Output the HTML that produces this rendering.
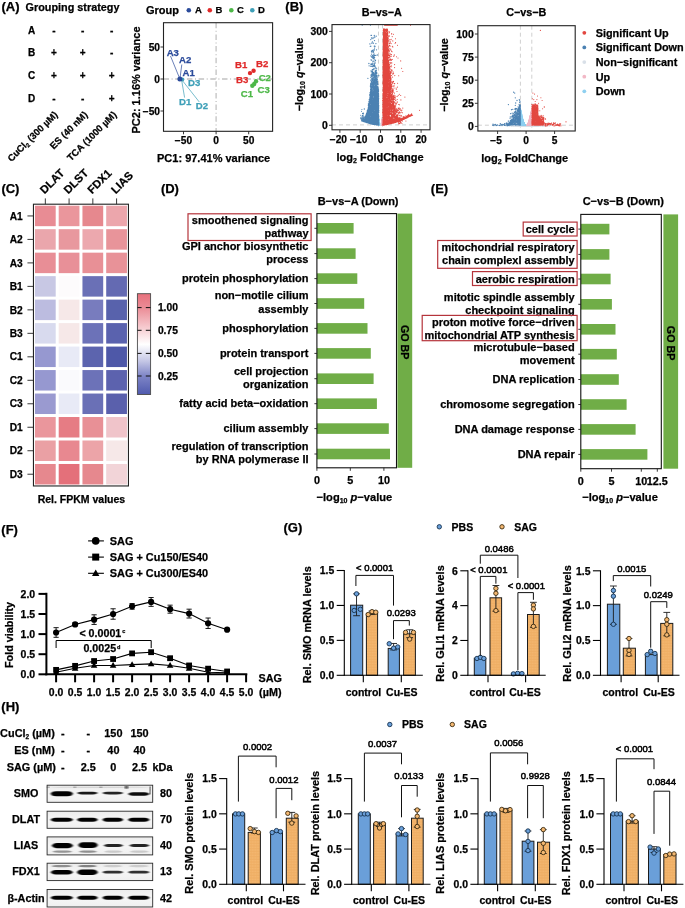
<!DOCTYPE html>
<html><head><meta charset="utf-8"><title>Figure</title>
<style>html,body{margin:0;padding:0;background:#fff}svg{display:block;opacity:0.9999}text{font-family:"Liberation Sans",Arial,sans-serif;stroke-width:0.25px;stroke-linejoin:round}</style>
</head><body>
<svg width="685" height="908" viewBox="0 0 685 908">
<defs>
<pattern id="ora" width="1.6" height="1.6" patternUnits="userSpaceOnUse"><rect width="1.6" height="1.6" fill="#F4B872"/><rect width="1.6" height="0.5" fill="#EDA85C"/><rect width="0.5" height="1.6" fill="#F0AE64"/></pattern>
<linearGradient id="cb" x1="0" y1="0" x2="0" y2="1"><stop offset="0.000" stop-color="#E8707C"/><stop offset="0.140" stop-color="#EB8C96"/><stop offset="0.321" stop-color="#F5C6CB"/><stop offset="0.502" stop-color="#FFFFFF"/><stop offset="0.665" stop-color="#C6C8E6"/><stop offset="0.819" stop-color="#7D84C6"/><stop offset="1.000" stop-color="#4F5AAE"/></linearGradient>
</defs>
<rect width="685" height="908" fill="#fff"/>
<text x="1.50" y="11.00" font-size="13" text-anchor="start" font-weight="bold" fill="#000" stroke="#000">(A)</text>
<text x="25.50" y="11.00" font-size="10.85" text-anchor="start" font-weight="bold" fill="#000" stroke="#000">Grouping strategy</text>
<text x="28.10" y="33.88" font-size="10" text-anchor="start" font-weight="bold" fill="#000" stroke="#000">A</text>
<text x="53.80" y="33.58" font-size="10" text-anchor="middle" font-weight="bold" fill="#000" stroke="#000">-</text>
<text x="82.60" y="33.58" font-size="10" text-anchor="middle" font-weight="bold" fill="#000" stroke="#000">-</text>
<text x="111.60" y="33.58" font-size="10" text-anchor="middle" font-weight="bold" fill="#000" stroke="#000">-</text>
<text x="28.10" y="56.38" font-size="10" text-anchor="start" font-weight="bold" fill="#000" stroke="#000">B</text>
<text x="53.80" y="56.38" font-size="10" text-anchor="middle" font-weight="bold" fill="#000" stroke="#000">+</text>
<text x="82.60" y="56.38" font-size="10" text-anchor="middle" font-weight="bold" fill="#000" stroke="#000">+</text>
<text x="111.60" y="56.08" font-size="10" text-anchor="middle" font-weight="bold" fill="#000" stroke="#000">-</text>
<text x="28.10" y="78.88" font-size="10" text-anchor="start" font-weight="bold" fill="#000" stroke="#000">C</text>
<text x="53.80" y="78.88" font-size="10" text-anchor="middle" font-weight="bold" fill="#000" stroke="#000">+</text>
<text x="82.60" y="78.88" font-size="10" text-anchor="middle" font-weight="bold" fill="#000" stroke="#000">+</text>
<text x="111.60" y="78.88" font-size="10" text-anchor="middle" font-weight="bold" fill="#000" stroke="#000">+</text>
<text x="28.10" y="101.88" font-size="10" text-anchor="start" font-weight="bold" fill="#000" stroke="#000">D</text>
<text x="53.80" y="101.58" font-size="10" text-anchor="middle" font-weight="bold" fill="#000" stroke="#000">-</text>
<text x="82.60" y="101.58" font-size="10" text-anchor="middle" font-weight="bold" fill="#000" stroke="#000">-</text>
<text x="111.60" y="101.88" font-size="10" text-anchor="middle" font-weight="bold" fill="#000" stroke="#000">+</text>
<text x="58.30" y="115.30" font-size="9.5" text-anchor="end" font-weight="bold" fill="#000" stroke="#000" transform="rotate(-45 58.30 115.30)">CuCl<tspan font-size="6" dy="1.8">2</tspan><tspan dy="-1.8"> (300 µM)</tspan></text>
<text x="88.20" y="115.30" font-size="9.5" text-anchor="end" font-weight="bold" fill="#000" stroke="#000" transform="rotate(-45 88.20 115.30)">ES (40 nM)</text>
<text x="117.20" y="115.30" font-size="9.5" text-anchor="end" font-weight="bold" fill="#000" stroke="#000" transform="rotate(-45 117.20 115.30)">TCA (1000 µM)</text>
<line x1="216.10" y1="22.70" x2="216.10" y2="131.30" stroke="#c2c2c2" stroke-width="1.3" stroke-dasharray="5.5 2.6 1 2.6"/>
<line x1="163.50" y1="79.00" x2="272.60" y2="79.00" stroke="#c2c2c2" stroke-width="1.3" stroke-dasharray="5.5 2.6 1 2.6"/>
<line x1="179.90" y1="79.00" x2="170.50" y2="56.00" stroke="#2B4B9B" stroke-width="0.7"/>
<line x1="179.90" y1="79.00" x2="181.80" y2="64.50" stroke="#2B4B9B" stroke-width="0.7"/>
<line x1="181.50" y1="79.40" x2="184.60" y2="97.60" stroke="#3FA0B8" stroke-width="0.7"/>
<line x1="181.50" y1="79.40" x2="199.30" y2="102.00" stroke="#3FA0B8" stroke-width="0.7"/>
<circle cx="182.30" cy="79.60" r="2.0" fill="#3FA0B8" stroke="none" stroke-width="1"/>
<circle cx="179.90" cy="79.00" r="2.5" fill="#2B4B9B" stroke="none" stroke-width="1"/>
<circle cx="250.00" cy="73.10" r="2.2" fill="#E02B2B" stroke="none" stroke-width="1"/>
<circle cx="253.60" cy="70.80" r="2.2" fill="#E02B2B" stroke="none" stroke-width="1"/>
<circle cx="252.30" cy="85.70" r="2.2" fill="#4DB848" stroke="none" stroke-width="1"/>
<circle cx="254.20" cy="84.00" r="2.2" fill="#4DB848" stroke="none" stroke-width="1"/>
<circle cx="256.00" cy="81.30" r="2.2" fill="#4DB848" stroke="none" stroke-width="1"/>
<text x="172.80" y="55.94" font-size="9.6" text-anchor="middle" font-weight="bold" fill="#2B4B9B" stroke="#2B4B9B">A3</text>
<text x="185.20" y="62.94" font-size="9.6" text-anchor="middle" font-weight="bold" fill="#2B4B9B" stroke="#2B4B9B">A2</text>
<text x="188.70" y="75.74" font-size="9.6" text-anchor="middle" font-weight="bold" fill="#2B4B9B" stroke="#2B4B9B">A1</text>
<text x="194.10" y="86.04" font-size="9.6" text-anchor="middle" font-weight="bold" fill="#3FA0B8" stroke="#3FA0B8">D3</text>
<text x="185.20" y="105.44" font-size="9.6" text-anchor="middle" font-weight="bold" fill="#3FA0B8" stroke="#3FA0B8">D1</text>
<text x="201.90" y="108.94" font-size="9.6" text-anchor="middle" font-weight="bold" fill="#3FA0B8" stroke="#3FA0B8">D2</text>
<text x="241.10" y="68.24" font-size="9.6" text-anchor="middle" font-weight="bold" fill="#E02B2B" stroke="#E02B2B">B1</text>
<text x="262.10" y="67.34" font-size="9.6" text-anchor="middle" font-weight="bold" fill="#E02B2B" stroke="#E02B2B">B2</text>
<text x="242.20" y="83.24" font-size="9.6" text-anchor="middle" font-weight="bold" fill="#E02B2B" stroke="#E02B2B">B3</text>
<text x="264.80" y="80.94" font-size="9.6" text-anchor="middle" font-weight="bold" fill="#4DB848" stroke="#4DB848">C2</text>
<text x="263.70" y="92.64" font-size="9.6" text-anchor="middle" font-weight="bold" fill="#4DB848" stroke="#4DB848">C3</text>
<text x="246.90" y="96.64" font-size="9.6" text-anchor="middle" font-weight="bold" fill="#4DB848" stroke="#4DB848">C1</text>
<rect x="163.50" y="22.70" width="109.10" height="108.60" fill="none" stroke="#222" stroke-width="1.1"/>
<line x1="183.50" y1="131.30" x2="183.50" y2="134.30" stroke="#222" stroke-width="0.9"/>
<text x="183.50" y="144.25" font-size="10.2" text-anchor="middle" font-weight="bold" fill="#000" stroke="#000">−50</text>
<line x1="160.50" y1="111.00" x2="163.50" y2="111.00" stroke="#222" stroke-width="0.9"/>
<text x="160.00" y="114.65" font-size="10.2" text-anchor="end" font-weight="bold" fill="#000" stroke="#000">−50</text>
<line x1="216.10" y1="131.30" x2="216.10" y2="134.30" stroke="#222" stroke-width="0.9"/>
<text x="216.10" y="144.25" font-size="10.2" text-anchor="middle" font-weight="bold" fill="#000" stroke="#000">0</text>
<line x1="160.50" y1="79.00" x2="163.50" y2="79.00" stroke="#222" stroke-width="0.9"/>
<text x="160.00" y="82.65" font-size="10.2" text-anchor="end" font-weight="bold" fill="#000" stroke="#000">0</text>
<line x1="248.70" y1="131.30" x2="248.70" y2="134.30" stroke="#222" stroke-width="0.9"/>
<text x="248.70" y="144.25" font-size="10.2" text-anchor="middle" font-weight="bold" fill="#000" stroke="#000">50</text>
<line x1="160.50" y1="47.00" x2="163.50" y2="47.00" stroke="#222" stroke-width="0.9"/>
<text x="160.00" y="50.65" font-size="10.2" text-anchor="end" font-weight="bold" fill="#000" stroke="#000">50</text>
<text x="213.60" y="162.30" font-size="11" text-anchor="middle" font-weight="bold" fill="#000" stroke="#000">PC1: 97.41% variance</text>
<text x="140.20" y="80.00" font-size="11" text-anchor="middle" font-weight="bold" fill="#000" stroke="#000" transform="rotate(-90 140.20 80.00)">PC2: 1.16% variance</text>
<text x="146.00" y="13.54" font-size="11" text-anchor="start" font-weight="bold" fill="#000" stroke="#000">Group</text>
<circle cx="188.80" cy="10.20" r="2.3" fill="#2B4B9B" stroke="none" stroke-width="1"/>
<text x="195.00" y="13.30" font-size="9.5" text-anchor="start" font-weight="bold" fill="#000" stroke="#000">A</text>
<circle cx="209.80" cy="10.20" r="2.3" fill="#E02B2B" stroke="none" stroke-width="1"/>
<text x="215.60" y="13.30" font-size="9.5" text-anchor="start" font-weight="bold" fill="#000" stroke="#000">B</text>
<circle cx="231.30" cy="10.20" r="2.3" fill="#4DB848" stroke="none" stroke-width="1"/>
<text x="237.00" y="13.30" font-size="9.5" text-anchor="start" font-weight="bold" fill="#000" stroke="#000">C</text>
<circle cx="252.30" cy="10.20" r="2.3" fill="#3FA0B8" stroke="none" stroke-width="1"/>
<text x="258.00" y="13.30" font-size="9.5" text-anchor="start" font-weight="bold" fill="#000" stroke="#000">D</text>
<text x="285.30" y="11.00" font-size="13" text-anchor="start" font-weight="bold" fill="#000" stroke="#000">(B)</text>
<line x1="332.00" y1="124.89" x2="430.00" y2="124.89" stroke="#d0d0d0" stroke-width="1" stroke-dasharray="4 3"/>
<line x1="378.47" y1="24.60" x2="378.47" y2="129.80" stroke="#d0d0d0" stroke-width="1" stroke-dasharray="4 3"/>
<line x1="382.53" y1="24.60" x2="382.53" y2="129.80" stroke="#d0d0d0" stroke-width="1" stroke-dasharray="4 3"/>
<path d="M379.8 124.9h.01M381.1 125.1h.01M380.6 125.2h.01M378.7 120.0h.01M378.6 120.5h.01M378.8 124.4h.01M380.2 124.7h.01M379.0 123.5h.01M381.0 123.8h.01M380.8 125.0h.01M382.4 124.8h.01M382.0 123.1h.01M379.1 124.4h.01M379.7 122.9h.01M379.2 121.6h.01M381.1 124.6h.01M380.7 125.3h.01M378.7 123.2h.01M381.2 124.1h.01M379.7 123.6h.01M380.3 125.2h.01M381.7 121.3h.01M379.5 122.7h.01M380.6 125.2h.01M381.4 124.2h.01M382.4 123.9h.01M380.2 124.7h.01M379.1 121.7h.01M378.6 117.9h.01M381.6 122.5h.01M382.0 122.7h.01M381.3 123.5h.01M380.8 124.9h.01M381.9 118.7h.01M380.4 125.2h.01M378.7 118.1h.01M381.1 123.3h.01M381.8 123.5h.01M380.0 124.4h.01M378.6 119.9h.01M379.2 124.5h.01M378.7 117.3h.01M379.0 123.3h.01M380.1 124.2h.01M378.8 121.0h.01M380.7 125.0h.01M381.8 119.8h.01M379.6 123.8h.01M379.9 123.6h.01M382.4 123.6h.01M379.2 123.8h.01M379.4 122.9h.01M380.9 125.1h.01M378.5 120.1h.01M380.0 124.4h.01M382.3 117.8h.01M380.6 125.3h.01M381.2 125.2h.01M382.1 118.3h.01M382.0 118.8h.01M380.1 124.8h.01M378.9 119.7h.01M378.7 124.6h.01M379.3 124.4h.01M379.9 125.2h.01M378.5 123.4h.01M378.9 122.1h.01M378.6 115.2h.01M381.0 125.1h.01M379.5 123.8h.01M379.9 125.1h.01M381.9 118.1h.01M380.4 125.2h.01M378.8 124.3h.01M379.9 124.7h.01M381.8 124.2h.01M378.6 114.2h.01M380.6 125.3h.01M380.7 125.3h.01M380.6 125.1h.01M382.0 119.9h.01M379.5 123.8h.01M379.1 120.0h.01M380.6 125.1h.01M379.8 124.7h.01M381.8 119.2h.01M381.9 119.3h.01M381.8 120.6h.01M379.4 122.7h.01M379.9 125.2h.01M378.6 122.1h.01M379.5 122.4h.01M382.4 120.4h.01M382.3 115.2h.01M382.3 121.3h.01M379.4 124.1h.01M379.3 124.1h.01M381.0 123.9h.01M381.9 121.9h.01M381.1 123.6h.01M378.8 119.0h.01M382.2 118.0h.01M381.5 123.2h.01M379.2 120.2h.01M379.8 123.4h.01M382.4 120.8h.01M380.1 124.3h.01M381.4 124.7h.01M379.0 124.1h.01M382.1 117.9h.01M379.1 119.1h.01M382.5 117.6h.01M379.9 124.2h.01M379.0 125.2h.01M382.4 117.9h.01M380.6 125.2h.01M380.2 124.8h.01M381.8 123.9h.01M379.5 124.0h.01M379.4 122.6h.01M379.5 123.5h.01M379.0 118.1h.01M379.9 124.4h.01M380.8 124.5h.01M380.2 124.6h.01M380.5 125.3h.01M380.6 125.3h.01M380.3 125.2h.01M378.5 115.4h.01M379.2 122.2h.01M381.4 123.2h.01M379.8 124.0h.01M380.7 124.9h.01M378.9 120.4h.01M379.5 124.1h.01M381.6 122.7h.01M380.8 124.9h.01M382.2 121.1h.01M381.0 124.6h.01M380.5 125.3h.01M380.3 125.1h.01M380.4 125.2h.01M381.3 122.5h.01M382.3 122.6h.01M380.7 124.8h.01M381.9 124.3h.01M379.0 121.7h.01M378.8 122.9h.01M378.8 118.7h.01M381.7 120.5h.01M379.1 120.1h.01M381.2 125.0h.01M382.1 117.2h.01M379.4 120.3h.01M380.1 124.7h.01M382.5 115.2h.01M379.1 122.3h.01M380.6 125.3h.01M379.3 123.4h.01M381.4 125.2h.01M380.7 125.1h.01M378.5 121.4h.01M381.0 124.5h.01M378.7 115.3h.01M381.7 120.0h.01M378.9 123.0h.01M378.6 116.7h.01M379.6 124.8h.01M380.2 124.6h.01M381.8 123.7h.01M379.1 118.5h.01M380.8 124.8h.01M378.8 124.8h.01M381.3 124.1h.01M378.8 116.0h.01M381.0 123.9h.01M378.8 117.2h.01M378.7 116.6h.01M380.3 125.2h.01M380.7 124.9h.01M379.6 124.8h.01M380.6 125.3h.01M378.9 123.9h.01M378.7 123.1h.01M379.7 124.4h.01M381.6 123.9h.01M380.5 125.3h.01M379.9 125.3h.01M379.5 125.2h.01M381.4 123.1h.01M379.2 122.4h.01M382.3 124.2h.01M381.8 122.5h.01M380.5 125.3h.01M380.1 124.7h.01M381.3 122.5h.01M379.9 123.5h.01M381.3 123.2h.01M380.1 124.9h.01M378.7 123.9h.01M378.8 117.9h.01M379.5 124.6h.01M378.8 117.3h.01M382.0 119.9h.01M379.6 124.4h.01M379.7 123.8h.01M379.1 122.1h.01M379.5 121.4h.01M382.4 119.0h.01M379.5 120.9h.01M379.7 124.3h.01M378.5 120.5h.01M380.4 125.2h.01M379.3 122.4h.01M378.5 122.0h.01M378.8 121.6h.01M378.6 125.1h.01M379.7 124.6h.01M380.8 124.8h.01M381.5 122.4h.01M381.4 122.2h.01M380.1 124.9h.01M382.5 123.5h.01M381.4 122.9h.01M378.6 116.2h.01M382.1 119.8h.01M381.4 122.0h.01M379.0 121.3h.01M380.5 125.3h.01M381.7 120.4h.01M380.8 124.5h.01M381.2 123.4h.01M379.4 125.1h.01M379.0 122.5h.01M378.9 117.9h.01M380.7 125.0h.01M381.0 124.2h.01M380.5 125.3h.01M381.7 121.0h.01M380.5 125.3h.01M381.1 125.2h.01M381.5 124.3h.01M378.8 122.7h.01M381.4 124.5h.01M381.5 121.2h.01M380.5 125.3h.01M380.4 125.2h.01M381.6 122.3h.01M381.1 125.2h.01M379.1 123.4h.01" stroke="#D9E0E8" stroke-width="1.0" stroke-linecap="round" fill="none" opacity="1"/>
<path d="M379.2 123.6h.01M379.0 125.2h.01M378.5 123.8h.01M379.2 121.4h.01M379.2 123.7h.01M379.0 122.7h.01M378.9 124.6h.01M379.4 124.2h.01M379.5 120.0h.01M378.5 122.7h.01M379.3 119.8h.01M378.9 123.8h.01M378.7 120.0h.01M378.7 122.0h.01M378.6 122.3h.01M379.4 124.6h.01M379.3 122.4h.01M379.4 121.3h.01M378.7 120.2h.01M379.0 125.2h.01M378.5 122.5h.01M378.9 123.6h.01M378.6 123.4h.01M378.8 120.6h.01M378.5 121.1h.01M379.3 124.6h.01M379.4 121.3h.01M379.4 123.7h.01M378.8 123.1h.01M379.5 122.0h.01M378.8 122.9h.01M378.7 125.0h.01M378.6 120.6h.01M378.8 120.0h.01M378.7 123.8h.01M379.0 124.2h.01M378.8 119.9h.01M379.4 120.7h.01M379.1 120.2h.01M379.4 122.2h.01M379.2 125.0h.01M379.2 122.8h.01M379.2 121.7h.01M378.8 125.0h.01M379.4 124.6h.01M378.9 123.4h.01M378.8 121.1h.01M379.5 123.8h.01M379.1 123.6h.01M379.0 123.1h.01M378.6 124.4h.01M378.7 120.2h.01M379.0 124.1h.01M379.4 119.7h.01M378.9 124.5h.01M378.7 124.8h.01M378.8 124.8h.01M378.7 123.8h.01M379.0 120.3h.01M379.2 123.0h.01M378.9 122.3h.01M378.9 123.4h.01M378.5 123.7h.01M379.5 124.6h.01M379.0 121.8h.01M379.3 124.1h.01M378.7 123.9h.01M378.9 122.8h.01M379.4 120.5h.01M379.4 125.2h.01M378.5 121.3h.01M379.4 122.6h.01M379.1 125.3h.01M378.9 120.1h.01M379.3 120.5h.01M379.5 123.9h.01M378.6 124.4h.01M379.0 121.5h.01M379.4 121.2h.01M379.1 121.0h.01M378.9 122.2h.01M378.5 120.9h.01M378.7 120.1h.01M379.1 123.6h.01M378.6 123.9h.01M379.1 121.4h.01M378.6 124.9h.01M379.0 122.0h.01M378.9 124.0h.01M379.1 125.2h.01M378.8 122.7h.01M379.4 121.7h.01M379.4 122.6h.01M378.7 123.9h.01M379.4 121.3h.01M378.8 125.2h.01M379.0 121.5h.01M378.9 123.9h.01M379.1 120.1h.01M378.7 125.1h.01M378.8 122.9h.01M379.2 124.2h.01M379.3 121.1h.01M379.0 124.1h.01M379.5 123.5h.01M379.3 124.0h.01M378.7 121.0h.01M378.8 119.9h.01M379.0 124.2h.01M378.7 123.0h.01M379.1 120.0h.01M378.6 123.1h.01M378.7 119.8h.01M378.6 125.0h.01M378.5 123.1h.01M379.4 120.3h.01M379.2 119.7h.01M379.4 123.4h.01M378.7 120.0h.01M379.2 125.1h.01" stroke="#8FD0F0" stroke-width="0.9" stroke-linecap="round" fill="none" opacity="1"/>
<path d="M382.2 123.2h.01M381.9 123.4h.01M381.7 125.3h.01M381.8 123.3h.01M382.5 124.6h.01M382.5 124.1h.01M381.9 120.7h.01M382.3 122.9h.01M381.6 122.6h.01M381.9 120.1h.01M381.7 123.2h.01M382.4 125.1h.01M381.9 120.7h.01M382.3 125.1h.01M381.6 124.9h.01M382.4 123.9h.01M382.3 120.2h.01M381.9 123.8h.01M382.5 121.8h.01M381.8 121.3h.01M381.8 123.7h.01M381.5 121.0h.01M382.4 121.7h.01M382.5 125.2h.01M381.8 122.6h.01M382.5 119.9h.01M381.9 123.9h.01M382.0 122.5h.01M382.5 124.3h.01M382.3 121.1h.01M382.4 120.9h.01M382.1 123.5h.01M381.8 123.3h.01M382.3 124.9h.01M381.7 121.1h.01M381.8 124.9h.01M381.5 122.2h.01M381.8 119.8h.01M382.4 119.7h.01M381.8 124.8h.01M381.6 122.5h.01M382.2 122.8h.01M381.8 123.0h.01M382.1 121.5h.01M382.3 120.5h.01M382.2 124.6h.01M382.4 123.6h.01M382.1 123.2h.01M382.3 124.2h.01M381.8 123.9h.01M381.7 120.3h.01M382.1 123.5h.01M381.9 119.7h.01M382.0 124.0h.01M382.3 121.6h.01M382.5 124.7h.01M382.0 120.7h.01M382.4 120.1h.01M381.6 123.6h.01M381.6 124.2h.01M382.5 122.0h.01M382.5 123.2h.01M382.4 122.8h.01M381.8 120.9h.01M382.5 124.7h.01M382.1 121.8h.01M381.7 123.2h.01M381.7 124.2h.01M381.8 121.9h.01M382.2 124.2h.01M381.5 123.5h.01M382.2 124.3h.01M381.8 124.2h.01M382.3 122.2h.01M381.6 124.7h.01M381.9 122.2h.01M382.2 124.8h.01M381.7 121.4h.01M381.9 123.7h.01M381.8 119.9h.01M381.8 122.1h.01M381.9 123.0h.01M382.4 119.7h.01M381.9 124.2h.01M382.3 124.2h.01M381.5 120.2h.01M381.9 120.7h.01M381.9 120.3h.01M382.0 124.4h.01M381.5 122.2h.01M382.2 120.2h.01M381.6 121.8h.01M381.9 122.5h.01M381.7 123.7h.01M382.0 120.1h.01M381.6 122.5h.01M382.3 119.9h.01M381.7 124.6h.01M382.5 119.8h.01M382.0 125.0h.01M382.5 123.1h.01M382.4 121.8h.01M382.4 124.4h.01M382.3 124.0h.01M381.9 120.5h.01M382.4 124.3h.01M381.7 123.0h.01M382.0 123.1h.01M381.6 123.9h.01M382.3 120.2h.01M381.6 122.1h.01M382.3 125.1h.01M382.4 124.6h.01M382.1 122.2h.01M382.2 123.6h.01M381.9 122.0h.01M381.9 121.6h.01M382.0 122.8h.01M381.5 121.8h.01M382.0 124.0h.01" stroke="#F2B8C6" stroke-width="0.9" stroke-linecap="round" fill="none" opacity="1"/>
<path d="M368.3 118.3h.01M378.1 107.9h.01M376.0 89.6h.01M378.5 109.4h.01M378.1 114.0h.01M378.0 109.4h.01M375.8 109.1h.01M362.1 118.6h.01M377.2 119.9h.01M363.1 121.1h.01M365.4 119.1h.01M377.5 118.0h.01M375.7 122.3h.01M368.8 109.1h.01M377.0 95.0h.01M376.8 80.3h.01M370.6 92.0h.01M372.1 92.5h.01M374.8 88.5h.01M371.0 121.6h.01M369.3 112.0h.01M375.6 113.8h.01M376.5 119.3h.01M371.8 103.0h.01M377.6 106.6h.01M376.2 120.0h.01M366.4 114.1h.01M378.3 100.7h.01M376.8 79.8h.01M369.0 109.5h.01M377.3 89.8h.01M375.4 72.4h.01M376.3 87.8h.01M377.5 112.3h.01M374.6 113.6h.01M378.2 97.1h.01M374.2 86.8h.01M376.7 104.9h.01M373.5 75.6h.01M374.5 114.4h.01M367.2 122.3h.01M375.3 110.2h.01M378.3 96.7h.01M368.1 110.9h.01M377.4 90.6h.01M369.2 114.2h.01M376.8 92.9h.01M366.3 122.1h.01M378.7 116.7h.01M371.3 107.6h.01M377.3 107.1h.01M376.1 80.6h.01M370.3 117.8h.01M374.2 98.3h.01M371.1 106.4h.01M366.9 114.2h.01M371.3 95.5h.01M372.6 96.7h.01M367.0 122.0h.01M370.6 96.8h.01M371.0 113.8h.01M369.8 107.8h.01M367.6 116.1h.01M376.4 111.7h.01M374.4 95.2h.01M378.6 90.8h.01M371.0 87.8h.01M377.4 79.0h.01M371.5 116.0h.01M374.0 83.9h.01M371.3 103.2h.01M371.4 83.9h.01M362.0 120.8h.01M372.1 79.9h.01M370.6 119.8h.01M377.9 99.5h.01M372.9 87.0h.01M378.6 105.9h.01M376.9 97.8h.01M369.3 101.1h.01M369.8 109.1h.01M375.3 105.4h.01M375.2 118.6h.01M371.1 95.5h.01M372.2 86.4h.01M372.6 94.6h.01M378.3 124.7h.01M377.2 119.3h.01M376.1 108.8h.01M375.4 123.7h.01M373.1 95.4h.01M378.2 114.0h.01M369.7 119.0h.01M375.5 102.8h.01M370.4 104.6h.01M376.8 78.4h.01M370.4 98.2h.01M376.3 122.0h.01M374.2 107.4h.01M375.4 114.4h.01M378.0 101.4h.01M377.1 117.6h.01M371.3 106.5h.01M369.7 107.5h.01M377.5 96.8h.01M377.7 120.8h.01M377.2 91.6h.01M376.9 91.9h.01M370.2 93.8h.01M377.8 124.2h.01M368.9 104.1h.01M377.2 106.3h.01M378.1 114.1h.01M375.8 79.8h.01M369.4 119.1h.01M377.8 107.5h.01M375.2 112.9h.01M373.4 106.1h.01M374.4 117.8h.01M366.9 121.9h.01M367.9 116.2h.01M376.2 107.1h.01M377.8 113.7h.01M371.7 116.6h.01M375.5 97.4h.01M372.8 105.2h.01M376.7 123.3h.01M374.6 104.3h.01M378.3 124.6h.01M365.1 118.8h.01M377.9 109.7h.01M373.1 116.8h.01M369.0 114.1h.01M376.6 123.8h.01M375.1 115.7h.01M374.4 124.6h.01M376.2 98.8h.01M372.4 105.7h.01M377.0 102.6h.01M371.7 123.6h.01M372.0 95.7h.01M372.7 89.6h.01M370.2 119.7h.01M370.2 96.1h.01M373.5 102.7h.01M376.3 107.7h.01M378.0 110.8h.01M375.8 121.0h.01M377.0 103.8h.01M373.2 72.5h.01M377.1 99.1h.01M373.3 106.1h.01M375.9 114.8h.01M372.0 82.9h.01M366.0 122.2h.01M376.9 76.4h.01M369.0 122.8h.01M372.3 96.5h.01M378.1 102.4h.01M371.1 92.4h.01M369.9 113.0h.01M366.7 119.0h.01M373.0 94.3h.01M369.9 106.5h.01M376.8 111.1h.01M378.4 108.7h.01M377.6 107.7h.01M369.4 110.5h.01M372.0 74.1h.01M368.7 115.0h.01M375.7 103.7h.01M372.1 114.1h.01M373.8 79.0h.01M368.8 101.6h.01M374.6 109.4h.01M371.5 116.8h.01M370.6 102.0h.01M371.0 110.0h.01M375.5 95.2h.01M375.9 120.2h.01M374.0 120.3h.01M368.0 109.2h.01M369.5 114.7h.01M374.2 100.1h.01M370.2 114.0h.01M371.2 122.0h.01M376.5 82.0h.01M369.7 123.1h.01M369.8 114.8h.01M372.2 113.3h.01M372.1 116.1h.01M374.2 115.1h.01M378.0 118.2h.01M365.8 118.6h.01M375.6 114.7h.01M376.5 111.4h.01M375.6 100.2h.01M367.6 114.2h.01M374.5 82.6h.01M371.5 119.7h.01M373.0 123.0h.01M367.8 112.5h.01M372.7 123.3h.01M378.0 95.3h.01M377.1 76.5h.01M377.9 124.4h.01M377.9 121.5h.01M372.7 97.0h.01M378.4 93.7h.01M367.6 121.1h.01M373.9 85.8h.01M375.7 123.4h.01M368.0 123.0h.01M378.1 120.0h.01M372.6 100.7h.01M378.7 108.4h.01M373.7 103.4h.01M372.5 90.8h.01M373.1 103.2h.01M371.3 104.2h.01M366.0 120.9h.01M368.1 119.8h.01M374.1 101.7h.01M376.2 112.8h.01M369.7 106.1h.01M368.6 112.8h.01M376.1 119.7h.01M373.7 105.8h.01M365.8 119.9h.01M366.1 119.8h.01M376.9 111.7h.01M366.8 115.7h.01M377.9 102.4h.01M372.6 94.5h.01M376.0 123.4h.01M377.2 107.6h.01M372.5 97.7h.01M372.1 86.1h.01M376.3 118.5h.01M371.4 122.0h.01M373.5 108.0h.01M373.4 93.3h.01M373.9 103.1h.01M378.5 91.1h.01M374.0 124.4h.01M374.1 91.6h.01M374.7 102.3h.01M364.6 120.8h.01M376.8 111.5h.01M366.2 119.4h.01M376.1 124.3h.01M378.2 93.3h.01M374.7 82.2h.01M363.0 121.4h.01M375.7 112.7h.01M374.8 97.8h.01M367.0 114.2h.01M377.6 106.9h.01M361.6 120.3h.01M370.2 102.6h.01M364.8 121.9h.01M366.2 114.4h.01M377.2 82.7h.01M375.7 115.4h.01M370.7 112.4h.01M378.1 97.8h.01M377.6 108.2h.01M378.6 115.4h.01M377.6 116.8h.01M370.6 95.8h.01M364.5 121.5h.01M371.2 86.9h.01M370.0 120.7h.01M373.1 120.1h.01M377.8 113.7h.01M372.7 116.7h.01M371.6 90.8h.01M377.3 91.6h.01M375.2 120.6h.01M370.5 101.0h.01M370.9 88.4h.01M377.3 115.1h.01M376.7 108.1h.01M369.0 103.2h.01M363.2 121.3h.01M373.5 82.9h.01M369.8 99.8h.01M377.9 102.1h.01M372.2 72.0h.01M369.6 106.3h.01M374.6 95.6h.01M369.7 118.5h.01M378.5 94.3h.01M376.9 108.8h.01M374.0 94.9h.01M376.9 112.1h.01M372.8 83.9h.01M372.5 82.7h.01M371.1 101.8h.01M371.4 76.5h.01M369.8 108.0h.01M374.8 120.4h.01M376.4 92.1h.01M375.0 109.8h.01M377.9 109.6h.01M374.8 121.4h.01M375.1 116.6h.01M362.6 120.0h.01M374.0 109.5h.01M376.4 124.4h.01M378.1 93.4h.01M377.5 79.2h.01M377.5 116.2h.01M373.9 111.9h.01M378.2 116.3h.01M377.0 81.4h.01M374.4 108.7h.01M378.0 105.1h.01M369.2 112.4h.01M377.6 117.7h.01M364.0 120.2h.01M372.2 120.6h.01M369.4 104.6h.01M376.4 96.9h.01M368.8 106.4h.01M365.9 119.9h.01M375.3 82.5h.01M375.7 97.4h.01M375.5 113.9h.01M374.6 106.2h.01M377.2 77.6h.01M369.2 120.4h.01M363.9 121.7h.01M376.3 115.5h.01M368.3 110.6h.01M375.0 109.8h.01M375.4 123.9h.01M374.7 88.9h.01M371.7 124.1h.01M378.0 110.3h.01M377.8 89.2h.01M377.4 99.5h.01M374.9 86.1h.01M372.0 111.7h.01M372.9 94.6h.01M374.5 113.2h.01M377.2 100.6h.01M374.1 104.1h.01M375.7 75.7h.01M374.2 111.2h.01M369.3 99.3h.01M378.6 91.8h.01M373.4 121.6h.01M372.0 106.5h.01M377.5 88.0h.01M376.6 91.5h.01M372.6 102.7h.01M372.1 120.1h.01M369.4 117.5h.01M369.3 118.9h.01M377.6 122.9h.01M371.8 118.3h.01M368.1 108.9h.01M366.4 118.9h.01M375.3 113.0h.01M376.2 117.0h.01M374.0 104.4h.01M367.0 119.0h.01M375.1 109.0h.01M374.8 90.8h.01M378.3 112.1h.01M365.8 120.8h.01M376.3 124.1h.01M377.1 75.3h.01M374.5 111.5h.01M367.2 110.5h.01M374.1 109.7h.01M373.6 102.9h.01M369.4 102.6h.01M375.9 87.1h.01M373.7 104.9h.01M372.1 123.1h.01M366.4 113.6h.01M377.5 119.9h.01M369.4 101.0h.01M371.2 88.1h.01M369.1 115.9h.01M377.7 105.7h.01M374.7 99.6h.01M374.0 93.4h.01M376.1 112.9h.01M375.5 81.0h.01M375.7 119.0h.01M371.1 100.3h.01M372.0 112.2h.01M377.0 111.0h.01M373.7 114.4h.01M378.0 105.3h.01M372.8 91.6h.01M375.1 92.6h.01M370.7 120.1h.01M372.7 75.8h.01M372.5 101.2h.01M378.2 98.4h.01M370.1 122.6h.01M378.5 104.2h.01M370.6 122.2h.01M376.8 113.5h.01M371.3 81.3h.01M365.2 121.6h.01M366.9 112.8h.01M376.1 97.0h.01M376.8 116.8h.01M371.2 108.4h.01M377.6 97.1h.01M375.6 124.5h.01M377.8 111.3h.01M378.3 105.0h.01M372.0 89.1h.01M377.1 93.9h.01M378.3 96.7h.01M373.2 91.6h.01M376.9 86.5h.01M370.5 106.7h.01M377.2 119.6h.01M369.5 103.8h.01M370.3 95.0h.01M377.9 107.1h.01M376.7 116.4h.01M377.0 103.4h.01M377.2 113.0h.01M373.8 109.5h.01M371.9 98.6h.01M376.5 111.6h.01M378.4 104.4h.01M373.5 101.2h.01M374.5 88.0h.01M378.5 99.9h.01M377.5 100.7h.01M376.1 99.2h.01M366.1 118.5h.01M378.3 98.9h.01M371.2 115.5h.01M371.1 114.8h.01M371.2 97.4h.01M378.3 93.3h.01M367.0 120.4h.01M377.6 92.0h.01M376.2 100.3h.01M377.5 114.1h.01M371.2 120.6h.01M372.4 106.3h.01M378.7 102.5h.01M378.1 99.4h.01M370.5 121.1h.01M372.5 88.2h.01M370.8 95.1h.01M374.9 116.0h.01M367.7 117.8h.01M373.4 123.8h.01M368.1 120.6h.01M378.1 107.1h.01M374.1 116.1h.01M372.7 89.5h.01M373.4 81.2h.01M367.6 110.8h.01M373.3 114.1h.01M375.8 102.9h.01M377.0 94.6h.01M377.1 115.2h.01M374.5 97.0h.01M376.9 102.6h.01M377.3 122.0h.01M371.8 119.9h.01M377.2 118.2h.01M371.1 107.4h.01M377.7 120.4h.01M378.5 94.9h.01M377.5 99.1h.01M376.4 88.3h.01M376.0 107.7h.01M371.0 75.4h.01M378.0 117.9h.01M377.5 111.4h.01M375.3 108.5h.01M371.8 74.7h.01M372.4 114.3h.01M377.1 97.5h.01M378.4 90.3h.01M377.2 99.9h.01M369.0 114.1h.01M367.2 118.9h.01M375.8 117.6h.01M376.5 101.1h.01M375.8 110.9h.01M374.3 80.9h.01M369.3 113.7h.01M371.6 123.7h.01M377.6 109.0h.01M373.7 85.4h.01M375.9 92.1h.01M375.3 80.7h.01M373.4 93.9h.01M366.8 121.1h.01M376.7 105.9h.01M376.1 105.7h.01M372.9 106.5h.01M376.6 92.2h.01M373.9 106.7h.01M376.5 85.8h.01M368.8 107.4h.01M362.0 119.3h.01M378.1 119.8h.01M374.0 100.0h.01M372.2 124.0h.01M370.3 102.2h.01M376.6 78.9h.01M373.5 85.8h.01M373.7 103.6h.01M375.5 111.5h.01M377.7 88.4h.01M371.6 88.3h.01M378.0 97.6h.01M373.8 108.6h.01M374.6 96.1h.01M378.3 112.3h.01M377.9 105.2h.01M371.6 110.9h.01M378.2 118.1h.01M372.1 87.4h.01M377.9 104.5h.01M377.6 118.6h.01M378.3 118.7h.01M374.3 76.4h.01M376.8 95.3h.01M369.4 122.1h.01M371.3 121.6h.01M372.7 92.4h.01M371.8 102.1h.01M375.9 89.1h.01M365.7 117.4h.01M378.0 112.9h.01M370.5 110.9h.01M377.0 115.4h.01M375.9 94.1h.01M378.0 88.4h.01M372.5 88.1h.01M373.2 99.6h.01M378.0 104.0h.01M368.7 115.8h.01M378.5 123.9h.01M369.6 109.1h.01M378.6 119.4h.01M375.4 115.5h.01M377.8 108.0h.01M369.9 121.6h.01M376.4 84.9h.01M378.8 112.4h.01M376.2 92.5h.01M376.3 104.3h.01M374.1 73.9h.01M368.3 107.3h.01M377.0 81.5h.01M374.9 98.7h.01M373.9 98.1h.01M378.3 125.1h.01M370.8 111.3h.01M371.9 113.9h.01M377.0 103.1h.01M367.9 122.5h.01M368.9 118.3h.01M374.3 102.6h.01M378.2 105.1h.01M372.6 123.4h.01M377.2 97.1h.01M372.1 74.3h.01M375.0 107.1h.01M378.2 92.5h.01M376.7 100.2h.01M374.4 123.5h.01M370.3 123.1h.01M367.2 112.0h.01M371.4 102.9h.01M375.3 84.1h.01M375.7 122.4h.01M377.2 92.2h.01M376.9 116.3h.01M369.0 112.8h.01M377.2 114.4h.01M377.7 112.8h.01M365.8 119.7h.01M375.0 93.8h.01M369.6 121.7h.01M372.1 101.4h.01M375.0 114.5h.01M375.5 82.9h.01M373.8 81.5h.01M377.0 112.7h.01M378.7 107.5h.01M378.2 125.0h.01M370.9 113.2h.01M378.0 91.6h.01M378.1 118.4h.01M373.0 110.5h.01M372.1 111.1h.01M376.4 117.5h.01M369.4 116.6h.01M364.4 118.6h.01M376.3 107.1h.01M378.3 89.8h.01M372.7 108.0h.01M376.2 122.3h.01M378.0 86.3h.01M373.8 109.1h.01M370.6 93.3h.01M373.0 93.1h.01M377.5 123.1h.01M369.8 97.0h.01M372.6 108.9h.01M376.7 107.4h.01M377.8 122.5h.01M375.0 114.3h.01M378.0 121.4h.01M362.0 119.2h.01M377.2 96.0h.01M377.7 96.4h.01M370.7 118.1h.01M375.1 95.5h.01M371.7 91.6h.01M367.7 117.9h.01M376.1 99.2h.01M373.6 92.0h.01M374.3 112.7h.01M371.0 95.1h.01M371.7 103.0h.01M361.9 120.3h.01M377.0 78.3h.01M377.3 122.8h.01M378.2 117.4h.01M376.6 86.3h.01M367.4 118.9h.01M372.1 96.6h.01M378.3 115.8h.01M378.1 106.1h.01M370.7 77.5h.01M375.7 88.9h.01M376.0 90.1h.01M373.3 91.0h.01M377.9 109.0h.01M374.6 123.0h.01M370.4 95.4h.01M377.5 98.7h.01M378.5 98.2h.01M374.2 105.2h.01M378.4 103.1h.01M373.4 110.7h.01M366.0 115.9h.01M376.3 104.8h.01M368.7 105.7h.01M378.0 105.3h.01M378.7 123.4h.01M375.4 113.1h.01M377.8 96.9h.01M366.0 118.9h.01M373.2 82.0h.01M376.5 110.9h.01M378.6 124.5h.01M372.9 109.4h.01M376.3 123.1h.01M374.7 116.6h.01M372.9 110.0h.01M373.2 113.8h.01M374.0 95.9h.01M372.3 107.9h.01M374.6 109.8h.01M371.4 123.2h.01M374.1 109.9h.01M371.9 92.7h.01M373.1 107.4h.01M378.0 121.5h.01M370.9 104.0h.01M377.2 91.4h.01M376.4 87.4h.01M377.9 107.1h.01M368.5 104.6h.01M370.6 108.1h.01M377.5 118.1h.01M376.9 109.8h.01M376.3 103.5h.01M374.6 94.6h.01M377.1 83.0h.01M377.0 101.3h.01M377.7 120.5h.01M375.6 94.6h.01M371.0 119.2h.01M376.0 106.6h.01M375.9 116.6h.01M375.2 119.8h.01M374.0 104.2h.01M367.8 122.2h.01M376.2 115.0h.01M374.6 103.9h.01M369.2 108.8h.01M374.5 112.5h.01M370.1 107.5h.01M373.2 122.2h.01M374.4 108.6h.01M374.4 117.5h.01M373.2 80.8h.01M377.7 118.5h.01M378.3 95.8h.01M372.8 86.1h.01M378.2 111.4h.01M378.1 108.3h.01M374.1 115.9h.01M365.4 119.9h.01M376.6 90.8h.01M375.8 124.3h.01M377.3 100.8h.01M375.1 109.4h.01M376.6 82.2h.01M375.8 121.2h.01M378.2 94.6h.01M374.6 107.5h.01M375.7 112.2h.01M370.6 123.0h.01M376.1 82.2h.01M376.1 111.5h.01M371.8 98.7h.01M371.6 119.5h.01M368.7 107.2h.01M375.6 83.0h.01M378.4 114.1h.01M377.4 112.6h.01M370.7 123.1h.01M371.0 115.3h.01M377.5 99.8h.01M376.5 123.0h.01M377.9 87.3h.01M372.4 105.5h.01M370.6 97.9h.01M373.3 82.8h.01M372.1 81.0h.01M376.3 112.1h.01M377.8 111.3h.01M377.3 120.7h.01M363.9 119.4h.01M373.3 103.9h.01M374.9 95.9h.01M374.5 117.1h.01M378.0 115.5h.01M360.7 115.3h.01M376.4 110.0h.01M369.0 108.8h.01M375.4 86.6h.01M377.9 110.6h.01M377.4 90.4h.01M370.3 96.1h.01M374.3 79.6h.01M368.8 123.2h.01M375.4 101.7h.01M372.7 93.1h.01M378.2 100.0h.01M370.4 111.0h.01M374.8 112.6h.01M373.9 87.0h.01M374.4 89.8h.01M377.7 115.0h.01M370.5 92.5h.01M372.8 121.7h.01M378.2 91.1h.01M373.9 108.8h.01M375.6 88.7h.01M376.1 109.2h.01M376.1 94.4h.01M371.2 96.9h.01M369.8 109.1h.01M370.8 108.5h.01M371.7 111.7h.01M377.5 91.4h.01M375.4 79.4h.01M378.0 122.2h.01M376.7 112.0h.01M378.1 116.6h.01M374.2 97.2h.01M371.4 113.4h.01M375.2 119.9h.01M378.3 123.0h.01M373.4 123.6h.01M372.7 97.2h.01M377.6 115.5h.01M377.5 94.4h.01M369.6 101.6h.01M374.5 108.2h.01M365.8 118.8h.01M373.7 94.4h.01M367.2 120.8h.01M377.9 102.5h.01M368.9 120.7h.01M363.5 118.9h.01M366.7 120.4h.01M367.3 120.2h.01M375.7 121.6h.01M377.6 123.8h.01M366.3 122.0h.01M375.5 94.4h.01M375.4 96.7h.01M374.8 116.5h.01M367.8 118.9h.01M373.7 120.2h.01M373.9 86.0h.01M369.2 112.6h.01M378.5 119.2h.01M372.2 88.1h.01M373.4 105.6h.01M376.5 95.3h.01M370.2 120.8h.01M373.0 98.6h.01M372.8 106.6h.01M378.3 115.6h.01M377.0 120.1h.01M377.8 103.1h.01M370.0 122.1h.01M368.2 109.0h.01M367.9 109.2h.01M375.4 92.0h.01M376.3 70.6h.01M376.3 119.7h.01M377.7 102.7h.01M375.6 109.5h.01M363.6 119.5h.01M369.0 106.7h.01M372.9 103.1h.01M372.0 109.8h.01M371.5 122.7h.01M372.5 82.9h.01M372.5 115.6h.01M367.5 122.2h.01M378.4 117.8h.01M363.8 121.4h.01M373.3 112.3h.01M371.1 117.8h.01M372.1 99.1h.01M369.0 105.7h.01M369.4 114.5h.01M367.6 120.8h.01M377.4 98.9h.01M375.0 119.2h.01M375.2 90.4h.01M377.3 117.5h.01M378.3 100.7h.01M362.3 120.7h.01M369.9 100.6h.01M378.2 106.5h.01M375.6 98.0h.01M377.8 98.4h.01M372.9 122.7h.01M375.4 118.7h.01M372.5 91.3h.01M370.1 115.2h.01M376.5 98.8h.01M373.5 99.5h.01M372.6 98.0h.01M375.9 111.5h.01M375.8 123.6h.01M371.0 110.8h.01M374.9 115.5h.01M373.3 100.5h.01M369.5 121.3h.01M366.7 122.0h.01M371.1 104.5h.01M371.7 121.6h.01M372.3 109.8h.01M378.2 102.0h.01M374.9 105.4h.01M375.0 111.9h.01M376.8 111.8h.01M377.1 120.6h.01M369.5 115.2h.01M366.9 122.4h.01M370.1 120.1h.01M370.3 116.3h.01M376.8 113.2h.01M376.1 120.2h.01M377.7 95.3h.01M366.1 121.6h.01M378.3 116.2h.01M373.6 72.8h.01M377.3 90.3h.01M370.2 111.1h.01M372.3 80.7h.01M376.0 113.8h.01M374.2 101.6h.01M372.0 95.1h.01M372.5 119.7h.01M374.9 79.0h.01M378.1 105.9h.01M375.1 112.2h.01M373.4 109.5h.01M366.4 116.4h.01M369.4 101.6h.01M375.8 90.0h.01M370.4 115.6h.01M376.1 93.9h.01M377.5 99.2h.01M377.2 106.5h.01M377.2 116.3h.01M366.1 116.2h.01M365.8 117.8h.01M378.1 116.8h.01M378.7 94.9h.01M376.4 113.8h.01M377.3 102.8h.01M377.9 100.4h.01M376.8 92.9h.01M377.9 107.2h.01M377.6 87.8h.01M363.4 118.7h.01M370.5 108.0h.01M374.2 111.4h.01M377.7 95.1h.01M366.2 116.5h.01M372.9 121.9h.01M377.8 120.7h.01M376.2 75.9h.01M372.2 74.9h.01M374.0 119.0h.01M378.4 110.3h.01M373.8 101.3h.01M377.1 114.1h.01M370.6 97.1h.01M377.9 112.4h.01M375.4 94.5h.01M374.2 116.4h.01M373.3 84.1h.01M372.9 104.8h.01M376.5 116.7h.01M377.6 107.9h.01M370.0 122.7h.01M376.5 124.9h.01M371.5 104.5h.01M378.2 117.6h.01M370.6 86.6h.01M376.6 81.9h.01M376.2 123.3h.01M367.3 114.1h.01M378.2 98.2h.01M370.6 87.5h.01M377.3 116.5h.01M377.9 109.5h.01M366.1 119.0h.01M371.3 121.0h.01M372.4 120.1h.01M378.0 119.4h.01M374.6 82.6h.01M373.1 74.5h.01M372.3 78.2h.01M373.7 89.1h.01M376.3 94.9h.01M376.3 110.8h.01M373.3 86.7h.01M375.9 87.3h.01M372.3 100.2h.01M366.9 122.7h.01M377.5 84.8h.01M374.6 109.8h.01M373.2 105.1h.01M368.2 117.3h.01M364.9 119.6h.01M373.6 121.0h.01M377.2 121.8h.01M376.5 116.4h.01M376.3 100.1h.01M368.6 106.7h.01M367.3 114.6h.01M366.8 122.2h.01M376.0 97.4h.01M363.2 120.7h.01M368.7 118.5h.01M377.8 110.2h.01M375.3 120.2h.01M367.7 110.4h.01M374.9 91.9h.01M373.3 123.5h.01M368.0 122.8h.01M376.9 95.3h.01M378.5 122.6h.01M377.4 125.0h.01M372.4 106.5h.01M376.2 117.9h.01M378.4 97.8h.01M369.8 98.0h.01M372.5 114.3h.01M375.8 116.0h.01M377.8 83.7h.01M378.1 90.6h.01M368.1 108.7h.01M377.1 118.5h.01M376.4 87.2h.01M372.1 106.7h.01M370.8 86.7h.01M372.5 79.3h.01M371.5 96.1h.01M378.2 98.9h.01M371.2 93.9h.01M372.2 112.3h.01M378.4 93.3h.01M373.4 104.1h.01M377.1 111.6h.01M377.6 121.0h.01M374.3 124.3h.01M376.3 119.0h.01M374.7 103.3h.01M376.1 119.3h.01M371.8 104.0h.01M376.3 95.7h.01M372.9 103.3h.01M373.7 82.1h.01M376.7 120.5h.01M375.6 88.5h.01M378.2 116.6h.01M377.5 92.8h.01M378.2 106.6h.01M369.0 107.7h.01M378.3 111.1h.01M369.4 111.4h.01M364.8 121.8h.01M377.7 96.9h.01M376.8 121.4h.01M372.6 123.1h.01M378.0 117.2h.01M373.7 94.8h.01M378.2 103.1h.01M378.4 93.2h.01M373.9 114.6h.01M372.8 117.5h.01M374.9 96.5h.01M372.1 90.8h.01M366.7 119.2h.01M377.7 93.3h.01M368.4 112.7h.01M375.4 80.1h.01M377.6 90.5h.01M373.4 123.6h.01M378.7 115.5h.01M374.3 108.1h.01M372.3 123.8h.01M371.7 95.5h.01M369.7 94.6h.01M375.1 124.2h.01M376.3 105.1h.01M377.7 103.7h.01M378.4 120.3h.01M373.8 107.1h.01M377.7 116.6h.01M377.5 124.2h.01M374.7 90.2h.01M376.6 82.9h.01M374.3 92.4h.01M368.9 122.1h.01M362.9 121.3h.01M378.8 105.2h.01M378.0 122.9h.01M369.7 99.5h.01M373.2 121.6h.01M370.1 119.6h.01M378.0 109.5h.01M370.3 112.2h.01M362.2 120.6h.01M377.7 111.7h.01M376.6 115.9h.01M372.3 109.9h.01M372.8 84.7h.01M369.1 115.3h.01M374.7 75.0h.01M377.1 114.4h.01M365.7 122.0h.01M376.2 94.9h.01M363.5 121.1h.01M369.7 115.0h.01M377.4 89.5h.01M377.2 80.1h.01M375.8 105.1h.01M370.5 123.7h.01M372.4 102.8h.01M378.5 108.3h.01M377.2 115.4h.01M367.8 118.4h.01M371.9 114.2h.01M372.1 94.3h.01M377.2 100.1h.01M364.8 120.9h.01M377.6 112.3h.01M376.4 117.0h.01M378.0 84.3h.01M376.3 73.1h.01M372.9 98.3h.01M370.9 88.4h.01M377.2 124.5h.01M375.9 101.1h.01M377.0 108.1h.01M378.2 92.0h.01M371.2 113.6h.01M375.9 117.1h.01M377.7 108.7h.01M377.0 82.2h.01M375.1 116.0h.01M367.4 119.3h.01M374.5 86.7h.01M367.9 119.5h.01M378.0 96.4h.01M377.4 90.3h.01M377.9 112.1h.01M375.7 97.9h.01M371.7 110.3h.01M377.0 95.8h.01M370.9 114.2h.01M376.5 94.8h.01M376.7 114.9h.01M367.6 118.5h.01M365.9 116.7h.01M372.4 100.9h.01M374.2 82.7h.01M377.8 109.5h.01M363.8 120.5h.01M374.2 109.2h.01M372.1 103.1h.01M377.9 87.7h.01M374.9 104.2h.01M377.0 95.8h.01M372.0 108.1h.01M369.1 106.8h.01M369.7 123.4h.01M376.6 114.0h.01M370.9 80.4h.01M373.1 107.6h.01M378.3 100.1h.01M377.8 106.4h.01M378.2 104.6h.01M372.1 99.5h.01M378.1 90.1h.01M369.9 110.2h.01M377.8 92.5h.01M377.8 102.0h.01M370.0 97.0h.01M366.8 117.5h.01M372.6 122.6h.01M375.2 99.5h.01M369.9 116.7h.01M377.9 124.1h.01M375.2 119.8h.01M368.3 107.7h.01M371.7 91.1h.01M375.6 117.7h.01M376.1 93.7h.01M378.2 111.8h.01M371.8 118.3h.01M370.6 101.4h.01M376.0 120.0h.01M376.2 102.7h.01M377.4 88.1h.01M368.1 114.0h.01M376.9 118.0h.01M367.5 120.4h.01M376.2 119.8h.01M377.4 120.6h.01M376.2 110.5h.01M365.5 120.8h.01M377.8 121.8h.01M371.4 115.4h.01M371.6 81.8h.01M371.6 102.0h.01M366.6 118.9h.01M378.3 97.4h.01M378.5 101.5h.01M377.6 84.4h.01M376.9 117.5h.01M364.5 119.5h.01M373.7 100.6h.01M367.0 122.4h.01M370.6 100.7h.01M369.5 112.3h.01M374.2 109.7h.01M377.3 115.0h.01M376.4 103.1h.01M371.1 89.3h.01M373.9 80.0h.01M378.3 106.1h.01M370.2 109.9h.01M372.5 95.9h.01M377.2 119.5h.01M375.5 106.3h.01M366.5 116.5h.01M372.5 101.5h.01M374.5 93.7h.01M370.6 90.7h.01M371.2 121.0h.01M371.2 111.0h.01M374.6 121.5h.01M374.7 78.1h.01M362.9 115.7h.01M377.7 111.3h.01M369.4 113.8h.01M377.1 97.9h.01M374.5 105.7h.01M375.6 73.8h.01M369.6 116.8h.01M377.7 109.6h.01M368.3 112.8h.01M369.7 116.9h.01M370.2 116.6h.01M378.7 123.2h.01M373.0 123.7h.01M369.9 119.3h.01M375.2 90.6h.01M371.4 101.9h.01M377.7 97.2h.01M376.5 113.4h.01M377.6 92.0h.01M374.9 100.9h.01M374.9 93.5h.01M368.8 108.4h.01M377.3 107.8h.01M378.2 92.5h.01M365.8 116.2h.01M376.3 105.9h.01M375.3 115.9h.01M378.8 111.7h.01M367.9 120.9h.01M373.8 123.0h.01M376.4 106.2h.01M365.6 117.4h.01M376.6 90.8h.01M371.4 112.4h.01M369.4 102.1h.01M378.0 93.4h.01M365.6 122.3h.01M376.1 108.8h.01M374.1 122.3h.01M374.1 114.1h.01M375.7 101.7h.01M376.0 98.0h.01M376.3 104.3h.01M376.4 98.8h.01M377.3 120.1h.01M378.3 94.1h.01M377.5 119.6h.01M372.7 98.2h.01M366.9 116.9h.01M377.9 123.1h.01M373.1 123.2h.01M374.5 121.2h.01M371.7 86.6h.01M378.1 124.6h.01M377.6 82.8h.01M378.0 113.8h.01M377.5 92.0h.01M374.2 124.4h.01M373.2 123.5h.01M361.6 118.5h.01M377.8 92.9h.01M378.4 117.4h.01M372.2 110.2h.01M371.8 119.1h.01M369.7 107.0h.01M369.2 104.6h.01M363.8 121.2h.01M376.2 92.9h.01M378.6 115.9h.01M378.2 109.6h.01M374.1 119.4h.01M374.4 117.1h.01M362.1 116.2h.01M376.8 103.8h.01M366.0 119.5h.01M375.4 115.8h.01M376.3 118.1h.01M372.4 121.2h.01M370.7 98.8h.01M377.8 118.1h.01M372.2 118.2h.01M369.2 106.0h.01M372.7 86.0h.01M371.7 88.4h.01M372.0 106.6h.01M378.4 114.5h.01M371.8 108.7h.01M376.5 99.0h.01M361.9 109.5h.01M368.3 119.7h.01M369.7 107.2h.01M378.3 107.9h.01M377.6 117.8h.01M371.3 121.5h.01M373.9 89.8h.01M378.5 119.9h.01M378.4 108.1h.01M374.8 79.9h.01M371.9 107.7h.01M376.7 123.4h.01M372.3 90.2h.01M376.3 109.0h.01M370.5 92.1h.01M370.6 97.5h.01M370.4 95.8h.01M370.6 118.5h.01M369.5 110.3h.01M365.3 120.1h.01M376.4 117.7h.01M363.1 121.1h.01M372.8 115.7h.01M375.6 90.2h.01M376.6 108.7h.01M371.9 118.2h.01M371.0 92.0h.01M377.8 124.8h.01M367.2 112.1h.01M378.6 100.8h.01M378.0 94.8h.01M368.2 111.4h.01M375.7 115.7h.01M369.3 110.6h.01M375.4 115.2h.01M376.1 124.4h.01M378.5 124.5h.01M375.2 94.9h.01M371.8 88.7h.01M360.7 118.5h.01M378.7 116.6h.01M375.2 124.4h.01M378.1 111.6h.01M369.8 112.4h.01M376.6 76.0h.01M371.3 87.3h.01M370.7 98.4h.01M373.7 124.4h.01M378.5 116.1h.01M372.4 88.1h.01M377.7 98.6h.01M361.5 111.2h.01M372.1 113.6h.01M376.1 111.0h.01M376.0 122.4h.01M374.6 91.1h.01M377.1 119.4h.01M375.2 111.3h.01M378.7 110.7h.01M372.5 96.7h.01M371.7 97.0h.01M375.8 108.1h.01M372.0 101.9h.01M373.6 120.5h.01M368.7 109.1h.01M377.6 84.3h.01M378.1 101.7h.01M374.6 100.5h.01M376.2 123.5h.01M370.3 101.3h.01M374.5 116.4h.01M371.9 89.1h.01M377.6 114.4h.01M376.1 109.3h.01M372.9 87.4h.01M373.4 92.4h.01M373.2 106.3h.01M376.3 72.9h.01M377.7 104.8h.01M375.0 124.2h.01M376.7 115.2h.01M377.9 106.2h.01M375.1 84.4h.01M375.1 87.2h.01M377.3 108.5h.01M375.6 119.7h.01M365.4 121.0h.01M373.7 89.4h.01M372.5 116.1h.01M368.7 116.7h.01M376.8 88.3h.01M375.5 117.0h.01M375.3 116.0h.01M373.0 124.4h.01M373.3 86.4h.01M371.3 91.5h.01M377.7 116.8h.01M376.9 72.9h.01M370.6 102.7h.01M365.8 118.6h.01M367.0 112.3h.01M377.0 111.5h.01M374.4 109.7h.01M373.5 109.4h.01M376.8 95.9h.01M372.8 105.6h.01M374.9 93.6h.01M369.5 116.3h.01M377.2 109.7h.01M376.7 103.7h.01M372.4 104.9h.01M376.8 117.2h.01M376.0 107.0h.01M369.6 118.0h.01M377.4 95.0h.01M371.5 115.4h.01M376.6 116.0h.01M371.1 79.6h.01M372.5 109.9h.01M376.5 96.3h.01M372.4 87.9h.01M376.7 103.4h.01M372.2 108.5h.01M373.0 121.5h.01M376.6 105.7h.01M377.0 91.7h.01M364.5 121.1h.01M377.2 106.0h.01M375.2 118.6h.01M376.0 106.5h.01M377.0 112.6h.01M378.5 103.9h.01M371.7 103.6h.01M377.6 113.6h.01M373.4 77.5h.01M371.5 94.5h.01M376.0 122.7h.01M378.3 101.2h.01M373.2 101.4h.01M377.2 89.1h.01M375.5 100.7h.01M370.7 88.6h.01M371.3 96.9h.01M378.7 103.8h.01M367.4 119.3h.01M368.4 108.2h.01M375.9 82.6h.01M367.4 118.7h.01M375.6 110.8h.01M372.3 98.0h.01M368.6 106.6h.01M378.6 95.3h.01M377.7 86.6h.01M376.8 109.3h.01M373.4 116.3h.01M374.4 109.4h.01M370.7 103.6h.01M376.8 102.9h.01M373.2 113.3h.01M374.3 124.0h.01M373.6 88.4h.01M370.9 101.5h.01M375.9 102.0h.01M377.7 104.9h.01M371.3 114.9h.01M372.2 96.5h.01M370.3 107.3h.01M376.8 79.0h.01M368.2 121.1h.01M377.7 94.3h.01M371.2 114.3h.01M374.5 90.1h.01M375.1 92.7h.01M375.6 90.0h.01M377.7 113.3h.01M373.1 110.8h.01M371.9 118.8h.01M371.6 120.3h.01M374.6 117.9h.01M370.1 120.1h.01M374.6 87.8h.01M367.6 122.4h.01M377.2 120.8h.01M371.5 76.6h.01M370.6 106.5h.01M376.5 121.3h.01M374.9 122.4h.01M377.7 83.9h.01M378.0 113.6h.01M370.4 99.0h.01M363.6 113.1h.01M370.3 99.1h.01M368.7 119.8h.01M370.9 123.2h.01M369.0 113.2h.01M371.3 107.5h.01M377.6 107.2h.01M367.7 117.7h.01M373.0 97.3h.01M370.4 95.6h.01M374.7 103.4h.01M369.2 117.9h.01M374.6 121.7h.01M371.1 117.3h.01M374.7 105.1h.01M374.8 107.9h.01M377.0 119.0h.01M377.8 119.8h.01M373.4 98.9h.01M377.2 112.0h.01M378.6 106.4h.01M371.5 120.4h.01M372.6 112.8h.01M371.2 99.7h.01M370.1 119.0h.01M366.4 115.3h.01M377.9 93.8h.01M377.6 91.1h.01M374.2 121.4h.01M377.5 111.9h.01M373.9 108.0h.01M378.6 120.6h.01M377.0 123.3h.01M373.8 111.6h.01M372.2 95.6h.01M374.7 96.2h.01M375.4 114.4h.01M371.3 114.3h.01M374.8 91.4h.01M365.2 120.6h.01M376.8 82.1h.01M375.3 86.0h.01M376.6 97.5h.01M369.3 119.1h.01M377.4 88.4h.01M373.4 87.9h.01M364.1 118.8h.01M374.5 118.1h.01M373.7 123.3h.01M371.8 123.8h.01M375.4 106.6h.01M377.2 108.0h.01M369.7 105.1h.01M374.8 111.3h.01M376.5 111.8h.01M375.9 85.3h.01M361.7 121.0h.01M372.7 120.7h.01M376.8 89.7h.01M373.5 94.8h.01M371.8 114.7h.01M373.9 101.3h.01M377.9 101.9h.01M375.6 119.1h.01M370.4 110.7h.01M371.3 84.1h.01M373.0 78.4h.01M374.8 104.6h.01M377.8 105.5h.01M374.0 124.4h.01M377.4 106.3h.01M369.0 114.4h.01M371.8 104.5h.01M375.4 81.0h.01M376.4 121.7h.01M378.0 98.9h.01M375.6 109.7h.01M374.4 96.8h.01M378.0 105.5h.01M374.2 100.2h.01M378.4 116.5h.01M372.6 100.2h.01M375.7 77.3h.01M376.9 76.6h.01M378.3 95.9h.01M377.9 109.7h.01M374.0 120.1h.01M378.5 120.6h.01M378.2 117.6h.01M368.9 112.7h.01M377.9 87.2h.01M376.0 116.9h.01M377.3 108.9h.01M376.4 112.2h.01M373.9 98.8h.01M377.3 108.8h.01M374.8 88.5h.01M375.7 103.7h.01M376.1 122.2h.01M362.8 120.8h.01M371.0 119.9h.01M370.1 114.4h.01M378.3 111.2h.01M373.8 97.9h.01M375.6 94.1h.01M377.9 114.9h.01M372.7 108.0h.01M370.4 93.9h.01M375.3 104.4h.01M371.2 117.5h.01M373.8 104.9h.01M361.9 118.2h.01M372.7 120.9h.01M366.5 116.7h.01M365.2 120.4h.01M376.8 108.0h.01M371.6 103.4h.01M377.2 115.2h.01M374.7 91.6h.01M377.7 87.4h.01M377.0 116.8h.01M375.3 120.9h.01M376.2 98.4h.01M378.5 103.9h.01M374.8 121.3h.01M377.2 96.2h.01M377.0 78.3h.01M376.7 109.1h.01M369.2 99.4h.01M378.1 122.0h.01M378.4 120.9h.01M372.5 116.0h.01M377.3 119.8h.01M377.5 104.8h.01M372.5 116.5h.01M367.7 112.7h.01M371.4 119.8h.01M378.5 103.5h.01M372.9 101.8h.01M367.0 114.9h.01M373.5 118.7h.01M378.2 101.0h.01M369.6 113.4h.01M377.9 122.2h.01M375.1 90.1h.01M373.5 121.4h.01M377.6 113.9h.01M375.4 84.9h.01M374.5 77.0h.01M370.8 105.4h.01M371.7 118.8h.01M375.8 108.6h.01M373.7 114.4h.01M377.0 124.2h.01M377.0 75.7h.01M369.0 120.5h.01M365.0 120.5h.01M377.0 104.1h.01M378.1 113.5h.01M375.4 108.7h.01M373.1 87.4h.01M374.1 88.5h.01M362.4 118.3h.01M376.6 115.0h.01M364.9 117.9h.01M377.0 103.9h.01M371.2 118.2h.01M370.8 123.3h.01M370.5 122.8h.01M374.0 107.4h.01M365.3 117.1h.01M373.3 114.0h.01M366.4 116.4h.01M378.2 121.7h.01M378.2 119.1h.01M375.9 96.8h.01M372.8 96.1h.01M373.9 101.4h.01M366.3 116.9h.01M376.5 104.2h.01M376.9 119.5h.01M378.4 123.5h.01M375.2 98.6h.01M374.1 120.7h.01M368.5 110.8h.01M378.0 91.6h.01M372.7 100.3h.01M372.7 119.5h.01M372.2 90.7h.01M365.3 121.8h.01M372.1 71.3h.01M368.5 118.4h.01M369.3 113.9h.01M364.3 120.5h.01M372.8 100.8h.01M376.3 111.5h.01M374.9 97.5h.01M376.5 122.1h.01M371.2 116.1h.01M376.1 118.4h.01M376.8 87.0h.01M377.2 119.9h.01M376.5 87.8h.01M372.8 84.7h.01M373.8 86.4h.01M368.2 115.0h.01M375.4 105.2h.01M372.1 97.0h.01M368.7 116.7h.01M376.1 89.5h.01M376.9 99.7h.01M376.7 101.4h.01M369.4 121.4h.01M362.2 120.0h.01M369.2 111.5h.01M375.3 87.5h.01M376.9 118.4h.01M376.0 108.2h.01M364.8 120.6h.01M370.6 114.0h.01M368.5 123.1h.01M375.7 99.5h.01M369.7 107.7h.01M368.2 108.1h.01M370.8 90.4h.01M368.3 105.4h.01M372.1 78.4h.01M376.6 120.3h.01M373.6 117.9h.01M368.9 119.4h.01M370.6 86.2h.01M374.1 105.5h.01M362.4 119.3h.01M375.0 84.2h.01M375.0 112.1h.01M375.6 102.6h.01M370.5 92.7h.01M376.9 105.9h.01M374.5 100.9h.01M377.4 111.4h.01M376.9 82.5h.01M376.5 122.1h.01M373.7 118.8h.01M377.3 81.1h.01M370.7 115.1h.01M376.0 120.0h.01M374.5 84.0h.01M374.9 81.3h.01M372.9 79.9h.01M377.1 106.8h.01M377.8 93.6h.01M375.3 116.7h.01M371.1 119.6h.01M377.2 111.3h.01M368.6 121.9h.01M377.2 101.8h.01M378.1 120.7h.01M369.5 118.9h.01M377.2 100.2h.01M375.3 117.0h.01M372.2 118.2h.01M368.3 103.9h.01M372.1 75.1h.01M371.7 104.3h.01M377.5 100.9h.01M373.1 118.0h.01M372.8 80.2h.01M376.0 70.9h.01M369.7 115.0h.01M370.5 117.3h.01M374.6 94.9h.01M376.6 94.4h.01M378.0 102.2h.01M377.8 111.9h.01M377.9 117.2h.01M376.9 86.9h.01M377.1 109.6h.01M372.0 99.2h.01M372.7 116.1h.01M379.0 124.1h.01M376.6 101.6h.01M378.7 122.4h.01M375.9 120.5h.01M377.5 98.7h.01M376.4 88.6h.01M374.4 97.4h.01M376.2 106.8h.01M375.4 117.0h.01M365.5 120.8h.01M371.5 90.0h.01M378.4 113.0h.01M373.1 79.8h.01M374.9 96.8h.01M372.2 108.9h.01M373.5 94.0h.01M373.4 93.7h.01M376.5 80.9h.01M377.6 110.1h.01M377.7 119.3h.01M377.1 89.4h.01M373.7 118.3h.01M369.1 104.7h.01M369.4 102.3h.01M368.1 110.7h.01M371.9 88.7h.01M377.7 112.8h.01M377.9 124.1h.01M372.6 101.0h.01M372.2 105.3h.01M371.4 104.1h.01M370.6 107.8h.01M375.1 78.4h.01M371.7 85.3h.01M362.4 115.4h.01M373.3 85.6h.01M371.2 76.6h.01M373.7 106.5h.01M371.2 79.1h.01M378.8 98.6h.01M377.5 117.5h.01M371.1 90.9h.01M375.8 89.8h.01M378.5 123.8h.01M377.9 119.4h.01M368.4 120.7h.01M374.6 108.7h.01M375.2 90.8h.01M373.4 121.7h.01M377.0 98.3h.01M368.8 111.6h.01M374.4 109.4h.01M375.8 76.8h.01M377.9 100.8h.01M372.1 123.0h.01M368.2 121.8h.01M372.2 100.2h.01M374.4 94.9h.01M376.4 92.4h.01M367.1 120.2h.01M378.1 95.1h.01M369.3 117.0h.01M373.3 109.6h.01M368.7 123.1h.01M371.0 108.7h.01M377.7 111.7h.01M374.1 106.2h.01M375.7 103.1h.01M378.1 124.5h.01M373.0 76.8h.01M375.8 112.4h.01M378.8 96.8h.01M375.0 99.4h.01M378.6 101.3h.01M376.9 96.9h.01M368.8 116.1h.01M372.1 96.5h.01M365.3 121.4h.01M368.0 121.9h.01M378.3 90.8h.01M369.8 119.7h.01M369.8 107.9h.01M374.3 87.2h.01M377.4 105.7h.01M377.1 89.0h.01M374.0 102.2h.01M377.3 119.8h.01M376.1 116.9h.01M373.6 101.5h.01M375.7 88.1h.01M378.2 102.2h.01M374.8 89.2h.01M368.3 113.4h.01M376.8 109.6h.01M377.4 118.9h.01M375.7 98.1h.01M377.9 94.0h.01M376.4 95.3h.01M375.2 105.0h.01M371.7 104.7h.01M375.9 123.1h.01M371.5 121.9h.01M371.5 90.1h.01M372.4 103.0h.01M377.8 94.9h.01M372.9 101.9h.01M374.4 116.6h.01M376.8 84.2h.01M376.5 110.9h.01M376.9 97.4h.01M368.1 119.1h.01M367.4 116.1h.01M376.9 81.3h.01M374.9 97.9h.01M376.9 106.1h.01M367.6 122.0h.01M371.5 97.8h.01M373.6 88.7h.01M378.5 100.0h.01M372.4 94.4h.01M376.3 115.6h.01M378.3 98.7h.01M375.8 113.2h.01M376.0 93.7h.01M374.0 92.2h.01M373.9 114.7h.01M377.9 88.1h.01M374.7 97.0h.01M366.9 117.1h.01M378.4 107.7h.01M377.8 101.0h.01M370.3 112.8h.01M369.0 121.0h.01M373.6 87.9h.01M373.6 91.5h.01M378.0 101.1h.01M376.4 89.4h.01M373.3 111.0h.01M376.6 86.1h.01M364.1 117.1h.01M371.6 119.0h.01M377.4 88.7h.01M376.0 101.2h.01M378.0 110.5h.01M365.7 119.3h.01M377.9 101.0h.01M376.0 103.5h.01M371.6 91.4h.01M376.6 102.1h.01M371.4 109.5h.01M374.7 116.0h.01M367.0 121.3h.01M370.7 98.7h.01M375.8 119.4h.01M378.4 124.3h.01M372.0 119.7h.01M374.0 105.3h.01M371.3 86.3h.01M371.8 115.3h.01M369.5 119.6h.01M376.2 75.3h.01M377.2 118.8h.01M375.0 91.6h.01M366.6 122.5h.01M369.9 99.0h.01M369.9 118.9h.01M371.0 108.5h.01M370.2 103.2h.01M369.9 111.4h.01M368.4 110.1h.01M373.6 116.7h.01M377.3 120.9h.01M374.9 120.1h.01M369.3 123.4h.01M376.2 111.6h.01M375.9 98.1h.01M371.7 120.6h.01M376.4 106.7h.01M362.3 118.7h.01M378.3 120.2h.01M376.0 89.4h.01M365.3 116.2h.01M376.4 78.1h.01M374.7 82.8h.01M373.2 111.3h.01M372.3 100.1h.01M374.6 107.8h.01M378.1 99.4h.01M371.6 93.6h.01M364.9 121.8h.01M376.9 92.9h.01M365.0 117.4h.01M376.3 102.7h.01M378.1 112.7h.01M374.6 122.7h.01M377.9 100.4h.01M378.2 120.2h.01M371.7 110.6h.01M376.1 87.5h.01M371.5 118.1h.01M375.9 123.8h.01M375.4 111.3h.01M363.7 121.2h.01M378.1 120.1h.01M376.5 97.7h.01M376.9 112.1h.01M370.9 86.8h.01M373.3 84.5h.01M370.5 85.1h.01M373.7 119.4h.01M370.7 123.2h.01M375.2 98.8h.01M368.5 115.2h.01M374.2 105.2h.01M378.4 121.2h.01M373.6 110.4h.01M377.9 106.5h.01M373.7 105.3h.01M373.2 86.5h.01M377.3 89.8h.01M376.7 121.9h.01M372.7 73.6h.01M375.1 77.2h.01M374.4 96.7h.01M373.4 84.8h.01M376.7 87.9h.01M376.8 101.3h.01M377.4 108.0h.01M371.8 101.3h.01M378.0 93.5h.01M377.6 123.0h.01M370.5 117.7h.01M370.5 113.2h.01M374.7 107.9h.01M377.3 105.8h.01M374.5 107.5h.01M375.7 111.2h.01M373.9 95.9h.01M365.4 115.9h.01M369.2 104.4h.01M376.9 121.5h.01M369.2 102.3h.01M371.6 108.0h.01M367.6 113.8h.01M377.8 84.5h.01M378.2 106.2h.01M371.5 94.6h.01M368.8 105.4h.01M377.0 110.6h.01M378.5 118.8h.01M372.2 121.9h.01M375.9 80.2h.01M372.4 88.0h.01M374.3 104.4h.01M363.5 116.9h.01M370.2 117.4h.01M369.5 120.4h.01M376.1 113.8h.01M378.9 110.2h.01M376.8 102.1h.01M365.5 122.2h.01M378.0 105.6h.01M367.6 119.1h.01M378.6 89.0h.01M372.5 120.3h.01M371.5 96.6h.01M371.3 72.0h.01M371.6 105.5h.01M366.4 117.8h.01M378.0 124.3h.01M376.2 101.3h.01M378.1 125.0h.01M372.2 121.9h.01M370.8 109.8h.01M370.2 117.7h.01M375.4 122.1h.01M375.0 111.8h.01M378.4 111.5h.01M378.3 89.2h.01M369.7 116.8h.01M368.1 116.9h.01M376.8 113.4h.01M377.8 98.5h.01M369.9 121.4h.01M374.9 98.2h.01M376.2 83.1h.01M370.2 122.7h.01M372.8 114.1h.01M371.0 71.0h.01M377.8 119.2h.01M377.9 114.8h.01M375.0 77.5h.01M377.4 104.0h.01M375.9 72.4h.01M376.3 105.5h.01M378.6 101.3h.01M378.2 108.7h.01M370.7 96.5h.01M365.3 120.0h.01M375.1 89.1h.01M373.6 101.1h.01M371.7 115.3h.01M377.7 84.2h.01M365.5 120.6h.01M377.3 118.5h.01M377.7 102.4h.01M374.1 120.4h.01M375.6 123.5h.01M376.0 96.5h.01M372.5 87.2h.01M373.7 99.0h.01M373.8 114.1h.01M374.6 95.1h.01M377.4 92.5h.01M370.4 102.6h.01M378.2 114.7h.01M378.7 110.1h.01M374.5 86.7h.01M376.5 118.6h.01M373.5 112.4h.01M375.9 104.6h.01M370.1 110.5h.01M371.5 110.5h.01M367.4 114.1h.01M374.5 95.5h.01M377.2 106.5h.01M373.5 116.5h.01M372.2 106.0h.01M365.6 122.0h.01M374.0 115.2h.01M378.4 102.9h.01M374.1 107.8h.01M378.3 108.3h.01M375.6 92.7h.01M375.8 110.2h.01M377.9 89.9h.01M376.2 99.1h.01M371.9 101.1h.01M376.5 73.6h.01M376.2 94.9h.01M373.2 124.3h.01M367.4 111.9h.01M374.9 120.3h.01M370.8 80.2h.01M372.9 84.0h.01M373.1 103.6h.01M377.3 103.4h.01M376.4 122.3h.01M378.0 124.8h.01M372.4 95.1h.01M369.5 118.9h.01M378.0 119.2h.01M373.1 119.9h.01M372.4 122.2h.01M378.5 108.8h.01M371.1 92.2h.01M375.3 91.2h.01M378.0 107.7h.01M373.7 117.0h.01M369.1 113.1h.01M371.7 82.1h.01M377.5 92.2h.01M374.8 112.1h.01M377.8 107.8h.01M371.0 100.6h.01M363.0 113.5h.01M377.1 107.0h.01M366.6 117.6h.01M364.1 120.6h.01M375.2 87.6h.01M377.0 93.6h.01M378.5 124.9h.01M374.3 117.9h.01M376.5 123.2h.01M377.3 81.8h.01M376.1 85.0h.01M378.4 116.8h.01M374.1 109.6h.01M376.5 106.8h.01M369.2 120.4h.01M376.6 82.3h.01M367.3 114.0h.01M372.4 89.2h.01M373.8 118.2h.01M377.3 88.8h.01M374.0 89.6h.01M376.7 75.2h.01M375.9 124.5h.01M372.8 88.2h.01M370.7 122.3h.01M372.5 113.0h.01M372.9 118.5h.01M378.3 114.6h.01M377.1 87.8h.01M369.0 102.9h.01M376.6 112.1h.01M375.3 103.4h.01M367.0 111.9h.01M376.1 112.1h.01M372.2 107.9h.01M373.9 100.8h.01M373.1 120.1h.01M374.8 97.8h.01M377.2 110.2h.01M376.8 102.8h.01M364.8 120.6h.01M373.9 84.5h.01M371.9 78.4h.01M372.4 106.6h.01M376.5 91.9h.01M377.8 112.2h.01M377.5 95.5h.01M368.2 111.8h.01M368.2 111.1h.01M375.4 99.1h.01M372.3 123.5h.01M374.1 94.4h.01M375.0 109.3h.01M377.8 86.0h.01M372.0 116.2h.01M375.0 80.1h.01M370.8 120.5h.01M371.0 122.6h.01M373.6 92.2h.01M369.3 114.3h.01M375.5 86.1h.01M371.5 90.7h.01M378.8 116.4h.01M369.8 119.7h.01M374.6 87.7h.01M375.8 91.1h.01M373.4 81.6h.01M377.8 118.4h.01M371.6 121.5h.01M373.2 85.5h.01M369.8 92.8h.01M376.2 108.7h.01M370.6 114.9h.01M372.2 105.7h.01M377.5 96.2h.01M376.7 84.0h.01M375.9 124.5h.01M375.0 85.9h.01M367.0 121.5h.01M374.3 113.5h.01M373.6 115.0h.01M377.0 89.6h.01M370.8 121.0h.01M375.7 108.7h.01M378.4 111.0h.01M363.8 119.7h.01M371.6 91.7h.01M372.8 114.5h.01M376.5 117.6h.01M367.2 118.1h.01M375.8 97.7h.01M368.6 121.7h.01M374.0 108.6h.01M372.7 102.9h.01M374.3 110.3h.01M375.9 115.2h.01M363.2 114.9h.01M376.5 87.6h.01M375.4 84.8h.01M376.8 103.2h.01M378.5 123.4h.01M370.6 84.2h.01M375.0 114.4h.01M369.5 110.0h.01M375.3 122.3h.01M371.8 114.4h.01M377.9 84.8h.01M368.2 107.9h.01M374.2 94.2h.01M377.6 117.5h.01M365.1 118.1h.01M367.2 121.5h.01M366.8 120.2h.01M376.4 93.1h.01M370.8 101.4h.01M378.1 125.1h.01M376.7 83.4h.01M376.1 103.0h.01M371.6 121.1h.01M368.6 107.4h.01M374.7 98.9h.01M375.3 90.9h.01M374.4 119.4h.01M371.6 90.2h.01M373.8 81.4h.01M371.8 105.8h.01M375.3 106.3h.01M370.0 99.1h.01M377.8 93.9h.01M378.3 116.9h.01M375.6 115.4h.01M376.4 106.2h.01M376.5 110.3h.01M376.0 116.5h.01M373.9 107.2h.01M377.9 106.1h.01M377.7 88.3h.01M375.9 114.9h.01M376.2 122.7h.01M373.7 90.8h.01M377.0 112.0h.01M373.2 106.1h.01M374.7 114.7h.01M374.2 123.8h.01M378.2 114.1h.01M375.7 103.6h.01M377.0 109.5h.01M373.6 115.8h.01M362.4 117.1h.01M376.8 78.3h.01M364.2 120.1h.01M377.7 105.9h.01M377.0 110.8h.01M369.2 111.8h.01M374.1 99.8h.01M374.1 95.1h.01M376.4 111.1h.01M370.3 109.9h.01M377.5 94.7h.01M374.1 96.4h.01M377.2 79.6h.01M375.2 88.3h.01M373.6 123.6h.01M378.3 109.2h.01M370.4 121.9h.01M370.9 93.7h.01M374.2 120.7h.01M378.3 94.5h.01M377.4 117.4h.01M376.7 77.8h.01M372.6 114.6h.01M378.5 109.8h.01M372.2 124.1h.01M372.9 120.5h.01M376.2 95.5h.01M373.3 95.7h.01M373.2 92.8h.01M375.2 123.9h.01M375.3 115.6h.01M371.3 118.3h.01M371.0 98.1h.01M371.1 102.0h.01M368.6 115.5h.01M371.1 104.6h.01M373.3 114.7h.01M374.9 76.0h.01M372.3 87.0h.01M378.2 96.0h.01M370.1 118.0h.01M368.1 111.0h.01M373.7 109.3h.01M378.0 115.9h.01M366.8 115.9h.01M377.9 102.7h.01M375.1 86.5h.01M372.5 93.4h.01M373.2 119.6h.01M374.6 101.9h.01M374.0 117.1h.01M375.9 104.5h.01M375.3 95.9h.01M373.7 114.9h.01M371.1 75.7h.01M376.9 124.1h.01M377.2 83.7h.01M378.7 109.7h.01M375.0 98.6h.01M373.0 122.6h.01M374.4 96.5h.01M378.3 114.4h.01M376.3 110.8h.01M369.4 122.7h.01M377.6 93.4h.01M375.3 83.5h.01M375.5 99.2h.01M368.8 117.6h.01M373.6 98.9h.01M372.4 110.2h.01M372.0 92.4h.01M362.7 120.9h.01M369.9 103.3h.01M378.5 94.6h.01M377.4 118.2h.01M376.4 89.2h.01M375.1 85.8h.01M368.5 108.7h.01M377.6 120.8h.01M373.6 111.5h.01M376.8 92.6h.01M376.2 113.2h.01M372.0 118.4h.01M372.2 120.9h.01M376.8 113.9h.01M372.0 116.9h.01M376.9 90.4h.01M373.3 113.9h.01M375.5 116.7h.01M378.2 117.8h.01M376.7 109.4h.01M377.3 94.9h.01M374.6 122.3h.01M374.3 98.5h.01M371.4 74.8h.01M374.3 109.7h.01M376.5 115.2h.01M372.1 84.6h.01M375.2 122.0h.01M377.8 121.9h.01M376.4 120.6h.01M369.2 107.6h.01M363.8 119.5h.01M370.6 117.3h.01M374.6 104.8h.01M371.3 98.1h.01M368.7 120.8h.01M371.8 111.8h.01M375.1 74.4h.01M378.2 107.7h.01M372.0 97.7h.01M366.3 119.4h.01M370.1 97.8h.01M371.2 123.9h.01M378.1 115.6h.01M372.1 87.7h.01M370.0 97.4h.01M375.7 116.6h.01M378.4 110.0h.01M371.3 112.0h.01M377.8 102.1h.01M378.1 111.4h.01M375.4 96.9h.01M377.9 107.0h.01M377.6 122.1h.01M374.1 100.9h.01M370.1 122.7h.01M375.2 124.0h.01M376.3 105.8h.01M377.0 115.8h.01M367.8 121.7h.01M370.0 112.7h.01M370.4 118.7h.01M374.0 98.5h.01M374.9 104.7h.01M375.5 122.2h.01M377.9 98.8h.01M377.8 123.0h.01M370.4 103.0h.01M374.9 124.7h.01M375.2 97.4h.01M372.4 107.9h.01M378.0 91.5h.01M378.0 89.1h.01M366.4 119.4h.01M369.8 120.8h.01M371.5 100.1h.01M376.5 124.0h.01M366.7 122.5h.01M373.9 90.9h.01M376.8 115.3h.01M369.7 121.6h.01M372.2 115.9h.01M373.0 118.8h.01M374.2 112.4h.01M374.6 98.9h.01M378.1 95.3h.01M377.0 116.8h.01M373.2 109.3h.01M371.9 109.4h.01M371.8 121.9h.01M376.8 88.9h.01M376.1 100.8h.01M367.6 122.1h.01M366.9 116.2h.01M374.4 124.1h.01M365.9 121.8h.01M374.2 119.6h.01M375.1 102.6h.01M365.8 122.2h.01M378.6 103.4h.01M375.6 93.0h.01M373.7 89.8h.01M375.9 115.7h.01M372.2 78.2h.01M376.6 99.8h.01M377.9 116.1h.01M378.3 110.8h.01M375.8 99.2h.01M378.2 112.4h.01M367.1 119.7h.01M378.3 97.0h.01M378.2 111.0h.01M365.8 121.8h.01M377.4 124.5h.01M378.1 119.6h.01M372.3 119.1h.01M377.1 81.0h.01M373.3 117.0h.01M377.3 99.0h.01M368.7 121.0h.01M375.4 80.6h.01M372.2 97.8h.01M378.1 94.3h.01M371.6 114.2h.01M374.4 122.4h.01M372.7 109.7h.01M370.8 109.6h.01M378.2 108.6h.01M375.8 101.8h.01M376.8 95.8h.01M369.9 107.2h.01M375.1 89.3h.01M377.3 104.3h.01M369.8 121.6h.01M375.4 111.7h.01M368.8 122.1h.01M377.4 117.9h.01M370.7 122.1h.01M370.1 116.4h.01M376.3 115.1h.01M367.9 114.2h.01M372.9 86.2h.01M378.3 110.3h.01M372.8 105.6h.01M370.5 109.4h.01M371.6 88.6h.01M377.8 95.0h.01M375.8 95.7h.01M367.4 111.2h.01M373.1 106.0h.01M376.9 78.0h.01M377.7 119.7h.01M378.7 110.0h.01M373.5 88.1h.01M375.9 108.1h.01M378.6 124.8h.01M366.4 122.4h.01M376.2 110.5h.01M376.7 112.9h.01M374.2 106.4h.01M375.9 86.3h.01M373.9 123.2h.01M374.6 117.4h.01M377.1 116.6h.01M377.7 94.0h.01M372.6 102.6h.01M370.9 86.5h.01M369.9 120.1h.01M378.3 121.1h.01M370.6 118.8h.01M374.8 85.7h.01M371.6 113.0h.01M376.3 124.4h.01M363.7 120.0h.01M374.8 105.6h.01M378.1 89.3h.01M374.4 122.4h.01M371.3 121.7h.01M373.9 116.6h.01M374.3 97.1h.01M374.2 81.1h.01M375.1 102.0h.01M374.4 118.8h.01M371.6 122.5h.01M371.5 108.4h.01M369.3 123.1h.01M375.4 89.8h.01M377.3 83.5h.01M375.8 90.1h.01M374.2 83.2h.01M367.8 114.0h.01M373.0 76.1h.01M378.4 105.8h.01M374.3 102.6h.01M371.5 102.1h.01M367.2 119.7h.01M377.8 120.8h.01M378.2 96.0h.01M362.8 120.3h.01M378.1 108.8h.01M371.2 92.4h.01M376.2 81.1h.01M377.2 90.3h.01M375.4 119.1h.01M376.7 96.8h.01M377.7 120.9h.01M365.5 122.3h.01M377.4 108.3h.01M372.3 117.4h.01M377.4 89.7h.01M373.8 118.0h.01M361.7 120.5h.01M372.8 113.7h.01M370.6 109.7h.01M366.7 115.1h.01M375.3 82.0h.01M370.8 106.2h.01M366.3 115.2h.01M365.8 121.7h.01M371.5 87.5h.01M368.8 117.7h.01M370.5 113.0h.01M372.9 85.2h.01M377.8 107.0h.01M370.9 98.1h.01M370.6 113.4h.01M375.1 107.0h.01M371.8 102.9h.01M376.9 116.6h.01M373.4 74.5h.01M367.7 122.3h.01M367.6 118.2h.01M377.2 106.3h.01M374.3 103.8h.01M373.9 83.2h.01M370.1 116.8h.01M377.1 76.9h.01M374.2 77.1h.01M378.5 110.0h.01M371.0 80.2h.01M373.7 114.7h.01M369.4 110.5h.01M366.8 115.6h.01M371.9 88.6h.01M364.9 119.2h.01M374.4 118.0h.01M374.6 83.0h.01M371.1 111.6h.01M375.2 117.4h.01M367.2 115.6h.01M370.4 108.3h.01M376.7 98.5h.01M370.5 91.5h.01M371.5 109.1h.01M374.0 104.2h.01M370.3 86.3h.01M376.3 79.0h.01M373.4 101.9h.01M374.6 98.6h.01M373.4 115.8h.01M373.5 85.7h.01M371.4 108.3h.01M376.4 121.0h.01M378.6 114.5h.01M374.4 107.2h.01M377.2 103.6h.01M376.3 82.6h.01M375.5 123.4h.01M369.7 103.6h.01M377.6 124.8h.01M376.9 106.7h.01M367.8 115.3h.01M376.7 88.2h.01M375.6 90.0h.01M362.0 119.9h.01M377.5 114.3h.01M377.2 122.0h.01M371.1 92.3h.01M373.7 84.0h.01M373.1 78.0h.01M372.9 72.6h.01M369.7 122.8h.01M374.7 124.4h.01M369.6 95.8h.01M372.6 100.6h.01M372.5 120.7h.01M364.2 119.5h.01M370.1 118.0h.01M371.0 124.0h.01M378.3 104.3h.01M371.1 70.6h.01M370.2 100.5h.01M370.2 118.9h.01M374.2 115.3h.01M373.7 118.2h.01M369.9 111.4h.01M371.6 108.4h.01M375.6 117.4h.01M375.1 115.3h.01M362.3 118.4h.01M373.6 106.3h.01M374.6 79.8h.01M370.6 122.2h.01M367.8 120.7h.01M371.6 88.7h.01M367.8 121.8h.01M376.1 109.5h.01M375.2 108.6h.01M363.5 121.2h.01M374.6 118.5h.01M375.8 117.5h.01M375.4 115.5h.01M366.1 114.3h.01M378.7 99.1h.01M368.9 114.4h.01M374.2 122.2h.01M368.0 117.1h.01M375.5 103.1h.01M370.7 105.3h.01M370.6 83.3h.01M376.0 114.2h.01M366.5 118.3h.01M377.4 95.7h.01M369.5 121.0h.01M378.6 93.6h.01M374.1 102.9h.01M377.3 101.4h.01M375.2 117.5h.01M378.1 103.7h.01M371.3 120.7h.01M368.5 110.9h.01M371.0 74.8h.01M363.1 119.8h.01M373.6 75.0h.01M377.8 120.4h.01M375.4 120.8h.01M377.0 87.8h.01M368.4 110.1h.01M373.4 103.6h.01M373.0 102.7h.01M371.2 112.0h.01M378.2 90.0h.01M367.9 122.8h.01M378.5 105.2h.01M363.7 119.0h.01M372.5 114.1h.01M375.5 108.8h.01M375.3 120.6h.01M374.8 124.3h.01M375.7 106.3h.01M377.3 119.1h.01M376.4 108.1h.01M375.2 88.5h.01M373.8 93.7h.01M376.7 96.3h.01M370.6 101.5h.01M374.9 104.6h.01M375.7 94.6h.01M377.5 104.6h.01M375.5 120.8h.01M373.4 115.9h.01M369.0 119.4h.01M374.0 97.5h.01M371.1 82.0h.01M378.0 103.1h.01M370.7 111.1h.01M374.1 115.7h.01M374.7 119.2h.01M374.5 101.2h.01M374.8 112.3h.01M376.0 120.0h.01M373.9 109.2h.01M373.5 119.8h.01M371.4 91.8h.01M371.3 117.5h.01M378.2 122.9h.01M377.2 114.0h.01M377.1 79.0h.01M375.2 107.2h.01M374.5 75.7h.01M377.3 82.9h.01M377.6 104.9h.01M367.1 117.4h.01M378.3 101.3h.01M370.2 114.5h.01M369.6 108.3h.01M363.5 118.0h.01M374.6 106.4h.01M378.3 97.7h.01M378.1 94.8h.01M369.1 102.7h.01M374.6 115.9h.01M370.0 99.6h.01M368.8 105.7h.01M378.2 122.4h.01M371.4 119.0h.01M369.0 106.1h.01M368.2 111.2h.01M370.1 115.9h.01M378.3 114.7h.01M377.8 94.1h.01M375.0 84.1h.01M368.8 105.5h.01M374.4 117.3h.01M369.1 113.0h.01M375.2 122.2h.01M371.5 115.8h.01M367.0 119.5h.01M370.5 89.3h.01M378.2 115.1h.01M370.2 100.4h.01M374.7 99.0h.01M370.5 100.3h.01M372.8 117.0h.01M372.4 117.8h.01M376.7 81.3h.01M375.7 114.3h.01M371.2 104.3h.01M373.9 106.8h.01M363.6 119.7h.01M377.5 81.5h.01M377.3 114.8h.01M370.8 92.2h.01M369.2 115.9h.01M364.0 120.2h.01M377.9 116.1h.01M377.9 103.3h.01M377.8 107.2h.01M377.0 117.1h.01M377.6 123.5h.01M373.8 94.4h.01M372.9 110.9h.01M370.6 120.5h.01M376.6 97.1h.01M374.3 108.1h.01M378.8 106.1h.01M376.9 107.2h.01M378.7 107.0h.01M377.3 118.1h.01M378.1 101.0h.01M373.3 117.9h.01M362.2 120.9h.01M373.6 90.0h.01M371.4 89.7h.01M373.8 123.0h.01M377.8 112.6h.01M368.9 117.4h.01M376.9 116.0h.01M376.6 92.9h.01M366.9 113.3h.01M374.3 107.4h.01M377.8 120.7h.01M369.6 118.0h.01M377.8 105.5h.01M370.6 111.4h.01M376.0 123.9h.01M370.3 98.3h.01M369.2 100.8h.01M366.1 122.0h.01M374.9 103.5h.01M369.7 105.5h.01M375.1 95.5h.01M378.5 99.6h.01M372.3 111.6h.01M372.1 110.7h.01M376.5 85.9h.01M377.6 120.9h.01M375.3 112.6h.01M363.2 120.3h.01M374.1 124.3h.01M376.5 99.0h.01M370.1 109.9h.01M372.7 115.2h.01M375.7 105.1h.01M372.3 106.7h.01M378.5 121.7h.01M372.1 94.1h.01M377.5 105.0h.01M378.3 112.7h.01M376.2 75.5h.01M375.7 97.8h.01M372.3 105.5h.01M377.3 109.1h.01M371.7 106.1h.01M374.1 102.5h.01M376.0 96.4h.01M371.4 93.4h.01M371.6 83.8h.01M375.4 110.7h.01M368.4 113.7h.01M371.4 94.5h.01M370.4 112.7h.01M372.7 115.9h.01M377.0 122.8h.01M372.7 122.6h.01M377.8 119.0h.01M376.0 116.0h.01M377.1 93.7h.01M373.0 122.8h.01M372.3 83.8h.01M375.4 108.5h.01M376.6 79.4h.01M365.6 121.9h.01M367.8 110.3h.01M378.3 110.3h.01M377.2 121.6h.01M375.1 104.0h.01M377.6 99.6h.01M370.4 85.4h.01M377.2 87.8h.01M369.4 108.6h.01M374.4 87.3h.01M375.3 102.8h.01M366.3 122.1h.01M371.2 102.9h.01M375.8 106.3h.01M371.2 114.4h.01M376.0 88.3h.01M375.9 110.1h.01M375.2 111.0h.01M365.9 116.0h.01M374.9 101.8h.01M373.1 103.3h.01M374.8 93.0h.01M369.8 103.3h.01M375.5 111.5h.01M368.4 116.0h.01M372.9 111.5h.01M372.2 114.2h.01M371.9 100.3h.01M366.7 120.6h.01M368.5 120.6h.01M368.7 122.6h.01M375.1 106.3h.01M371.0 120.4h.01M371.0 107.6h.01M374.0 97.5h.01M373.8 102.7h.01M378.1 88.5h.01M373.0 120.5h.01M378.2 87.5h.01M378.2 122.3h.01M377.3 111.8h.01M372.1 114.4h.01M378.1 99.9h.01M377.8 99.6h.01M372.5 98.8h.01M367.6 119.8h.01M370.0 121.0h.01M375.1 112.9h.01M374.7 102.6h.01M377.3 107.8h.01M378.2 114.6h.01M371.8 105.0h.01M373.3 115.6h.01M378.4 101.6h.01M373.6 112.8h.01M378.2 117.0h.01M376.9 121.6h.01M375.0 116.9h.01M368.9 105.2h.01M375.0 106.5h.01M374.7 122.3h.01M377.6 122.1h.01M375.8 96.9h.01M373.0 94.5h.01M378.0 90.0h.01M378.1 112.1h.01M364.9 120.2h.01M372.4 120.3h.01M371.1 116.3h.01M373.4 113.9h.01M378.0 103.8h.01M366.8 118.4h.01M375.3 91.6h.01M375.7 108.6h.01M376.4 124.5h.01M371.4 99.3h.01M376.2 98.7h.01M377.2 107.8h.01M376.8 123.2h.01M375.2 78.5h.01M361.2 118.7h.01M376.1 98.1h.01M375.8 117.9h.01M375.1 93.6h.01M375.6 88.1h.01M371.7 96.3h.01M375.5 121.8h.01M368.4 106.9h.01M376.1 114.4h.01M375.1 113.8h.01M372.1 117.1h.01M375.1 116.1h.01M378.6 101.4h.01M372.4 118.4h.01M377.5 84.0h.01M378.6 116.8h.01M364.4 121.0h.01M375.5 102.2h.01M364.9 116.9h.01M373.0 117.8h.01M374.8 112.0h.01M361.1 119.1h.01M368.1 111.5h.01M372.2 97.0h.01M374.3 99.2h.01M378.6 118.6h.01M376.6 97.1h.01M371.1 111.1h.01M373.9 96.4h.01M371.6 105.0h.01M377.6 112.4h.01M372.1 113.1h.01M370.7 90.3h.01M368.4 110.8h.01M371.5 117.3h.01M372.6 103.9h.01M369.9 95.6h.01M373.6 122.7h.01M377.3 102.3h.01M375.3 97.1h.01M378.6 117.3h.01M375.1 113.2h.01M377.2 108.1h.01M371.9 76.6h.01M374.3 123.4h.01M377.5 110.6h.01M366.9 120.2h.01M376.4 122.9h.01M373.3 114.5h.01M372.5 103.4h.01M378.1 105.6h.01M377.3 118.7h.01M374.8 106.4h.01M377.9 94.8h.01M375.5 111.4h.01M377.8 98.3h.01M371.3 91.3h.01M377.5 91.5h.01M378.7 118.7h.01M367.5 119.7h.01M377.0 86.7h.01M376.0 121.6h.01M377.2 123.0h.01M370.6 105.8h.01M374.7 77.6h.01M377.2 110.9h.01M372.7 92.7h.01M373.7 121.6h.01M378.3 99.9h.01M372.6 116.5h.01M366.6 117.0h.01M374.0 102.6h.01M376.5 112.0h.01M373.6 112.9h.01M377.8 105.4h.01M372.8 110.8h.01M370.0 113.0h.01" stroke="#4B81B2" stroke-width="1.1" stroke-linecap="round" fill="none" opacity="1"/>
<path d="M376.9 81.5h.01M370.9 55.9h.01M371.8 43.2h.01M373.9 79.1h.01M372.8 61.9h.01M370.8 39.6h.01M374.8 59.8h.01M373.9 86.7h.01M370.9 64.8h.01M373.7 75.2h.01M374.2 86.4h.01M372.4 41.9h.01M374.6 57.3h.01M374.8 46.2h.01M374.9 75.7h.01M374.3 79.7h.01M372.5 55.7h.01M371.5 38.0h.01M376.2 76.9h.01M373.9 68.8h.01M370.9 66.4h.01M376.3 72.4h.01M372.3 50.5h.01M372.9 38.6h.01M374.1 74.0h.01M374.3 50.0h.01M372.9 50.4h.01M374.0 55.7h.01M372.3 69.6h.01M373.7 87.7h.01M375.7 85.3h.01M371.6 83.0h.01M371.8 75.7h.01M375.7 71.1h.01M376.2 36.2h.01M376.2 84.7h.01M375.8 55.3h.01M373.0 38.6h.01M376.6 68.8h.01M373.5 73.0h.01M374.3 46.2h.01M372.9 66.7h.01M370.3 46.3h.01M371.9 64.4h.01M374.0 63.6h.01M374.5 40.6h.01M376.6 73.7h.01M371.7 57.0h.01M375.2 71.5h.01M373.4 43.2h.01M374.6 36.1h.01M373.1 37.3h.01M371.1 64.0h.01M375.9 43.6h.01M373.2 51.2h.01M375.1 77.9h.01M375.1 73.6h.01M376.3 70.8h.01M375.5 76.1h.01M373.4 87.6h.01M374.1 87.2h.01M373.3 57.7h.01M372.3 86.4h.01M373.8 58.7h.01M376.6 76.1h.01M369.9 43.9h.01M374.8 37.6h.01M373.1 58.5h.01M373.6 65.5h.01M373.5 75.5h.01M368.9 63.5h.01M373.1 69.7h.01M372.0 87.5h.01M376.4 82.6h.01M371.0 59.8h.01M372.7 70.1h.01M377.3 55.0h.01M372.2 57.3h.01M373.0 69.5h.01M371.4 51.1h.01M371.6 51.4h.01M375.0 68.8h.01M376.0 75.2h.01M375.5 78.6h.01M374.0 72.6h.01M374.8 65.3h.01M371.5 35.3h.01M373.1 66.2h.01M374.1 58.3h.01M371.7 60.2h.01M373.8 68.8h.01M375.4 82.9h.01M375.9 72.4h.01M373.8 56.9h.01M374.5 81.6h.01M371.7 54.2h.01M374.0 64.6h.01M372.2 81.2h.01M373.2 58.2h.01M375.9 67.8h.01M378.8 75.7h.01M375.3 81.3h.01M374.9 74.2h.01M373.2 65.6h.01M372.3 64.4h.01M371.0 35.3h.01M375.3 70.6h.01M374.9 87.5h.01M372.1 73.3h.01M372.2 82.4h.01M376.0 73.3h.01M372.1 66.2h.01M375.4 83.9h.01M373.8 54.6h.01M371.6 84.6h.01M374.4 87.6h.01M372.6 72.3h.01M374.5 48.1h.01M372.1 51.2h.01M374.0 54.0h.01M375.1 63.0h.01M372.6 56.2h.01M371.6 51.9h.01M373.6 52.0h.01M374.7 55.5h.01M373.4 61.1h.01M374.2 35.3h.01M372.6 71.4h.01M373.0 78.1h.01M374.2 64.5h.01M372.4 74.0h.01M374.7 82.2h.01M373.1 52.3h.01M373.4 74.3h.01M372.2 85.7h.01M373.8 65.6h.01M373.0 56.0h.01M374.1 84.8h.01M375.5 60.4h.01M372.3 63.7h.01M375.9 73.8h.01M375.0 46.6h.01M374.4 66.6h.01M374.0 49.7h.01M370.8 46.2h.01M375.3 66.8h.01M375.3 86.5h.01M376.5 49.8h.01M374.1 83.1h.01M374.9 61.8h.01M367.9 78.3h.01M369.1 65.8h.01M361.0 117.5h.01M362.6 113.4h.01M364.3 109.0h.01" stroke="#4B81B2" stroke-width="1.3" stroke-linecap="round" fill="none" opacity="1"/>
<path d="M396.3 120.3h.01M389.4 77.4h.01M387.8 61.5h.01M384.8 122.6h.01M384.8 76.3h.01M385.8 44.8h.01M386.3 104.0h.01M383.7 71.3h.01M386.6 40.2h.01M384.3 84.0h.01M393.3 99.2h.01M384.6 39.8h.01M388.0 67.9h.01M384.2 52.7h.01M388.6 98.5h.01M383.5 112.9h.01M387.9 39.8h.01M385.9 58.5h.01M386.1 90.6h.01M385.0 99.9h.01M383.9 68.0h.01M388.2 54.4h.01M383.3 54.7h.01M383.8 51.6h.01M386.6 86.5h.01M386.0 59.0h.01M386.3 90.1h.01M392.1 120.9h.01M384.6 55.5h.01M386.9 64.5h.01M383.7 32.9h.01M386.3 54.9h.01M389.4 120.0h.01M385.3 100.4h.01M391.3 106.3h.01M383.5 59.0h.01M385.5 52.1h.01M385.4 30.6h.01M386.4 88.4h.01M390.7 103.3h.01M387.8 50.3h.01M388.1 95.1h.01M388.8 69.1h.01M382.9 105.8h.01M384.5 54.6h.01M389.9 85.2h.01M390.3 105.9h.01M383.6 74.8h.01M385.9 66.4h.01M391.8 98.9h.01M384.2 71.8h.01M394.4 113.3h.01M389.0 88.4h.01M392.1 109.3h.01M384.5 74.7h.01M390.4 111.6h.01M383.2 102.8h.01M384.5 30.3h.01M391.9 94.3h.01M383.7 94.8h.01M387.1 116.1h.01M383.5 87.1h.01M384.1 74.2h.01M384.6 94.2h.01M383.8 121.3h.01M397.2 117.1h.01M384.0 39.1h.01M385.0 101.3h.01M384.7 61.2h.01M387.3 118.8h.01M383.3 104.4h.01M385.5 82.1h.01M384.8 66.9h.01M388.8 121.3h.01M385.1 96.3h.01M387.3 53.3h.01M387.5 105.7h.01M385.2 59.9h.01M387.0 30.0h.01M393.5 119.2h.01M391.1 119.3h.01M383.5 122.8h.01M384.4 44.5h.01M383.9 54.1h.01M384.3 62.9h.01M384.8 110.2h.01M383.9 106.3h.01M388.0 78.5h.01M384.0 66.0h.01M384.0 47.9h.01M385.8 48.9h.01M385.4 63.8h.01M386.6 35.1h.01M391.6 100.0h.01M393.2 122.9h.01M390.0 121.7h.01M383.8 53.8h.01M383.6 81.9h.01M393.3 103.3h.01M390.3 89.7h.01M384.3 51.3h.01M385.8 122.1h.01M383.9 70.8h.01M383.2 113.5h.01M383.1 120.8h.01M384.3 68.3h.01M384.3 83.2h.01M383.2 71.8h.01M383.7 38.1h.01M384.0 90.3h.01M387.6 70.0h.01M385.8 89.2h.01M383.8 99.2h.01M392.2 122.7h.01M387.6 101.8h.01M384.6 85.2h.01M383.5 90.0h.01M386.4 121.0h.01M383.4 66.9h.01M384.4 33.4h.01M386.3 75.9h.01M387.0 58.1h.01M386.3 59.7h.01M383.4 83.8h.01M383.3 56.2h.01M396.5 115.3h.01M386.8 72.2h.01M383.3 44.0h.01M383.7 96.7h.01M383.7 38.3h.01M393.5 106.6h.01M388.7 97.2h.01M391.7 116.4h.01M396.4 121.6h.01M383.7 45.3h.01M384.4 50.2h.01M385.3 52.3h.01M383.8 93.2h.01M386.1 46.5h.01M384.6 65.5h.01M387.3 107.6h.01M386.7 108.1h.01M387.7 30.7h.01M384.0 117.2h.01M388.1 117.4h.01M391.4 97.7h.01M383.5 64.8h.01M383.6 31.5h.01M384.7 40.8h.01M388.2 86.0h.01M389.7 79.0h.01M391.8 117.5h.01M388.4 74.4h.01M384.1 50.9h.01M390.4 97.3h.01M392.5 122.0h.01M385.8 109.3h.01M388.3 52.7h.01M383.0 66.4h.01M385.7 124.5h.01M384.6 114.7h.01M384.5 44.6h.01M383.1 114.5h.01M383.3 84.7h.01M386.5 98.9h.01M385.4 47.7h.01M390.0 117.8h.01M388.2 123.9h.01M383.5 105.8h.01M387.3 66.4h.01M386.4 89.8h.01M383.7 65.2h.01M383.4 63.2h.01M387.1 86.3h.01M384.3 59.9h.01M385.1 39.1h.01M387.0 72.3h.01M385.6 34.3h.01M383.5 51.5h.01M388.8 76.5h.01M384.3 55.3h.01M387.8 119.1h.01M385.4 106.0h.01M383.1 72.5h.01M386.1 41.5h.01M388.1 69.4h.01M385.8 58.4h.01M387.5 61.7h.01M383.4 95.9h.01M383.7 57.4h.01M384.0 112.3h.01M384.3 42.1h.01M386.4 113.0h.01M386.7 124.4h.01M383.3 96.7h.01M385.1 45.6h.01M387.5 43.9h.01M385.2 77.9h.01M385.8 61.8h.01M386.2 41.0h.01M389.7 90.5h.01M389.9 76.8h.01M392.4 108.9h.01M388.4 103.9h.01M386.9 42.1h.01M385.2 70.8h.01M388.1 113.0h.01M384.9 123.5h.01M392.8 109.2h.01M385.6 112.7h.01M383.5 32.2h.01M383.3 57.4h.01M384.1 66.1h.01M383.3 66.9h.01M385.7 36.1h.01M392.0 122.4h.01M384.0 96.5h.01M383.0 99.4h.01M383.3 69.1h.01M391.9 114.6h.01M394.8 106.8h.01M386.2 59.6h.01M383.7 73.9h.01M383.2 81.6h.01M384.6 120.8h.01M387.0 105.6h.01M393.2 119.4h.01M386.6 40.8h.01M384.0 56.5h.01M397.7 118.7h.01M394.5 113.7h.01M383.9 124.2h.01M383.4 53.2h.01M383.5 76.2h.01M384.8 54.1h.01M383.3 32.3h.01M389.7 98.0h.01M388.3 100.6h.01M390.2 107.7h.01M387.5 61.0h.01M383.8 117.0h.01M387.0 66.4h.01M383.8 51.5h.01M387.5 99.1h.01M391.4 107.4h.01M384.0 65.3h.01M384.6 67.6h.01M387.7 68.8h.01M387.7 65.8h.01M385.1 48.0h.01M383.6 81.6h.01M386.1 119.1h.01M387.5 104.6h.01M386.6 41.5h.01M388.8 113.0h.01M384.0 110.8h.01M383.1 125.1h.01M383.1 45.0h.01M394.6 121.5h.01M384.6 81.6h.01M383.3 116.3h.01M383.7 123.7h.01M383.8 82.2h.01M383.4 107.1h.01M389.6 92.8h.01M385.4 51.2h.01M392.4 99.6h.01M385.7 103.9h.01M389.3 89.7h.01M389.3 83.3h.01M383.5 99.0h.01M397.7 120.2h.01M387.8 79.1h.01M394.0 110.3h.01M385.1 92.7h.01M384.3 29.2h.01M389.5 92.3h.01M384.3 87.0h.01M390.9 107.6h.01M383.6 103.6h.01M386.5 54.5h.01M387.2 114.4h.01M386.3 48.6h.01M383.0 114.7h.01M383.4 47.1h.01M386.6 63.5h.01M387.4 44.7h.01M385.4 118.3h.01M396.9 119.7h.01M395.9 121.6h.01M383.7 55.8h.01M384.2 81.2h.01M387.1 77.4h.01M384.9 83.2h.01M384.8 90.1h.01M385.9 60.6h.01M385.9 64.9h.01M384.9 39.1h.01M383.6 89.0h.01M389.8 94.0h.01M389.3 118.2h.01M385.6 103.6h.01M384.7 69.7h.01M384.5 46.0h.01M384.4 53.2h.01M387.3 70.5h.01M387.8 82.5h.01M384.1 32.6h.01M392.6 104.1h.01M384.7 91.2h.01M383.8 35.2h.01M385.8 103.7h.01M385.9 96.3h.01M383.3 83.9h.01M389.8 86.6h.01M384.4 45.5h.01M382.7 124.5h.01M383.3 101.0h.01M385.0 57.0h.01M386.0 79.2h.01M388.3 62.4h.01M385.7 102.0h.01M390.3 99.9h.01M383.5 87.4h.01M382.9 124.8h.01M383.6 119.3h.01M389.8 80.3h.01M384.3 64.5h.01M383.6 123.0h.01M383.3 104.1h.01M388.7 70.1h.01M384.4 81.3h.01M391.2 113.8h.01M383.5 109.3h.01M384.0 111.7h.01M383.9 67.6h.01M385.9 106.9h.01M383.0 120.5h.01M382.9 66.4h.01M384.2 72.9h.01M385.3 94.4h.01M383.6 115.8h.01M385.3 111.8h.01M387.6 112.4h.01M385.0 64.3h.01M383.4 90.0h.01M391.1 123.4h.01M383.9 121.0h.01M384.9 41.8h.01M383.7 108.4h.01M383.5 42.3h.01M384.8 88.2h.01M387.0 34.0h.01M383.0 110.4h.01M396.7 120.2h.01M395.0 109.3h.01M383.6 106.2h.01M384.9 36.1h.01M389.2 86.6h.01M383.6 98.2h.01M389.8 83.5h.01M387.2 112.7h.01M385.2 38.8h.01M387.4 90.5h.01M384.4 64.5h.01M387.8 42.9h.01M387.9 97.7h.01M386.4 109.1h.01M391.6 107.7h.01M383.5 119.3h.01M387.5 75.3h.01M386.2 75.9h.01M384.0 91.7h.01M384.5 50.9h.01M385.3 62.1h.01M388.1 66.8h.01M383.7 38.7h.01M385.9 113.3h.01M388.0 61.6h.01M383.4 96.9h.01M387.6 105.7h.01M393.0 106.0h.01M385.8 71.1h.01M383.5 56.7h.01M388.9 68.6h.01M393.1 122.7h.01M387.4 92.5h.01M388.1 65.5h.01M384.7 88.0h.01M388.0 65.0h.01M388.0 54.5h.01M383.7 111.6h.01M392.7 100.1h.01M387.8 37.6h.01M384.3 57.2h.01M383.0 125.0h.01M384.2 100.8h.01M384.6 46.5h.01M384.9 97.3h.01M387.5 34.7h.01M383.2 37.1h.01M383.3 116.0h.01M383.2 111.9h.01M383.2 30.3h.01M387.1 63.3h.01M386.3 31.3h.01M383.8 121.9h.01M383.4 91.1h.01M387.0 120.4h.01M385.5 124.7h.01M383.3 79.4h.01M386.8 69.1h.01M383.5 73.8h.01M393.8 120.6h.01M383.6 99.9h.01M383.6 115.0h.01M383.1 84.7h.01M386.5 124.3h.01M383.3 112.2h.01M386.0 87.8h.01M387.9 63.7h.01M395.4 114.2h.01M388.7 73.8h.01M383.7 118.6h.01M385.4 118.4h.01M384.6 36.3h.01M384.6 76.7h.01M384.6 121.8h.01M385.8 52.5h.01M384.4 113.3h.01M384.9 29.2h.01M384.3 85.5h.01M385.6 92.9h.01M385.9 104.9h.01M395.4 110.6h.01M387.2 123.1h.01M383.3 124.8h.01M383.2 103.6h.01M385.1 101.7h.01M387.8 110.8h.01M383.1 62.5h.01M385.8 41.5h.01M385.8 48.0h.01M385.2 57.4h.01M383.7 37.8h.01M388.1 80.4h.01M387.5 115.0h.01M383.8 34.2h.01M383.6 92.0h.01M383.8 46.0h.01M383.7 88.5h.01M385.8 77.2h.01M393.5 103.0h.01M389.0 67.1h.01M384.1 46.9h.01M386.5 77.4h.01M388.5 72.5h.01M384.0 41.7h.01M383.5 65.4h.01M385.4 29.6h.01M392.3 95.8h.01M383.5 69.2h.01M383.5 88.8h.01M385.5 70.6h.01M396.2 118.1h.01M383.4 107.1h.01M383.2 101.6h.01M389.3 95.5h.01M383.7 116.9h.01M383.8 102.6h.01M385.4 118.1h.01M385.3 109.1h.01M384.2 58.6h.01M384.2 39.1h.01M386.3 105.4h.01M386.3 42.5h.01M390.2 94.7h.01M383.6 67.0h.01M385.9 30.6h.01M383.4 104.5h.01M382.9 83.4h.01M384.1 76.8h.01M387.6 111.4h.01M387.0 114.7h.01M384.9 90.0h.01M383.8 80.4h.01M387.0 102.0h.01M383.0 99.7h.01M384.6 82.9h.01M384.5 72.7h.01M385.8 59.7h.01M386.4 82.2h.01M383.6 78.9h.01M386.6 94.9h.01M389.0 110.1h.01M386.9 57.5h.01M387.0 30.5h.01M389.5 106.9h.01M384.7 92.8h.01M387.1 62.4h.01M383.9 116.1h.01M387.3 42.4h.01M383.6 71.1h.01M388.0 99.8h.01M388.8 74.2h.01M388.9 80.2h.01M386.7 74.1h.01M383.9 78.8h.01M384.0 32.5h.01M388.4 113.1h.01M393.9 101.9h.01M383.3 103.0h.01M385.8 85.4h.01M389.6 90.3h.01M383.9 65.9h.01M383.0 109.5h.01M385.3 34.7h.01M395.2 120.5h.01M391.0 119.7h.01M385.2 56.1h.01M383.8 105.6h.01M383.8 82.2h.01M383.2 81.7h.01M388.3 116.2h.01M395.2 117.5h.01M388.0 38.6h.01M389.7 105.5h.01M383.6 64.4h.01M383.0 117.2h.01M384.5 53.6h.01M383.2 51.3h.01M396.1 121.5h.01M389.1 68.2h.01M387.0 118.0h.01M385.0 41.2h.01M382.9 98.6h.01M383.9 110.9h.01M388.5 57.4h.01M387.5 63.8h.01M390.9 96.5h.01M384.6 109.3h.01M390.2 107.5h.01M388.1 53.6h.01M386.4 87.9h.01M388.5 75.2h.01M385.0 87.0h.01M385.2 124.2h.01M383.4 90.8h.01M393.0 106.8h.01M385.2 75.7h.01M384.7 122.8h.01M383.3 77.6h.01M386.1 73.0h.01M387.2 36.8h.01M385.4 72.6h.01M384.2 62.8h.01M387.2 79.1h.01M384.6 96.1h.01M384.6 68.5h.01M388.4 104.7h.01M383.6 43.4h.01M386.2 70.4h.01M383.0 94.6h.01M389.0 71.2h.01M386.0 68.2h.01M395.5 117.8h.01M385.2 85.8h.01M383.4 29.4h.01M389.3 122.2h.01M385.0 29.1h.01M385.2 104.5h.01M397.6 117.4h.01M384.7 59.7h.01M383.9 42.0h.01M385.3 44.4h.01M383.1 91.2h.01M383.9 76.9h.01M384.0 42.8h.01M386.4 51.6h.01M384.0 98.4h.01M383.3 109.5h.01M383.6 49.7h.01M385.8 84.6h.01M391.5 111.8h.01M394.7 114.8h.01M384.1 116.3h.01M385.3 117.6h.01M388.9 95.2h.01M383.3 121.6h.01M383.7 114.4h.01M388.1 58.7h.01M383.9 88.6h.01M384.9 102.6h.01M386.3 120.5h.01M383.6 59.7h.01M383.6 68.8h.01M393.4 112.1h.01M383.7 50.4h.01M389.6 121.4h.01M384.2 47.3h.01M387.8 116.7h.01M383.4 63.1h.01M383.8 96.7h.01M393.0 103.9h.01M385.7 40.3h.01M386.0 101.0h.01M384.5 79.9h.01M386.0 30.2h.01M384.2 45.6h.01M388.3 84.8h.01M388.0 59.8h.01M387.2 122.7h.01M391.8 101.2h.01M386.1 55.3h.01M385.4 82.8h.01M389.9 77.4h.01M392.4 116.4h.01M388.9 118.0h.01M384.2 44.4h.01M387.8 112.9h.01M384.6 86.3h.01M386.7 35.9h.01M384.7 34.7h.01M386.7 92.0h.01M383.5 29.7h.01M383.7 32.3h.01M386.0 64.2h.01M383.8 92.4h.01M383.1 95.0h.01M384.2 80.5h.01M383.5 83.3h.01M385.6 119.6h.01M391.6 118.3h.01M394.2 122.1h.01M387.7 113.1h.01M383.2 43.7h.01M384.8 61.8h.01M383.7 36.3h.01M385.5 63.7h.01M392.5 108.3h.01M391.0 119.3h.01M394.2 114.9h.01M396.2 115.8h.01M390.9 122.9h.01M386.4 81.3h.01M385.0 29.7h.01M384.2 51.3h.01M383.8 87.7h.01M385.5 43.3h.01M386.3 58.2h.01M393.7 114.9h.01M383.2 121.9h.01M391.5 110.9h.01M391.8 97.6h.01M384.1 116.2h.01M387.3 59.6h.01M384.0 58.7h.01M385.6 79.8h.01M394.4 116.1h.01M383.9 120.4h.01M386.6 58.1h.01M383.5 92.1h.01M384.0 87.4h.01M389.5 101.8h.01M382.9 75.1h.01M387.9 69.3h.01M389.6 70.2h.01M391.7 112.6h.01M388.8 104.4h.01M384.2 72.9h.01M388.9 108.0h.01M383.3 62.4h.01M396.1 115.9h.01M385.2 59.0h.01M386.3 81.7h.01M383.5 91.2h.01M385.1 80.9h.01M382.9 72.3h.01M383.1 81.3h.01M384.8 66.5h.01M396.4 115.7h.01M390.7 122.9h.01M384.9 94.5h.01M390.3 117.0h.01M385.0 82.9h.01M384.3 115.4h.01M386.6 78.7h.01M389.4 98.6h.01M384.1 76.2h.01M387.9 46.9h.01M386.7 50.5h.01M391.9 104.2h.01M386.5 106.3h.01M383.9 119.1h.01M386.7 52.8h.01M383.8 30.5h.01M385.6 52.4h.01M392.4 120.1h.01M383.5 61.9h.01M385.9 88.3h.01M386.3 79.1h.01M383.5 82.4h.01M383.4 84.5h.01M383.7 57.6h.01M394.1 105.0h.01M383.8 73.4h.01M390.5 121.6h.01M388.9 66.0h.01M392.3 121.9h.01M383.0 124.7h.01M388.0 60.2h.01M386.3 123.2h.01M383.8 101.9h.01M383.4 70.9h.01M383.7 68.6h.01M386.8 106.8h.01M389.2 67.9h.01M386.4 67.0h.01M384.6 76.1h.01M385.7 80.0h.01M386.3 38.7h.01M384.7 74.8h.01M398.1 120.1h.01M396.2 121.9h.01M389.6 78.2h.01M388.8 105.3h.01M383.8 51.6h.01M388.8 74.6h.01M383.9 75.3h.01M382.9 119.4h.01M385.7 76.9h.01M384.1 113.4h.01M384.2 76.0h.01M388.2 88.0h.01M387.6 122.4h.01M385.8 113.3h.01M396.2 115.6h.01M385.9 121.8h.01M385.4 54.2h.01M384.6 69.7h.01M384.7 48.3h.01M383.5 52.7h.01M389.4 114.0h.01M384.5 68.8h.01M382.8 75.5h.01M384.6 77.0h.01M389.1 71.9h.01M387.1 49.9h.01M389.6 110.3h.01M384.4 52.0h.01M384.8 39.1h.01M383.1 94.2h.01M387.0 45.7h.01M384.3 32.4h.01M383.8 103.4h.01M387.4 82.0h.01M386.0 48.3h.01M384.9 44.1h.01M387.4 92.0h.01M389.2 65.8h.01M390.5 118.9h.01M385.0 115.4h.01M383.3 64.4h.01M388.7 57.5h.01M383.5 48.0h.01M386.1 79.4h.01M383.8 96.3h.01M385.8 65.5h.01M383.6 34.0h.01M383.1 68.7h.01M388.7 83.7h.01M384.8 31.0h.01M386.4 80.3h.01M385.7 41.0h.01M387.2 94.5h.01M383.3 86.3h.01M391.8 104.0h.01M385.5 115.1h.01M383.5 89.7h.01M383.9 80.7h.01M383.1 69.4h.01M383.9 124.7h.01M394.1 121.7h.01M383.6 40.8h.01M387.8 85.9h.01M383.8 123.2h.01M386.9 35.4h.01M383.7 70.7h.01M387.4 41.7h.01M386.7 54.8h.01M389.0 96.6h.01M391.6 90.3h.01M384.6 54.0h.01M383.0 72.6h.01M384.2 110.4h.01M386.8 71.4h.01M383.5 70.5h.01M384.8 57.6h.01M384.2 64.1h.01M386.8 93.3h.01M396.7 119.2h.01M392.5 99.6h.01M383.0 105.1h.01M385.6 50.3h.01M387.4 90.6h.01M389.6 112.8h.01M383.4 77.7h.01M388.2 120.6h.01M384.3 95.1h.01M389.0 122.0h.01M385.3 29.8h.01M385.0 110.7h.01M383.6 109.6h.01M386.7 51.0h.01M392.7 120.8h.01M383.6 45.5h.01M384.8 107.9h.01M386.3 39.0h.01M384.9 47.2h.01M383.4 117.0h.01M385.3 117.4h.01M383.9 46.0h.01M389.4 83.9h.01M383.3 80.4h.01M386.9 41.9h.01M386.7 76.8h.01M383.0 111.4h.01M382.8 113.9h.01M383.9 77.1h.01M383.8 78.0h.01M386.1 63.7h.01M386.9 87.2h.01M384.9 122.7h.01M383.6 83.6h.01M383.4 64.6h.01M385.5 124.4h.01M386.2 51.3h.01M387.5 58.0h.01M386.1 121.1h.01M392.8 112.2h.01M387.9 73.4h.01M384.0 66.8h.01M385.4 106.3h.01M392.8 105.8h.01M390.4 83.1h.01M393.2 99.8h.01M387.2 86.8h.01M385.8 114.3h.01M388.7 93.3h.01M385.1 69.7h.01M383.1 42.9h.01M384.4 57.4h.01M384.9 83.1h.01M393.5 110.1h.01M384.4 113.1h.01M384.0 69.2h.01M383.2 100.2h.01M383.7 104.6h.01M383.5 85.4h.01M387.9 113.2h.01M383.4 101.4h.01M384.2 93.4h.01M384.6 122.6h.01M385.5 107.5h.01M385.4 40.7h.01M387.8 54.0h.01M392.7 109.1h.01M384.5 124.3h.01M384.1 109.1h.01M390.2 102.2h.01M387.8 103.8h.01M386.7 83.2h.01M384.7 53.0h.01M386.4 87.4h.01M383.6 104.0h.01M383.8 75.4h.01M388.1 113.4h.01M383.5 40.4h.01M388.1 51.7h.01M387.0 96.5h.01M387.2 65.2h.01M390.0 100.5h.01M389.2 74.7h.01M386.6 45.4h.01M383.6 63.9h.01M383.5 68.8h.01M383.5 68.0h.01M387.5 79.8h.01M384.2 35.3h.01M389.2 75.5h.01M383.4 61.9h.01M384.3 89.8h.01M387.5 45.3h.01M385.1 33.4h.01M387.5 43.8h.01M387.1 71.3h.01M386.2 100.3h.01M384.1 52.9h.01M384.6 63.3h.01M390.5 120.8h.01M383.7 107.7h.01M385.9 41.9h.01M385.2 91.2h.01M387.9 104.1h.01M385.4 36.1h.01M384.3 52.8h.01M383.2 97.6h.01M386.0 49.3h.01M385.3 55.1h.01M383.3 75.0h.01M388.3 82.8h.01M383.7 80.6h.01M389.1 112.3h.01M395.1 110.7h.01M383.4 41.1h.01M384.3 124.1h.01M383.5 69.0h.01M392.6 99.6h.01M383.3 117.1h.01M387.5 102.2h.01M384.6 34.9h.01M384.6 46.3h.01M384.4 122.4h.01M388.9 102.3h.01M383.6 61.5h.01M386.7 43.6h.01M391.0 114.2h.01M393.1 110.7h.01M384.6 47.4h.01M385.1 41.6h.01M384.3 72.7h.01M383.2 89.0h.01M390.5 120.4h.01M384.1 35.0h.01M385.7 80.7h.01M388.1 57.1h.01M393.3 103.9h.01M383.4 114.2h.01M383.2 121.0h.01M384.5 88.3h.01M383.3 60.4h.01M385.0 104.2h.01M384.4 59.0h.01M386.2 110.6h.01M388.1 116.6h.01M389.0 60.6h.01M386.7 51.2h.01M385.7 119.0h.01M387.7 38.3h.01M387.4 94.2h.01M384.1 75.1h.01M386.1 55.1h.01M384.5 31.3h.01M382.9 110.0h.01M386.0 50.9h.01M393.8 112.4h.01M388.5 70.1h.01M383.5 122.6h.01M386.8 79.3h.01M383.6 42.4h.01M383.8 42.1h.01M384.7 109.4h.01M387.4 109.0h.01M383.6 105.5h.01M384.1 63.9h.01M390.0 107.2h.01M384.3 40.6h.01M383.9 29.6h.01M382.7 123.8h.01M385.6 105.1h.01M384.9 93.8h.01M383.5 67.3h.01M383.8 43.0h.01M384.6 66.5h.01M384.6 76.4h.01M384.5 31.1h.01M391.1 101.1h.01M383.7 92.3h.01M384.2 77.1h.01M385.2 36.4h.01M385.8 51.5h.01M383.7 76.4h.01M385.6 57.5h.01M385.0 32.8h.01M384.8 32.5h.01M392.1 99.1h.01M390.4 82.5h.01M383.2 124.8h.01M383.4 62.3h.01M384.1 38.3h.01M391.7 120.7h.01M387.9 44.8h.01M385.1 49.6h.01M384.2 69.7h.01M384.9 100.7h.01M383.6 56.4h.01M383.1 83.5h.01M384.1 33.6h.01M384.0 82.4h.01M384.0 103.6h.01M384.4 58.4h.01M386.8 118.1h.01M383.3 120.8h.01M383.7 111.3h.01M384.8 82.6h.01M383.0 117.0h.01M393.3 122.2h.01M384.4 101.1h.01M384.4 38.1h.01M384.1 123.5h.01M385.1 69.9h.01M389.0 67.5h.01M387.0 33.7h.01M389.6 116.6h.01M383.5 84.2h.01M384.7 71.7h.01M386.9 87.6h.01M383.3 93.2h.01M383.5 44.3h.01M386.3 75.0h.01M387.6 119.9h.01M391.7 121.6h.01M385.7 106.5h.01M388.0 72.5h.01M383.3 83.3h.01M393.5 120.0h.01M386.1 124.7h.01M385.1 124.0h.01M383.7 31.8h.01M384.9 38.3h.01M387.3 66.8h.01M388.4 97.1h.01M384.4 33.2h.01M383.4 73.6h.01M387.5 39.3h.01M383.5 102.6h.01M386.9 55.8h.01M383.7 110.1h.01M385.8 96.2h.01M384.4 57.9h.01M384.4 110.2h.01M388.1 55.1h.01M383.6 121.1h.01M388.3 89.1h.01M384.4 49.0h.01M389.6 70.1h.01M393.8 106.5h.01M385.6 70.0h.01M383.5 46.0h.01M383.9 50.1h.01M383.3 54.7h.01M385.3 61.9h.01M385.7 46.7h.01M390.8 95.7h.01M383.7 103.6h.01M386.1 51.3h.01M386.4 108.7h.01M394.8 110.6h.01M398.3 120.6h.01M388.3 64.9h.01M385.3 50.1h.01M386.9 35.7h.01M385.1 110.7h.01M393.6 111.3h.01M389.7 119.1h.01M386.3 44.1h.01M383.5 55.3h.01M383.8 121.8h.01M385.1 44.4h.01M391.8 107.4h.01M383.6 53.1h.01M384.4 59.3h.01M390.0 102.2h.01M383.7 62.0h.01M383.5 84.7h.01M385.2 120.7h.01M384.2 99.2h.01M384.0 46.7h.01M383.5 117.4h.01M387.6 59.3h.01M383.8 94.5h.01M383.6 56.0h.01M383.3 91.0h.01M389.0 69.0h.01M384.1 102.1h.01M383.0 123.8h.01M387.8 118.8h.01M383.4 86.2h.01M391.5 116.6h.01M385.1 109.6h.01M385.2 91.0h.01M395.4 113.3h.01M384.2 31.5h.01M382.9 119.0h.01M390.3 100.9h.01M386.0 86.6h.01M386.8 112.8h.01M385.7 30.1h.01M395.9 117.9h.01M389.8 113.3h.01M386.9 113.2h.01M385.4 32.8h.01M386.5 83.5h.01M383.7 105.2h.01M389.1 73.7h.01M387.6 104.3h.01M387.7 123.2h.01M383.4 120.5h.01M386.8 86.8h.01M387.4 117.9h.01M383.2 53.1h.01M383.8 92.7h.01M392.3 121.8h.01M386.9 65.4h.01M384.9 94.5h.01M384.7 55.0h.01M384.1 81.4h.01M383.1 102.1h.01M386.8 41.8h.01M383.1 104.9h.01M389.1 85.0h.01M383.8 31.4h.01M384.1 102.3h.01M387.4 118.2h.01M386.5 32.9h.01M385.4 86.1h.01M383.5 64.0h.01M386.4 104.1h.01M390.0 114.2h.01M388.5 122.7h.01M394.2 120.1h.01M393.7 104.0h.01M383.4 101.3h.01M384.6 50.9h.01M388.0 106.8h.01M384.4 121.1h.01M383.4 110.9h.01M385.7 75.0h.01M385.5 65.5h.01M384.7 116.9h.01M395.7 117.0h.01M389.7 78.4h.01M384.1 40.6h.01M384.8 34.2h.01M382.8 98.2h.01M389.5 92.8h.01M387.4 41.2h.01M393.2 103.9h.01M386.6 51.8h.01M383.6 64.7h.01M385.9 101.5h.01M387.0 116.1h.01M393.3 121.8h.01M387.9 102.4h.01M384.6 61.9h.01M386.0 51.1h.01M383.3 56.3h.01M383.7 48.9h.01M384.4 38.0h.01M385.8 113.6h.01M386.9 90.9h.01M388.0 53.2h.01M384.6 72.2h.01M385.1 48.5h.01M387.2 64.0h.01M387.4 89.4h.01M384.8 42.5h.01M394.2 115.6h.01M389.8 79.5h.01M395.5 118.4h.01M383.3 108.0h.01M383.2 77.1h.01M385.7 54.5h.01M388.7 85.3h.01M385.0 120.5h.01M386.0 63.4h.01M394.7 122.6h.01M383.5 84.8h.01M383.4 91.9h.01M393.5 119.0h.01M384.1 124.1h.01M383.9 35.4h.01M385.3 82.9h.01M389.8 94.4h.01M384.8 84.1h.01M389.0 120.6h.01M384.8 84.0h.01M383.6 87.3h.01M386.2 45.0h.01M387.0 80.4h.01M390.9 109.2h.01M385.1 107.2h.01M383.9 54.7h.01M391.2 115.1h.01M384.1 104.7h.01M384.8 70.3h.01M387.5 65.5h.01M387.1 82.6h.01M383.5 45.4h.01M386.1 124.8h.01M384.7 80.5h.01M391.6 118.9h.01M383.1 105.5h.01M383.6 88.9h.01M383.6 90.3h.01M386.8 90.4h.01M383.6 66.4h.01M386.4 121.0h.01M384.4 72.0h.01M387.5 50.5h.01M383.2 50.4h.01M383.8 96.3h.01M383.5 75.6h.01M384.5 29.3h.01M385.3 33.0h.01M386.9 76.2h.01M388.8 87.6h.01M383.5 36.8h.01M383.4 70.1h.01M394.0 117.3h.01M393.5 108.5h.01M388.8 90.2h.01M386.4 98.9h.01M384.7 119.2h.01M389.5 105.8h.01M385.5 32.1h.01M394.9 120.8h.01M384.6 33.5h.01M383.2 117.1h.01M388.6 79.3h.01M383.3 121.8h.01M386.4 36.5h.01M389.3 123.4h.01M384.2 102.0h.01M383.8 104.3h.01M387.6 78.3h.01M382.9 105.7h.01M385.9 111.6h.01M385.2 35.3h.01M387.1 80.3h.01M386.9 44.9h.01M393.0 121.7h.01M387.3 37.4h.01M383.4 69.4h.01M383.4 92.3h.01M383.4 80.7h.01M391.3 108.8h.01M385.8 44.9h.01M387.7 50.2h.01M387.0 29.6h.01M392.9 101.9h.01M383.6 45.0h.01M383.8 45.3h.01M386.2 84.7h.01M389.0 78.8h.01M385.0 46.3h.01M391.7 109.5h.01M386.6 55.4h.01M384.9 49.6h.01M383.3 79.4h.01M383.5 72.1h.01M383.7 64.7h.01M384.2 29.0h.01M394.2 105.4h.01M383.1 104.3h.01M383.5 74.7h.01M386.3 40.2h.01M390.4 122.9h.01M383.6 45.9h.01M384.7 37.8h.01M383.6 48.9h.01M384.0 100.1h.01M389.8 120.9h.01M384.7 102.1h.01M389.3 118.1h.01M393.2 98.3h.01M384.0 62.6h.01M390.1 101.2h.01M385.8 71.2h.01M388.6 69.3h.01M383.7 89.2h.01M389.8 87.8h.01M384.0 32.2h.01M383.5 124.5h.01M384.8 121.6h.01M387.0 64.9h.01M385.1 48.6h.01M383.8 60.4h.01M388.2 77.0h.01M389.6 123.8h.01M384.0 90.2h.01M393.4 101.3h.01M385.2 59.4h.01M383.7 51.1h.01M384.1 80.6h.01M387.9 53.6h.01M383.7 91.5h.01M391.3 97.3h.01M385.4 82.2h.01M385.5 97.4h.01M384.8 122.1h.01M383.1 106.9h.01M384.0 77.5h.01M388.1 60.1h.01M390.3 102.2h.01M384.4 123.9h.01M385.4 97.1h.01M383.0 110.6h.01M383.4 94.4h.01M383.8 47.5h.01M386.5 84.0h.01M383.9 52.1h.01M386.7 71.1h.01M387.0 83.6h.01M388.3 91.0h.01M383.2 91.4h.01M384.8 114.5h.01M383.5 102.9h.01M383.7 81.2h.01M389.3 98.7h.01M384.8 48.5h.01M384.2 78.3h.01M390.7 113.0h.01M383.9 110.0h.01M384.7 72.7h.01M384.4 53.5h.01M385.8 54.7h.01M383.9 74.4h.01M397.9 117.6h.01M391.9 90.6h.01M382.9 110.2h.01M383.3 48.3h.01M387.1 114.3h.01M383.2 117.0h.01M383.5 91.9h.01M386.0 63.2h.01M390.6 99.8h.01M383.6 36.9h.01M387.2 116.4h.01M386.6 47.8h.01M384.5 75.8h.01M384.2 77.7h.01M385.0 50.6h.01M385.2 54.9h.01M386.9 101.7h.01M384.3 42.4h.01M386.1 92.8h.01M387.1 113.7h.01M386.7 124.3h.01M385.6 41.3h.01M388.6 105.7h.01M387.9 90.8h.01M388.2 51.5h.01M385.6 96.5h.01M384.3 50.1h.01M385.2 44.4h.01M383.3 82.0h.01M386.0 55.5h.01M389.2 117.3h.01M384.6 96.9h.01M385.3 81.6h.01M387.8 41.6h.01M396.7 119.5h.01M384.7 74.3h.01M396.1 111.7h.01M390.0 95.3h.01M384.6 51.8h.01M386.5 52.6h.01M390.0 111.0h.01M390.8 109.8h.01M384.8 71.9h.01M383.7 63.1h.01M388.3 86.7h.01M386.5 66.2h.01M388.6 73.5h.01M389.9 89.5h.01M383.8 101.2h.01M383.9 58.8h.01M387.9 50.4h.01M386.1 64.3h.01M383.2 109.8h.01M386.9 49.7h.01M386.1 45.8h.01M386.7 35.8h.01M384.2 43.2h.01M394.2 113.7h.01M389.9 80.0h.01M395.2 116.3h.01M384.5 51.4h.01M383.9 36.5h.01M386.9 112.5h.01M383.7 61.5h.01M383.8 52.9h.01M386.7 59.2h.01M384.4 53.1h.01M383.9 46.9h.01M385.2 63.4h.01M384.3 38.2h.01M384.0 88.6h.01M389.3 111.3h.01M387.4 77.7h.01M386.0 81.9h.01M385.2 81.8h.01M386.6 101.0h.01M386.0 90.3h.01M389.3 76.2h.01M387.7 102.4h.01M383.8 88.8h.01M383.7 31.1h.01M384.3 99.7h.01M384.0 35.4h.01M385.4 67.8h.01M383.7 81.5h.01M388.0 123.6h.01M384.2 59.0h.01M388.3 101.1h.01M387.7 63.0h.01M390.6 123.2h.01M387.6 98.9h.01M389.8 108.8h.01M384.0 35.2h.01M384.2 56.4h.01M388.9 106.7h.01M385.8 71.3h.01M384.2 32.1h.01M387.0 41.1h.01M383.8 122.4h.01M383.9 64.5h.01M387.3 53.5h.01M383.7 50.2h.01M383.5 37.0h.01M386.5 50.0h.01M385.7 81.5h.01M392.0 123.2h.01M384.3 34.2h.01M391.8 96.6h.01M386.9 111.3h.01M383.1 103.3h.01M383.5 64.7h.01M386.6 43.0h.01M389.6 84.1h.01M383.0 107.4h.01M383.1 118.7h.01M384.0 35.4h.01M391.1 98.1h.01M396.6 120.6h.01M383.4 52.6h.01M386.2 61.4h.01M396.4 120.6h.01M386.5 78.1h.01M391.9 110.6h.01M384.3 37.3h.01M383.7 45.5h.01M383.6 123.9h.01M387.8 116.1h.01M385.5 38.8h.01M383.7 82.9h.01M386.1 92.3h.01M384.4 38.1h.01M383.4 62.6h.01M383.5 106.2h.01M384.6 53.1h.01M388.2 119.1h.01M397.8 114.2h.01M383.2 75.6h.01M386.5 124.6h.01M390.9 122.3h.01M384.5 115.8h.01M387.8 110.1h.01M384.6 124.8h.01M385.1 71.8h.01M391.2 105.6h.01M389.0 109.1h.01M388.1 123.3h.01M384.4 119.3h.01M383.6 34.0h.01M383.2 124.0h.01M384.7 106.3h.01M387.9 100.2h.01M384.2 68.8h.01M390.3 117.5h.01M389.8 91.5h.01M386.8 75.1h.01M383.5 95.1h.01M385.4 41.0h.01M388.8 100.3h.01M386.6 106.5h.01M390.7 108.6h.01M386.7 80.3h.01M390.0 120.4h.01M384.1 53.2h.01M390.2 78.7h.01M385.8 47.5h.01M383.8 66.1h.01M386.1 63.1h.01M384.4 86.6h.01M384.3 100.1h.01M383.2 79.6h.01M386.6 79.0h.01M387.6 106.8h.01M397.4 121.2h.01M392.7 117.7h.01M384.7 90.8h.01M393.8 108.6h.01M384.8 69.7h.01M384.1 59.2h.01M385.7 102.8h.01M390.6 118.8h.01M384.7 100.9h.01M393.9 110.0h.01M386.0 89.3h.01M384.0 74.5h.01M383.6 65.7h.01M386.2 111.3h.01M386.3 39.7h.01M389.5 112.6h.01M383.7 76.7h.01M384.2 38.8h.01M383.7 70.3h.01M389.3 103.8h.01M384.7 59.2h.01M383.3 105.0h.01M386.3 49.3h.01M386.4 83.6h.01M386.4 93.0h.01M383.5 97.8h.01M387.8 71.1h.01M383.9 95.6h.01M383.0 122.3h.01M386.7 105.5h.01M388.4 112.6h.01M386.1 65.9h.01M384.2 34.8h.01M383.0 77.4h.01M385.8 103.2h.01M383.6 49.6h.01M383.7 78.6h.01M386.2 106.9h.01M393.8 105.8h.01M383.6 58.9h.01M387.0 58.7h.01M386.7 58.3h.01M385.7 50.7h.01M384.7 96.3h.01M387.2 47.8h.01M386.4 53.1h.01M384.2 100.4h.01M384.1 88.5h.01M393.5 116.6h.01M383.4 81.6h.01M383.9 94.2h.01M385.2 85.4h.01M394.7 115.6h.01M387.1 53.9h.01M387.0 34.0h.01M387.3 29.6h.01M388.2 69.7h.01M387.4 119.3h.01M385.5 30.0h.01M386.3 111.4h.01M386.3 104.9h.01M384.6 75.1h.01M385.7 85.0h.01M387.1 76.0h.01M383.6 103.7h.01M387.8 56.3h.01M384.0 69.9h.01M383.8 77.1h.01M386.5 29.7h.01M387.6 54.2h.01M383.5 35.7h.01M383.7 70.3h.01M391.0 106.4h.01M386.8 36.9h.01M383.5 40.7h.01M387.1 50.9h.01M390.9 118.5h.01M387.9 122.9h.01M390.1 118.1h.01M394.1 101.8h.01M383.0 118.6h.01M383.4 47.2h.01M384.0 113.9h.01M384.0 67.6h.01M389.1 95.8h.01M383.1 98.4h.01M383.8 89.2h.01M383.7 44.9h.01M383.3 120.6h.01M386.0 37.2h.01M383.1 106.6h.01M391.3 110.4h.01M392.6 98.0h.01M385.3 51.7h.01M386.4 95.8h.01M385.2 78.1h.01M392.6 123.1h.01M383.9 77.8h.01M385.9 65.2h.01M383.3 30.3h.01M387.0 110.0h.01M387.5 111.8h.01M383.3 102.5h.01M383.3 47.5h.01M383.5 100.5h.01M383.1 73.8h.01M384.9 90.7h.01M384.0 30.8h.01M385.3 83.4h.01M396.2 112.5h.01M383.5 72.9h.01M385.6 123.9h.01M385.0 105.5h.01M383.8 29.0h.01M392.5 121.8h.01M389.7 97.3h.01M391.6 119.9h.01M384.8 72.8h.01M385.3 91.8h.01M386.8 100.6h.01M383.6 95.6h.01M383.5 43.3h.01M391.7 114.8h.01M390.4 86.0h.01M384.5 69.5h.01M391.9 120.2h.01M386.5 52.0h.01M384.7 111.6h.01M386.9 35.8h.01M384.2 62.4h.01M391.3 94.9h.01M385.9 116.2h.01M387.4 38.7h.01M389.6 107.0h.01M387.2 119.5h.01M386.1 112.9h.01M386.7 66.8h.01M384.5 103.3h.01M384.2 92.8h.01M385.9 67.6h.01M384.4 104.5h.01M383.6 29.9h.01M391.7 111.7h.01M384.8 36.1h.01M388.4 118.1h.01M388.2 71.4h.01M386.7 38.4h.01M386.5 44.4h.01M390.5 85.2h.01M388.9 111.5h.01M384.8 80.1h.01M386.8 92.9h.01M386.3 57.7h.01M388.5 86.5h.01M390.2 106.0h.01M383.9 46.6h.01M385.3 47.7h.01M383.5 80.6h.01M385.6 97.2h.01M391.2 95.9h.01M390.3 104.6h.01M387.3 58.3h.01M392.5 122.9h.01M392.2 103.5h.01M397.3 115.2h.01M386.3 39.0h.01M384.7 60.9h.01M386.5 46.8h.01M383.2 62.4h.01M387.0 81.3h.01M383.2 74.4h.01M384.4 92.5h.01M383.7 113.0h.01M395.6 111.0h.01M388.5 67.6h.01M383.5 39.0h.01M384.5 71.0h.01M383.6 69.4h.01M394.4 119.6h.01M383.0 112.4h.01M390.6 81.4h.01M388.4 90.7h.01M387.6 75.5h.01M383.8 54.0h.01M393.4 119.3h.01M385.6 71.0h.01M387.3 123.5h.01M391.2 99.8h.01M383.3 97.5h.01M384.9 83.0h.01M387.7 43.6h.01M383.4 102.0h.01M385.8 43.9h.01M388.3 46.9h.01M386.7 114.5h.01M385.0 81.8h.01M386.5 93.7h.01M389.2 93.1h.01M387.2 116.0h.01M386.0 116.6h.01M383.8 62.3h.01M383.1 120.3h.01M384.3 123.4h.01M385.4 42.0h.01M386.0 67.2h.01M383.6 69.2h.01M384.3 110.2h.01M383.4 74.6h.01M387.9 102.5h.01M386.8 91.7h.01M396.4 119.4h.01M384.2 93.3h.01M386.6 47.5h.01M383.9 112.0h.01M385.0 78.5h.01M385.9 39.9h.01M383.5 102.3h.01M383.2 104.5h.01M393.5 99.5h.01M385.9 69.5h.01M387.5 54.0h.01M392.6 100.0h.01M383.3 108.2h.01M387.7 43.6h.01M383.8 52.1h.01M389.3 90.1h.01M383.5 112.7h.01M384.8 100.9h.01M389.9 121.8h.01M392.3 101.6h.01M384.9 55.3h.01M385.4 91.2h.01M383.2 77.8h.01M386.4 38.6h.01M383.9 118.4h.01M384.9 94.1h.01M386.0 110.3h.01M383.1 109.5h.01M383.7 109.2h.01M385.9 29.9h.01M385.2 50.1h.01M385.5 124.5h.01M384.2 65.1h.01M384.0 32.6h.01M385.7 117.1h.01M384.8 64.0h.01M397.4 121.7h.01M387.4 80.0h.01M383.9 121.1h.01M383.1 106.8h.01M385.5 53.3h.01M384.2 84.8h.01M383.1 81.1h.01M386.1 115.2h.01M386.7 75.1h.01M384.1 57.8h.01M384.6 54.8h.01M387.2 114.2h.01M383.2 99.7h.01M383.4 115.1h.01M386.0 54.8h.01M386.4 98.7h.01M385.0 123.7h.01M385.8 63.5h.01M386.8 88.3h.01M383.8 53.9h.01M386.6 110.0h.01M386.9 119.0h.01M388.6 115.0h.01M384.4 56.5h.01M386.8 114.6h.01M383.9 103.6h.01M388.4 87.5h.01M387.5 110.5h.01M384.7 58.1h.01M390.6 84.2h.01M384.5 73.3h.01M385.8 56.6h.01M384.9 124.7h.01M385.5 87.6h.01M388.0 112.1h.01M383.9 49.9h.01M386.9 109.7h.01M394.5 121.6h.01M387.8 114.2h.01M390.0 103.6h.01M383.2 65.9h.01M383.5 115.2h.01M385.6 102.9h.01M383.4 41.7h.01M383.7 88.0h.01M385.8 64.1h.01M389.8 105.0h.01M383.0 64.7h.01M388.2 54.4h.01M394.6 118.1h.01M388.0 85.4h.01M396.6 116.5h.01M387.2 120.8h.01M390.5 82.5h.01M386.1 124.1h.01M384.4 76.1h.01M386.8 44.5h.01M390.3 111.2h.01M383.8 29.7h.01M383.6 44.9h.01M383.0 96.1h.01M392.3 104.2h.01M386.2 106.9h.01M383.9 35.9h.01M389.2 95.5h.01M392.2 106.8h.01M385.3 56.4h.01M392.4 121.9h.01M388.6 92.9h.01M386.4 102.4h.01M384.4 117.4h.01M384.8 38.6h.01M383.6 102.0h.01M385.2 117.3h.01M387.6 33.3h.01M388.4 63.3h.01M384.8 70.1h.01M387.4 33.2h.01M384.2 32.1h.01M386.7 61.1h.01M385.2 44.3h.01M384.4 49.4h.01M392.9 111.2h.01M383.8 87.7h.01M385.6 47.5h.01M393.0 118.3h.01M383.2 117.1h.01M389.6 81.3h.01M387.6 113.0h.01M384.7 45.4h.01M383.7 53.1h.01M383.0 60.3h.01M388.9 104.1h.01M384.6 65.0h.01M384.2 76.2h.01M384.6 79.3h.01M384.8 104.3h.01M384.6 89.7h.01M385.3 95.9h.01M390.1 103.6h.01M384.1 35.5h.01M385.2 35.7h.01M383.3 69.4h.01M384.7 68.7h.01M387.3 59.4h.01M385.4 119.8h.01M388.3 76.7h.01M387.9 67.9h.01M388.1 122.1h.01M384.1 66.0h.01M386.7 30.1h.01M384.3 55.3h.01M384.1 45.3h.01M384.0 75.6h.01M383.2 72.2h.01M387.9 75.3h.01M390.7 85.4h.01M384.1 94.9h.01M384.9 100.8h.01M386.7 53.3h.01M389.0 94.7h.01M387.2 49.2h.01M385.7 70.1h.01M383.0 76.3h.01M383.4 83.1h.01M383.2 110.7h.01M387.0 85.3h.01M387.2 29.1h.01M385.7 100.7h.01M386.1 36.1h.01M384.1 33.2h.01M384.5 119.7h.01M388.7 68.3h.01M385.0 83.8h.01M383.6 107.1h.01M383.2 105.6h.01M385.4 43.2h.01M384.3 65.9h.01M387.0 48.0h.01M393.2 98.1h.01M383.2 109.5h.01M387.5 72.3h.01M387.4 85.8h.01M387.5 68.9h.01M385.5 35.9h.01M394.7 112.1h.01M387.0 122.1h.01M392.9 103.6h.01M394.1 119.7h.01M385.5 51.7h.01M387.5 110.3h.01M383.9 121.6h.01M385.0 42.5h.01M386.3 103.2h.01M393.0 98.3h.01M387.3 110.8h.01M383.1 95.7h.01M384.1 80.0h.01M384.1 84.9h.01M389.5 96.3h.01M390.5 93.7h.01M392.8 114.3h.01M388.2 115.1h.01M384.1 82.1h.01M384.8 35.1h.01M383.6 83.3h.01M387.6 123.5h.01M383.7 69.7h.01M386.6 60.6h.01M384.8 93.8h.01M385.9 121.2h.01M386.6 90.3h.01M388.1 122.8h.01M387.5 121.3h.01M384.1 73.3h.01M387.5 29.7h.01M385.1 114.6h.01M386.1 72.6h.01M393.4 120.7h.01M383.1 104.7h.01M384.0 47.4h.01M385.1 66.3h.01M394.7 108.9h.01M384.8 70.1h.01M384.4 32.1h.01M387.1 123.8h.01M385.9 37.2h.01M387.0 51.9h.01M384.1 102.8h.01M387.7 87.0h.01M387.3 66.1h.01M383.8 67.7h.01M385.2 46.1h.01M386.4 46.4h.01M386.6 38.7h.01M389.8 99.2h.01M386.1 78.9h.01M383.3 117.9h.01M387.2 44.5h.01M387.1 77.2h.01M397.6 120.9h.01M384.2 61.1h.01M385.3 70.2h.01M384.5 50.7h.01M385.5 56.3h.01M383.0 104.2h.01M388.3 124.1h.01M384.0 115.9h.01M384.9 41.9h.01M385.9 91.4h.01M397.5 121.6h.01M383.4 40.8h.01M384.2 122.4h.01M390.1 95.3h.01M386.6 75.2h.01M383.6 43.2h.01M388.8 66.4h.01M383.1 95.0h.01M383.6 106.4h.01M384.8 84.4h.01M384.3 62.4h.01M384.0 112.5h.01M387.0 34.4h.01M391.7 122.2h.01M388.5 110.2h.01M384.8 58.6h.01M387.1 40.6h.01M385.7 124.7h.01M383.2 103.7h.01M386.4 37.7h.01M386.7 98.9h.01M383.5 50.2h.01M384.0 97.7h.01M395.1 110.8h.01M389.3 109.1h.01M385.3 41.5h.01M386.1 35.5h.01M383.0 121.3h.01M387.4 47.7h.01M384.3 40.0h.01M386.6 57.0h.01M385.2 122.9h.01M386.9 106.6h.01M383.6 102.6h.01M388.9 105.7h.01M385.1 44.1h.01M388.9 104.2h.01M383.8 111.5h.01M396.5 121.2h.01M390.0 104.7h.01M386.6 124.7h.01M391.4 105.2h.01M383.4 57.4h.01M385.0 65.3h.01M383.6 117.6h.01M388.2 68.7h.01M385.2 64.5h.01M383.0 122.9h.01M385.1 80.3h.01M384.0 99.6h.01M387.6 68.6h.01M386.9 65.7h.01M383.6 55.8h.01M383.5 42.3h.01M387.4 47.9h.01M384.9 99.6h.01M383.5 42.9h.01M387.7 81.5h.01M384.4 124.1h.01M387.5 69.3h.01M383.6 60.7h.01M389.4 112.9h.01M384.4 69.5h.01M384.4 102.7h.01M383.3 91.8h.01M389.1 76.5h.01M387.0 50.8h.01M384.5 124.9h.01M389.4 106.1h.01M384.1 84.9h.01M383.5 60.9h.01M393.3 114.1h.01M387.1 60.4h.01M388.9 91.7h.01M383.7 85.3h.01M387.2 56.6h.01M383.2 53.2h.01M384.7 123.2h.01M391.6 123.0h.01M389.8 106.7h.01M386.2 67.6h.01M384.4 49.7h.01M386.8 103.8h.01M388.2 55.4h.01M389.4 102.5h.01M390.8 88.6h.01M385.9 80.4h.01M386.0 95.4h.01M384.9 53.9h.01M384.2 121.3h.01M393.0 99.5h.01M383.9 49.7h.01M383.1 52.3h.01M383.6 74.0h.01M392.4 111.4h.01M383.8 91.8h.01M386.5 60.4h.01M386.0 97.4h.01M383.4 39.1h.01M385.0 71.7h.01M386.2 102.2h.01M384.1 102.1h.01M385.1 105.9h.01M384.0 65.3h.01M383.5 34.6h.01M384.4 68.6h.01M389.5 105.3h.01M383.9 39.9h.01M383.4 66.5h.01M388.1 70.7h.01M384.2 100.3h.01M383.9 82.3h.01M389.0 111.8h.01M391.1 120.5h.01M384.8 115.7h.01M384.2 88.1h.01M388.1 83.1h.01M390.9 113.7h.01M390.5 87.0h.01M384.5 95.6h.01M384.2 61.7h.01M383.5 92.2h.01M384.3 30.7h.01M383.9 116.5h.01M388.2 121.7h.01M391.2 107.3h.01M383.4 58.3h.01M386.3 44.2h.01M384.5 122.3h.01M391.4 91.8h.01M383.9 48.1h.01M389.6 94.1h.01M393.9 113.0h.01M384.1 32.8h.01M388.5 55.6h.01M388.4 90.5h.01M383.6 48.4h.01M384.2 54.4h.01M383.3 55.3h.01M383.2 103.3h.01M386.2 77.1h.01M382.9 121.8h.01M383.3 80.3h.01M388.5 96.9h.01M387.8 117.5h.01M387.4 39.7h.01M384.2 33.2h.01M384.2 40.7h.01M390.8 104.2h.01M385.1 62.4h.01M385.2 50.1h.01M390.0 86.6h.01M387.0 86.1h.01M384.6 121.4h.01M394.7 115.0h.01M384.1 105.1h.01M386.9 73.8h.01M386.1 89.6h.01M385.8 97.9h.01M384.0 32.8h.01M393.1 99.3h.01M384.5 44.3h.01M384.2 69.2h.01M385.2 56.1h.01M386.5 67.6h.01M383.7 112.9h.01M389.7 91.0h.01M386.6 49.3h.01M383.5 119.3h.01M389.0 121.2h.01M385.9 49.7h.01M383.8 37.6h.01M383.1 89.5h.01M384.5 83.1h.01M390.3 123.3h.01M388.3 72.5h.01M387.0 67.9h.01M386.1 75.9h.01M390.2 96.2h.01M387.3 73.0h.01M383.9 30.2h.01M388.3 91.3h.01M384.1 50.9h.01M385.1 86.8h.01M383.2 103.9h.01M385.3 39.1h.01M383.7 119.2h.01M392.7 119.6h.01M383.2 85.6h.01M384.5 48.2h.01M382.9 111.4h.01M383.8 29.6h.01M388.1 122.8h.01M383.6 106.1h.01M385.2 47.2h.01M383.3 107.8h.01M386.4 48.8h.01M384.1 37.2h.01M388.0 63.4h.01M394.1 102.4h.01M383.7 116.7h.01M389.5 89.1h.01M384.1 115.6h.01M383.7 89.6h.01M386.6 70.6h.01M384.1 36.4h.01M384.5 53.9h.01M384.3 62.9h.01M384.0 99.8h.01M387.8 62.7h.01M382.5 100.8h.01M388.2 74.9h.01M384.5 69.1h.01M392.0 95.5h.01M385.3 38.3h.01M388.3 69.7h.01M397.6 121.4h.01M386.3 124.4h.01M384.1 59.2h.01M392.7 117.1h.01M391.0 111.4h.01M388.7 99.4h.01M387.6 121.8h.01M391.7 92.5h.01M397.4 120.8h.01M385.9 76.2h.01M384.6 32.5h.01M393.7 101.7h.01M396.8 117.0h.01M383.4 42.1h.01M388.5 61.4h.01M386.2 63.9h.01M387.2 40.0h.01M383.4 96.6h.01M384.6 40.2h.01M386.7 89.1h.01M388.7 97.5h.01M385.1 42.2h.01M390.5 101.6h.01M389.4 85.5h.01M384.7 75.9h.01M383.4 97.1h.01M383.5 80.8h.01M383.9 89.8h.01M397.5 117.1h.01M390.7 87.0h.01M386.9 30.0h.01M383.6 37.7h.01M386.1 85.4h.01M389.4 76.2h.01M385.0 88.6h.01M383.0 124.1h.01M387.0 43.3h.01M383.4 72.8h.01M385.6 80.8h.01M385.1 37.6h.01M383.6 29.1h.01M383.5 29.7h.01M392.0 101.5h.01M384.0 73.7h.01M383.5 52.4h.01M384.2 115.7h.01M387.9 52.4h.01M385.5 42.8h.01M383.1 95.6h.01M387.4 111.1h.01M396.9 121.2h.01M383.5 29.7h.01M390.9 86.4h.01M387.4 119.1h.01M385.7 79.3h.01M384.3 103.7h.01M383.9 33.4h.01M383.6 117.9h.01M386.4 95.4h.01M383.1 38.9h.01M383.5 52.2h.01M388.1 118.4h.01M384.2 37.1h.01M383.1 98.0h.01M383.5 64.3h.01M383.4 79.3h.01M385.0 81.1h.01M387.1 105.0h.01M386.3 55.4h.01M387.6 95.1h.01M386.3 30.8h.01M385.7 83.9h.01M389.5 117.5h.01M385.4 72.6h.01M393.7 111.4h.01M395.7 121.6h.01M389.4 106.3h.01M383.7 55.6h.01M386.7 90.7h.01M387.5 98.9h.01M388.1 120.4h.01M383.3 101.4h.01M384.2 63.9h.01M384.8 34.9h.01M382.9 117.1h.01M388.3 123.2h.01M386.3 84.0h.01M383.3 71.9h.01M384.9 83.8h.01M383.4 116.5h.01M383.7 50.0h.01M385.0 103.4h.01M384.3 72.3h.01M388.0 46.7h.01M386.3 56.8h.01M389.3 66.6h.01M382.7 109.0h.01M393.6 102.3h.01M389.9 112.6h.01M388.3 96.0h.01M387.8 116.8h.01M383.5 81.2h.01M385.0 31.9h.01M384.5 75.7h.01M385.1 65.8h.01M387.7 56.4h.01M385.3 61.9h.01M390.8 105.6h.01M384.8 42.6h.01M385.3 95.7h.01M389.2 121.9h.01M386.5 63.4h.01M383.4 65.0h.01M383.6 42.9h.01M383.9 119.7h.01M384.1 81.2h.01M384.6 64.3h.01M387.1 41.7h.01M387.7 81.2h.01M387.2 72.5h.01M388.8 119.0h.01M385.0 120.8h.01M389.1 83.0h.01M387.6 72.0h.01M383.3 95.6h.01M383.7 78.3h.01M390.3 111.0h.01M389.5 82.9h.01M385.7 59.1h.01M383.1 101.6h.01M386.3 51.2h.01M385.7 88.5h.01M383.7 121.3h.01M385.3 77.5h.01M390.0 98.8h.01M390.9 107.0h.01M387.2 64.7h.01M383.3 87.7h.01M383.2 77.8h.01M396.6 120.4h.01M384.5 58.3h.01M392.1 91.6h.01M386.7 87.8h.01M383.9 93.7h.01M383.9 84.2h.01M383.6 66.1h.01M391.9 122.8h.01M389.9 118.4h.01M383.9 45.7h.01M397.5 120.6h.01M383.6 49.3h.01M383.9 48.8h.01M386.4 109.7h.01M383.1 114.2h.01M383.6 124.6h.01M385.9 67.4h.01M385.5 121.7h.01M384.1 41.0h.01M383.7 69.1h.01M383.1 75.7h.01M384.4 109.8h.01M386.1 97.0h.01M384.3 78.2h.01M387.3 71.7h.01M383.3 71.3h.01M388.2 62.2h.01M385.5 60.1h.01M384.4 77.1h.01M384.4 100.9h.01M386.6 103.4h.01M394.0 122.0h.01M387.6 109.6h.01M386.0 64.7h.01M384.7 86.8h.01M385.6 95.0h.01M389.2 103.6h.01M393.1 119.3h.01M391.7 109.3h.01M383.8 45.7h.01M385.0 35.8h.01M387.2 41.5h.01M386.8 89.1h.01M383.0 73.2h.01M383.4 80.6h.01M392.6 103.2h.01M387.7 105.2h.01M387.1 115.2h.01M383.8 105.9h.01M383.4 88.2h.01M383.6 46.5h.01M384.1 81.8h.01M385.6 78.7h.01M387.0 72.4h.01M384.2 36.4h.01M393.1 114.8h.01M393.8 103.1h.01M387.5 117.5h.01M387.1 61.8h.01M397.9 115.9h.01M384.4 108.4h.01M383.4 74.7h.01M385.1 34.2h.01M385.1 117.6h.01M387.3 73.8h.01M386.6 56.1h.01M385.9 97.9h.01M385.2 73.2h.01M383.6 66.4h.01M383.1 49.3h.01M387.9 113.6h.01M383.0 111.7h.01M390.7 93.6h.01M388.8 101.7h.01M383.9 60.2h.01M383.6 95.0h.01M390.0 94.7h.01M386.4 93.9h.01M389.9 89.9h.01M396.4 110.1h.01M389.3 82.9h.01M383.3 115.6h.01M391.8 105.9h.01M383.5 74.5h.01M387.9 123.1h.01M383.8 74.6h.01M384.1 78.6h.01M391.5 91.5h.01M385.9 107.7h.01M394.2 105.2h.01M387.5 55.7h.01M388.6 66.9h.01M386.4 54.4h.01M388.1 88.6h.01M390.0 123.8h.01M386.9 41.0h.01M383.2 91.8h.01M383.6 63.3h.01M394.8 115.4h.01M385.7 38.4h.01M383.7 112.1h.01M383.2 121.1h.01M388.9 121.8h.01M384.4 84.9h.01M386.3 46.5h.01M384.2 62.5h.01M387.4 120.8h.01M383.9 98.4h.01M385.4 77.3h.01M385.8 50.7h.01M385.0 103.6h.01M384.5 116.8h.01M390.6 104.6h.01M387.8 60.4h.01M388.9 74.7h.01M391.0 101.3h.01M384.0 54.2h.01M385.1 75.1h.01M384.3 34.4h.01M390.7 117.7h.01M388.0 118.0h.01M386.2 89.9h.01M383.7 30.2h.01M385.6 122.8h.01M387.2 58.2h.01M383.4 124.5h.01M386.4 121.3h.01M383.5 81.9h.01M387.5 65.5h.01M384.2 63.7h.01M387.4 67.3h.01M385.7 63.3h.01M383.4 89.9h.01M390.0 104.4h.01M385.8 45.4h.01M383.7 36.6h.01M383.1 79.6h.01M389.7 84.8h.01M383.0 54.7h.01M390.1 94.6h.01M384.7 89.3h.01M384.6 97.7h.01M383.8 116.0h.01M385.5 71.1h.01M393.4 99.0h.01M386.9 104.1h.01M386.0 103.4h.01M385.1 123.1h.01M383.5 55.5h.01M383.6 101.9h.01M386.0 37.2h.01M384.7 36.7h.01M383.8 61.0h.01M383.6 79.2h.01M384.9 43.3h.01M383.6 56.1h.01M385.6 102.9h.01M383.4 124.5h.01M387.3 76.4h.01M384.2 120.5h.01M388.3 114.5h.01M390.0 88.7h.01M385.1 89.8h.01M383.3 30.5h.01M383.5 66.8h.01M387.6 51.0h.01M383.5 41.1h.01M391.4 120.7h.01M382.8 121.8h.01M386.9 69.4h.01M386.0 96.7h.01M386.3 65.1h.01M387.0 64.8h.01M385.6 57.8h.01M387.2 29.4h.01M389.1 107.5h.01M384.8 104.8h.01M392.5 115.9h.01M396.1 111.4h.01M385.5 69.1h.01M383.5 85.0h.01M384.1 70.8h.01M394.7 119.8h.01M385.4 111.1h.01M389.2 94.7h.01M387.1 36.0h.01M391.3 121.5h.01M384.3 46.3h.01M384.0 48.5h.01M386.5 79.1h.01M385.7 99.4h.01M389.2 70.2h.01M383.4 62.6h.01M383.5 122.1h.01M386.0 82.8h.01M383.0 71.7h.01M391.6 123.4h.01M383.7 81.2h.01M391.6 92.0h.01M386.7 116.6h.01M386.0 110.8h.01M383.8 31.3h.01M387.4 88.8h.01M390.6 79.5h.01M385.8 50.0h.01M383.3 32.4h.01M388.0 121.7h.01M385.6 50.3h.01M384.1 39.1h.01M392.1 108.3h.01M387.1 30.0h.01M384.6 74.9h.01M385.4 95.3h.01M384.4 120.9h.01M383.1 98.5h.01M387.1 37.0h.01M383.6 65.3h.01M383.2 78.8h.01M391.8 119.2h.01M384.4 90.5h.01M388.0 66.4h.01M387.0 113.6h.01M383.5 58.0h.01M383.3 100.0h.01M389.7 108.5h.01M386.8 37.0h.01M384.2 97.6h.01M384.3 62.9h.01M387.2 41.6h.01M383.3 80.5h.01M391.4 117.5h.01M385.1 120.4h.01M389.4 69.8h.01M390.3 84.4h.01M391.6 105.5h.01M385.1 101.5h.01M390.3 95.0h.01M383.8 116.9h.01M387.2 65.3h.01M383.6 65.3h.01M384.7 120.2h.01M386.3 96.1h.01M392.9 96.5h.01M389.2 86.8h.01M383.1 67.6h.01M387.6 39.7h.01M384.9 111.2h.01M384.7 114.4h.01M384.3 44.0h.01M386.7 48.3h.01M388.3 108.0h.01M383.4 69.7h.01M388.3 83.0h.01M383.8 86.9h.01M384.3 85.5h.01M385.1 115.2h.01M383.3 69.1h.01M390.8 85.6h.01M383.6 32.8h.01M389.2 89.8h.01M385.4 76.7h.01M388.9 66.5h.01M386.8 109.8h.01M387.3 67.1h.01M392.6 120.6h.01M382.6 124.1h.01M384.1 31.2h.01M383.4 99.3h.01M386.2 53.1h.01M387.1 63.6h.01M384.5 81.6h.01M384.2 51.8h.01M397.9 117.9h.01M384.4 47.7h.01M384.0 80.3h.01M385.3 40.7h.01M385.0 104.0h.01M384.9 36.4h.01M389.2 122.3h.01M383.7 54.3h.01M397.6 120.4h.01M388.1 49.4h.01M384.2 85.7h.01M384.1 62.3h.01M385.2 54.9h.01M390.1 96.0h.01M383.5 117.8h.01M388.1 63.9h.01M386.5 60.4h.01M387.2 79.2h.01M383.6 96.7h.01M390.8 100.8h.01M395.4 109.5h.01M385.8 122.8h.01M391.1 123.6h.01M383.7 123.7h.01M390.0 113.0h.01M383.6 124.4h.01M385.4 51.5h.01M384.7 49.1h.01M384.1 36.8h.01M387.8 69.9h.01M387.0 56.5h.01M384.3 39.6h.01M386.8 74.9h.01M385.6 49.0h.01M387.4 55.1h.01M386.3 119.9h.01M382.9 115.5h.01M383.2 63.1h.01M387.0 114.8h.01M383.3 59.6h.01M385.9 72.3h.01M385.3 105.3h.01M386.2 104.9h.01M389.1 118.8h.01M394.4 122.3h.01M384.7 123.8h.01M384.4 30.1h.01M391.1 114.2h.01M385.7 118.7h.01M383.5 96.4h.01M388.4 105.4h.01M388.8 86.9h.01M386.3 60.1h.01M387.0 77.9h.01M383.8 86.0h.01M389.0 98.5h.01M392.4 96.1h.01M386.4 122.2h.01M385.1 82.8h.01M392.3 121.8h.01M383.7 32.7h.01M387.5 87.9h.01M383.8 59.2h.01M385.0 63.4h.01M393.9 110.6h.01M384.6 90.3h.01M384.2 123.8h.01M388.4 95.8h.01M387.0 33.3h.01M384.3 44.5h.01M392.9 97.7h.01M396.8 121.2h.01M388.2 86.8h.01M383.8 47.7h.01M384.8 49.6h.01M383.2 74.6h.01M394.5 109.7h.01M384.0 107.6h.01M383.5 43.5h.01M384.7 40.6h.01M384.7 100.3h.01M388.9 119.2h.01M385.0 107.6h.01M385.9 96.0h.01M386.7 99.1h.01M389.0 83.2h.01M384.3 67.0h.01M384.2 90.5h.01M383.8 66.3h.01M384.1 47.3h.01M389.3 104.2h.01M385.9 54.4h.01M385.7 57.7h.01M391.6 98.2h.01M393.2 113.7h.01M383.8 30.8h.01M387.8 102.2h.01M383.1 119.5h.01M390.2 100.2h.01M383.1 76.3h.01M383.3 33.5h.01M383.5 63.8h.01M388.5 71.1h.01M384.7 89.8h.01M386.5 66.6h.01M385.4 121.0h.01M384.3 119.1h.01M386.9 45.4h.01M392.1 101.3h.01M383.5 117.2h.01M384.0 34.3h.01M385.4 119.9h.01M385.1 73.4h.01M384.8 90.8h.01M389.0 119.3h.01M384.8 97.0h.01M390.4 88.4h.01M383.9 113.7h.01M384.0 58.9h.01M396.7 119.5h.01M390.6 111.6h.01M384.2 57.7h.01M384.2 80.1h.01M384.8 55.9h.01M391.6 117.2h.01M384.0 31.9h.01M383.6 108.8h.01M383.5 84.4h.01M394.1 110.6h.01M388.1 80.2h.01M384.5 110.6h.01M387.9 83.6h.01M393.6 116.4h.01M385.7 75.2h.01M383.2 97.0h.01M386.6 109.7h.01M386.2 116.2h.01M383.8 37.3h.01M387.3 32.6h.01M388.0 39.1h.01M383.6 50.8h.01M383.9 50.3h.01M386.8 65.3h.01M390.9 101.5h.01M383.7 65.4h.01M388.1 94.5h.01M382.9 117.4h.01M389.1 86.7h.01M384.0 31.3h.01M384.5 31.9h.01M383.1 69.8h.01M396.0 117.5h.01M385.5 34.9h.01M387.1 77.0h.01M384.9 118.9h.01M383.6 71.3h.01M388.3 100.1h.01M385.0 36.3h.01M386.7 41.6h.01M382.9 119.1h.01M383.7 125.1h.01M384.7 49.9h.01M397.5 119.4h.01M384.9 36.3h.01M383.3 92.8h.01M383.4 30.4h.01M384.5 60.2h.01M386.3 122.7h.01M385.6 36.8h.01M384.8 33.8h.01M385.0 124.4h.01M386.4 88.1h.01M393.3 100.5h.01M383.2 73.4h.01M387.1 94.6h.01M386.4 47.8h.01M389.0 119.1h.01M384.2 43.6h.01M383.8 73.1h.01M383.7 75.8h.01M387.2 37.9h.01M383.5 83.5h.01M386.6 37.9h.01M383.5 118.3h.01M383.6 118.4h.01M395.1 122.3h.01M393.2 119.6h.01M390.7 81.4h.01M392.0 115.7h.01M397.2 118.0h.01M386.5 51.7h.01M384.2 35.8h.01M388.0 92.3h.01M383.4 57.7h.01M383.8 31.1h.01M386.0 100.5h.01M386.9 67.8h.01M383.4 93.0h.01M383.4 71.8h.01M382.7 106.1h.01M383.5 65.4h.01M390.8 117.3h.01M383.4 123.7h.01M384.4 42.8h.01M385.4 60.2h.01M383.3 62.0h.01M386.8 122.8h.01M387.5 84.9h.01M386.2 114.1h.01M386.0 109.9h.01M391.0 110.2h.01M394.1 117.4h.01M388.3 114.0h.01M387.5 123.7h.01M391.7 113.3h.01M387.8 121.3h.01M384.5 86.5h.01M386.4 63.0h.01M388.7 104.0h.01M386.9 48.8h.01M383.0 79.8h.01M388.0 62.5h.01M387.4 118.4h.01M385.0 116.0h.01M386.8 33.0h.01M388.8 75.6h.01M384.3 96.8h.01M392.9 113.1h.01M385.5 45.4h.01M389.9 123.6h.01M391.5 108.6h.01M385.1 77.8h.01M387.6 93.0h.01M397.0 116.1h.01M383.4 95.9h.01M386.3 117.9h.01M386.2 29.7h.01M384.6 43.3h.01M384.8 77.9h.01M384.0 65.9h.01M384.9 39.7h.01M383.0 55.8h.01M392.9 121.8h.01M390.2 120.8h.01M388.1 117.7h.01M397.5 119.3h.01M383.1 97.3h.01M387.3 117.4h.01M383.6 65.8h.01M385.3 35.9h.01M384.3 34.3h.01M389.9 108.9h.01M395.1 119.8h.01M387.9 51.2h.01M383.3 38.8h.01M389.5 89.3h.01M383.9 55.0h.01M383.5 34.0h.01M383.0 118.8h.01M388.1 113.4h.01M384.3 40.5h.01M396.2 122.1h.01M385.0 39.9h.01M396.5 119.6h.01M383.1 114.2h.01M383.8 94.3h.01M384.6 52.2h.01M389.0 115.0h.01M384.2 87.9h.01M393.7 107.8h.01M384.5 41.7h.01M384.8 45.0h.01M387.1 40.7h.01M387.2 37.3h.01M385.7 65.3h.01M384.0 100.8h.01M384.9 116.5h.01M384.3 101.7h.01M390.3 100.7h.01M387.2 121.8h.01M386.9 63.2h.01M384.9 72.1h.01M383.2 123.3h.01M384.3 41.2h.01M388.7 72.8h.01M383.6 30.8h.01M390.5 87.3h.01M385.7 61.3h.01M387.6 84.8h.01M385.8 123.8h.01M385.2 53.6h.01M387.0 111.9h.01M385.7 76.1h.01M386.4 69.8h.01M384.2 102.4h.01M388.2 70.9h.01M384.7 124.8h.01M389.2 80.6h.01M383.5 33.3h.01M383.6 36.3h.01M385.1 119.2h.01M386.4 63.4h.01M385.3 33.0h.01M388.2 50.4h.01M386.8 49.5h.01M390.8 102.6h.01M387.0 64.7h.01M385.9 83.8h.01M393.4 122.2h.01M386.4 30.0h.01M395.8 119.4h.01M386.1 80.4h.01M384.9 36.7h.01M383.9 73.3h.01M383.9 114.9h.01M386.1 63.6h.01M383.7 81.6h.01M384.6 103.2h.01M384.3 40.2h.01M383.3 112.9h.01M383.5 90.4h.01M383.5 87.2h.01M388.3 123.2h.01M386.5 49.9h.01M387.5 78.1h.01M385.0 38.7h.01M388.8 77.4h.01M389.8 107.9h.01M387.2 112.9h.01M383.3 110.2h.01M389.5 72.6h.01M384.6 123.9h.01M386.6 54.3h.01M384.5 102.5h.01M395.9 121.4h.01M386.5 52.0h.01M396.4 117.1h.01M383.1 113.9h.01M388.2 90.4h.01M384.9 78.6h.01M383.2 82.2h.01M383.4 53.5h.01M383.1 121.1h.01M386.6 84.4h.01M385.7 35.7h.01M389.3 114.6h.01M393.6 114.8h.01M390.7 109.5h.01M386.7 33.6h.01M384.3 123.1h.01M382.8 117.7h.01M387.1 41.7h.01M389.2 66.8h.01M386.0 104.2h.01M386.0 38.8h.01M384.7 81.6h.01M383.9 33.1h.01M385.0 88.2h.01M388.1 85.9h.01M389.8 83.9h.01M386.4 29.1h.01M385.8 52.6h.01M385.7 119.9h.01M388.0 71.5h.01M389.0 74.8h.01M383.5 38.6h.01M383.4 35.8h.01M383.1 97.1h.01M389.0 120.9h.01M383.3 116.1h.01M388.9 84.8h.01M388.6 75.8h.01M384.1 65.7h.01M387.2 77.4h.01M384.3 35.0h.01M386.2 89.9h.01M383.6 72.9h.01M385.0 63.4h.01M396.1 120.9h.01M394.0 105.5h.01M388.4 84.6h.01M383.6 43.5h.01M384.1 83.2h.01M389.0 105.7h.01M385.0 82.2h.01M384.4 77.7h.01M384.9 38.9h.01M383.7 34.6h.01M389.4 119.1h.01M383.1 114.3h.01M383.3 78.5h.01M396.5 111.4h.01M384.4 101.8h.01M384.3 123.8h.01M387.6 46.4h.01M383.9 65.7h.01M385.3 109.8h.01M394.5 121.0h.01M384.6 89.4h.01M385.5 96.1h.01M389.8 88.2h.01M386.7 51.6h.01M394.6 122.5h.01M383.4 66.8h.01M383.2 73.6h.01M386.2 69.2h.01M387.7 53.0h.01M384.8 123.1h.01M388.7 78.1h.01M384.7 51.8h.01M383.4 116.6h.01M383.6 31.9h.01M384.4 50.5h.01M392.2 93.9h.01M386.3 108.0h.01M385.1 36.2h.01M387.7 41.1h.01M383.4 82.1h.01M383.7 105.5h.01M387.5 66.6h.01M385.0 51.9h.01M383.7 31.1h.01M392.6 116.7h.01M383.6 71.3h.01M383.7 77.1h.01M392.4 96.1h.01M386.4 91.3h.01M385.4 64.6h.01M387.4 84.4h.01M386.7 30.6h.01M385.6 111.6h.01M393.2 122.6h.01M388.3 74.3h.01M383.6 64.3h.01M388.6 91.1h.01M383.2 102.0h.01M391.9 97.9h.01M386.2 45.7h.01M383.4 82.8h.01M387.0 55.9h.01M384.8 81.8h.01M383.4 64.1h.01M382.9 110.3h.01M383.5 117.5h.01M385.8 124.7h.01M393.8 120.7h.01M385.4 93.4h.01M383.4 72.7h.01M386.5 45.4h.01M385.8 56.1h.01M386.0 68.9h.01M383.6 98.3h.01M385.2 88.4h.01M384.7 41.0h.01M386.8 85.2h.01M383.4 62.5h.01M383.9 38.2h.01M397.4 118.2h.01M386.4 38.5h.01M386.7 105.3h.01M389.8 76.6h.01M385.9 76.0h.01M383.6 46.8h.01M386.9 87.5h.01M385.5 34.8h.01M385.4 123.1h.01M388.6 68.3h.01M386.8 123.2h.01M387.7 100.2h.01M383.8 44.7h.01M386.6 77.6h.01M383.1 123.4h.01M395.4 120.5h.01M386.1 72.4h.01M389.0 95.5h.01M383.2 83.4h.01M383.6 41.8h.01M388.2 90.5h.01M386.1 112.2h.01M392.2 108.1h.01M384.3 65.4h.01M386.9 92.6h.01M391.2 117.0h.01M389.1 84.0h.01M384.0 78.4h.01M384.9 108.4h.01M389.9 116.6h.01M383.0 115.4h.01M384.1 85.9h.01M394.0 116.4h.01M384.4 51.6h.01M383.9 67.9h.01M387.1 33.5h.01M385.3 33.7h.01M387.4 51.8h.01M384.5 85.5h.01M383.6 63.1h.01M383.3 72.9h.01M389.6 89.9h.01M383.4 58.5h.01M383.7 30.3h.01M384.8 72.7h.01M389.1 92.9h.01M384.0 71.8h.01M383.8 79.6h.01M390.7 91.6h.01M383.4 72.1h.01M392.1 98.8h.01M383.9 99.4h.01M387.8 123.6h.01M385.3 61.2h.01M383.3 71.0h.01M383.7 41.3h.01M385.7 124.5h.01M386.4 72.6h.01M383.8 91.3h.01M384.2 82.5h.01M386.5 80.2h.01M388.3 79.4h.01M387.0 56.1h.01M384.3 89.7h.01M383.6 58.3h.01M387.1 66.3h.01M385.2 60.7h.01M386.1 87.3h.01M393.7 105.7h.01M385.0 124.6h.01M385.1 60.4h.01M386.9 53.1h.01M384.7 35.0h.01M394.0 108.0h.01M387.3 119.7h.01M383.6 59.2h.01M389.0 100.7h.01M385.5 102.7h.01M383.8 84.5h.01M384.4 123.1h.01M387.0 111.8h.01M384.5 35.5h.01M383.3 119.4h.01M386.1 56.8h.01M395.0 108.0h.01M387.1 116.6h.01M391.5 104.8h.01M389.8 93.9h.01M383.6 94.5h.01M385.3 96.7h.01M384.1 60.0h.01M386.4 121.8h.01M393.1 101.7h.01M384.0 108.9h.01M383.9 118.8h.01M387.2 42.6h.01M388.8 90.2h.01M385.8 76.5h.01M389.6 121.5h.01M384.6 55.9h.01M384.0 72.9h.01M384.2 74.9h.01M390.8 110.5h.01M384.1 31.0h.01M388.1 91.9h.01M385.2 47.4h.01M383.2 71.3h.01M384.0 40.2h.01M383.4 70.2h.01M384.8 122.4h.01M385.6 66.0h.01M384.0 125.0h.01M397.2 119.7h.01M383.6 69.4h.01M386.8 55.7h.01M390.3 122.2h.01M386.2 33.8h.01M384.0 119.5h.01M388.0 94.6h.01M384.3 58.8h.01M383.2 97.0h.01M388.4 123.6h.01M383.6 68.7h.01M383.7 37.0h.01M386.8 84.4h.01M386.0 110.9h.01M384.2 123.6h.01M383.1 41.1h.01M388.6 120.3h.01M390.1 84.1h.01M385.1 86.8h.01M385.4 33.6h.01M388.5 99.7h.01M383.2 94.3h.01M384.2 56.8h.01M390.6 111.1h.01M394.5 120.7h.01M387.1 94.1h.01M383.4 104.3h.01M385.7 30.8h.01M388.0 84.4h.01M395.0 122.2h.01M384.9 115.0h.01M383.3 93.2h.01M386.1 54.9h.01M393.6 119.2h.01M385.1 87.1h.01M383.5 35.0h.01M384.3 58.7h.01M386.5 41.9h.01M386.3 80.4h.01M391.6 105.3h.01M383.9 121.1h.01M385.5 102.9h.01M383.5 85.5h.01M386.8 91.4h.01M382.8 82.2h.01M384.1 97.2h.01M387.0 49.1h.01M383.2 111.0h.01M383.5 71.1h.01M387.2 90.2h.01M383.8 69.5h.01M384.5 56.7h.01M383.2 123.6h.01M386.0 66.2h.01M397.5 120.3h.01M388.5 67.1h.01M384.1 64.4h.01M385.9 95.1h.01M392.5 105.5h.01M389.8 101.6h.01M383.5 40.7h.01M388.0 118.5h.01M388.8 71.5h.01M384.7 46.4h.01M386.5 118.8h.01M395.4 122.1h.01M390.4 121.5h.01M385.2 103.7h.01M390.4 92.9h.01M384.2 78.8h.01M387.8 117.3h.01M388.2 98.3h.01M394.1 105.8h.01M393.3 113.1h.01M383.3 99.5h.01M390.5 89.4h.01M383.7 95.4h.01M387.6 75.8h.01M384.2 107.4h.01M396.5 121.8h.01M394.6 122.1h.01M384.0 31.3h.01M385.8 63.2h.01M384.1 67.1h.01M383.4 105.6h.01M383.0 122.8h.01M386.7 103.3h.01M386.6 38.0h.01M383.3 89.1h.01M389.5 118.0h.01M391.9 99.3h.01M384.7 46.9h.01M387.6 94.2h.01M392.9 119.9h.01M383.7 72.1h.01M385.0 112.2h.01M385.8 54.6h.01M386.2 54.1h.01M385.4 58.5h.01M386.5 83.5h.01M384.3 86.0h.01M383.0 68.6h.01M385.4 95.7h.01M383.2 105.1h.01M385.3 124.0h.01M397.1 117.4h.01M386.7 114.5h.01M384.0 109.8h.01M387.6 80.3h.01M383.1 124.3h.01M383.2 97.9h.01M384.6 86.7h.01M390.2 93.3h.01M393.7 120.7h.01M384.8 43.2h.01M388.3 50.8h.01M384.1 49.6h.01M386.2 44.9h.01M382.9 122.5h.01M385.2 60.0h.01M385.2 74.9h.01M384.4 42.3h.01M391.2 87.6h.01M386.3 124.1h.01M383.0 93.6h.01M384.2 51.2h.01M385.2 59.0h.01M383.4 43.1h.01M383.0 105.6h.01M392.8 104.6h.01M385.1 94.6h.01M385.8 83.6h.01M384.1 45.4h.01M386.4 53.7h.01M385.1 51.9h.01M383.6 62.4h.01M385.0 74.3h.01M383.2 98.8h.01M386.8 80.2h.01M385.2 116.7h.01M388.0 58.4h.01M390.3 83.4h.01M386.6 41.6h.01M383.6 66.2h.01M386.1 93.4h.01M383.2 93.8h.01M386.5 100.7h.01M384.9 41.6h.01M388.2 96.1h.01M387.4 49.2h.01M383.9 39.1h.01M384.2 99.3h.01M385.8 53.4h.01M388.3 76.5h.01M386.3 73.5h.01M386.3 72.7h.01M387.5 105.4h.01M384.7 35.9h.01M386.2 113.2h.01M390.9 111.4h.01M384.6 88.4h.01M383.4 75.1h.01M383.2 102.0h.01M384.3 122.4h.01M388.1 118.9h.01M384.3 49.1h.01M386.8 81.0h.01M384.9 31.3h.01M386.0 34.1h.01M383.4 103.0h.01M384.4 89.0h.01M395.9 111.5h.01M383.9 84.6h.01M384.3 79.3h.01M384.2 123.7h.01M384.5 49.2h.01M385.0 99.7h.01M387.2 73.3h.01M384.4 42.4h.01M389.3 82.9h.01M383.3 113.3h.01M386.6 96.9h.01M392.0 95.6h.01M384.1 109.6h.01M383.2 80.7h.01M384.9 62.0h.01M384.3 47.6h.01M386.5 93.7h.01M388.8 122.9h.01M388.5 63.0h.01M385.1 124.6h.01M390.0 102.2h.01M384.7 50.8h.01M387.4 67.4h.01M394.4 122.6h.01M386.6 98.5h.01M383.6 47.5h.01M385.9 81.2h.01M389.6 73.1h.01M383.5 50.7h.01M384.4 54.9h.01M387.0 65.1h.01M386.9 58.2h.01M383.2 122.1h.01M384.0 69.2h.01M386.3 108.8h.01M385.5 32.6h.01M384.4 51.9h.01M384.1 33.9h.01M386.2 39.4h.01M383.4 73.6h.01M384.4 61.0h.01M385.9 99.1h.01M393.8 103.6h.01M385.0 39.7h.01M397.9 119.3h.01M386.8 78.6h.01M384.1 82.9h.01M384.7 114.5h.01M386.5 80.1h.01M385.7 100.2h.01M382.5 112.8h.01M387.1 64.3h.01M385.5 121.5h.01M383.7 49.2h.01M383.3 40.5h.01M384.0 74.2h.01M391.7 92.7h.01M387.1 89.0h.01M389.2 75.8h.01M384.3 30.7h.01M384.4 119.4h.01M388.4 77.2h.01M388.4 77.2h.01M384.1 37.6h.01M385.0 53.4h.01M383.2 43.9h.01M387.9 112.1h.01M386.5 43.8h.01M385.7 97.1h.01M395.4 121.3h.01M383.2 67.0h.01M383.4 98.8h.01M383.7 55.1h.01M383.8 57.0h.01M389.6 120.4h.01M383.5 51.4h.01M386.4 47.5h.01M386.6 87.2h.01M386.2 75.1h.01M387.3 121.9h.01M384.2 73.2h.01M383.0 99.6h.01M384.2 29.8h.01M384.6 95.4h.01M386.7 121.2h.01M383.7 38.1h.01M396.5 118.7h.01M386.5 100.8h.01M387.5 90.1h.01M383.3 77.8h.01M385.6 121.2h.01M386.0 36.9h.01M383.0 118.3h.01M394.6 111.8h.01M383.0 123.8h.01M386.2 34.1h.01M393.5 117.1h.01M383.8 56.5h.01M397.3 121.4h.01M383.8 70.5h.01M384.7 117.9h.01M384.2 92.2h.01M385.3 49.8h.01M386.8 81.1h.01M396.1 114.3h.01M386.1 56.2h.01M387.4 89.3h.01M387.4 121.2h.01M395.1 120.9h.01M387.3 35.2h.01M393.3 115.9h.01M383.7 62.3h.01M383.3 54.2h.01M384.7 43.0h.01M392.5 118.3h.01M383.4 61.4h.01M386.5 93.9h.01M388.7 75.6h.01M388.6 64.3h.01M384.9 38.3h.01M384.0 115.3h.01M386.9 88.3h.01M387.2 43.6h.01M386.5 45.4h.01M397.5 121.6h.01M383.4 92.3h.01M383.5 67.8h.01M389.1 122.0h.01M384.6 63.0h.01M387.3 49.7h.01M388.1 86.5h.01M389.4 100.0h.01M384.5 29.1h.01M388.6 121.3h.01M387.9 42.1h.01M386.1 63.6h.01M384.9 81.3h.01M386.4 100.6h.01M384.3 73.5h.01M386.3 60.2h.01M383.1 120.1h.01M383.9 50.3h.01M387.1 55.9h.01M383.5 122.1h.01M386.4 124.5h.01M386.9 37.7h.01M383.5 60.7h.01M384.1 124.3h.01M391.4 116.2h.01M386.1 88.6h.01M386.3 95.9h.01M389.7 93.3h.01M383.9 68.1h.01M383.9 75.3h.01M386.9 73.1h.01M383.7 61.2h.01M384.3 81.8h.01M390.6 106.5h.01M383.5 88.0h.01M385.6 49.3h.01M385.4 83.0h.01M384.1 48.0h.01M382.9 90.5h.01M383.5 63.2h.01M383.1 40.7h.01M396.3 120.8h.01M384.1 83.4h.01M383.8 76.0h.01M387.3 48.8h.01M385.1 108.7h.01M383.6 83.1h.01M383.7 45.7h.01M385.2 61.7h.01M387.0 103.3h.01M388.2 118.4h.01M384.0 107.9h.01M392.0 109.8h.01M383.7 113.7h.01M386.5 42.1h.01M392.6 105.3h.01M384.3 38.5h.01M383.6 44.5h.01M385.1 44.0h.01M385.7 124.6h.01M383.5 63.7h.01M392.3 94.7h.01M393.7 107.4h.01M385.9 117.0h.01M386.3 47.4h.01M387.8 76.0h.01M395.8 119.5h.01M383.5 60.8h.01M383.3 102.3h.01M384.1 59.9h.01M391.8 101.5h.01M383.3 112.1h.01M391.6 106.0h.01M384.5 87.0h.01M397.5 120.3h.01M387.8 74.2h.01M384.2 65.0h.01M388.3 82.7h.01M396.4 111.2h.01M385.8 77.0h.01M383.4 30.7h.01M387.4 29.3h.01M383.7 63.3h.01M387.8 123.1h.01M388.7 81.0h.01M389.8 80.5h.01M390.5 109.2h.01M387.5 115.0h.01M391.0 97.6h.01M384.8 29.7h.01M390.8 122.5h.01M384.0 59.3h.01M386.7 105.8h.01M384.0 79.8h.01M390.5 83.9h.01M385.0 101.0h.01M389.3 74.7h.01M384.6 64.5h.01M387.6 81.6h.01M388.3 122.7h.01M386.5 74.1h.01M385.9 55.3h.01M388.5 111.3h.01M390.1 119.7h.01M396.4 112.6h.01M388.5 65.8h.01M388.0 65.5h.01M387.7 46.6h.01M385.3 29.6h.01M384.5 33.6h.01M387.0 58.3h.01M388.6 55.4h.01M386.1 101.2h.01M386.2 121.1h.01M383.6 50.9h.01M384.5 93.3h.01M389.0 76.5h.01M387.0 56.0h.01M383.6 75.1h.01M388.9 110.0h.01M385.0 29.1h.01M384.5 125.0h.01M385.5 73.7h.01M383.7 33.6h.01M384.3 49.9h.01M390.4 93.5h.01M385.0 43.7h.01M385.1 91.2h.01M387.4 123.3h.01M388.4 123.1h.01M384.0 40.3h.01M389.8 77.2h.01M383.6 106.3h.01M384.9 33.8h.01M384.4 42.6h.01M384.7 76.6h.01M383.5 40.0h.01M383.7 123.3h.01M389.2 83.6h.01M386.0 98.2h.01M385.1 77.1h.01M392.3 97.5h.01M387.8 41.0h.01M384.2 59.9h.01M385.3 116.0h.01M387.0 109.0h.01M389.5 92.0h.01M383.7 99.1h.01M390.7 121.1h.01M393.4 122.2h.01M385.9 56.4h.01M384.3 34.2h.01M385.7 34.7h.01M388.6 116.3h.01M384.1 41.1h.01M385.4 32.1h.01M390.5 93.1h.01M388.5 68.4h.01M383.9 103.1h.01M383.4 117.7h.01M384.6 113.0h.01M384.9 107.4h.01M390.2 82.2h.01M385.2 55.7h.01M384.2 80.4h.01M385.7 124.6h.01M395.9 117.6h.01M384.4 89.6h.01M386.3 91.0h.01M383.7 116.5h.01M388.5 70.8h.01M385.6 74.3h.01M383.6 84.4h.01M384.7 34.8h.01M384.1 39.8h.01M387.0 42.9h.01M390.4 121.9h.01M385.8 41.0h.01M388.3 63.9h.01M392.2 94.7h.01M386.3 48.2h.01M386.8 108.3h.01M386.5 59.6h.01M383.2 108.8h.01M393.7 108.1h.01M384.6 70.3h.01M383.4 56.2h.01M386.1 76.4h.01M385.7 30.5h.01M384.2 112.3h.01M386.1 96.4h.01M383.3 100.5h.01M383.3 100.7h.01M387.6 52.9h.01M387.2 63.1h.01M384.1 50.3h.01M385.0 59.8h.01M386.9 89.4h.01M386.1 75.9h.01M383.4 58.8h.01M383.0 104.7h.01M390.0 114.4h.01M386.8 44.1h.01M387.8 111.1h.01M394.2 108.4h.01M386.7 52.3h.01M385.1 39.7h.01M385.9 47.4h.01M385.5 40.5h.01M386.9 112.1h.01M383.4 102.9h.01M386.7 29.4h.01M394.7 119.2h.01M383.6 93.6h.01M383.1 71.5h.01M384.8 69.1h.01M385.3 50.7h.01M383.8 51.4h.01M392.4 117.9h.01M383.4 75.5h.01M396.0 111.1h.01M386.8 62.7h.01M391.2 105.8h.01M384.1 42.9h.01M390.1 101.6h.01M383.9 63.1h.01M388.0 51.4h.01M385.3 48.0h.01M388.1 46.2h.01M385.2 33.2h.01M383.8 61.8h.01M383.2 71.4h.01M386.9 38.4h.01M383.6 81.5h.01M383.6 30.0h.01M383.9 90.9h.01M383.1 89.2h.01M383.9 33.2h.01M384.5 105.8h.01M396.2 118.6h.01M383.3 42.3h.01M387.3 66.0h.01M390.5 118.0h.01M385.1 91.2h.01M383.4 88.0h.01M384.9 41.3h.01M384.2 67.4h.01M387.9 89.1h.01M384.0 67.7h.01M387.6 32.6h.01M385.3 122.3h.01M393.4 105.9h.01M389.5 73.4h.01M384.0 83.0h.01M385.5 69.7h.01M386.5 34.2h.01M383.5 71.4h.01M385.5 115.4h.01M388.5 69.6h.01M387.6 80.0h.01M383.7 70.0h.01M386.0 61.7h.01M386.5 51.4h.01M385.9 89.2h.01M383.4 69.9h.01M385.1 46.9h.01M384.9 86.9h.01M389.3 81.4h.01M383.0 66.9h.01M383.6 46.5h.01M384.6 87.8h.01M387.2 55.9h.01M384.2 29.1h.01M386.3 79.8h.01M384.0 104.3h.01M389.7 123.9h.01M386.9 69.4h.01M391.5 101.9h.01M393.1 108.0h.01M384.1 84.8h.01M389.6 87.5h.01M387.1 110.4h.01M385.0 89.3h.01M391.7 104.4h.01M383.0 121.7h.01M384.1 100.6h.01M387.4 119.0h.01M385.1 35.6h.01M384.8 120.6h.01M386.1 58.5h.01M387.7 121.5h.01M383.5 91.1h.01M384.7 107.7h.01M385.6 79.1h.01M385.0 92.1h.01M395.9 121.5h.01M385.7 47.7h.01M383.9 43.9h.01M387.0 29.0h.01M386.8 92.5h.01M383.6 70.4h.01M395.9 121.7h.01M383.9 61.6h.01M390.5 104.2h.01M384.2 80.4h.01M392.9 107.0h.01M394.5 106.9h.01M383.7 70.5h.01M393.2 110.8h.01M383.7 35.7h.01M383.1 82.3h.01M383.6 40.3h.01M394.3 109.0h.01M386.7 47.8h.01M388.5 117.1h.01M385.3 39.4h.01M384.6 82.6h.01M386.4 70.7h.01M384.1 57.0h.01M389.6 104.6h.01M383.6 66.5h.01M383.5 124.9h.01M384.3 33.1h.01M389.2 90.6h.01M385.4 118.3h.01M384.6 72.6h.01M392.1 98.9h.01M384.1 62.1h.01M387.7 71.0h.01M384.4 97.1h.01M383.9 102.1h.01M384.9 85.3h.01M385.7 68.1h.01M396.1 121.8h.01M388.6 113.4h.01M383.4 117.8h.01M389.2 122.3h.01M386.3 72.5h.01M384.9 32.5h.01M391.0 123.6h.01M385.7 50.7h.01M384.1 53.1h.01M383.7 50.4h.01M383.4 102.5h.01M384.1 68.5h.01M388.4 87.5h.01M391.7 102.5h.01M388.7 63.7h.01M385.1 83.3h.01M390.0 83.2h.01M386.3 72.2h.01M386.8 102.0h.01M384.9 100.7h.01M385.0 69.5h.01M385.1 31.9h.01M383.5 100.1h.01M385.1 74.9h.01M384.5 75.6h.01M383.8 118.0h.01M389.8 94.2h.01M386.2 110.8h.01M383.7 47.9h.01M384.9 71.1h.01M386.0 111.3h.01M389.3 120.5h.01M389.4 68.0h.01M387.1 77.0h.01M382.7 125.1h.01M387.0 82.3h.01M383.9 121.7h.01M386.7 31.5h.01M385.9 56.4h.01M384.9 105.1h.01M388.2 54.8h.01M385.6 61.6h.01M397.0 121.2h.01M385.6 109.1h.01M391.0 121.6h.01M387.5 74.1h.01M386.2 48.5h.01M384.9 109.5h.01M387.1 99.9h.01M388.1 64.4h.01M383.6 100.7h.01M397.6 115.1h.01M390.1 96.5h.01M384.2 79.9h.01M383.4 116.0h.01M391.6 113.5h.01M384.0 98.7h.01M384.6 85.5h.01M384.8 56.6h.01M390.9 102.7h.01M384.4 51.7h.01M386.6 70.2h.01M386.1 44.6h.01M385.1 99.2h.01M384.4 29.9h.01M388.5 109.1h.01M384.5 124.5h.01M384.3 44.4h.01M385.7 58.5h.01M383.4 109.9h.01M391.1 96.2h.01M384.7 101.8h.01M384.3 122.2h.01M383.4 45.4h.01M385.6 67.8h.01M384.9 76.1h.01M383.7 93.3h.01M385.5 69.0h.01M383.1 119.1h.01M389.9 95.5h.01M395.9 111.1h.01M389.5 87.0h.01M393.1 121.2h.01M385.7 57.3h.01M384.3 77.0h.01M383.1 80.0h.01M384.1 113.6h.01M383.6 53.2h.01M386.1 77.5h.01M384.7 121.8h.01M387.9 75.1h.01M388.5 88.7h.01M393.3 97.9h.01M388.8 113.5h.01M386.5 40.9h.01M388.3 60.3h.01M387.5 61.3h.01M384.5 38.3h.01M386.9 120.9h.01M385.9 63.4h.01M389.5 73.4h.01M384.3 69.4h.01M385.2 31.1h.01M389.8 76.3h.01M383.0 123.0h.01M383.2 49.9h.01M384.9 81.0h.01M386.1 42.0h.01M386.2 49.6h.01M395.3 122.5h.01M383.8 93.2h.01M386.9 69.5h.01M384.3 65.9h.01M383.5 117.1h.01M386.8 119.3h.01M392.8 119.0h.01M386.6 44.8h.01M385.4 98.7h.01M393.0 116.7h.01M384.0 105.7h.01M389.4 84.2h.01M393.4 116.1h.01M383.4 51.6h.01M383.1 78.0h.01M384.8 40.6h.01M387.9 106.0h.01M389.4 108.5h.01M384.4 60.7h.01M384.5 57.6h.01M393.2 106.0h.01M383.5 68.4h.01M383.1 124.4h.01M385.4 37.9h.01M383.8 47.8h.01M386.2 106.7h.01M387.7 97.3h.01M384.3 119.3h.01M392.4 115.1h.01M384.2 102.0h.01M388.1 96.4h.01M383.2 49.9h.01M383.6 49.4h.01M384.3 32.5h.01M385.4 122.1h.01M385.0 124.2h.01M385.3 40.8h.01M383.9 50.4h.01M384.9 52.7h.01M383.5 55.6h.01M383.2 90.1h.01M387.2 45.2h.01M386.6 110.7h.01M389.7 79.1h.01M386.5 90.9h.01M396.3 118.5h.01M384.8 95.2h.01M383.9 36.9h.01M394.5 108.9h.01M385.8 44.2h.01M385.7 117.3h.01M392.2 99.2h.01M385.7 118.7h.01M383.7 46.3h.01M387.0 104.7h.01M386.1 35.6h.01M385.7 87.5h.01M386.5 47.2h.01M385.9 100.4h.01M384.0 30.1h.01M389.2 121.0h.01M389.9 106.3h.01M384.3 64.2h.01M390.0 96.7h.01M390.5 90.2h.01M384.0 111.1h.01M388.3 113.6h.01M383.1 51.9h.01M389.5 80.4h.01M383.2 57.1h.01M390.7 96.3h.01M383.3 78.6h.01M389.3 89.6h.01M383.2 84.1h.01M385.6 41.5h.01M384.7 94.7h.01M390.9 83.5h.01M392.5 109.0h.01M385.3 41.2h.01M383.3 44.1h.01M383.9 37.8h.01M385.1 72.4h.01M383.6 83.2h.01M385.5 63.3h.01M388.2 124.3h.01M385.1 29.8h.01M383.6 124.0h.01M384.1 119.9h.01M384.4 66.2h.01M390.0 121.2h.01M395.8 122.2h.01M384.4 59.1h.01M385.5 33.4h.01M389.5 94.0h.01M386.9 32.3h.01M395.2 107.2h.01M383.6 34.2h.01M383.7 52.3h.01M384.9 103.8h.01M385.9 47.4h.01M392.8 115.3h.01M394.6 108.3h.01M391.9 105.9h.01M393.8 121.4h.01M383.1 94.3h.01M385.4 85.6h.01M385.1 76.3h.01M384.1 111.2h.01M383.7 61.8h.01M384.5 65.8h.01M384.2 61.0h.01M383.5 78.4h.01M383.7 52.1h.01M383.7 36.0h.01M383.0 71.0h.01M386.3 44.4h.01M384.7 122.8h.01M384.0 101.0h.01M383.6 107.3h.01M394.6 114.6h.01M384.0 55.7h.01M383.5 104.6h.01M387.2 91.9h.01M387.1 124.3h.01M383.9 124.4h.01M383.2 34.2h.01M389.9 77.8h.01M390.3 91.9h.01M384.6 29.5h.01M388.5 74.2h.01M385.4 124.4h.01M384.3 36.3h.01M385.3 47.5h.01M383.7 96.2h.01M383.4 85.6h.01M386.3 81.1h.01M383.4 56.8h.01M383.6 48.8h.01M393.9 119.5h.01M386.1 51.0h.01M384.2 113.0h.01M383.5 71.1h.01M386.0 42.6h.01M389.7 101.4h.01M388.1 121.0h.01M383.1 87.4h.01M390.8 87.6h.01M384.6 46.2h.01M383.5 68.7h.01M385.2 81.0h.01M386.7 38.1h.01M383.3 47.7h.01M383.2 92.7h.01M383.5 75.6h.01M384.1 110.0h.01M388.6 94.1h.01M385.6 96.7h.01M391.4 99.8h.01M385.2 79.2h.01M387.3 75.4h.01M389.1 105.3h.01M384.9 110.0h.01M384.0 70.1h.01M384.2 77.2h.01M383.3 117.5h.01M384.2 67.7h.01M385.9 43.4h.01M392.0 118.1h.01M385.4 119.5h.01M384.7 121.0h.01M389.4 99.6h.01M384.8 37.1h.01M386.1 72.9h.01M387.7 108.0h.01M386.0 75.6h.01M387.4 77.5h.01M386.3 36.5h.01M391.4 115.6h.01M384.6 89.7h.01M385.3 96.8h.01M390.0 76.0h.01M390.5 83.5h.01M386.6 81.7h.01M384.5 39.3h.01M385.2 98.8h.01M384.0 74.7h.01M394.6 114.9h.01M383.9 46.3h.01M383.9 78.4h.01M389.0 123.5h.01M383.4 72.9h.01M386.1 93.0h.01M384.8 62.0h.01M384.1 58.6h.01M384.5 66.5h.01M383.5 46.1h.01M384.2 49.6h.01M388.2 64.1h.01M387.1 52.5h.01M383.8 88.9h.01M383.7 34.0h.01M383.7 71.9h.01M388.9 92.0h.01M389.7 107.2h.01M383.5 102.2h.01M384.4 82.1h.01M384.5 55.1h.01M386.6 65.4h.01M384.8 65.4h.01M393.0 100.6h.01M386.2 119.7h.01M387.2 42.3h.01M387.3 109.5h.01M387.1 100.5h.01M383.2 83.3h.01M385.4 118.5h.01M383.4 48.4h.01M383.8 55.7h.01M387.4 124.0h.01M392.0 115.9h.01M383.5 52.6h.01M383.3 116.1h.01M386.2 105.7h.01M388.9 81.1h.01M396.7 116.7h.01M384.8 58.6h.01M385.1 98.4h.01M383.5 64.9h.01M383.8 29.1h.01M384.8 92.3h.01M387.4 60.3h.01M395.9 111.8h.01M386.9 101.2h.01M394.7 121.5h.01M383.7 76.2h.01M383.9 62.4h.01M383.4 39.1h.01M383.0 123.5h.01M383.5 80.7h.01M390.1 119.6h.01M388.1 122.5h.01M384.1 36.4h.01M385.3 55.0h.01M383.4 99.2h.01M386.1 41.7h.01M389.9 93.3h.01M396.7 121.3h.01M384.8 97.7h.01M388.0 106.7h.01M383.9 87.6h.01M383.8 76.5h.01M383.8 55.6h.01M385.4 74.1h.01M388.3 90.1h.01M387.8 121.9h.01M386.3 56.8h.01M385.9 82.0h.01M390.7 119.9h.01M385.7 90.3h.01M385.9 47.0h.01M386.0 66.0h.01M386.3 107.8h.01M386.9 90.9h.01M384.5 42.7h.01M384.7 87.6h.01M386.9 79.2h.01M386.1 43.7h.01M393.8 112.0h.01M385.7 76.7h.01M386.5 74.3h.01M383.4 121.2h.01M383.4 57.9h.01M384.8 99.7h.01M383.3 82.6h.01M395.1 107.7h.01M383.4 88.3h.01M387.6 77.5h.01M386.5 49.2h.01M384.8 31.3h.01M384.7 101.9h.01M383.1 71.0h.01M385.6 105.8h.01M388.1 62.1h.01M386.9 66.2h.01M386.2 44.2h.01M393.1 104.8h.01M386.0 97.7h.01M385.7 47.8h.01M395.5 121.6h.01M383.9 35.7h.01M383.3 69.9h.01M384.2 42.4h.01M395.9 113.1h.01M393.6 104.5h.01M387.8 90.5h.01M389.5 122.5h.01M384.9 116.0h.01M390.6 121.2h.01M384.1 31.4h.01M383.3 39.6h.01M385.2 52.7h.01M393.1 113.2h.01M384.3 96.6h.01M383.5 61.9h.01M385.1 90.6h.01M384.7 95.9h.01M387.4 106.6h.01M383.0 89.6h.01M383.2 101.4h.01M390.1 89.6h.01M386.5 113.0h.01M385.0 76.6h.01M387.5 42.9h.01M383.9 42.9h.01M387.0 35.8h.01M383.6 56.6h.01M385.8 66.2h.01M383.5 66.8h.01M383.9 119.9h.01M384.5 69.4h.01M385.2 42.7h.01M387.8 72.8h.01M383.3 87.4h.01M383.4 57.7h.01M385.6 45.2h.01M383.3 77.0h.01M386.4 117.5h.01M383.7 105.7h.01M384.4 88.2h.01M384.6 52.4h.01M384.9 124.8h.01M384.7 44.8h.01M391.6 107.4h.01M388.0 72.4h.01M395.7 112.0h.01M383.4 52.4h.01M385.3 77.3h.01M383.2 71.6h.01M383.5 28.9h.01M384.5 71.0h.01M383.8 56.8h.01M385.9 68.1h.01M385.4 75.9h.01M386.0 112.1h.01M383.7 112.7h.01M388.3 108.2h.01M384.2 99.3h.01M385.7 48.1h.01M385.5 112.7h.01M386.4 34.2h.01M387.2 79.2h.01M394.8 115.9h.01M383.1 75.4h.01M385.5 108.2h.01M389.9 122.3h.01M387.2 98.6h.01M388.5 64.1h.01M387.5 53.2h.01M392.8 107.0h.01M385.7 116.0h.01M388.2 65.2h.01M384.2 115.9h.01M383.4 78.7h.01M387.5 72.2h.01M390.0 108.3h.01M383.5 99.8h.01M388.7 62.5h.01M393.6 122.7h.01M392.1 107.9h.01M384.3 53.4h.01M392.1 96.0h.01M385.3 35.2h.01M384.9 91.6h.01M384.6 96.0h.01M382.9 120.3h.01M383.5 69.6h.01M385.6 110.1h.01M383.4 44.0h.01M388.8 81.2h.01M387.7 108.0h.01M383.6 121.4h.01M387.4 79.2h.01M387.8 70.1h.01M383.5 47.5h.01M384.8 61.8h.01M385.4 121.9h.01M385.8 97.9h.01M383.3 90.6h.01M384.8 58.4h.01M383.2 116.1h.01M385.4 124.4h.01M385.1 29.9h.01M383.9 124.1h.01M383.6 42.1h.01M384.5 56.4h.01M388.8 118.1h.01M391.6 122.4h.01M383.5 92.8h.01M383.2 70.9h.01M387.2 104.7h.01M387.6 100.8h.01M383.3 64.3h.01M394.4 121.0h.01M385.5 96.9h.01M387.1 91.2h.01M386.5 101.1h.01M384.6 38.2h.01M383.6 93.4h.01M385.5 61.1h.01M383.5 61.5h.01M384.3 107.2h.01M384.2 41.4h.01M385.0 107.6h.01M383.2 63.5h.01M385.5 68.9h.01M387.9 124.3h.01M385.1 65.3h.01M385.9 75.9h.01M385.5 70.4h.01M383.0 119.4h.01M384.1 102.7h.01M385.9 108.1h.01M383.5 98.0h.01M387.2 38.3h.01M386.4 63.8h.01M391.7 104.7h.01M386.3 112.8h.01M385.8 84.3h.01M389.1 74.2h.01M385.2 39.5h.01M388.8 121.3h.01M383.4 123.9h.01M394.7 105.9h.01M388.4 95.9h.01M385.1 37.0h.01M383.2 86.4h.01M386.0 36.8h.01M386.6 45.2h.01M383.5 88.5h.01M384.2 53.0h.01M383.4 121.3h.01M386.3 73.8h.01M383.5 45.7h.01M391.1 123.4h.01M385.3 79.0h.01M384.4 64.3h.01M384.6 80.8h.01M388.9 96.7h.01M384.6 119.2h.01M387.7 62.2h.01M387.6 73.9h.01M383.8 29.9h.01M388.4 124.0h.01M383.3 97.4h.01M384.1 41.0h.01M387.5 96.3h.01M384.0 57.6h.01M392.8 108.7h.01M383.4 60.8h.01M386.1 53.7h.01M394.1 108.4h.01M387.7 124.4h.01M396.7 111.9h.01M396.3 119.9h.01M383.4 96.6h.01M383.5 72.2h.01M384.1 40.3h.01M384.4 77.7h.01M393.3 122.4h.01M383.8 36.3h.01M384.6 47.7h.01M392.4 122.4h.01M383.3 55.5h.01M383.4 74.1h.01M386.9 41.2h.01M383.5 59.7h.01M385.2 69.4h.01M385.4 99.0h.01M387.1 39.6h.01M387.1 104.8h.01M389.0 122.7h.01M393.0 115.6h.01M388.9 104.7h.01M385.8 33.0h.01M384.1 68.9h.01M385.9 84.4h.01M390.2 114.2h.01M385.4 38.4h.01M385.6 93.7h.01M386.4 50.8h.01M383.6 104.3h.01M383.4 81.1h.01M383.7 74.1h.01M382.7 117.6h.01M386.2 89.3h.01M384.0 90.2h.01M386.6 95.4h.01M385.6 46.6h.01M384.8 123.2h.01M385.2 35.4h.01M387.6 73.0h.01M386.1 58.4h.01M384.8 117.0h.01M385.7 101.7h.01M385.4 51.6h.01M383.8 91.6h.01M385.0 111.4h.01M385.1 52.3h.01M387.7 43.9h.01M386.1 40.2h.01M383.1 110.8h.01M385.5 74.4h.01M392.4 107.1h.01M384.2 65.8h.01M384.9 95.8h.01M389.0 84.7h.01M384.3 50.9h.01M383.5 120.2h.01M384.5 41.5h.01M392.1 122.1h.01M388.0 102.7h.01M385.5 85.0h.01M397.1 120.8h.01M385.7 85.5h.01M391.8 108.1h.01M384.8 76.0h.01M391.4 86.3h.01M384.2 57.0h.01M383.9 54.0h.01M384.0 90.0h.01M383.6 57.9h.01M388.8 123.6h.01M387.6 41.6h.01M385.0 56.1h.01M383.7 78.6h.01M385.6 42.1h.01M383.2 89.8h.01M386.2 33.5h.01M387.2 81.9h.01M383.8 120.5h.01M383.5 99.8h.01M386.0 98.5h.01M387.8 84.4h.01M388.4 74.7h.01M384.7 52.1h.01M383.5 108.8h.01M384.4 59.5h.01M397.2 120.0h.01M395.2 117.6h.01M385.2 102.2h.01M392.6 99.4h.01M384.3 59.7h.01M385.6 112.1h.01M385.4 56.5h.01M385.0 86.8h.01M384.0 91.0h.01M384.3 80.1h.01M390.2 118.1h.01M384.3 88.5h.01M383.7 107.4h.01M389.0 110.3h.01M383.3 75.6h.01M384.2 121.0h.01M384.2 39.8h.01M383.0 80.1h.01M384.4 48.3h.01M384.7 100.4h.01M384.8 124.8h.01M388.1 108.5h.01M383.5 70.9h.01M388.6 110.0h.01M383.4 77.8h.01M384.7 68.4h.01M385.9 58.4h.01M383.2 117.0h.01M383.6 68.8h.01M383.8 46.2h.01M385.8 35.7h.01M396.5 121.8h.01M384.8 77.4h.01M390.6 78.3h.01M383.2 65.4h.01M383.4 87.6h.01M383.9 41.4h.01M383.5 92.2h.01M384.3 100.3h.01M395.6 119.6h.01M385.4 77.5h.01M392.7 112.1h.01M385.5 62.9h.01M391.9 108.4h.01M382.9 95.1h.01M384.9 75.8h.01M396.3 116.2h.01M384.5 59.8h.01M386.1 107.3h.01M384.4 105.7h.01M386.9 82.9h.01M385.0 62.2h.01M385.8 41.5h.01M387.5 121.1h.01M385.7 40.2h.01M397.3 121.6h.01M385.7 109.1h.01M388.2 123.7h.01M383.4 93.9h.01M391.5 123.3h.01M386.5 95.7h.01M383.6 60.6h.01M385.8 85.5h.01M385.3 53.5h.01M383.3 119.1h.01M383.6 73.9h.01M387.4 52.3h.01M389.3 111.8h.01M383.7 124.9h.01M388.0 52.6h.01M389.4 94.5h.01M387.1 48.3h.01M385.4 52.2h.01M385.0 41.2h.01M387.6 119.7h.01M387.9 124.3h.01M384.6 120.4h.01M384.0 32.3h.01M384.6 47.2h.01M385.5 106.6h.01M387.1 73.7h.01M387.3 35.2h.01M387.1 124.1h.01M387.5 37.3h.01M383.1 111.6h.01M388.7 103.6h.01M383.2 58.9h.01M386.8 115.4h.01M383.4 87.0h.01M388.9 74.0h.01M393.0 121.2h.01M383.0 115.4h.01M384.2 46.0h.01M385.4 72.5h.01M384.1 36.2h.01M383.8 48.4h.01M386.0 35.9h.01M386.4 36.7h.01M383.8 90.4h.01M384.1 99.3h.01M383.9 62.4h.01M384.4 121.7h.01M390.8 105.7h.01M384.6 97.3h.01M383.4 49.5h.01M384.0 67.3h.01M385.9 38.4h.01M385.6 78.3h.01M395.6 122.0h.01M384.0 76.1h.01M389.2 97.0h.01M387.1 63.3h.01M386.8 75.2h.01M391.6 97.3h.01M388.7 98.4h.01M388.5 121.2h.01M388.7 84.4h.01M385.9 44.2h.01M386.8 103.7h.01M383.5 82.0h.01M387.6 39.9h.01M388.4 60.4h.01M383.2 92.9h.01M383.8 50.9h.01M390.2 109.1h.01M383.1 117.5h.01M388.7 83.6h.01M385.9 98.6h.01M383.2 62.4h.01M385.5 57.6h.01M386.0 34.5h.01M386.4 71.0h.01M383.6 39.4h.01M387.0 52.7h.01M383.3 101.6h.01M388.6 115.5h.01M386.2 30.4h.01M383.0 111.8h.01M387.1 31.3h.01M384.3 38.6h.01M386.3 95.9h.01M385.4 75.7h.01M383.4 95.4h.01M391.9 118.2h.01M384.5 86.4h.01M389.6 111.4h.01M383.2 89.6h.01M384.3 120.1h.01M388.7 114.5h.01M383.5 59.6h.01M383.6 108.7h.01M389.9 99.6h.01M383.1 125.1h.01M385.6 86.1h.01M385.5 109.0h.01M388.0 111.6h.01M387.0 120.3h.01M387.6 104.6h.01M387.1 102.6h.01M391.1 89.5h.01M383.7 46.7h.01M384.2 54.0h.01M383.0 111.9h.01M384.3 32.2h.01M387.9 51.5h.01M384.5 123.9h.01M388.3 111.0h.01M386.4 77.7h.01M384.6 67.4h.01M385.3 89.2h.01M388.5 89.4h.01M388.5 84.4h.01M384.3 39.4h.01M387.0 50.6h.01M388.7 109.5h.01M383.7 36.1h.01M383.8 31.1h.01M385.2 113.9h.01M385.8 83.7h.01M386.0 44.9h.01M387.7 48.6h.01M395.7 121.3h.01M383.3 70.1h.01M383.6 89.4h.01M386.0 97.9h.01M383.3 46.6h.01M386.0 35.7h.01M384.5 39.0h.01M384.3 78.3h.01M392.1 114.4h.01M387.9 74.8h.01M384.9 50.2h.01M384.3 81.9h.01M386.3 58.5h.01M383.9 95.2h.01M386.0 75.6h.01M388.2 82.1h.01M386.5 104.2h.01M395.3 118.4h.01M383.9 34.6h.01M383.5 36.3h.01M393.0 121.5h.01M383.5 118.9h.01M385.6 34.4h.01M386.6 122.5h.01M385.0 71.4h.01M384.4 70.1h.01M383.2 120.5h.01M391.3 94.6h.01M391.1 105.7h.01M386.9 31.7h.01M384.0 45.5h.01M383.4 108.8h.01M391.9 90.6h.01M384.4 80.7h.01M389.4 109.8h.01M384.2 30.6h.01M384.7 46.3h.01M383.0 100.8h.01M383.3 98.9h.01M385.8 33.6h.01M384.6 53.4h.01M389.3 98.9h.01M387.2 88.6h.01M383.1 62.0h.01M384.2 93.6h.01M385.0 57.9h.01M386.1 119.7h.01M383.8 55.1h.01M392.4 93.4h.01M385.8 46.3h.01M388.3 103.4h.01M383.6 104.9h.01M385.2 32.5h.01M389.1 115.5h.01M384.7 34.3h.01M383.9 85.9h.01M385.0 37.6h.01M386.0 81.6h.01M383.5 82.0h.01M394.2 122.2h.01M387.1 74.4h.01M387.6 114.3h.01M387.2 70.6h.01M387.6 73.4h.01M391.0 95.1h.01M386.6 85.9h.01M384.8 91.5h.01M389.4 103.2h.01M384.1 113.2h.01M385.4 75.4h.01M385.9 58.2h.01M384.0 64.9h.01M384.2 93.5h.01M396.6 115.5h.01M395.3 111.7h.01M387.2 33.6h.01M388.3 73.0h.01M384.4 65.7h.01M387.4 51.8h.01M383.5 78.0h.01M384.8 39.5h.01M383.8 65.9h.01M385.7 121.8h.01M384.0 87.7h.01M384.9 43.6h.01M382.7 104.5h.01M386.3 106.8h.01M387.5 35.2h.01M383.3 50.5h.01M386.8 31.5h.01M394.1 122.3h.01M383.1 122.8h.01M392.2 122.8h.01M383.8 42.7h.01M384.0 75.4h.01M390.1 122.0h.01M383.9 69.6h.01M385.2 61.8h.01M383.4 85.6h.01M383.3 77.0h.01M384.3 54.1h.01M383.4 90.1h.01M391.4 113.3h.01M383.9 59.8h.01M383.4 32.9h.01M386.4 101.5h.01M388.5 89.7h.01M383.2 113.4h.01M391.1 88.1h.01M387.9 123.6h.01M388.2 110.5h.01M389.6 82.5h.01M385.9 63.6h.01M384.0 55.5h.01M397.9 121.2h.01M386.4 86.0h.01M393.7 108.3h.01M385.5 60.2h.01M383.3 64.1h.01M396.8 120.2h.01M384.0 91.4h.01M385.7 99.2h.01M389.1 121.9h.01M388.4 89.0h.01M386.8 80.9h.01M386.8 47.3h.01M383.5 92.6h.01M383.7 118.9h.01M388.3 75.3h.01M383.2 90.8h.01M391.6 99.2h.01M383.5 112.9h.01M383.1 44.1h.01M388.3 106.9h.01M387.1 71.0h.01M384.8 38.1h.01M387.3 89.6h.01M383.3 113.2h.01M386.7 49.0h.01M394.2 114.4h.01M385.1 86.6h.01M383.6 44.0h.01M383.2 105.1h.01M386.8 57.5h.01M387.3 83.3h.01M395.7 114.2h.01M384.7 29.6h.01M386.0 58.5h.01M394.1 120.1h.01M389.8 121.5h.01M385.7 46.1h.01M386.9 101.2h.01M383.6 48.5h.01M389.8 80.6h.01M396.2 117.3h.01M383.7 124.9h.01M384.7 123.8h.01M383.7 37.6h.01M383.4 55.6h.01M383.7 92.0h.01M384.5 44.0h.01M386.2 36.1h.01M383.7 84.4h.01M387.2 72.6h.01M387.6 57.5h.01M386.3 49.9h.01M384.6 70.1h.01M385.8 113.5h.01M390.6 82.2h.01M385.1 106.6h.01M389.2 89.6h.01M395.1 118.2h.01M389.7 75.8h.01M387.8 113.5h.01M383.3 124.7h.01M384.2 89.5h.01M386.0 61.5h.01M383.7 51.1h.01M389.2 72.5h.01M384.9 113.3h.01M383.8 45.7h.01M383.7 62.0h.01M385.0 88.5h.01M383.8 78.5h.01M386.3 118.7h.01M384.4 47.2h.01M383.3 71.3h.01M392.1 98.4h.01M384.7 55.3h.01M383.9 92.8h.01M385.1 83.5h.01M384.6 85.1h.01M387.8 114.5h.01M382.9 102.9h.01M383.5 95.9h.01M387.8 44.3h.01M384.0 38.7h.01M385.8 49.5h.01M384.9 98.1h.01M387.9 66.3h.01M387.4 85.6h.01M383.4 110.6h.01M386.2 66.9h.01M383.9 36.6h.01M384.3 73.2h.01M388.3 124.3h.01M387.3 103.6h.01M386.7 77.3h.01M383.7 51.0h.01M388.9 64.4h.01M385.2 57.4h.01M388.4 81.3h.01M387.8 38.8h.01M386.1 97.3h.01M383.6 63.7h.01M385.8 64.0h.01M393.0 116.9h.01M386.0 55.0h.01M385.7 41.8h.01M383.7 31.5h.01M392.1 120.9h.01M384.6 123.6h.01M383.1 104.9h.01M383.7 31.1h.01M386.5 84.1h.01M389.7 76.0h.01M383.8 79.3h.01M386.2 61.8h.01M386.6 101.8h.01M383.4 90.2h.01M384.0 34.8h.01M385.1 89.9h.01M398.2 108.0h.01M386.4 75.9h.01M383.7 45.5h.01M397.4 118.4h.01M389.2 102.7h.01M394.7 116.8h.01M383.4 81.5h.01M386.2 86.3h.01M389.1 87.0h.01M387.8 110.0h.01M386.8 117.4h.01M384.1 117.2h.01M386.1 40.4h.01M383.5 91.8h.01M386.7 33.8h.01M391.0 98.8h.01M383.5 46.1h.01M386.8 68.6h.01M383.8 64.8h.01M386.8 67.8h.01M386.8 122.6h.01M386.9 59.2h.01M384.1 86.0h.01M389.2 81.7h.01M387.6 42.0h.01M388.6 60.7h.01M385.2 66.7h.01M384.0 43.7h.01M382.8 93.8h.01M395.1 121.5h.01M383.9 80.2h.01M385.0 92.3h.01M383.7 93.1h.01M395.6 117.0h.01M387.0 107.7h.01M388.9 91.7h.01M386.9 75.0h.01M383.6 71.5h.01M385.5 113.6h.01M384.1 118.6h.01M386.4 39.7h.01M394.2 109.4h.01M384.2 30.5h.01M384.8 46.7h.01M383.4 50.7h.01M384.2 66.1h.01M383.9 106.8h.01M383.9 116.5h.01M383.3 116.1h.01M390.1 120.2h.01M384.1 106.6h.01M388.0 109.3h.01M384.5 55.9h.01M386.9 38.0h.01M384.2 78.2h.01M385.3 53.0h.01M384.0 108.1h.01M386.1 98.5h.01M386.2 69.5h.01M390.4 105.2h.01M383.7 30.5h.01M383.8 44.8h.01M392.2 97.8h.01M385.1 89.5h.01M391.1 83.8h.01M384.6 110.4h.01M386.7 48.3h.01M387.1 121.9h.01M386.3 115.0h.01M383.1 64.1h.01M387.8 39.5h.01M385.8 58.4h.01M387.6 121.0h.01M383.8 123.0h.01M390.7 119.0h.01M388.1 58.6h.01M389.1 73.2h.01M386.1 121.2h.01M384.5 36.3h.01M388.5 114.5h.01M387.6 63.9h.01M386.5 99.9h.01M384.8 83.8h.01M384.2 113.5h.01M388.1 71.9h.01M394.4 116.6h.01M384.4 33.1h.01M394.5 107.8h.01M383.2 69.3h.01M387.1 104.7h.01M386.3 34.1h.01M385.7 46.3h.01M387.7 68.1h.01M383.5 95.4h.01M384.4 44.5h.01M391.2 114.5h.01M383.7 40.7h.01M389.4 71.5h.01M389.8 121.0h.01M388.2 121.4h.01M383.3 95.4h.01M385.4 41.2h.01M384.8 37.5h.01M386.6 109.3h.01M384.2 91.4h.01M385.0 105.9h.01M383.5 75.6h.01M383.1 98.7h.01M385.5 46.6h.01M387.0 67.6h.01M383.3 54.4h.01M387.7 65.8h.01M387.7 44.9h.01M386.7 109.4h.01M385.7 112.1h.01M384.2 46.1h.01M395.6 121.3h.01M382.7 106.9h.01M384.1 75.0h.01M387.2 76.3h.01M383.9 88.3h.01M385.1 68.7h.01M385.1 124.7h.01M383.9 73.5h.01M383.9 116.6h.01M385.3 95.6h.01M383.4 56.0h.01M386.0 70.3h.01M386.1 38.0h.01M383.3 106.1h.01M390.7 114.0h.01M387.2 77.5h.01M385.8 30.8h.01M384.7 98.4h.01M384.0 72.6h.01M384.2 63.2h.01M390.8 119.4h.01M387.7 79.3h.01M385.4 109.8h.01M388.3 78.1h.01M383.9 49.8h.01M386.7 76.1h.01M383.6 63.2h.01M386.3 46.1h.01M384.5 95.2h.01M384.7 47.7h.01M386.1 97.6h.01M384.0 85.9h.01M388.9 121.0h.01M383.6 99.1h.01M387.2 65.1h.01M386.2 114.3h.01M383.6 67.4h.01M384.5 48.4h.01M392.1 102.4h.01M386.2 62.3h.01M388.3 97.4h.01M391.8 114.6h.01M384.3 36.0h.01M388.9 100.6h.01M385.9 90.0h.01M394.3 119.3h.01M383.3 48.8h.01M389.4 104.4h.01M384.4 83.5h.01M389.2 121.2h.01M383.8 44.8h.01M385.6 68.8h.01M394.4 108.5h.01M383.5 55.9h.01M383.6 91.2h.01M385.8 41.4h.01M384.5 114.8h.01M393.2 108.4h.01M384.1 41.2h.01M392.4 120.0h.01M383.6 40.9h.01M389.4 71.3h.01M385.1 69.3h.01M386.0 69.2h.01M388.8 95.7h.01M383.8 65.6h.01M388.2 114.5h.01M385.7 80.5h.01M383.4 41.2h.01M387.2 44.9h.01M384.0 43.5h.01M383.8 36.7h.01M384.8 73.2h.01M384.6 80.8h.01M387.3 94.3h.01M398.0 112.6h.01M388.2 80.1h.01M392.9 112.6h.01M383.4 69.6h.01M387.8 83.4h.01M383.9 81.4h.01M383.6 54.6h.01M393.1 115.3h.01M383.4 121.4h.01M385.6 42.1h.01M384.0 53.0h.01M389.7 97.1h.01M392.0 108.6h.01M385.9 43.5h.01M388.5 89.0h.01M383.2 123.6h.01M384.9 65.0h.01M389.1 66.7h.01M388.5 88.4h.01M389.0 83.1h.01M383.2 100.2h.01M383.8 36.5h.01M383.2 114.4h.01M386.0 102.4h.01M384.8 64.2h.01M383.5 47.8h.01M385.8 82.7h.01M385.1 68.2h.01M385.3 52.1h.01M396.4 118.3h.01M382.9 120.4h.01M383.6 72.1h.01M386.7 72.2h.01M383.0 100.6h.01M383.2 118.7h.01M387.0 80.8h.01M383.4 99.3h.01M383.3 97.2h.01M383.5 39.1h.01M390.2 91.3h.01M392.9 111.3h.01M385.9 30.4h.01M385.3 121.2h.01M385.1 88.2h.01M387.4 40.7h.01M383.3 44.3h.01M395.6 120.6h.01M384.4 80.0h.01M388.0 58.6h.01M384.3 94.2h.01M384.0 48.4h.01M396.0 121.5h.01M386.5 67.3h.01M385.3 87.9h.01M390.9 123.0h.01M386.6 117.9h.01M383.4 89.2h.01M390.9 119.3h.01M392.0 110.5h.01M389.3 98.8h.01M388.3 74.6h.01M393.4 110.7h.01M386.0 49.3h.01M386.0 101.3h.01M383.8 32.3h.01M397.6 120.7h.01M383.4 109.7h.01M383.3 73.3h.01M383.6 59.3h.01M393.3 116.9h.01M386.4 31.4h.01M383.6 48.0h.01M387.6 97.5h.01M384.1 85.4h.01M386.7 63.2h.01M384.2 56.4h.01M389.5 115.9h.01M384.2 29.3h.01M387.2 35.4h.01M386.8 37.7h.01M386.0 104.6h.01M384.3 39.1h.01M383.5 61.0h.01M383.2 61.5h.01M385.5 94.2h.01M386.5 30.3h.01M383.3 96.8h.01M385.6 62.1h.01M383.5 59.2h.01M386.1 100.9h.01M388.6 118.2h.01M386.9 53.9h.01M384.8 70.0h.01M383.7 37.6h.01M386.0 116.9h.01M385.9 33.2h.01M385.4 79.9h.01M384.3 62.3h.01M384.1 111.7h.01M383.7 65.6h.01M385.2 76.9h.01M387.8 55.9h.01M387.6 104.5h.01M386.8 101.8h.01M384.6 116.0h.01M386.0 72.7h.01M387.9 102.9h.01M383.6 99.0h.01M384.5 91.4h.01M384.4 34.6h.01M385.9 56.4h.01M387.5 41.2h.01M383.3 96.5h.01M389.4 97.7h.01M384.1 63.2h.01M384.2 107.2h.01M387.3 85.4h.01M383.5 40.3h.01M384.5 52.1h.01M397.1 120.3h.01M383.4 85.1h.01M383.5 36.8h.01M391.2 98.0h.01M392.7 122.4h.01M387.1 47.5h.01M383.4 84.5h.01M389.0 121.7h.01M384.8 47.5h.01M383.7 58.9h.01M383.2 100.8h.01M389.6 103.6h.01M386.2 83.1h.01M392.4 120.6h.01M383.5 56.1h.01M393.7 109.6h.01M388.5 50.1h.01M385.6 51.0h.01M388.3 54.7h.01M383.6 58.7h.01M383.0 78.3h.01M383.4 111.0h.01M391.4 123.5h.01M385.9 34.9h.01M397.2 115.8h.01M384.1 75.9h.01M389.1 108.3h.01M384.1 98.7h.01M386.4 37.4h.01M396.0 117.2h.01M385.5 62.6h.01M396.6 117.0h.01M383.4 56.5h.01M385.2 82.7h.01M384.6 61.4h.01M383.4 40.2h.01M383.8 83.7h.01M383.4 43.6h.01M383.9 82.0h.01M386.4 109.6h.01M383.2 66.1h.01M391.3 56.2h.01M400.7 95.5h.01M390.6 59.5h.01M396.1 108.4h.01M392.0 59.4h.01M388.1 45.7h.01M391.0 69.9h.01M399.5 121.7h.01M388.4 38.9h.01M390.2 42.3h.01M390.0 60.1h.01M389.6 45.4h.01M399.6 112.0h.01M391.1 72.1h.01M398.3 108.6h.01M400.8 112.6h.01M401.5 116.0h.01M394.0 88.1h.01M389.4 45.3h.01M392.6 77.1h.01M397.5 45.3h.01M393.4 34.2h.01M391.8 70.4h.01M399.3 118.6h.01M397.4 111.7h.01M392.9 89.4h.01M399.3 120.2h.01M392.1 70.3h.01M390.7 49.1h.01M395.3 96.0h.01M389.4 36.1h.01M399.4 94.2h.01M390.2 56.8h.01M393.7 98.1h.01M394.6 64.6h.01M397.1 96.4h.01M388.4 36.8h.01M389.2 59.3h.01M389.3 35.8h.01M398.9 118.0h.01M391.7 87.9h.01M399.8 109.2h.01M390.4 74.7h.01M397.2 101.7h.01M389.0 57.7h.01M389.0 49.5h.01M393.3 92.1h.01M389.1 50.3h.01M392.5 83.2h.01M394.1 83.6h.01M389.6 45.9h.01M389.6 57.1h.01M393.7 97.9h.01M397.1 102.6h.01M397.0 109.3h.01M399.4 118.3h.01M393.7 96.9h.01M398.6 123.7h.01M391.1 60.4h.01M388.2 42.0h.01M391.7 33.6h.01M395.1 99.8h.01M400.9 99.9h.01M390.4 77.0h.01M395.9 104.7h.01M393.2 86.1h.01M389.1 48.4h.01M391.5 54.6h.01M392.9 74.3h.01M392.3 46.2h.01M389.9 74.1h.01M398.3 119.1h.01M398.8 122.7h.01M394.2 95.9h.01M392.8 82.2h.01M390.4 66.6h.01M393.6 56.3h.01M401.0 115.2h.01M397.0 91.5h.01M392.4 91.1h.01M391.0 73.2h.01M388.0 33.1h.01M391.8 62.9h.01M390.7 49.9h.01M401.9 118.2h.01M391.1 83.7h.01M387.9 35.6h.01M399.6 118.8h.01M391.1 43.6h.01M390.4 54.0h.01M392.5 92.8h.01M389.2 43.4h.01M390.9 77.6h.01M399.2 108.1h.01M399.4 115.6h.01M392.0 70.1h.01M391.8 85.6h.01M395.5 38.8h.01M393.9 56.0h.01M387.8 34.8h.01M397.3 109.9h.01M400.6 120.3h.01M391.6 66.8h.01M390.3 46.0h.01M393.3 72.1h.01M396.5 56.8h.01M400.6 122.4h.01M401.3 112.0h.01M392.1 51.7h.01M398.7 122.2h.01M408.5 114.2h.01M392.8 46.9h.01M391.3 63.0h.01M390.2 58.8h.01M390.9 39.8h.01M393.4 95.9h.01M391.6 75.6h.01M395.4 106.2h.01M395.6 42.5h.01M394.1 102.1h.01M400.9 120.0h.01M393.6 73.5h.01M391.3 60.3h.01M394.6 67.6h.01M393.5 81.2h.01M392.7 91.5h.01M395.2 105.8h.01M391.6 34.0h.01M396.1 88.1h.01M387.5 32.7h.01M390.2 62.5h.01M391.9 88.3h.01M399.3 109.2h.01M388.5 54.1h.01M393.4 90.1h.01M396.2 110.1h.01M391.2 65.2h.01M388.4 46.2h.01M391.0 69.6h.01M398.3 112.5h.01M395.7 106.1h.01M400.4 108.9h.01M399.0 123.4h.01M402.5 118.8h.01M388.8 40.8h.01M394.0 95.1h.01M393.9 99.1h.01M401.9 110.1h.01M402.5 112.7h.01M394.3 54.9h.01M391.2 78.9h.01M394.9 97.7h.01M402.2 121.1h.01M397.2 99.5h.01M390.1 41.6h.01M402.8 108.1h.01M398.2 110.0h.01M389.8 74.1h.01M400.7 60.9h.01M401.6 120.5h.01M395.2 102.9h.01M399.6 123.6h.01M390.6 76.0h.01M390.1 68.8h.01M396.1 103.9h.01M392.6 73.8h.01M399.4 121.1h.01M389.7 64.6h.01M398.3 95.2h.01M391.4 72.1h.01M391.5 51.1h.01M393.6 81.7h.01M399.9 117.6h.01M396.3 103.6h.01M397.9 115.0h.01M390.3 72.9h.01M390.3 75.4h.01M401.9 123.5h.01M392.3 59.5h.01M390.6 80.3h.01M390.1 63.4h.01M394.7 83.6h.01M394.3 101.9h.01M391.0 80.1h.01M392.0 71.7h.01M389.9 54.9h.01M400.5 121.5h.01M392.3 89.0h.01M392.2 36.6h.01M389.2 64.5h.01M396.3 89.2h.01M399.3 111.8h.01M389.9 73.1h.01M389.8 43.2h.01M394.4 93.1h.01M390.4 73.4h.01M389.5 51.2h.01M392.8 40.9h.01M390.0 62.3h.01M389.2 64.9h.01M388.4 40.9h.01M399.8 113.8h.01M395.8 100.6h.01M394.6 97.3h.01M399.1 118.4h.01M392.0 81.4h.01M389.9 67.1h.01M391.8 84.5h.01M389.3 55.4h.01M389.7 53.1h.01M397.5 87.1h.01M405.9 121.0h.01M398.6 122.1h.01M399.9 118.1h.01M394.8 75.6h.01M391.4 84.4h.01M396.2 109.9h.01M395.5 97.9h.01M393.0 91.4h.01M391.4 86.1h.01M391.8 82.2h.01M392.1 82.8h.01M389.9 56.0h.01M399.4 120.5h.01M390.2 72.6h.01M390.4 71.6h.01M389.6 39.8h.01M388.1 35.7h.01M396.0 103.6h.01M397.5 110.4h.01M398.7 104.5h.01M399.4 104.7h.01M389.3 50.9h.01M398.7 110.6h.01M388.0 37.7h.01M389.9 45.9h.01M392.5 90.2h.01M388.2 31.8h.01M400.9 110.4h.01M400.8 115.9h.01M400.1 123.5h.01M401.0 122.4h.01M391.9 86.4h.01M397.1 111.5h.01M389.4 32.8h.01M398.7 122.3h.01M399.5 112.4h.01M396.8 112.0h.01M389.6 31.8h.01M388.4 55.5h.01M400.4 118.1h.01M397.6 83.3h.01M387.6 33.6h.01M391.6 88.2h.01M398.7 75.7h.01M394.4 99.1h.01M394.1 85.9h.01M388.3 47.6h.01M398.6 113.6h.01M395.0 122.6h.01M397.0 120.9h.01M397.4 120.8h.01M405.9 115.8h.01M400.5 119.3h.01M395.3 122.4h.01M407.6 117.6h.01M390.9 123.7h.01M408.6 116.4h.01M394.4 122.7h.01M404.5 118.4h.01M394.2 122.2h.01M394.6 122.5h.01M399.5 120.6h.01M406.6 117.9h.01M390.9 122.1h.01M397.9 120.4h.01M392.4 122.5h.01M403.1 116.8h.01M399.9 120.5h.01M399.6 120.7h.01M406.1 117.1h.01M398.8 120.4h.01M406.9 116.6h.01M390.7 122.8h.01M407.9 116.6h.01M406.3 118.2h.01M393.3 122.6h.01M401.5 120.3h.01M402.2 119.9h.01M407.3 117.2h.01M393.3 120.5h.01M410.7 116.0h.01M402.0 119.2h.01M401.7 118.9h.01M405.7 117.2h.01M406.8 116.8h.01M392.2 121.6h.01M397.7 120.8h.01M392.6 122.5h.01M406.8 117.4h.01M394.7 121.3h.01M407.8 116.8h.01M401.6 118.3h.01M401.1 118.9h.01M397.5 121.4h.01M394.2 122.4h.01M394.7 122.6h.01M407.6 115.6h.01M405.1 118.5h.01M409.5 116.1h.01M394.5 121.5h.01M393.7 121.8h.01M395.0 121.0h.01M411.0 114.9h.01M406.8 116.4h.01M397.6 121.1h.01M394.0 122.4h.01M402.7 118.4h.01M397.3 120.4h.01M392.9 122.0h.01M411.3 115.4h.01M409.3 115.7h.01M391.2 122.2h.01M407.0 117.2h.01M391.3 123.2h.01M405.1 117.6h.01M391.2 123.2h.01M404.0 116.6h.01M406.8 117.3h.01M391.8 120.8h.01M408.1 117.2h.01M407.2 115.8h.01M406.2 118.0h.01M408.0 117.3h.01M400.6 120.2h.01M403.1 118.5h.01M395.4 121.8h.01M391.2 122.5h.01M390.7 121.5h.01M404.4 117.9h.01M408.9 116.4h.01M403.7 118.5h.01M391.9 122.9h.01M395.1 121.1h.01M404.3 118.5h.01M390.7 123.6h.01M403.4 119.4h.01M397.4 121.3h.01M410.0 116.0h.01M404.6 118.9h.01M399.8 118.9h.01M391.7 122.3h.01M406.5 117.4h.01M402.5 119.2h.01M394.5 122.7h.01M392.8 122.3h.01M392.0 122.0h.01M400.0 120.5h.01M392.9 123.0h.01M411.4 115.6h.01M411.4 115.1h.01M400.0 120.2h.01M398.9 119.2h.01M395.7 119.5h.01M395.9 122.0h.01M403.3 119.3h.01M392.8 123.2h.01M397.1 121.9h.01M392.7 121.6h.01M403.8 119.1h.01M401.4 119.7h.01M402.7 119.2h.01M405.2 118.3h.01M402.5 119.1h.01M395.2 122.4h.01M393.5 122.5h.01M402.1 119.1h.01M405.0 118.0h.01M393.0 121.9h.01M405.3 118.3h.01M403.1 119.1h.01M393.6 122.9h.01M394.6 121.6h.01M397.8 121.2h.01M396.8 120.1h.01M405.0 117.6h.01M401.5 119.3h.01M395.1 122.5h.01M410.4 116.0h.01M396.1 121.2h.01M398.9 119.4h.01M407.0 117.7h.01M403.3 117.9h.01M401.8 120.0h.01M398.9 120.9h.01M405.8 118.2h.01M398.6 120.9h.01M391.3 123.4h.01M409.9 116.4h.01M403.9 119.0h.01M399.4 120.8h.01M393.9 121.8h.01M408.2 116.4h.01M411.2 114.7h.01M408.2 115.7h.01M410.0 116.4h.01M392.0 121.6h.01M403.0 119.0h.01M398.0 121.2h.01M403.2 118.7h.01M393.0 121.9h.01M392.6 122.7h.01M402.1 119.8h.01M395.7 121.1h.01M405.9 116.5h.01M410.1 115.5h.01M394.2 122.4h.01M402.7 119.6h.01M398.6 120.8h.01M392.4 123.0h.01M400.1 120.0h.01M405.6 117.4h.01M397.7 121.4h.01M409.3 115.3h.01M402.3 119.3h.01M395.7 121.0h.01M397.9 119.5h.01M411.2 114.3h.01M399.3 120.4h.01M395.2 121.0h.01M400.3 120.4h.01M400.3 118.7h.01M394.6 122.3h.01M408.5 116.1h.01M398.9 121.3h.01M407.2 116.7h.01M395.8 122.1h.01M400.4 119.8h.01M399.1 120.7h.01M401.5 118.6h.01M396.7 121.9h.01M398.2 121.5h.01M407.2 117.4h.01M398.4 119.7h.01M395.9 120.9h.01M393.5 121.5h.01M400.4 119.0h.01M393.0 123.2h.01M406.8 117.0h.01M407.6 116.6h.01M407.8 117.5h.01M407.7 117.4h.01M397.5 119.6h.01M402.3 119.2h.01M401.5 120.3h.01M395.4 121.5h.01M398.8 117.8h.01M406.0 117.9h.01M402.6 118.7h.01M392.3 122.7h.01M405.9 117.3h.01M392.5 123.3h.01M397.1 121.3h.01M409.1 116.6h.01M397.2 121.1h.01M396.1 122.1h.01M404.8 118.7h.01M410.9 115.0h.01M397.9 120.0h.01M397.6 121.5h.01M399.9 120.3h.01M390.9 122.6h.01M409.6 115.1h.01M397.5 121.5h.01M393.6 123.0h.01M411.7 115.4h.01M408.6 115.3h.01M396.4 121.4h.01M408.7 115.5h.01M394.8 120.1h.01M409.7 115.8h.01M397.1 121.7h.01M395.6 122.4h.01M399.2 120.9h.01M397.0 119.6h.01M403.5 117.1h.01M395.7 122.0h.01M403.9 118.1h.01M407.1 116.2h.01M407.4 116.7h.01M395.5 121.5h.01M400.5 119.0h.01M397.0 120.8h.01M403.4 118.9h.01M402.7 118.1h.01M393.3 122.5h.01M403.6 117.2h.01M410.9 114.6h.01M392.2 122.8h.01M407.9 116.0h.01M392.0 122.6h.01M394.1 119.9h.01M394.8 122.1h.01M397.4 121.7h.01M411.3 114.4h.01M396.6 121.5h.01M399.9 118.8h.01M408.0 117.3h.01M400.2 120.3h.01M406.4 117.3h.01M407.9 115.3h.01M407.5 116.7h.01M407.2 117.1h.01M406.0 117.6h.01M393.9 122.3h.01M408.2 116.6h.01M403.5 119.4h.01M390.9 122.8h.01M404.2 119.1h.01M399.5 120.6h.01M409.0 116.1h.01M397.2 121.2h.01M410.2 115.8h.01M392.0 121.7h.01M395.4 120.8h.01M408.3 115.7h.01M405.7 118.4h.01M391.7 121.9h.01M404.6 117.3h.01M400.7 120.3h.01M398.4 120.4h.01M391.2 122.6h.01M402.7 118.8h.01M391.7 122.6h.01M411.7 114.4h.01M406.8 117.8h.01M411.6 113.7h.01M408.4 116.6h.01M402.7 119.8h.01M410.1 115.4h.01M391.6 123.1h.01M410.2 116.1h.01M409.2 115.7h.01M399.7 119.4h.01M390.8 123.6h.01M392.5 122.4h.01M407.0 117.8h.01M409.6 115.0h.01M409.0 116.5h.01M396.6 120.7h.01M411.3 115.5h.01M403.9 117.7h.01M391.5 123.2h.01M394.4 122.7h.01M396.2 121.3h.01M406.9 117.5h.01M394.9 120.5h.01M393.5 120.8h.01M397.3 120.3h.01M419.5 110.3h.01M412.6 115.3h.01M402.8 71.5h.01M401.6 68.3h.01M398.0 58.0h.01M395.1 43.3h.01M391.1 39.2h.01M404.9 97.1h.01M386.2 25.2h.01M391.8 25.2h.01M392.0 25.2h.01M388.9 25.2h.01M397.2 25.2h.01M392.7 25.2h.01M393.8 25.2h.01M394.1 25.2h.01M390.0 25.2h.01M386.2 25.2h.01M385.5 25.2h.01M385.4 25.2h.01M390.6 25.2h.01M397.1 25.2h.01M384.6 25.2h.01M391.8 25.2h.01M392.1 25.2h.01M391.1 25.2h.01M391.9 25.2h.01M386.0 25.2h.01M391.3 25.2h.01M384.6 25.2h.01M393.6 25.2h.01M388.4 25.2h.01M391.5 25.2h.01M390.3 25.2h.01M394.0 25.2h.01M392.2 25.2h.01M387.2 25.2h.01M386.7 25.2h.01M392.3 25.2h.01M392.0 25.2h.01M392.7 25.2h.01M395.1 25.2h.01M395.6 25.2h.01M390.8 25.2h.01M387.5 25.2h.01M388.6 25.2h.01M397.0 25.2h.01M385.4 25.2h.01M396.2 25.2h.01M391.2 25.2h.01M390.4 25.2h.01M391.3 25.2h.01M389.9 25.2h.01M392.6 25.2h.01M389.4 25.2h.01M387.9 25.2h.01M387.1 25.2h.01M388.9 25.2h.01M394.9 25.2h.01M390.8 25.2h.01M385.9 25.2h.01M393.6 25.2h.01M395.1 25.2h.01M386.3 25.2h.01M391.0 25.2h.01M393.6 25.2h.01M384.8 25.2h.01M395.4 25.2h.01M387.8 25.2h.01M389.4 25.2h.01M396.7 25.2h.01M386.3 25.2h.01M389.0 25.2h.01M397.1 25.2h.01M387.1 25.2h.01M391.5 25.2h.01M394.0 25.2h.01M395.3 25.2h.01M410.5 25.2h.01" stroke="#E2463F" stroke-width="1.1" stroke-linecap="round" fill="none" opacity="1"/>
<path d="M362.2 25.2h.01M370.4 25.2h.01" stroke="#4B81B2" stroke-width="1.1" stroke-linecap="round" fill="none" opacity="1"/>
<rect x="332.00" y="24.60" width="98.00" height="105.20" fill="none" stroke="#222" stroke-width="1.1"/>
<line x1="329.00" y1="125.30" x2="332.00" y2="125.30" stroke="#222" stroke-width="0.9"/>
<text x="327.80" y="129.02" font-size="10.4" text-anchor="end" font-weight="bold" fill="#000" stroke="#000">0</text>
<line x1="329.00" y1="94.00" x2="332.00" y2="94.00" stroke="#222" stroke-width="0.9"/>
<text x="327.80" y="97.72" font-size="10.4" text-anchor="end" font-weight="bold" fill="#000" stroke="#000">100</text>
<line x1="329.00" y1="62.70" x2="332.00" y2="62.70" stroke="#222" stroke-width="0.9"/>
<text x="327.80" y="66.42" font-size="10.4" text-anchor="end" font-weight="bold" fill="#000" stroke="#000">200</text>
<line x1="329.00" y1="31.40" x2="332.00" y2="31.40" stroke="#222" stroke-width="0.9"/>
<text x="327.80" y="35.12" font-size="10.4" text-anchor="end" font-weight="bold" fill="#000" stroke="#000">300</text>
<line x1="339.90" y1="129.80" x2="339.90" y2="132.80" stroke="#222" stroke-width="0.9"/>
<text x="338.40" y="142.95" font-size="10.2" text-anchor="middle" font-weight="bold" fill="#000" stroke="#000">−20</text>
<line x1="360.20" y1="129.80" x2="360.20" y2="132.80" stroke="#222" stroke-width="0.9"/>
<text x="358.70" y="142.95" font-size="10.2" text-anchor="middle" font-weight="bold" fill="#000" stroke="#000">−10</text>
<line x1="380.50" y1="129.80" x2="380.50" y2="132.80" stroke="#222" stroke-width="0.9"/>
<text x="380.50" y="142.95" font-size="10.2" text-anchor="middle" font-weight="bold" fill="#000" stroke="#000">0</text>
<line x1="400.80" y1="129.80" x2="400.80" y2="132.80" stroke="#222" stroke-width="0.9"/>
<text x="400.80" y="142.95" font-size="10.2" text-anchor="middle" font-weight="bold" fill="#000" stroke="#000">10</text>
<line x1="421.10" y1="129.80" x2="421.10" y2="132.80" stroke="#222" stroke-width="0.9"/>
<text x="421.10" y="142.95" font-size="10.2" text-anchor="middle" font-weight="bold" fill="#000" stroke="#000">20</text>
<text x="381.80" y="16.27" font-size="10.8" text-anchor="middle" font-weight="bold" fill="#000" stroke="#000">B−vs−A</text>
<text x="380.00" y="161.30" font-size="11" text-anchor="middle" font-weight="bold" fill="#000" stroke="#000">log<tspan font-size="7" dy="2">2</tspan><tspan dy="-2"> FoldChange</tspan></text>
<text x="303.20" y="74.50" font-size="10.75" text-anchor="middle" font-weight="bold" fill="#000" stroke="#000" transform="rotate(-90 303.20 74.50)">−log<tspan font-size="7" dy="2">10</tspan><tspan dy="-2"> </tspan><tspan font-style="italic">q</tspan>−value</text>
<line x1="477.90" y1="125.20" x2="575.20" y2="125.20" stroke="#d0d0d0" stroke-width="1" stroke-dasharray="4 3"/>
<line x1="520.40" y1="25.70" x2="520.40" y2="131.00" stroke="#d0d0d0" stroke-width="1" stroke-dasharray="4 3"/>
<line x1="531.80" y1="25.70" x2="531.80" y2="131.00" stroke="#d0d0d0" stroke-width="1" stroke-dasharray="4 3"/>
<path d="M526.0 125.8h.01M530.1 126.3h.01M525.2 126.2h.01M537.2 125.5h.01M530.9 125.5h.01M522.9 125.4h.01M522.9 125.7h.01M532.5 126.4h.01M527.2 125.3h.01M529.4 126.0h.01M524.1 126.2h.01M518.0 125.6h.01M524.4 126.0h.01M526.1 125.5h.01M514.2 126.2h.01M528.7 125.4h.01M524.6 126.0h.01M518.3 125.4h.01M528.4 126.2h.01M523.4 125.7h.01M538.7 125.4h.01M536.7 125.4h.01M535.5 126.1h.01M528.2 126.2h.01M531.4 125.5h.01M510.9 126.4h.01M526.6 125.7h.01M535.1 126.3h.01M532.0 125.4h.01M536.2 125.8h.01M512.7 125.6h.01M521.9 125.5h.01M532.8 126.1h.01M527.5 125.9h.01M520.3 126.1h.01M530.4 126.3h.01M537.2 126.3h.01M528.0 125.5h.01M522.6 125.3h.01M532.8 125.3h.01M545.8 125.5h.01M533.4 125.2h.01M529.2 125.5h.01M517.2 126.2h.01M513.6 125.4h.01M516.9 125.2h.01M526.7 125.2h.01M528.2 125.8h.01M536.5 125.7h.01M516.0 125.4h.01M523.3 125.7h.01M529.1 125.2h.01M536.6 126.4h.01M518.2 126.3h.01M524.3 125.8h.01M542.4 125.9h.01M516.2 126.1h.01M530.0 125.6h.01M520.3 126.1h.01M531.5 126.0h.01M521.1 125.6h.01M531.5 125.8h.01M519.3 125.3h.01M518.5 125.4h.01M517.9 125.8h.01M530.5 125.3h.01M518.4 126.0h.01M543.0 126.0h.01M522.3 126.2h.01M527.4 125.7h.01M521.7 126.2h.01M512.1 126.3h.01M524.2 126.0h.01M525.5 125.5h.01M542.9 126.1h.01M523.9 126.3h.01M523.4 125.6h.01M517.6 126.1h.01M526.7 125.7h.01M532.3 126.3h.01M522.8 125.7h.01M531.8 126.3h.01M529.1 126.3h.01M526.0 125.3h.01M520.2 126.0h.01M517.8 125.5h.01M538.1 126.2h.01M521.0 125.5h.01M525.9 126.2h.01M539.8 126.0h.01M521.2 125.4h.01M533.8 125.2h.01M530.0 126.4h.01M524.1 125.9h.01M518.5 125.4h.01M519.3 125.5h.01M512.0 125.2h.01M519.6 125.6h.01M534.3 126.1h.01M545.1 125.2h.01M532.7 126.1h.01M526.2 126.3h.01M542.6 126.2h.01M527.4 126.4h.01M534.4 126.2h.01M520.4 126.3h.01M521.2 126.2h.01M532.4 125.7h.01M517.8 125.2h.01M521.6 125.9h.01M522.7 125.7h.01M525.6 126.4h.01M517.9 126.0h.01M523.6 126.0h.01M524.2 126.1h.01M507.0 126.3h.01M533.0 126.1h.01M549.5 126.2h.01M528.0 126.1h.01M533.8 125.7h.01M513.2 125.4h.01M538.5 125.9h.01M530.1 125.2h.01M539.1 125.8h.01M533.8 125.6h.01M533.7 126.0h.01M536.9 125.5h.01M535.3 125.7h.01M524.3 126.2h.01M527.3 126.2h.01M514.2 125.9h.01M532.8 126.4h.01M529.5 125.2h.01M524.1 126.3h.01M536.1 126.4h.01M544.7 126.0h.01M545.6 125.5h.01M522.2 126.1h.01M541.4 125.2h.01M520.1 126.1h.01M521.7 126.3h.01M526.3 125.3h.01M540.0 125.7h.01M532.1 125.7h.01M523.1 125.7h.01M525.0 126.0h.01M532.9 126.4h.01M519.2 126.2h.01M506.5 125.3h.01M516.2 126.3h.01M517.1 125.8h.01M535.6 125.8h.01M536.1 125.8h.01M524.8 125.5h.01M536.8 125.3h.01M538.7 125.6h.01M520.5 126.1h.01M517.4 126.3h.01M533.3 126.4h.01M530.6 126.0h.01M518.8 125.5h.01M524.2 125.7h.01M519.8 125.7h.01M506.0 126.1h.01M533.7 125.6h.01M530.5 125.8h.01M524.4 125.9h.01M534.9 125.6h.01M535.1 125.3h.01M546.4 126.3h.01M529.8 126.4h.01M516.2 125.4h.01M545.5 125.8h.01M525.0 126.4h.01M514.9 125.7h.01M526.5 125.6h.01M537.5 125.5h.01M524.6 125.7h.01M531.3 125.4h.01M523.4 126.2h.01M533.2 126.0h.01M522.6 125.8h.01M518.8 125.2h.01M517.2 126.1h.01M522.4 125.4h.01M534.0 126.3h.01M519.1 126.3h.01M532.6 126.1h.01M519.7 125.9h.01M516.5 125.9h.01M516.2 126.1h.01M513.3 126.3h.01M528.7 125.9h.01M522.4 126.2h.01M542.5 126.1h.01M518.6 125.6h.01M522.5 126.2h.01M528.3 125.5h.01M528.4 125.8h.01M533.2 125.8h.01M509.0 126.1h.01M531.9 126.0h.01M529.6 125.7h.01M530.8 126.0h.01M523.9 126.2h.01M528.5 125.7h.01M538.6 125.9h.01M522.8 125.3h.01M517.2 126.3h.01M542.6 125.8h.01M534.5 125.8h.01M523.2 125.9h.01M534.7 125.9h.01M532.5 125.4h.01M527.3 125.3h.01M528.9 126.2h.01M536.3 125.8h.01M520.2 126.2h.01M513.9 126.4h.01M529.1 125.5h.01M512.6 125.8h.01M515.2 125.3h.01M527.6 125.4h.01M518.0 126.0h.01M520.7 125.9h.01M529.6 126.4h.01M520.5 126.3h.01M524.3 125.6h.01M515.8 126.2h.01M521.7 125.4h.01M530.2 125.9h.01M526.6 126.1h.01M509.5 125.3h.01M537.9 126.1h.01M528.1 126.0h.01M534.1 126.3h.01M524.6 125.9h.01M522.2 126.3h.01M530.2 126.3h.01M518.9 125.5h.01M527.6 125.9h.01M533.3 126.1h.01M521.0 126.1h.01M526.8 125.7h.01M522.1 125.7h.01M527.6 125.6h.01M519.6 125.8h.01M519.2 126.0h.01M534.1 125.5h.01M519.9 125.6h.01M521.2 125.9h.01M528.1 125.5h.01M522.6 125.9h.01M529.9 125.5h.01M540.9 126.2h.01M521.1 126.1h.01M522.4 126.0h.01M519.7 125.4h.01M544.0 125.5h.01M523.7 125.8h.01M527.7 126.1h.01M534.7 125.7h.01M531.9 125.9h.01M544.5 125.8h.01M539.2 125.6h.01M521.8 126.3h.01M535.1 126.4h.01M521.4 125.9h.01M535.2 125.7h.01M525.3 125.9h.01M541.5 125.8h.01M523.4 126.1h.01M528.5 125.3h.01M533.1 126.0h.01M529.5 125.6h.01M507.4 125.8h.01M533.7 125.6h.01M506.4 125.6h.01M527.3 126.0h.01M523.9 125.5h.01M515.5 126.1h.01M528.2 125.4h.01M526.3 126.1h.01M522.8 125.9h.01M511.2 125.5h.01M531.6 125.4h.01M529.8 126.0h.01M530.9 125.5h.01M543.1 126.3h.01M537.4 126.2h.01M513.5 126.1h.01M545.7 126.1h.01M532.9 126.4h.01M537.7 126.2h.01M538.3 125.9h.01M521.2 125.5h.01M528.7 125.4h.01M524.1 126.3h.01M536.2 125.3h.01M519.8 125.2h.01M523.1 126.1h.01M529.1 125.6h.01M534.6 126.2h.01M535.7 125.7h.01M530.0 125.4h.01M521.8 125.6h.01M528.3 125.2h.01M531.9 126.2h.01M513.4 125.8h.01M534.5 125.4h.01M533.9 125.4h.01M520.5 125.3h.01M531.2 125.6h.01M512.9 126.3h.01M523.1 125.5h.01M511.6 126.2h.01M520.2 125.8h.01M532.4 126.2h.01M541.0 126.2h.01M529.0 126.1h.01M535.8 126.0h.01M532.9 126.4h.01M521.4 126.2h.01M527.3 126.2h.01M525.5 126.3h.01M514.0 125.5h.01M517.7 126.1h.01M511.3 125.5h.01M545.5 125.7h.01M534.1 126.4h.01M528.4 126.3h.01M523.2 125.8h.01M530.0 125.6h.01M534.8 126.4h.01M534.0 126.1h.01M537.1 125.7h.01M533.8 125.3h.01M513.2 125.3h.01M521.5 125.4h.01M534.1 125.7h.01M516.3 125.4h.01M524.0 125.7h.01M520.2 125.3h.01M526.2 125.6h.01M522.2 125.3h.01M519.2 126.2h.01M533.2 125.2h.01M524.9 125.9h.01M520.1 125.7h.01M520.9 125.8h.01M522.3 125.7h.01M531.6 125.3h.01M517.8 126.2h.01M530.7 125.6h.01M517.2 125.8h.01M525.7 125.8h.01M520.9 125.7h.01M534.3 125.5h.01M533.0 126.4h.01M537.7 126.3h.01M516.7 125.2h.01M529.5 125.3h.01M529.6 125.3h.01M518.1 126.0h.01M527.0 126.1h.01M529.3 126.0h.01M518.0 125.3h.01M518.2 125.7h.01M514.9 125.9h.01M531.2 126.0h.01M524.7 125.3h.01M540.2 125.8h.01M526.5 125.5h.01M529.9 126.2h.01M524.7 125.4h.01M524.3 126.3h.01M524.7 126.3h.01M524.5 126.2h.01M540.6 125.5h.01M514.0 125.5h.01M531.4 125.5h.01M539.7 125.6h.01M512.4 125.2h.01M515.3 126.3h.01M529.5 125.4h.01M529.0 125.8h.01M534.7 126.3h.01M524.8 125.4h.01M518.0 125.3h.01M527.9 125.7h.01M527.3 125.3h.01M529.8 125.4h.01M518.4 126.3h.01M526.1 126.1h.01M521.5 126.0h.01M511.5 126.2h.01M517.0 126.2h.01M532.8 125.9h.01M528.3 125.2h.01M519.3 125.9h.01M525.1 125.6h.01M527.5 126.2h.01M515.4 125.8h.01M532.1 126.3h.01M508.0 126.0h.01M547.9 126.4h.01M532.9 125.4h.01M509.5 126.3h.01M508.5 125.7h.01M528.0 126.0h.01M539.0 126.4h.01M529.1 125.8h.01M526.7 126.3h.01M530.5 126.1h.01M538.1 126.3h.01M531.4 125.8h.01M517.8 125.9h.01M523.1 125.6h.01M517.0 125.4h.01M536.4 125.4h.01M530.7 125.2h.01M525.8 126.0h.01M528.5 125.8h.01M525.9 125.5h.01M530.1 126.4h.01M521.8 125.2h.01M526.5 125.7h.01M519.2 126.2h.01M520.1 125.5h.01M531.9 125.4h.01M530.1 125.7h.01M522.1 126.1h.01M530.8 125.4h.01M521.6 125.3h.01M534.3 125.4h.01M524.9 126.3h.01M532.3 126.2h.01M540.3 125.7h.01M537.7 125.8h.01M518.0 126.3h.01M524.1 126.1h.01M534.9 125.6h.01M531.8 125.3h.01M521.4 125.7h.01M514.9 125.7h.01M544.0 126.3h.01M521.4 125.9h.01M526.6 125.2h.01M517.9 125.4h.01M544.7 125.8h.01M528.8 126.4h.01M521.9 125.4h.01M519.9 125.9h.01M532.7 125.8h.01M516.1 125.4h.01M536.4 126.3h.01M519.2 125.3h.01M525.1 125.8h.01M537.4 126.4h.01M530.2 125.3h.01M525.6 125.5h.01M516.6 125.7h.01M511.4 126.3h.01M515.9 125.7h.01M531.7 125.5h.01M540.3 125.5h.01M520.4 125.2h.01M526.5 126.1h.01M526.6 126.1h.01M523.9 125.8h.01M526.4 126.1h.01M525.9 125.6h.01M534.9 125.7h.01M522.7 126.1h.01M520.6 125.7h.01M522.0 126.4h.01M542.9 125.8h.01M525.2 125.9h.01M527.2 125.9h.01M530.8 126.0h.01M523.3 126.1h.01M514.0 125.6h.01M520.8 125.4h.01M517.0 125.3h.01M531.4 125.5h.01M521.0 125.5h.01M531.4 126.1h.01M520.1 125.7h.01M535.9 125.3h.01M526.1 125.6h.01M529.1 125.7h.01M536.6 125.9h.01M527.6 125.7h.01M523.7 125.4h.01M536.8 125.7h.01M519.4 126.0h.01M525.8 126.1h.01" stroke="#D9E0E8" stroke-width="1.0" stroke-linecap="round" fill="none" opacity="1"/>
<path d="M523.7 122.6h.01M522.0 117.2h.01M522.1 122.8h.01M522.0 122.3h.01M523.0 122.9h.01M521.7 124.5h.01M522.9 120.9h.01M520.5 114.5h.01M523.8 123.8h.01M523.8 124.3h.01M521.9 121.7h.01M521.0 112.4h.01M524.2 124.1h.01M524.8 125.2h.01M521.0 115.6h.01M523.6 125.0h.01M521.5 115.9h.01M521.2 123.5h.01M524.2 123.7h.01M522.8 120.8h.01M521.6 114.2h.01M524.0 123.0h.01M523.6 122.4h.01M524.7 124.9h.01M523.9 123.1h.01M522.6 119.2h.01M523.0 122.6h.01M524.0 125.1h.01M524.0 123.1h.01M524.9 125.2h.01M523.7 123.2h.01M524.1 124.2h.01M523.0 119.4h.01M521.2 112.0h.01M524.0 125.0h.01M523.1 120.4h.01M521.3 119.5h.01M522.6 122.9h.01M521.4 123.7h.01M524.0 123.8h.01M520.6 125.0h.01M524.6 124.6h.01M522.7 124.7h.01M522.5 124.0h.01M521.8 121.4h.01M520.8 121.0h.01M522.3 121.7h.01M522.6 122.1h.01M521.7 121.4h.01M524.8 125.1h.01M524.9 125.2h.01M521.3 115.3h.01M523.6 123.7h.01M523.1 124.2h.01M522.0 116.1h.01M523.4 120.9h.01M521.1 119.3h.01M520.6 123.8h.01M521.0 123.0h.01M523.8 123.9h.01M524.8 125.1h.01M524.8 125.2h.01M521.3 119.8h.01M523.7 123.1h.01M524.0 125.0h.01M524.5 124.4h.01M524.6 124.6h.01M520.8 111.6h.01M524.8 125.2h.01M522.8 120.4h.01M524.5 125.2h.01M524.9 125.2h.01M520.5 111.9h.01M521.5 116.1h.01M523.6 124.6h.01M524.3 124.7h.01M524.2 125.1h.01M523.6 122.5h.01M522.5 122.2h.01M523.2 121.3h.01M522.6 124.9h.01M523.3 121.1h.01M523.5 122.9h.01M524.8 125.2h.01M521.7 122.7h.01M524.3 124.7h.01M520.8 109.9h.01M521.7 121.5h.01M521.8 118.5h.01M523.2 122.4h.01M522.3 123.8h.01M524.7 125.1h.01M520.6 124.1h.01M521.3 123.9h.01M520.5 114.5h.01M522.3 123.5h.01M521.2 122.6h.01M524.8 125.0h.01M524.8 125.1h.01M522.4 121.4h.01M524.7 125.1h.01M521.8 118.3h.01M523.1 123.1h.01M523.2 120.2h.01M522.5 117.4h.01M520.5 113.9h.01M521.7 115.8h.01M523.2 124.5h.01M522.8 123.5h.01M522.2 122.7h.01M523.6 122.8h.01M524.4 124.2h.01M522.1 118.4h.01M522.5 122.1h.01M524.2 123.9h.01M523.1 121.0h.01M522.1 123.5h.01M521.2 113.7h.01M524.1 123.4h.01M520.8 115.0h.01M524.2 124.9h.01M523.4 121.7h.01M523.8 123.8h.01M521.7 123.9h.01M523.4 124.1h.01M524.1 124.0h.01M522.1 116.2h.01M520.6 120.3h.01M524.6 124.8h.01M523.4 125.0h.01M521.8 121.2h.01M521.2 123.5h.01M521.8 125.0h.01M522.6 120.9h.01M521.3 120.0h.01M520.9 120.0h.01M521.0 110.6h.01M524.3 123.9h.01M521.3 120.3h.01M523.8 122.7h.01M523.5 124.7h.01M521.4 124.4h.01M524.0 123.7h.01M520.8 111.2h.01M522.1 124.5h.01M520.7 116.7h.01M522.2 122.5h.01M523.9 124.8h.01M521.2 118.5h.01M523.5 121.3h.01M521.5 121.1h.01M520.9 113.9h.01M523.6 123.4h.01M524.1 123.5h.01M524.0 124.6h.01M522.6 123.4h.01M524.8 125.0h.01M521.5 120.7h.01M524.2 123.5h.01M524.0 123.5h.01M521.1 120.1h.01M520.8 119.8h.01M524.0 123.8h.01M524.4 125.2h.01M522.4 120.2h.01M521.5 117.2h.01M524.4 124.6h.01M521.3 122.1h.01M522.2 119.6h.01M521.2 124.1h.01M522.7 120.4h.01M522.0 118.1h.01M522.5 124.9h.01M521.3 115.4h.01M523.8 124.7h.01M521.1 120.0h.01M522.6 123.0h.01M523.7 124.8h.01M522.5 118.8h.01M523.8 125.1h.01M521.2 113.4h.01M521.8 123.2h.01M521.8 120.9h.01M523.6 124.5h.01M524.4 125.2h.01M523.6 122.1h.01M522.9 120.9h.01M524.1 124.6h.01M523.2 124.1h.01M522.5 122.3h.01M520.4 116.2h.01M524.7 124.8h.01M522.9 123.3h.01M522.8 123.0h.01M521.0 113.9h.01M521.2 112.9h.01M523.1 122.7h.01M523.7 122.5h.01M522.0 117.8h.01M521.4 115.8h.01M522.1 122.0h.01M522.5 120.9h.01M521.8 124.3h.01M521.2 119.8h.01M521.6 115.6h.01M522.9 121.4h.01M523.1 122.4h.01M524.8 125.0h.01M522.1 123.6h.01M521.0 113.0h.01M523.4 121.8h.01M524.5 124.9h.01M521.8 122.8h.01M522.0 122.2h.01M522.9 124.0h.01M523.3 120.8h.01M522.4 118.9h.01M521.1 125.1h.01M521.9 123.9h.01M521.0 118.9h.01M520.9 121.7h.01M524.4 124.5h.01M524.1 123.4h.01M521.7 124.1h.01M521.5 118.2h.01M521.1 123.8h.01M521.1 111.5h.01M521.0 122.0h.01M523.9 122.7h.01M522.7 120.4h.01M522.8 122.2h.01M522.8 119.7h.01M521.0 120.0h.01M524.4 124.6h.01M523.7 123.0h.01M523.9 125.1h.01M520.7 124.1h.01M522.9 120.1h.01M521.5 118.9h.01M520.5 108.7h.01M523.9 123.5h.01M520.4 109.7h.01M524.6 125.1h.01M522.9 123.4h.01M523.3 122.2h.01M520.7 111.6h.01M521.3 122.5h.01M520.6 112.5h.01M523.5 124.8h.01M520.6 115.2h.01M521.6 118.8h.01M523.7 122.5h.01M521.1 114.2h.01M521.2 116.0h.01M520.4 110.6h.01M523.7 123.5h.01M522.3 124.5h.01M524.2 124.3h.01M524.2 124.1h.01M522.2 116.8h.01M522.4 119.9h.01M521.4 119.4h.01M521.3 113.5h.01M521.8 122.4h.01M523.1 124.3h.01M523.9 122.8h.01M521.0 120.5h.01M523.9 125.2h.01M521.5 119.7h.01M523.5 122.2h.01M522.2 118.7h.01M520.6 115.4h.01M523.1 121.8h.01M521.0 114.5h.01M522.1 119.7h.01M521.0 111.9h.01M522.8 121.3h.01M522.9 123.2h.01M521.2 118.3h.01M520.7 115.9h.01M524.6 124.7h.01M520.6 110.8h.01M524.9 125.2h.01M521.1 113.5h.01M524.6 124.7h.01M522.9 121.8h.01M521.0 115.4h.01M521.0 112.8h.01M522.5 123.1h.01M521.7 115.0h.01M523.9 124.8h.01M524.1 125.1h.01M521.2 123.6h.01M523.9 124.1h.01M524.7 124.9h.01M524.0 123.3h.01M522.1 122.7h.01M520.6 120.4h.01M520.8 121.1h.01M524.4 124.5h.01M520.9 119.2h.01M524.6 124.9h.01M520.9 121.3h.01M520.8 113.9h.01M524.4 124.8h.01M524.2 124.1h.01M524.8 125.1h.01M524.9 125.1h.01M521.0 116.0h.01M523.7 124.6h.01M522.0 122.3h.01M520.9 121.2h.01M523.3 123.4h.01M521.6 119.2h.01M524.7 125.0h.01M523.1 124.0h.01M520.4 117.6h.01M521.8 114.6h.01M520.7 124.6h.01M524.6 125.2h.01M522.2 123.1h.01M521.0 113.2h.01M522.0 120.4h.01M524.1 123.6h.01M523.3 124.0h.01M522.0 117.6h.01M520.7 112.3h.01M520.8 111.5h.01M521.9 124.9h.01M521.0 118.1h.01M522.1 119.5h.01M521.0 111.0h.01M522.5 120.5h.01M522.5 121.6h.01M524.7 125.2h.01M521.2 116.6h.01M520.5 122.1h.01M521.5 120.9h.01M522.1 121.9h.01M524.7 124.8h.01M521.8 118.2h.01M523.2 124.5h.01M524.0 123.6h.01M523.9 123.5h.01M522.5 124.9h.01M520.8 114.6h.01M520.5 108.7h.01M520.7 111.4h.01M521.7 123.1h.01M524.1 124.6h.01M524.6 124.7h.01M521.3 119.5h.01M523.6 121.7h.01M523.2 121.6h.01M522.3 123.5h.01M521.0 115.7h.01M522.2 122.7h.01M522.6 120.3h.01M524.7 125.1h.01M524.8 125.1h.01M522.3 124.3h.01M522.0 121.7h.01M523.6 122.7h.01M524.8 125.2h.01M522.7 119.4h.01M522.6 123.0h.01M523.5 121.1h.01M522.1 124.6h.01M522.0 115.8h.01M524.4 124.8h.01M524.7 125.2h.01M522.7 120.0h.01M523.0 121.7h.01M521.5 122.9h.01M521.3 113.5h.01M523.8 122.9h.01M522.8 123.9h.01M521.4 118.6h.01M524.2 124.1h.01M521.4 119.5h.01M523.0 123.6h.01M524.6 124.7h.01M524.2 124.2h.01M524.1 123.4h.01M524.2 124.6h.01M524.7 125.1h.01M523.0 120.2h.01M524.8 124.9h.01M523.5 122.0h.01M523.1 120.8h.01M523.2 120.5h.01M524.6 124.8h.01M520.8 116.8h.01M523.4 121.5h.01M523.5 124.1h.01M523.6 121.8h.01M523.7 122.5h.01M520.9 116.3h.01M522.3 122.8h.01M522.3 118.2h.01M523.4 123.6h.01M524.8 125.2h.01M520.5 118.9h.01M524.8 125.2h.01M523.1 121.3h.01M524.3 124.0h.01M523.7 122.2h.01M524.0 124.2h.01M523.5 125.1h.01M524.1 124.3h.01M523.4 124.5h.01M524.2 124.3h.01M521.2 115.4h.01M520.7 111.4h.01M520.9 118.0h.01M521.9 123.8h.01M522.5 118.5h.01M523.7 122.6h.01M521.7 123.9h.01M524.3 124.7h.01M523.9 124.7h.01M522.3 118.8h.01M520.8 110.4h.01M522.1 116.5h.01M523.6 122.0h.01M524.5 124.2h.01M524.6 124.5h.01M521.2 112.9h.01M520.6 114.1h.01M521.4 118.2h.01M521.5 116.0h.01M524.5 124.2h.01M521.5 117.0h.01M521.2 123.5h.01M523.6 124.0h.01M524.9 125.2h.01M524.6 124.7h.01M524.6 125.1h.01M521.5 114.0h.01M523.0 121.1h.01M524.3 124.7h.01M521.6 118.2h.01M520.7 115.8h.01M521.5 122.0h.01M521.5 122.5h.01M522.9 123.3h.01M523.0 124.8h.01M520.7 124.9h.01M521.8 121.7h.01M524.2 124.4h.01M523.7 122.9h.01M524.0 124.0h.01M522.7 121.5h.01M521.7 116.7h.01M523.0 121.0h.01M521.1 110.9h.01M523.7 123.0h.01M520.9 120.9h.01M522.7 118.6h.01M524.4 124.3h.01M522.9 120.9h.01M521.3 117.6h.01M522.3 118.9h.01M521.0 115.6h.01M521.9 124.9h.01M524.1 123.4h.01M524.1 124.3h.01M520.9 110.4h.01M524.8 125.1h.01M524.5 124.4h.01M520.6 119.5h.01M522.5 124.9h.01M523.6 124.1h.01M524.1 124.1h.01M524.9 125.2h.01M524.6 124.8h.01M523.2 121.1h.01M521.7 121.2h.01M521.9 121.3h.01M521.6 121.0h.01M522.4 121.0h.01M524.9 125.2h.01M524.0 125.0h.01M520.9 123.2h.01M524.4 124.7h.01M522.5 117.9h.01M523.8 123.3h.01M521.4 113.6h.01M524.4 125.1h.01M524.5 125.2h.01M524.4 124.6h.01M522.2 117.6h.01M521.4 115.8h.01M520.6 110.7h.01M523.9 124.1h.01M522.0 120.4h.01M521.2 118.8h.01M524.6 125.0h.01M520.4 121.1h.01M521.9 120.0h.01M522.1 116.1h.01M523.5 123.7h.01M521.1 113.6h.01M521.1 123.7h.01M521.2 122.4h.01M523.7 122.9h.01M521.9 120.6h.01M524.6 124.9h.01M523.9 122.8h.01M520.7 120.1h.01M520.6 119.2h.01M523.6 123.6h.01M523.0 121.7h.01M521.9 122.7h.01M521.5 119.6h.01M521.1 118.3h.01M522.1 124.8h.01M523.9 123.0h.01M522.6 121.2h.01M524.0 123.0h.01M523.9 124.1h.01M521.0 119.2h.01M524.1 124.0h.01M520.6 122.2h.01M521.5 118.8h.01M522.2 119.5h.01M520.7 112.3h.01M520.8 115.9h.01M520.8 113.9h.01M522.8 121.5h.01M520.9 119.0h.01M521.6 122.4h.01M523.3 122.4h.01M524.7 125.0h.01M520.4 120.1h.01M521.5 121.6h.01M524.6 125.1h.01M524.6 125.0h.01M522.0 117.1h.01M523.1 125.1h.01M522.7 120.6h.01M522.8 120.8h.01M522.5 120.3h.01M521.3 124.0h.01M521.0 124.5h.01M522.3 118.5h.01M522.2 125.1h.01M523.1 121.3h.01M521.1 115.9h.01M521.4 121.1h.01M522.0 119.4h.01M520.5 112.6h.01M520.7 116.9h.01M523.1 123.2h.01M524.2 123.5h.01M522.9 124.5h.01M522.4 120.1h.01M524.6 124.7h.01M521.8 117.7h.01M523.8 122.4h.01M522.8 121.2h.01M522.3 120.7h.01M521.3 120.0h.01M521.8 124.8h.01M522.8 124.8h.01M522.8 119.7h.01M520.5 111.3h.01M523.0 120.6h.01M522.2 123.2h.01M523.7 123.4h.01M522.0 122.4h.01M521.1 121.3h.01M523.7 124.3h.01M524.0 124.8h.01M523.9 123.3h.01M524.2 125.1h.01M523.5 123.9h.01M522.3 117.1h.01M520.5 113.1h.01M524.1 123.7h.01M523.3 122.9h.01M522.4 121.3h.01M520.5 115.7h.01M522.3 121.4h.01M524.3 124.5h.01M521.2 112.2h.01M522.4 119.0h.01M521.0 115.7h.01M521.8 114.4h.01M523.1 120.4h.01M520.5 113.6h.01M521.8 124.8h.01M524.5 124.8h.01M521.0 118.7h.01M524.1 123.5h.01M524.3 124.5h.01M521.9 124.5h.01M520.4 109.3h.01M521.7 123.0h.01M524.2 123.8h.01M521.8 115.3h.01M523.1 124.2h.01M522.4 123.2h.01M524.4 124.5h.01M522.9 122.1h.01M523.5 124.9h.01M524.0 124.9h.01M523.0 122.7h.01M522.4 118.9h.01M522.4 121.1h.01M524.0 124.0h.01M523.5 122.7h.01M522.4 124.5h.01M522.5 120.4h.01M524.8 125.1h.01M524.4 124.8h.01M522.4 118.8h.01M521.4 117.5h.01M520.6 117.9h.01M522.2 121.3h.01M524.7 125.0h.01M521.1 112.7h.01M520.4 115.4h.01M524.0 123.8h.01M522.5 121.1h.01M524.5 124.9h.01M521.2 115.3h.01M524.9 125.2h.01M521.2 115.4h.01M522.6 124.7h.01M524.9 125.2h.01M522.2 117.9h.01M521.6 113.6h.01M523.6 123.3h.01M521.3 114.0h.01M523.5 122.9h.01M522.4 120.0h.01M522.2 119.1h.01M521.8 114.2h.01M524.7 125.0h.01M523.2 124.6h.01M522.0 124.5h.01M524.1 124.7h.01M520.5 122.5h.01M520.4 112.2h.01M523.3 121.0h.01M521.9 120.1h.01M524.5 125.2h.01M521.6 118.0h.01M523.5 124.7h.01M524.8 125.0h.01M524.3 124.1h.01M524.4 124.6h.01M524.5 124.8h.01M522.0 116.8h.01M523.1 123.4h.01M520.5 115.1h.01M523.6 122.8h.01M524.8 125.1h.01M521.6 115.3h.01M524.7 125.0h.01M523.1 125.2h.01M523.5 124.6h.01M521.6 124.9h.01M521.2 115.4h.01M521.5 123.1h.01M522.0 115.3h.01M524.2 123.5h.01M524.1 124.1h.01M524.9 125.2h.01M523.8 123.1h.01M524.2 124.7h.01M522.7 119.5h.01M520.8 115.5h.01M523.1 124.4h.01M521.2 117.8h.01M523.9 124.7h.01M523.1 121.2h.01M523.0 120.1h.01M524.2 124.0h.01M522.7 118.7h.01M523.0 124.9h.01M523.4 122.1h.01M522.3 125.0h.01M522.4 120.7h.01M522.6 118.7h.01M522.7 123.4h.01M522.6 119.0h.01M520.8 121.9h.01M521.6 120.8h.01M522.9 124.4h.01M523.4 123.6h.01M522.5 120.5h.01M524.2 124.2h.01M522.8 119.9h.01M522.6 124.4h.01M521.3 125.0h.01M520.7 123.1h.01M524.5 124.9h.01M522.9 119.9h.01" stroke="#8FD0F0" stroke-width="0.95" stroke-linecap="round" fill="none" opacity="1"/>
<path d="M530.6 114.9h.01M529.9 118.2h.01M527.6 125.0h.01M530.6 117.5h.01M527.3 125.2h.01M528.0 124.9h.01M531.0 123.5h.01M530.7 113.3h.01M527.7 124.8h.01M530.8 120.7h.01M530.9 123.7h.01M528.3 124.1h.01M531.7 122.8h.01M527.6 125.2h.01M530.4 124.2h.01M531.3 121.4h.01M528.3 125.0h.01M529.0 125.1h.01M527.5 125.0h.01M530.9 123.7h.01M529.4 123.3h.01M528.3 123.9h.01M528.9 122.0h.01M529.0 125.1h.01M527.8 124.7h.01M531.1 120.9h.01M530.6 124.9h.01M531.3 115.4h.01M527.3 125.1h.01M529.4 124.1h.01M530.9 118.4h.01M531.7 116.2h.01M531.5 117.6h.01M528.9 123.6h.01M527.3 125.2h.01M529.1 120.8h.01M531.0 114.5h.01M529.6 120.0h.01M527.5 125.2h.01M529.4 121.0h.01M527.9 124.9h.01M530.5 122.6h.01M528.9 122.8h.01M527.5 125.2h.01M528.0 124.7h.01M528.1 124.3h.01M529.0 121.2h.01M531.4 119.1h.01M531.2 119.8h.01M531.2 123.1h.01M529.3 119.0h.01M529.1 121.5h.01M528.5 122.7h.01M529.7 117.3h.01M529.3 120.7h.01M530.2 118.9h.01M530.0 121.1h.01M527.9 124.8h.01M531.1 111.2h.01M530.0 116.6h.01M531.0 123.8h.01M527.5 125.0h.01M530.1 122.3h.01M531.5 111.3h.01M530.0 119.2h.01M527.7 125.1h.01M531.0 115.2h.01M530.8 120.4h.01M530.7 116.5h.01M529.8 122.1h.01M530.7 114.1h.01M531.0 121.4h.01M528.3 124.7h.01M527.7 124.4h.01M527.8 124.5h.01M529.8 119.5h.01M529.7 125.2h.01M527.5 124.9h.01M527.6 125.0h.01M529.0 120.7h.01M531.7 124.3h.01M530.2 116.3h.01M527.9 124.6h.01M530.2 116.2h.01M530.9 121.8h.01M527.5 124.9h.01M530.7 113.4h.01M531.7 112.2h.01M529.3 122.0h.01M528.8 124.2h.01M531.4 111.4h.01M531.3 115.7h.01M528.0 124.9h.01M527.3 125.2h.01M531.4 123.0h.01M530.2 122.9h.01M530.1 116.1h.01M528.9 123.8h.01M528.3 123.5h.01M529.8 119.7h.01M528.5 123.5h.01M529.1 122.9h.01M527.8 124.4h.01M529.8 124.7h.01M531.7 118.1h.01M527.3 125.2h.01M527.5 125.0h.01M531.4 122.6h.01M531.7 122.2h.01M527.3 125.1h.01M531.1 124.4h.01M529.5 119.1h.01M527.8 125.0h.01M528.5 123.5h.01M531.1 121.3h.01M528.9 121.8h.01M530.2 123.2h.01M529.9 120.1h.01M527.7 124.9h.01M528.4 124.3h.01M527.7 124.6h.01M529.5 119.4h.01M528.5 122.4h.01M527.4 125.0h.01M528.9 122.3h.01M530.5 123.6h.01M527.4 125.1h.01M530.7 122.4h.01M528.6 121.9h.01M530.4 117.4h.01M531.6 113.8h.01M529.0 125.2h.01M531.4 110.0h.01M527.8 125.1h.01M527.8 125.0h.01M528.3 122.7h.01M528.2 123.8h.01M530.7 122.4h.01M530.6 116.5h.01M531.4 110.0h.01M531.6 113.8h.01M530.4 123.1h.01M530.3 120.7h.01M528.6 125.1h.01M530.0 116.3h.01M528.3 123.8h.01M530.9 118.0h.01M531.5 111.8h.01M529.7 125.0h.01M528.7 121.7h.01M529.1 124.5h.01M530.0 121.6h.01M529.8 125.1h.01M531.0 119.8h.01M527.7 124.6h.01M531.3 122.6h.01M527.3 125.2h.01M527.7 124.9h.01M529.3 122.0h.01M531.1 116.0h.01M531.3 113.3h.01M529.2 120.2h.01M527.8 124.7h.01M528.5 123.1h.01M527.8 124.4h.01M531.4 123.9h.01M530.5 123.4h.01M528.4 122.7h.01M528.7 122.8h.01M528.4 123.8h.01M531.3 110.7h.01M529.9 123.5h.01M530.3 123.9h.01M531.2 124.1h.01M527.4 125.2h.01M530.8 113.1h.01M531.8 111.2h.01M528.0 123.7h.01M529.3 122.7h.01M528.2 124.9h.01M529.8 119.3h.01M531.6 113.3h.01M530.5 119.5h.01M528.1 125.1h.01M528.2 123.1h.01M528.5 124.2h.01M529.6 120.9h.01M529.2 124.4h.01M531.8 114.9h.01M527.9 124.7h.01M527.8 124.9h.01M528.8 123.0h.01M530.8 122.5h.01M528.9 120.6h.01M528.2 124.6h.01M531.7 118.2h.01M529.0 122.9h.01M528.2 123.2h.01M530.2 124.8h.01M529.7 119.8h.01M530.2 115.4h.01M528.7 125.2h.01M531.5 114.9h.01M531.7 123.3h.01M529.7 122.2h.01M530.5 124.8h.01M528.1 125.0h.01M529.7 121.1h.01M531.0 119.8h.01M531.4 115.3h.01M531.8 124.6h.01M530.5 123.3h.01M531.7 125.2h.01M530.9 112.8h.01M527.5 125.2h.01M529.0 123.1h.01M529.2 124.6h.01M527.8 124.2h.01M528.9 122.9h.01M528.3 122.5h.01M531.4 117.4h.01M527.8 125.0h.01M530.7 116.0h.01M530.8 121.0h.01M528.3 124.3h.01M531.5 118.9h.01M530.6 115.7h.01M527.7 124.9h.01M531.1 122.3h.01M529.4 120.1h.01M528.0 124.1h.01M528.2 124.4h.01M529.0 120.8h.01M531.5 111.6h.01M529.3 122.6h.01M531.6 119.2h.01M529.2 119.5h.01M527.2 125.2h.01M531.3 117.8h.01M530.3 117.4h.01M531.1 117.9h.01M527.3 125.2h.01M530.1 123.7h.01M530.5 114.7h.01M531.3 123.6h.01M531.0 116.7h.01M530.3 120.5h.01M529.5 124.1h.01M530.8 117.4h.01M528.5 122.5h.01M527.5 124.9h.01M530.8 123.6h.01M530.4 123.1h.01M530.1 117.3h.01M528.6 122.8h.01M530.3 116.4h.01M531.6 123.3h.01M530.1 124.8h.01M528.9 121.8h.01M531.5 114.2h.01M531.7 124.7h.01M527.9 125.2h.01M529.8 117.6h.01M527.7 125.1h.01M529.3 119.7h.01M530.9 118.1h.01M528.6 124.6h.01M529.2 121.4h.01M528.0 123.6h.01M531.5 113.4h.01M531.2 113.0h.01M527.8 124.8h.01M529.6 122.1h.01M530.1 122.7h.01M527.3 125.1h.01M528.4 124.8h.01M528.4 123.7h.01M529.9 120.4h.01M530.2 120.5h.01M529.8 124.4h.01M531.3 124.3h.01M530.2 121.9h.01M527.4 125.1h.01M530.7 117.5h.01M529.6 121.0h.01M528.0 124.9h.01M528.4 125.0h.01M530.4 123.4h.01M530.0 124.1h.01M528.1 123.9h.01M528.8 125.1h.01M531.0 112.8h.01M528.8 120.9h.01M531.6 125.1h.01M530.7 123.7h.01M529.4 123.7h.01M529.6 122.3h.01M531.1 122.8h.01M530.0 124.2h.01M531.4 119.8h.01M529.0 123.6h.01M531.3 114.7h.01M531.3 113.7h.01M527.7 124.5h.01M528.1 124.5h.01M528.1 124.1h.01M528.1 124.7h.01M531.7 116.8h.01M529.7 118.2h.01M528.9 122.9h.01M531.4 113.2h.01M531.1 117.8h.01M527.8 124.9h.01M529.2 125.0h.01M528.1 124.1h.01M531.1 119.3h.01M529.8 119.6h.01M530.2 117.5h.01M527.5 124.8h.01M529.6 121.7h.01M531.0 121.1h.01M529.6 121.4h.01M528.1 124.2h.01M530.0 119.7h.01M527.4 125.2h.01M529.5 120.9h.01M528.8 124.1h.01M527.5 125.1h.01M531.2 125.1h.01M531.3 124.6h.01M529.9 121.3h.01M528.2 124.8h.01M528.1 124.0h.01M530.2 117.0h.01M528.7 124.5h.01M529.6 118.3h.01M531.1 112.5h.01M530.2 116.0h.01M528.6 121.6h.01M529.8 118.2h.01M529.2 124.9h.01M527.9 124.2h.01M529.3 122.5h.01M530.4 120.9h.01M530.9 115.8h.01M529.3 122.3h.01M529.7 120.9h.01M529.1 124.9h.01M530.0 116.2h.01M531.2 119.0h.01M528.6 123.0h.01M528.2 124.7h.01M530.2 120.4h.01M531.6 123.5h.01M530.2 116.9h.01M529.8 121.5h.01M529.4 124.0h.01M529.9 117.4h.01M527.7 124.7h.01M527.8 124.6h.01M527.3 125.2h.01M528.1 123.8h.01M531.2 111.9h.01M528.1 124.7h.01M529.4 121.3h.01M527.6 124.9h.01M531.0 112.1h.01M529.6 123.8h.01M528.5 122.1h.01M530.0 123.8h.01M531.8 113.1h.01M527.7 124.8h.01M527.5 125.0h.01M531.7 114.9h.01M529.7 118.4h.01M527.8 124.7h.01M529.4 123.4h.01M531.4 118.2h.01M531.6 118.9h.01M527.9 124.0h.01M528.1 123.7h.01M529.3 123.1h.01M530.1 116.5h.01M531.2 114.0h.01M529.8 117.3h.01M529.7 122.1h.01M527.6 125.1h.01M527.8 124.6h.01M531.0 124.7h.01M527.6 125.0h.01M530.9 122.2h.01M530.9 113.0h.01M529.6 121.3h.01M528.6 124.2h.01M531.2 112.1h.01M531.7 124.0h.01M527.7 124.4h.01M531.7 113.7h.01M529.2 119.2h.01M528.6 122.6h.01M527.3 125.2h.01M529.8 118.2h.01M527.5 124.9h.01M530.1 121.7h.01M530.8 118.7h.01M528.7 121.4h.01M529.7 123.5h.01M530.2 122.6h.01M529.8 124.9h.01M527.5 125.1h.01M531.8 124.1h.01M531.4 120.1h.01M527.4 125.0h.01M531.3 120.8h.01M529.1 124.2h.01M527.6 125.0h.01M529.6 119.0h.01M531.6 117.5h.01M528.1 125.1h.01M530.8 113.7h.01M528.8 125.1h.01M529.8 117.7h.01M531.0 114.5h.01M529.3 121.0h.01M530.5 121.9h.01M530.6 113.4h.01M527.7 124.3h.01M529.8 124.6h.01M528.0 124.9h.01M530.6 120.5h.01M530.9 118.1h.01M531.0 124.0h.01M528.7 123.5h.01M528.8 123.9h.01M527.8 124.6h.01M529.5 120.8h.01M527.4 125.2h.01M527.4 125.2h.01M528.3 123.2h.01M530.9 120.3h.01M527.8 124.3h.01M529.1 120.0h.01M529.6 123.2h.01M529.2 125.0h.01M528.1 123.9h.01M529.4 124.1h.01M531.5 121.9h.01M529.1 120.7h.01M528.8 123.1h.01M528.9 120.9h.01M529.9 120.8h.01M531.7 122.7h.01M528.6 123.4h.01M527.9 124.0h.01M531.1 123.6h.01M531.3 124.3h.01M528.6 122.7h.01M529.4 119.0h.01M528.1 125.1h.01M527.9 124.2h.01M528.4 123.4h.01M531.5 120.6h.01M527.6 125.0h.01M530.8 119.0h.01M530.3 116.7h.01M529.6 122.1h.01M527.5 125.2h.01M530.6 118.1h.01M528.1 123.8h.01M529.6 123.3h.01M531.1 123.1h.01M531.1 117.0h.01M531.2 114.4h.01M527.4 125.1h.01M529.2 123.0h.01M530.9 120.2h.01M531.0 115.8h.01M530.4 124.3h.01M529.6 118.6h.01M531.1 124.7h.01M528.6 122.9h.01M527.5 125.2h.01M530.2 119.5h.01M528.4 124.1h.01M527.4 125.1h.01M528.9 120.5h.01M529.8 120.1h.01M528.3 123.6h.01M529.8 117.2h.01M528.7 122.7h.01M527.8 124.7h.01M527.3 125.2h.01M529.2 123.7h.01M527.4 125.1h.01M530.9 117.5h.01M531.2 118.4h.01M529.3 120.7h.01M530.9 113.1h.01M529.3 120.3h.01M527.5 125.0h.01M528.0 123.9h.01M527.7 124.8h.01M528.9 123.6h.01M527.6 125.1h.01M527.4 125.2h.01M530.7 117.0h.01M530.5 121.0h.01M530.7 121.3h.01M529.2 121.6h.01M531.6 112.7h.01M529.0 122.7h.01M527.7 125.1h.01M527.3 125.2h.01M527.5 125.0h.01M528.7 124.9h.01M527.9 124.1h.01M528.4 122.6h.01M530.6 117.2h.01M530.2 116.8h.01M531.1 123.2h.01M530.6 121.2h.01M530.8 121.5h.01M528.6 124.0h.01M528.4 124.6h.01M530.2 115.6h.01M531.6 122.0h.01M530.5 115.3h.01M529.8 124.4h.01M530.9 115.7h.01M529.6 119.4h.01M528.7 124.5h.01M529.0 125.2h.01M530.4 117.7h.01M528.7 121.3h.01M530.7 123.8h.01M531.7 121.6h.01M528.5 123.9h.01M530.7 116.0h.01M529.8 117.5h.01M529.4 119.9h.01M530.6 123.1h.01M529.4 120.9h.01M531.5 119.1h.01M531.6 123.4h.01M528.8 123.0h.01M530.1 123.3h.01M527.4 125.0h.01M528.5 124.9h.01M528.0 124.8h.01M527.9 124.7h.01M531.6 118.8h.01M530.2 116.3h.01M528.8 121.4h.01M531.2 111.6h.01M531.2 124.2h.01M531.4 113.3h.01M528.8 121.6h.01M528.7 123.7h.01M531.4 118.8h.01M531.2 113.5h.01M529.7 118.6h.01M531.3 113.2h.01M528.2 123.3h.01M530.2 119.8h.01M529.6 120.3h.01M528.5 122.7h.01M527.6 124.5h.01M527.3 125.2h.01M529.4 119.4h.01M529.6 117.8h.01M531.3 117.4h.01M529.5 121.1h.01M529.5 123.4h.01M528.3 123.1h.01M528.9 121.2h.01M530.8 116.6h.01M530.5 119.8h.01M530.0 118.3h.01M529.3 120.8h.01M527.5 124.8h.01M530.3 120.8h.01M529.8 123.5h.01M530.5 115.4h.01M531.6 111.5h.01M528.4 124.1h.01M530.4 121.4h.01M530.6 114.4h.01M531.3 113.4h.01M530.3 119.8h.01M530.0 117.0h.01M530.4 114.5h.01M529.9 121.6h.01M530.9 118.9h.01M529.4 123.2h.01M527.8 124.8h.01M528.9 124.8h.01M529.1 120.6h.01M530.5 114.4h.01M528.2 125.1h.01M528.0 124.8h.01M528.0 124.9h.01M528.6 123.4h.01M527.7 124.4h.01M528.7 125.0h.01M529.8 122.9h.01M528.4 123.6h.01M528.6 123.8h.01M528.9 120.6h.01M529.9 119.3h.01M529.9 119.4h.01M530.7 125.1h.01M529.8 121.6h.01M528.6 124.5h.01M528.6 123.7h.01M528.3 124.3h.01M531.6 115.4h.01M531.7 115.4h.01M529.4 123.8h.01M527.5 124.9h.01M527.3 125.2h.01M530.9 120.6h.01M528.4 124.1h.01M529.2 123.9h.01M529.9 119.1h.01M528.5 123.0h.01M527.9 124.8h.01M530.5 116.8h.01M528.9 123.4h.01M531.3 114.9h.01M529.5 119.3h.01M530.6 123.4h.01M529.4 118.8h.01M527.4 125.0h.01M531.5 122.9h.01M528.1 124.7h.01M530.5 123.6h.01M530.4 122.7h.01M530.8 122.7h.01M527.9 124.0h.01M527.2 125.2h.01M529.2 122.7h.01M527.5 125.1h.01M529.9 122.4h.01M531.7 115.2h.01M527.6 124.9h.01M529.0 124.0h.01M528.7 123.7h.01M530.4 124.7h.01M530.2 122.6h.01M529.9 119.3h.01M528.7 121.5h.01M527.7 125.0h.01M530.4 124.1h.01M531.1 116.8h.01M530.4 117.6h.01M528.3 123.6h.01M530.0 118.1h.01M531.5 116.7h.01M531.6 118.8h.01M530.4 123.7h.01M530.6 121.9h.01M531.0 122.1h.01M528.6 124.6h.01M530.6 117.7h.01M528.3 125.0h.01M528.9 124.5h.01M531.6 116.5h.01M531.0 124.9h.01M530.8 118.0h.01M528.5 124.6h.01M527.9 124.1h.01M530.5 114.6h.01M531.0 123.7h.01M531.2 115.3h.01M530.6 119.1h.01M528.4 123.3h.01M527.5 125.0h.01M527.5 125.1h.01M528.5 123.2h.01M527.4 125.1h.01M527.5 125.0h.01M531.1 113.2h.01M529.9 121.7h.01M530.9 123.8h.01M531.0 122.6h.01M528.2 123.0h.01M529.9 123.2h.01M529.1 122.4h.01M529.1 121.2h.01M530.4 122.3h.01M531.6 112.1h.01M528.1 123.6h.01M529.8 120.3h.01M527.5 125.0h.01M527.9 125.0h.01M530.7 114.7h.01M530.0 116.3h.01M527.6 124.8h.01M527.8 124.7h.01M530.7 122.7h.01" stroke="#F2B8C6" stroke-width="0.95" stroke-linecap="round" fill="none" opacity="1"/>
<path d="M509.9 125.0h.01M511.9 120.9h.01M520.3 110.5h.01M515.2 114.7h.01M513.3 124.2h.01M514.6 122.8h.01M518.4 113.0h.01M518.1 113.8h.01M513.5 122.2h.01M519.3 124.8h.01M520.4 122.8h.01M518.3 107.9h.01M512.0 119.4h.01M514.9 114.9h.01M517.7 121.2h.01M510.6 124.6h.01M518.5 113.2h.01M519.7 118.1h.01M515.5 112.9h.01M520.4 113.7h.01M520.0 118.6h.01M508.3 124.7h.01M519.3 114.8h.01M511.8 122.7h.01M510.2 123.4h.01M520.4 117.8h.01M517.7 118.9h.01M517.4 110.4h.01M516.5 124.9h.01M520.1 124.0h.01M520.3 121.2h.01M519.5 114.5h.01M520.4 120.2h.01M520.4 124.7h.01M517.3 109.8h.01M515.1 118.4h.01M520.1 114.8h.01M511.5 123.9h.01M520.2 124.5h.01M518.2 119.9h.01M508.9 123.9h.01M517.0 119.4h.01M517.0 110.5h.01M513.5 124.6h.01M511.0 124.4h.01M520.3 124.4h.01M516.2 114.5h.01M515.8 115.6h.01M510.1 123.9h.01M520.3 110.2h.01M514.9 120.0h.01M519.4 116.0h.01M517.2 111.5h.01M508.9 124.0h.01M520.2 115.1h.01M520.1 122.3h.01M520.3 122.0h.01M518.8 110.7h.01M508.9 124.2h.01M517.9 118.3h.01M519.9 123.2h.01M520.2 125.2h.01M519.1 113.9h.01M519.7 118.1h.01M513.0 120.4h.01M520.3 120.9h.01M518.2 125.0h.01M517.5 123.7h.01M511.1 124.5h.01M519.4 118.7h.01M517.1 119.3h.01M520.4 107.7h.01M515.6 122.4h.01M518.6 113.0h.01M520.0 107.8h.01M519.8 121.8h.01M511.0 123.7h.01M520.3 107.9h.01M509.6 123.6h.01M514.6 124.5h.01M520.1 122.6h.01M513.6 119.8h.01M520.4 118.5h.01M519.6 121.0h.01M517.3 122.1h.01M520.3 114.3h.01M511.2 124.5h.01M520.4 123.8h.01M519.6 115.1h.01M517.7 114.8h.01M511.6 119.2h.01M520.4 110.9h.01M513.5 117.1h.01M509.8 124.7h.01M519.8 121.9h.01M513.7 123.8h.01M520.3 104.9h.01M519.6 117.6h.01M520.4 113.8h.01M520.3 114.9h.01M520.0 117.8h.01M519.6 114.4h.01M518.8 109.3h.01M517.3 117.5h.01M520.2 107.9h.01M519.9 105.3h.01M520.4 116.7h.01M520.4 120.3h.01M519.0 124.7h.01M520.4 115.8h.01M520.4 116.4h.01M519.9 124.8h.01M520.4 111.9h.01M514.3 123.2h.01M512.9 124.4h.01M520.4 107.4h.01M515.3 122.8h.01M512.7 123.3h.01M511.8 119.7h.01M515.3 119.2h.01M519.4 113.4h.01M511.3 120.1h.01M520.2 111.1h.01M519.9 122.1h.01M514.4 123.5h.01M515.6 124.3h.01M520.1 111.2h.01M517.9 118.5h.01M520.2 108.8h.01M512.0 120.9h.01M510.4 124.7h.01M515.0 124.7h.01M520.2 122.7h.01M518.4 108.5h.01M516.9 118.5h.01M519.6 106.3h.01M510.7 122.1h.01M520.4 122.3h.01M519.1 121.4h.01M512.6 121.7h.01M517.4 124.2h.01M519.6 116.7h.01M515.2 125.2h.01M519.7 111.3h.01M510.4 124.1h.01M520.0 115.9h.01M518.0 123.1h.01M517.8 118.8h.01M513.8 122.6h.01M507.7 125.4h.01M519.9 111.0h.01M513.6 119.2h.01M510.2 124.4h.01M519.1 122.2h.01M520.2 112.9h.01M520.4 109.4h.01M519.3 112.2h.01M507.7 125.3h.01M511.0 120.9h.01M510.9 122.8h.01M517.3 113.9h.01M516.6 122.2h.01M510.9 122.4h.01M515.2 117.8h.01M514.4 120.3h.01M519.5 123.4h.01M519.1 115.9h.01M508.2 125.2h.01M519.5 106.9h.01M514.4 115.6h.01M520.2 118.0h.01M517.9 110.6h.01M516.3 118.1h.01M508.3 124.8h.01M510.5 122.6h.01M517.5 114.0h.01M517.0 121.0h.01M515.7 117.7h.01M519.1 121.2h.01M519.6 119.9h.01M517.0 118.3h.01M517.1 115.1h.01M520.4 109.3h.01M512.1 123.5h.01M513.1 119.5h.01M510.8 120.3h.01M509.7 124.3h.01M512.3 125.0h.01M508.8 124.6h.01M511.3 124.4h.01M508.0 125.1h.01M520.0 123.1h.01M509.2 123.8h.01M514.7 118.2h.01M519.5 124.4h.01M509.6 122.5h.01M513.5 121.8h.01M513.2 125.0h.01M520.4 121.1h.01M518.6 108.9h.01M519.5 123.2h.01M510.5 124.3h.01M509.7 123.7h.01M516.1 118.0h.01M518.8 119.4h.01M510.6 123.6h.01M520.2 121.2h.01M508.7 124.8h.01M518.6 122.3h.01M508.4 124.9h.01M507.7 125.5h.01M509.9 123.1h.01M519.5 116.3h.01M516.9 121.6h.01M511.5 121.5h.01M508.1 125.2h.01M511.8 119.6h.01M514.8 121.8h.01M517.3 113.8h.01M520.0 114.3h.01M518.3 124.0h.01M519.5 107.2h.01M509.5 122.7h.01M516.9 114.9h.01M511.7 124.7h.01M516.3 117.4h.01M517.0 120.5h.01M520.4 114.6h.01M520.4 108.1h.01M520.2 105.5h.01M511.5 124.2h.01M516.1 113.3h.01M520.4 119.4h.01M519.8 107.1h.01M511.1 122.6h.01M520.0 112.7h.01M516.5 114.5h.01M512.6 122.5h.01M520.2 113.7h.01M520.1 123.4h.01M516.5 125.0h.01M508.7 123.7h.01M511.7 124.4h.01M519.7 120.0h.01M519.9 113.7h.01M518.2 123.5h.01M509.8 122.8h.01M516.3 119.0h.01M519.9 114.5h.01M519.6 120.3h.01M517.9 123.8h.01M515.8 113.5h.01M511.2 123.6h.01M509.2 124.7h.01M519.0 123.1h.01M512.7 121.8h.01M516.3 114.8h.01M519.8 122.6h.01M509.2 125.0h.01M513.9 115.2h.01M519.1 108.4h.01M518.6 116.5h.01M510.8 123.3h.01M518.9 111.6h.01M511.5 124.2h.01M519.1 108.2h.01M517.2 115.3h.01M517.1 120.0h.01M515.1 119.9h.01M507.9 125.1h.01M516.3 118.3h.01M507.4 125.7h.01M520.4 121.5h.01M509.3 124.1h.01M513.4 122.7h.01M518.4 110.1h.01M520.3 123.0h.01M510.9 124.2h.01M515.3 120.6h.01M511.2 121.6h.01M518.3 113.2h.01M520.3 116.6h.01M517.7 122.8h.01M511.1 120.2h.01M520.4 121.8h.01M513.3 118.8h.01M520.1 122.1h.01M520.4 107.4h.01M517.2 122.7h.01M517.5 112.9h.01M519.3 124.9h.01M520.1 112.5h.01M520.0 124.7h.01M518.4 116.2h.01M514.4 121.8h.01M515.7 112.4h.01M514.3 119.8h.01M520.4 124.0h.01M519.6 112.7h.01M517.6 117.7h.01M518.3 113.5h.01M518.2 111.4h.01M518.8 112.0h.01M519.8 114.2h.01M518.9 113.9h.01M508.6 124.7h.01M515.6 120.2h.01M508.5 125.1h.01M513.5 118.9h.01M512.4 121.5h.01M514.2 124.0h.01M515.0 122.2h.01M516.9 122.1h.01M519.8 114.3h.01M520.4 122.9h.01M517.4 117.9h.01M516.8 119.3h.01M507.6 125.5h.01M507.4 125.4h.01M514.7 114.7h.01M519.3 110.8h.01M520.4 106.6h.01M516.4 124.6h.01M512.3 123.0h.01M520.3 105.5h.01M518.7 113.7h.01M519.4 115.0h.01M520.2 122.0h.01M512.7 121.4h.01M513.8 117.6h.01M515.4 117.9h.01M520.2 120.7h.01M510.0 123.4h.01M514.9 118.1h.01M518.0 120.2h.01M511.8 124.1h.01M520.3 109.3h.01M513.6 118.2h.01M519.5 109.5h.01M513.5 120.2h.01M508.3 124.5h.01M515.4 121.8h.01M513.3 124.2h.01M509.8 125.0h.01M520.1 117.3h.01M510.1 122.2h.01M509.2 124.2h.01M508.7 124.3h.01M520.4 104.7h.01M520.3 112.0h.01M518.0 124.0h.01M518.2 123.4h.01M508.9 123.9h.01M517.6 109.8h.01M517.1 121.3h.01M517.2 109.9h.01M520.2 110.1h.01M520.4 112.3h.01M520.4 118.1h.01M520.4 124.9h.01M517.7 112.6h.01M520.3 110.3h.01M514.3 114.6h.01M520.1 114.4h.01M520.1 116.3h.01M520.3 122.2h.01M516.7 122.3h.01M520.2 122.9h.01M519.7 109.3h.01M512.8 120.3h.01M520.1 105.8h.01M518.1 120.8h.01M507.5 125.2h.01M520.0 113.4h.01M519.7 115.8h.01M520.0 119.5h.01M510.3 122.8h.01M511.8 118.9h.01M520.0 115.4h.01M520.4 120.6h.01M520.0 106.3h.01M513.6 120.1h.01M520.3 120.3h.01M519.6 116.4h.01M513.1 124.9h.01M514.4 124.1h.01M512.5 122.8h.01M517.2 119.5h.01M510.8 120.4h.01M517.3 118.8h.01M518.7 119.4h.01M519.6 124.2h.01M509.5 125.2h.01M519.5 108.7h.01M513.4 121.3h.01M514.7 113.9h.01M520.3 110.0h.01M511.1 124.0h.01M518.6 122.3h.01M520.2 105.9h.01M517.6 125.0h.01M519.9 118.3h.01M519.1 119.5h.01M519.1 114.0h.01M510.0 121.9h.01M516.7 111.7h.01M518.4 117.4h.01M511.1 123.7h.01M517.6 117.8h.01M515.7 119.7h.01M513.3 120.1h.01M512.9 119.1h.01M518.9 124.3h.01M519.0 108.9h.01M513.9 116.7h.01M515.3 119.2h.01M515.0 118.6h.01M511.8 124.5h.01M516.4 112.4h.01M518.9 118.4h.01M516.2 112.3h.01M508.1 125.1h.01M514.6 115.3h.01M514.6 123.5h.01M517.6 111.9h.01M514.2 119.3h.01M515.3 117.0h.01M509.3 123.0h.01M520.3 107.6h.01M520.4 108.5h.01M517.0 118.3h.01M516.4 120.9h.01M520.3 114.9h.01M520.4 120.8h.01M520.4 106.0h.01M520.3 123.9h.01M507.9 125.2h.01M512.2 121.9h.01M513.4 122.5h.01M510.3 124.5h.01M519.9 121.1h.01M520.0 111.2h.01M519.4 123.6h.01M511.2 123.8h.01M508.9 125.1h.01M511.2 122.2h.01M518.3 120.6h.01M513.4 119.4h.01M520.4 123.2h.01M512.4 124.8h.01M519.1 120.2h.01M519.2 119.8h.01M518.6 122.3h.01M518.8 113.9h.01M518.2 121.7h.01M520.4 124.7h.01M514.6 117.4h.01M515.4 115.9h.01M518.2 110.4h.01M518.9 122.3h.01M512.8 124.2h.01M518.7 120.2h.01M520.1 123.8h.01M509.1 124.5h.01M510.4 125.1h.01M520.4 124.5h.01M517.6 111.6h.01M520.2 110.4h.01M516.7 120.5h.01M517.6 122.0h.01M518.3 116.7h.01M519.9 121.0h.01M520.4 113.8h.01M518.4 114.0h.01M518.4 118.6h.01M515.6 117.7h.01M510.9 124.2h.01M517.6 124.0h.01M511.5 123.7h.01M511.4 124.9h.01M520.2 107.3h.01M514.9 121.7h.01M519.2 108.1h.01M520.4 109.5h.01M516.8 121.2h.01M520.0 108.5h.01M518.1 110.2h.01M520.1 115.6h.01M508.7 124.9h.01M512.7 124.7h.01M514.6 121.6h.01M519.7 118.4h.01M520.4 109.0h.01M517.5 121.6h.01M515.1 124.0h.01M513.0 118.3h.01M515.3 123.6h.01M520.4 109.0h.01M514.0 123.1h.01M517.5 116.7h.01M520.2 113.4h.01M517.6 117.5h.01M520.3 121.7h.01M518.3 113.9h.01M519.2 125.2h.01M519.6 118.3h.01M520.3 115.5h.01M518.4 117.6h.01M519.3 121.4h.01M508.8 124.6h.01M517.9 116.6h.01M512.7 121.6h.01M513.8 124.5h.01M510.4 123.2h.01M515.3 119.8h.01M520.1 121.4h.01M519.9 119.8h.01M515.0 119.9h.01M517.9 121.2h.01M520.4 107.6h.01M520.3 124.0h.01M518.5 108.3h.01M509.4 124.6h.01M520.4 112.8h.01M510.8 122.2h.01M514.9 124.4h.01M512.6 119.5h.01M519.4 120.5h.01M507.8 125.2h.01M520.3 118.0h.01M520.4 118.0h.01M518.7 118.1h.01M516.3 121.4h.01M518.5 110.3h.01M516.8 120.6h.01M515.2 122.9h.01M519.7 125.0h.01M509.3 124.7h.01M520.3 115.4h.01M517.4 119.4h.01M515.8 119.8h.01M518.2 110.3h.01M518.9 110.4h.01M510.7 124.5h.01M513.7 116.3h.01M519.8 124.8h.01M508.5 124.9h.01M516.4 116.2h.01M516.1 123.0h.01M516.2 118.2h.01M516.6 117.2h.01M508.7 125.1h.01M519.1 123.7h.01M520.3 110.4h.01M519.0 122.0h.01M520.4 118.4h.01M508.0 125.0h.01M519.1 123.2h.01M515.7 121.3h.01M518.8 120.5h.01M515.5 125.0h.01M511.9 122.2h.01M508.0 125.1h.01M516.9 117.1h.01M519.0 124.9h.01M514.2 116.0h.01M518.4 110.5h.01M520.2 105.6h.01M511.5 123.2h.01M509.1 123.9h.01M509.1 123.2h.01M518.8 121.8h.01M519.0 123.0h.01M511.1 125.0h.01M514.5 114.7h.01M520.3 124.2h.01M517.3 120.9h.01M509.9 122.6h.01M514.8 117.1h.01M513.1 119.3h.01M515.4 119.4h.01M519.9 120.6h.01M514.5 116.8h.01M508.6 124.7h.01M515.1 120.7h.01M520.1 120.9h.01M518.5 113.4h.01M517.5 122.0h.01M518.9 107.2h.01M515.3 119.6h.01M517.7 109.5h.01M520.4 122.7h.01M516.5 117.6h.01M519.5 106.7h.01M518.2 121.1h.01M518.8 116.6h.01M510.6 125.2h.01M520.3 124.1h.01M519.6 120.5h.01M509.8 124.0h.01M519.6 115.3h.01M518.9 109.1h.01M520.2 113.8h.01M518.5 114.8h.01M513.6 120.7h.01M518.2 108.6h.01M511.6 122.2h.01M518.3 110.1h.01M509.5 122.9h.01M515.6 116.8h.01M513.4 119.9h.01M520.4 105.4h.01M513.1 118.4h.01M520.3 114.9h.01M509.5 124.2h.01M515.5 116.5h.01M513.6 115.8h.01M520.4 118.2h.01M520.3 110.7h.01M519.5 115.6h.01M519.9 111.1h.01M511.0 121.8h.01M520.3 121.6h.01M513.2 120.6h.01M520.4 112.1h.01M520.4 112.9h.01M515.6 118.8h.01M520.2 122.3h.01M517.9 124.6h.01M519.2 120.2h.01M520.4 119.0h.01M518.4 122.7h.01M511.4 124.3h.01M508.6 124.6h.01M514.0 123.7h.01M520.2 105.9h.01M520.4 123.7h.01M515.8 113.8h.01M517.2 122.0h.01M514.4 120.2h.01M520.0 124.9h.01M510.3 123.2h.01M517.5 115.7h.01M515.9 112.4h.01M515.7 124.9h.01M518.9 122.8h.01M511.4 124.7h.01M519.1 118.2h.01M520.1 113.4h.01M520.3 120.7h.01M512.7 122.0h.01M520.1 124.9h.01M520.4 120.6h.01M520.3 120.3h.01M509.5 125.1h.01M519.5 120.5h.01M510.7 121.6h.01M520.3 111.1h.01M512.5 121.8h.01M520.3 108.6h.01M519.9 120.7h.01M517.8 124.4h.01M519.6 121.6h.01M520.4 123.2h.01M509.3 124.2h.01M514.2 117.8h.01M520.1 123.1h.01M518.8 117.0h.01M519.8 122.3h.01M512.7 121.5h.01M517.6 123.6h.01M509.7 123.6h.01M510.7 121.0h.01M514.4 123.0h.01M520.4 124.7h.01M520.2 121.3h.01M513.0 122.5h.01M520.4 121.8h.01M517.4 110.5h.01M520.3 124.7h.01M518.2 111.2h.01M513.1 122.1h.01M516.5 115.8h.01M520.2 106.3h.01M510.8 123.9h.01M516.2 113.6h.01M510.6 124.0h.01M519.7 123.1h.01M510.7 123.2h.01M520.3 116.2h.01M517.4 120.4h.01M518.8 115.0h.01M516.8 118.9h.01M519.7 115.7h.01M508.8 125.1h.01M520.3 122.4h.01M519.4 121.5h.01M515.8 121.3h.01M519.4 124.6h.01M515.2 120.6h.01M518.2 116.0h.01M519.6 116.1h.01M519.5 122.5h.01M520.4 115.0h.01M510.0 124.5h.01M519.9 108.5h.01M513.2 119.0h.01M512.2 120.6h.01M520.3 105.4h.01M510.6 120.8h.01M513.5 116.0h.01M520.4 106.5h.01M519.2 111.1h.01M518.5 113.0h.01M520.2 109.2h.01M519.9 124.9h.01M520.2 122.9h.01M519.8 121.2h.01M520.3 114.9h.01M519.5 112.7h.01M516.1 120.5h.01M512.3 120.8h.01M520.0 112.1h.01M512.5 121.3h.01M520.4 124.7h.01M516.4 122.5h.01M520.3 114.1h.01M519.9 124.5h.01M519.7 122.5h.01M519.5 111.5h.01M520.3 117.5h.01M518.8 116.2h.01M513.1 118.3h.01M517.3 122.3h.01M517.0 116.9h.01M520.2 107.3h.01M510.4 123.5h.01M517.7 119.6h.01M513.5 121.4h.01M520.0 124.8h.01M515.6 124.2h.01M507.8 125.2h.01M513.1 120.1h.01M512.5 120.2h.01M513.2 118.5h.01M511.2 124.9h.01M513.8 121.0h.01M511.2 123.1h.01M518.8 112.3h.01M520.1 110.6h.01M515.8 119.9h.01M520.0 111.3h.01M520.4 113.8h.01M510.0 124.3h.01M518.4 124.0h.01M516.6 123.9h.01M515.4 123.8h.01M516.8 118.4h.01M518.7 113.3h.01M517.4 109.7h.01M515.0 120.1h.01M510.5 124.5h.01M510.2 121.5h.01M520.4 112.1h.01M510.4 124.8h.01M517.2 113.3h.01M513.5 121.3h.01M510.9 122.0h.01M516.9 119.5h.01M512.4 123.2h.01M519.8 111.8h.01M520.4 121.8h.01M519.2 113.5h.01M519.9 117.1h.01M514.7 121.0h.01M510.4 122.6h.01M519.8 120.2h.01M512.6 119.8h.01M520.0 109.7h.01M510.7 122.7h.01M520.4 109.7h.01M519.2 109.1h.01M519.2 116.4h.01M520.3 116.0h.01M519.9 119.3h.01M517.8 118.9h.01M518.4 110.4h.01M519.2 109.7h.01M516.3 116.9h.01M519.5 114.9h.01M520.3 121.7h.01M510.6 121.4h.01M520.4 119.3h.01M516.7 113.3h.01M511.2 121.8h.01M511.9 124.8h.01M516.0 118.0h.01M517.2 115.5h.01M509.2 123.0h.01M517.6 122.9h.01" stroke="#4B81B2" stroke-width="1.05" stroke-linecap="round" fill="none" opacity="1"/>
<path d="M507.2 125.0h.01M512.2 113.2h.01M511.9 116.5h.01M515.0 112.7h.01M516.9 109.2h.01M515.9 108.4h.01M513.7 115.2h.01M516.9 108.7h.01M512.8 109.3h.01M515.4 111.4h.01M519.4 105.7h.01M519.7 100.6h.01M520.2 101.9h.01M508.8 121.1h.01M508.3 121.1h.01M519.1 104.3h.01M513.7 113.6h.01M510.5 120.5h.01M515.5 109.8h.01M513.7 113.7h.01M510.1 118.2h.01M507.1 125.0h.01M512.1 117.5h.01M512.1 116.6h.01M514.8 109.1h.01M507.8 123.9h.01M511.5 109.7h.01M515.7 103.0h.01M512.5 115.2h.01M510.6 113.7h.01M512.8 116.3h.01M507.1 125.0h.01M507.9 124.6h.01M514.3 112.2h.01M506.8 125.0h.01M515.3 105.3h.01M518.1 106.8h.01M510.3 116.8h.01M515.2 108.7h.01M508.4 104.6h.01M519.6 102.3h.01M519.7 105.5h.01M519.2 104.6h.01M507.5 123.6h.01M508.9 123.4h.01M513.6 92.2h.01M514.7 93.1h.01M515.3 97.8h.01M517.0 100.5h.01M519.3 99.6h.01M501.1 124.4h.01M503.9 124.7h.01M506.6 123.1h.01M496.1 125.5h.01M511.2 124.0h.01M500.0 125.5h.01M494.1 124.8h.01M505.9 124.8h.01M509.1 122.6h.01M506.9 124.1h.01M496.4 125.4h.01M502.0 125.5h.01M493.9 125.6h.01M504.9 125.4h.01M506.9 123.0h.01M509.7 124.6h.01M493.0 124.2h.01M509.5 123.0h.01M509.6 122.8h.01M506.0 123.3h.01M508.9 124.8h.01M504.2 125.3h.01M500.3 123.7h.01M492.8 125.3h.01M504.3 124.6h.01M509.1 123.7h.01M504.5 123.6h.01M508.4 125.4h.01M509.3 123.6h.01M510.2 124.3h.01M501.1 124.6h.01M495.3 124.4h.01M499.0 125.3h.01M501.5 124.6h.01M497.4 125.0h.01M496.1 125.1h.01M510.4 124.0h.01M502.7 124.5h.01" stroke="#4B81B2" stroke-width="1.3" stroke-linecap="round" fill="none" opacity="1"/>
<path d="M539.9 119.4h.01M532.6 108.2h.01M534.0 121.9h.01M535.5 118.7h.01M538.7 120.0h.01M539.3 118.8h.01M532.4 110.4h.01M533.9 124.3h.01M536.0 122.1h.01M540.6 124.5h.01M535.7 120.5h.01M534.3 108.3h.01M534.5 110.7h.01M535.1 119.2h.01M536.4 121.3h.01M533.9 113.5h.01M534.7 125.2h.01M536.3 113.5h.01M541.5 124.6h.01M534.7 104.4h.01M538.2 124.2h.01M531.8 108.8h.01M538.3 119.9h.01M536.5 113.3h.01M535.3 123.5h.01M533.5 114.6h.01M532.6 104.9h.01M537.9 120.7h.01M537.5 115.0h.01M532.4 116.0h.01M536.8 114.7h.01M534.0 123.5h.01M535.6 104.4h.01M539.6 118.0h.01M541.1 115.3h.01M532.2 122.7h.01M532.9 117.6h.01M533.7 115.7h.01M533.7 122.7h.01M536.8 116.2h.01M534.6 120.1h.01M534.0 118.5h.01M535.2 119.2h.01M536.4 121.4h.01M537.8 115.8h.01M540.2 121.3h.01M532.7 116.3h.01M533.9 122.8h.01M536.8 124.8h.01M537.5 109.2h.01M533.3 106.7h.01M532.3 125.1h.01M533.0 121.3h.01M536.9 110.1h.01M539.5 122.8h.01M535.7 124.4h.01M532.8 109.3h.01M543.6 119.1h.01M536.1 123.9h.01M538.4 119.3h.01M540.0 121.9h.01M534.8 112.4h.01M533.3 121.1h.01M532.3 116.8h.01M534.4 124.9h.01M536.4 122.0h.01M535.4 116.8h.01M532.6 111.2h.01M532.2 125.2h.01M534.1 118.7h.01M535.2 125.1h.01M534.3 107.6h.01M534.4 109.4h.01M539.0 124.6h.01M540.6 122.4h.01M532.9 123.8h.01M532.5 112.4h.01M532.9 112.2h.01M536.7 123.3h.01M539.0 123.5h.01M533.6 108.4h.01M533.6 105.0h.01M536.6 117.5h.01M537.4 118.8h.01M540.5 125.0h.01M540.8 118.9h.01M532.2 107.5h.01M534.5 122.6h.01M531.8 107.9h.01M537.5 115.4h.01M536.7 112.2h.01M542.4 122.0h.01M533.4 114.5h.01M532.6 118.3h.01M536.3 107.8h.01M538.5 116.7h.01M532.1 122.0h.01M536.5 120.7h.01M537.4 121.5h.01M532.8 113.5h.01M533.1 122.5h.01M538.0 116.6h.01M532.6 117.3h.01M537.5 114.9h.01M534.0 123.0h.01M538.4 123.0h.01M537.8 108.6h.01M532.7 124.9h.01M533.7 107.9h.01M543.7 125.0h.01M532.1 107.1h.01M536.8 123.9h.01M533.5 109.7h.01M535.1 123.9h.01M540.0 121.5h.01M534.4 105.3h.01M535.7 111.8h.01M532.3 114.9h.01M533.8 115.9h.01M534.8 123.9h.01M539.5 124.7h.01M534.3 123.7h.01M532.5 125.1h.01M536.6 116.4h.01M531.9 121.2h.01M536.4 114.1h.01M534.4 123.1h.01M541.1 122.7h.01M536.3 113.8h.01M535.9 118.3h.01M536.4 121.2h.01M533.5 124.0h.01M537.1 112.1h.01M535.0 106.2h.01M532.7 115.3h.01M538.3 121.1h.01M535.9 111.8h.01M534.9 124.9h.01M537.1 124.4h.01M535.0 120.2h.01M537.3 117.5h.01M533.5 108.2h.01M533.5 114.1h.01M537.5 122.4h.01M536.6 111.3h.01M536.5 119.6h.01M532.9 110.4h.01M534.2 110.0h.01M533.7 108.7h.01M541.4 123.4h.01M532.8 119.8h.01M537.3 123.6h.01M538.5 121.7h.01M534.7 121.3h.01M532.0 124.8h.01M533.6 107.3h.01M538.8 124.1h.01M533.1 112.4h.01M532.3 115.3h.01M538.5 121.2h.01M535.6 116.2h.01M535.8 119.2h.01M534.5 113.9h.01M539.6 125.1h.01M532.6 122.8h.01M533.0 110.7h.01M532.5 106.9h.01M537.1 108.5h.01M542.7 123.6h.01M538.1 118.2h.01M536.2 116.5h.01M535.4 122.4h.01M532.9 115.5h.01M539.6 123.0h.01M532.3 110.1h.01M536.7 111.1h.01M534.0 125.1h.01M539.0 119.0h.01M533.9 123.9h.01M540.5 121.7h.01M533.9 106.8h.01M536.4 107.6h.01M534.6 117.7h.01M532.4 125.1h.01M534.3 110.7h.01M536.5 118.8h.01M533.3 105.6h.01M541.6 121.5h.01M538.1 110.7h.01M541.4 120.4h.01M541.7 120.4h.01M535.6 119.1h.01M538.4 124.2h.01M533.3 115.7h.01M535.2 123.1h.01M537.3 107.2h.01M532.3 112.2h.01M534.6 114.7h.01M535.9 117.4h.01M540.6 120.3h.01M539.7 123.7h.01M536.5 117.8h.01M537.7 123.8h.01M539.4 121.0h.01M538.0 111.1h.01M533.5 121.8h.01M542.4 124.4h.01M533.2 117.1h.01M534.0 111.2h.01M536.5 115.8h.01M532.8 109.4h.01M534.2 106.2h.01M533.3 119.6h.01M535.8 125.0h.01M533.1 122.2h.01M543.8 117.2h.01M541.4 123.4h.01M539.0 120.5h.01M540.4 122.2h.01M540.6 121.5h.01M532.9 117.5h.01M537.6 115.9h.01M533.3 108.0h.01M539.8 122.1h.01M538.0 113.9h.01M532.0 123.5h.01M535.8 118.8h.01M534.7 121.1h.01M533.0 114.5h.01M534.2 108.7h.01M537.6 125.0h.01M535.9 121.9h.01M540.3 122.7h.01M534.1 107.6h.01M538.2 117.9h.01M533.6 115.0h.01M541.9 119.3h.01M540.1 123.3h.01M536.6 110.7h.01M535.9 114.1h.01M537.5 111.1h.01M533.0 106.3h.01M538.7 125.0h.01M532.7 124.1h.01M538.3 121.5h.01M536.2 113.2h.01M536.6 118.8h.01M538.1 123.2h.01M536.6 115.5h.01M536.5 116.6h.01M533.3 118.0h.01M533.9 124.4h.01M532.6 122.0h.01M533.3 124.0h.01M534.6 118.3h.01M536.2 114.2h.01M534.5 109.2h.01M541.9 119.0h.01M536.4 108.0h.01M532.9 110.8h.01M537.2 119.0h.01M538.3 123.7h.01M539.6 124.9h.01M542.5 119.6h.01M537.2 104.9h.01M538.2 125.0h.01M537.3 107.6h.01M534.7 117.3h.01M533.3 123.2h.01M533.1 105.3h.01M533.9 124.9h.01M534.6 121.3h.01M535.1 109.5h.01M538.1 124.8h.01M541.2 116.0h.01M540.2 120.7h.01M535.8 120.7h.01M533.8 118.3h.01M533.5 109.9h.01M533.0 119.2h.01M537.1 115.7h.01M532.4 119.4h.01M539.7 119.1h.01M531.9 117.8h.01M543.1 123.4h.01M538.8 119.9h.01M539.9 121.0h.01M536.4 120.0h.01M535.2 113.9h.01M540.8 124.7h.01M532.3 123.4h.01M534.7 116.8h.01M538.1 119.2h.01M534.9 122.3h.01M534.2 123.8h.01M536.7 106.5h.01M534.8 114.3h.01M538.7 117.2h.01M535.7 117.4h.01M535.7 120.9h.01M533.4 105.5h.01M541.1 121.7h.01M536.0 109.8h.01M544.0 122.3h.01M533.5 124.9h.01M539.0 124.0h.01M543.9 123.5h.01M538.4 122.2h.01M534.0 109.8h.01M536.4 122.8h.01M537.8 114.2h.01M538.2 125.0h.01M536.8 125.2h.01M534.9 125.1h.01M538.5 124.3h.01M534.6 118.5h.01M532.2 115.9h.01M535.4 120.7h.01M543.9 124.3h.01M538.5 123.9h.01M537.8 109.1h.01M535.2 124.2h.01M536.5 113.2h.01M532.2 106.9h.01M538.5 125.2h.01M538.6 124.2h.01M534.9 114.5h.01M532.7 109.5h.01M537.6 110.7h.01M531.9 106.4h.01M536.6 119.9h.01M540.6 119.7h.01M532.4 106.2h.01M533.0 122.4h.01M536.5 123.0h.01M534.4 107.4h.01M539.8 119.2h.01M534.4 118.5h.01M540.2 123.1h.01M535.6 120.6h.01M533.0 124.3h.01M532.8 106.7h.01M539.3 124.4h.01M540.2 117.3h.01M542.8 117.5h.01M534.8 106.2h.01M533.2 104.3h.01M535.3 113.0h.01M534.2 108.6h.01M532.5 108.0h.01M535.3 117.6h.01M533.9 111.4h.01M535.6 123.6h.01M540.2 119.0h.01M536.3 123.6h.01M538.2 122.8h.01M540.1 121.5h.01M540.0 125.1h.01M538.6 120.5h.01M540.0 117.2h.01M532.6 118.8h.01M533.4 116.5h.01M532.8 116.5h.01M537.1 119.1h.01M534.8 106.2h.01M535.3 125.1h.01M537.0 125.2h.01M539.2 123.8h.01M538.4 121.1h.01M537.1 111.2h.01M533.0 120.6h.01M537.9 105.1h.01M532.8 125.0h.01M538.1 114.9h.01M534.5 114.1h.01M533.2 122.0h.01M532.9 111.4h.01M537.6 118.0h.01M540.1 122.8h.01M540.8 123.8h.01M534.9 119.2h.01M541.2 121.4h.01M538.9 124.5h.01M534.2 115.2h.01M534.1 118.4h.01M538.8 121.0h.01M534.7 121.6h.01M537.4 116.6h.01M536.9 120.3h.01M535.9 123.9h.01M539.2 116.7h.01M534.9 112.4h.01M534.6 120.2h.01M534.9 108.1h.01M541.8 124.7h.01M538.3 124.9h.01M534.0 113.0h.01M534.7 114.2h.01M532.6 109.6h.01M533.8 118.3h.01M533.2 117.5h.01M537.4 114.4h.01M532.4 125.0h.01M533.3 113.0h.01M532.2 124.7h.01M532.2 109.1h.01M535.4 124.6h.01M544.0 118.3h.01M532.6 119.5h.01M535.8 122.2h.01M533.5 116.2h.01M532.5 114.3h.01M540.7 116.0h.01M535.0 110.2h.01M532.7 113.2h.01M538.5 124.4h.01M535.3 125.1h.01M533.4 121.9h.01M531.9 119.5h.01M533.8 122.8h.01M537.6 108.4h.01M534.4 123.0h.01M536.6 118.3h.01M540.0 119.7h.01M537.1 114.7h.01M534.2 112.2h.01M533.9 124.0h.01M538.0 113.4h.01M533.4 117.0h.01M535.1 119.5h.01M540.4 120.9h.01M534.1 124.0h.01M536.5 112.9h.01M538.9 119.5h.01M533.5 111.2h.01M538.8 121.0h.01M533.3 117.4h.01M535.9 110.6h.01M538.9 118.1h.01M542.3 122.1h.01M531.8 122.8h.01M532.5 122.8h.01M533.2 124.1h.01M533.4 122.4h.01M532.6 111.5h.01M532.5 123.6h.01M534.0 113.9h.01M538.5 118.2h.01M532.5 109.7h.01M540.3 123.7h.01M535.4 118.5h.01M540.1 125.2h.01M537.0 113.2h.01M534.5 121.7h.01M536.7 122.6h.01M537.2 108.5h.01M542.4 123.7h.01M533.1 112.9h.01M532.8 119.2h.01M537.4 105.8h.01M536.1 106.9h.01M536.3 122.4h.01M538.5 123.7h.01M537.1 125.0h.01M539.1 119.8h.01M539.7 124.5h.01M536.2 122.2h.01M536.4 118.1h.01M538.9 121.2h.01M537.3 123.5h.01M536.4 123.4h.01M533.7 124.7h.01M539.9 123.2h.01M534.9 124.0h.01M543.1 121.1h.01M534.6 107.1h.01M543.0 124.9h.01M532.4 115.6h.01M539.7 119.9h.01M537.4 109.3h.01M539.0 122.4h.01M533.1 115.7h.01M533.7 120.1h.01M536.6 123.0h.01M537.2 110.6h.01M533.2 123.9h.01M533.2 118.4h.01M534.3 110.0h.01M535.3 120.4h.01M534.9 116.5h.01M538.9 119.2h.01M535.7 115.1h.01M533.3 111.2h.01M540.8 124.4h.01M532.5 117.6h.01M535.3 120.6h.01M539.5 122.2h.01M532.2 121.3h.01M535.6 122.8h.01M536.6 119.3h.01M536.5 106.5h.01M535.9 113.1h.01M538.9 124.0h.01M536.9 122.7h.01M535.6 124.1h.01M532.2 106.1h.01M540.2 118.1h.01M537.2 121.1h.01M539.4 119.1h.01M537.3 118.6h.01M532.2 123.4h.01M533.0 107.7h.01M532.5 116.3h.01M535.9 117.2h.01M534.0 120.2h.01M539.9 119.0h.01M536.5 114.9h.01M532.1 116.4h.01M537.1 122.8h.01M542.0 116.6h.01M534.6 117.7h.01M532.5 115.6h.01M535.2 105.9h.01M536.2 116.5h.01M533.4 109.7h.01M532.3 122.2h.01M532.2 116.9h.01M539.7 122.0h.01M532.8 110.6h.01M533.3 121.2h.01M534.7 116.2h.01M538.0 125.0h.01M534.9 106.0h.01M532.0 112.9h.01M535.5 109.7h.01M534.2 120.2h.01M538.5 122.7h.01M537.9 109.9h.01M533.9 106.3h.01M531.9 121.9h.01M536.2 112.6h.01M540.6 124.9h.01M537.2 123.0h.01M539.0 116.6h.01M532.5 117.1h.01M539.8 121.2h.01M534.3 109.9h.01M537.0 107.6h.01M532.8 116.5h.01M537.1 120.5h.01M533.4 109.1h.01M535.1 114.8h.01M534.7 108.0h.01M537.7 125.1h.01M536.4 109.4h.01M532.7 122.3h.01M534.0 120.6h.01M532.3 124.4h.01M535.2 122.8h.01M536.7 106.6h.01M535.8 122.6h.01M532.0 119.2h.01M532.5 118.5h.01M531.8 122.1h.01M537.3 117.5h.01M533.5 105.8h.01M538.6 120.5h.01M537.9 113.0h.01M535.7 111.8h.01M537.6 117.1h.01M532.8 107.5h.01M532.7 115.6h.01M536.7 112.6h.01M537.5 125.0h.01M534.2 105.9h.01M532.5 110.9h.01M538.5 117.5h.01M536.2 112.5h.01M534.0 118.4h.01M539.2 124.8h.01M534.4 111.5h.01M541.9 117.5h.01M534.2 121.4h.01M536.6 110.7h.01M536.0 123.7h.01M532.8 124.8h.01M535.1 108.8h.01M532.7 107.1h.01M534.3 122.0h.01M532.3 123.0h.01M537.6 109.4h.01M532.6 111.8h.01M536.6 121.6h.01M539.1 115.7h.01M538.3 118.6h.01M537.7 114.3h.01M542.3 120.1h.01M534.7 114.2h.01M532.2 111.7h.01M538.2 119.2h.01M541.9 122.5h.01M535.7 104.9h.01M537.8 113.0h.01M536.7 121.5h.01M540.4 116.8h.01M539.6 118.3h.01M540.7 124.9h.01M538.6 119.0h.01M534.6 109.2h.01M534.2 119.3h.01M536.0 115.4h.01M536.0 105.6h.01M541.3 124.1h.01M535.0 107.5h.01M535.8 121.0h.01M533.9 111.8h.01M531.9 116.8h.01M534.1 124.0h.01M534.2 113.4h.01M532.7 116.2h.01M533.5 124.6h.01M536.8 116.6h.01M538.6 117.1h.01M542.6 123.4h.01M537.9 115.8h.01M536.0 109.4h.01M533.6 119.5h.01M534.4 119.5h.01M533.1 120.6h.01M536.7 118.5h.01M534.4 119.4h.01M537.5 124.5h.01M533.2 114.2h.01M533.0 119.8h.01M532.2 123.1h.01M534.3 117.6h.01M533.3 124.9h.01M537.6 119.9h.01M538.6 123.8h.01M534.4 125.1h.01M538.8 125.0h.01M535.2 124.5h.01M535.7 111.8h.01M535.4 116.8h.01M540.3 118.1h.01M535.9 114.7h.01M532.1 117.1h.01M537.2 120.6h.01M538.8 116.7h.01M540.5 123.9h.01M535.6 116.9h.01M536.4 118.7h.01M540.4 120.2h.01M533.0 117.2h.01M542.7 121.8h.01M532.1 108.4h.01M542.8 121.4h.01M534.7 124.2h.01M533.9 121.4h.01M536.3 115.1h.01M540.3 121.8h.01M538.2 117.7h.01M538.9 119.2h.01M534.7 106.2h.01M536.6 106.7h.01M538.0 108.2h.01M533.8 121.6h.01M543.5 122.1h.01M537.9 109.1h.01M537.0 111.8h.01M536.3 112.9h.01M540.1 119.6h.01M535.1 115.5h.01M536.2 108.7h.01M542.7 123.6h.01M532.6 114.5h.01M537.6 109.9h.01M534.0 107.6h.01M540.7 124.5h.01M537.6 108.8h.01M540.5 122.0h.01M535.0 117.8h.01M533.9 109.1h.01M533.0 106.2h.01M534.3 114.7h.01M535.2 121.1h.01M541.2 120.9h.01M542.6 122.6h.01M531.8 122.9h.01M539.4 122.7h.01M535.6 122.3h.01M533.5 116.2h.01M541.9 117.5h.01M535.4 123.4h.01M539.7 120.2h.01M534.2 113.5h.01M541.3 120.0h.01M533.8 109.7h.01M539.4 123.3h.01M540.2 121.0h.01M533.5 115.1h.01M533.7 113.7h.01M541.7 124.2h.01M536.2 114.3h.01M538.6 121.5h.01M534.1 109.6h.01M538.4 121.0h.01M536.2 120.6h.01M539.4 120.0h.01M532.4 124.9h.01M537.0 110.9h.01M531.9 121.9h.01M537.2 120.4h.01M531.8 122.1h.01M535.1 115.7h.01M532.7 108.4h.01M542.0 119.3h.01M538.8 117.9h.01M536.0 123.6h.01M539.6 117.3h.01M540.7 124.5h.01M535.0 111.3h.01M531.8 125.0h.01M538.2 124.3h.01M533.6 108.8h.01M535.9 114.3h.01M535.7 108.2h.01M534.4 116.1h.01M538.5 121.1h.01M538.2 125.0h.01M532.5 110.3h.01M534.1 118.6h.01M532.7 114.7h.01M535.8 107.1h.01M532.0 123.4h.01M534.3 116.4h.01M535.9 108.7h.01M532.9 118.6h.01M533.4 122.2h.01M536.2 125.0h.01M533.1 115.4h.01M537.4 122.5h.01M532.1 111.6h.01M532.4 111.2h.01M542.0 116.1h.01M539.9 120.4h.01M534.9 124.0h.01M542.2 122.9h.01M532.6 124.7h.01M539.7 118.4h.01M532.7 124.7h.01M535.5 108.6h.01M540.7 123.3h.01M534.6 120.8h.01M539.8 125.0h.01M539.9 124.4h.01M535.6 123.5h.01M532.2 105.9h.01M537.2 124.7h.01M535.5 124.7h.01M535.1 124.2h.01M535.5 114.4h.01M532.2 119.3h.01M532.7 111.5h.01M533.8 115.3h.01M535.6 116.8h.01M539.9 118.6h.01M535.1 112.5h.01M537.3 116.5h.01M532.4 123.1h.01M534.8 124.3h.01M534.0 123.0h.01M535.8 114.7h.01M534.5 123.9h.01M534.3 122.0h.01M531.8 108.5h.01M532.7 124.3h.01M540.1 125.0h.01M540.5 121.4h.01M534.1 116.9h.01M533.3 117.9h.01M543.9 119.6h.01M537.8 119.1h.01M542.4 123.3h.01M532.8 120.9h.01M538.7 123.4h.01M535.2 121.5h.01M537.0 112.3h.01M534.6 124.7h.01M533.4 115.6h.01M539.4 121.8h.01M539.2 122.5h.01M532.0 122.8h.01M538.4 122.0h.01M531.8 121.4h.01M538.3 125.2h.01M536.1 119.8h.01M540.0 122.2h.01M539.5 123.5h.01M533.8 105.3h.01M539.0 117.6h.01M540.4 124.7h.01M541.5 122.1h.01M532.5 125.0h.01M537.3 116.6h.01M539.1 124.6h.01M539.0 121.3h.01M537.7 115.8h.01M533.9 121.6h.01M538.8 123.8h.01M538.9 124.9h.01M533.6 111.9h.01M537.7 109.6h.01M536.0 119.6h.01M536.1 122.6h.01M535.4 117.2h.01M534.5 113.1h.01M539.7 124.9h.01M541.8 124.3h.01M534.2 124.7h.01M535.0 116.4h.01M534.3 116.7h.01M536.2 113.2h.01M534.0 115.3h.01M533.7 119.6h.01M533.2 117.0h.01M533.4 115.3h.01M533.4 123.9h.01M533.6 117.3h.01M536.0 119.5h.01M534.9 125.2h.01M543.1 119.0h.01M533.3 120.9h.01M535.1 112.7h.01M535.9 113.4h.01M536.7 119.7h.01M538.6 125.1h.01M536.8 105.1h.01M533.0 118.1h.01M535.1 116.1h.01M536.0 119.7h.01M535.3 125.2h.01M542.2 120.1h.01M537.9 111.2h.01M537.2 119.4h.01M539.0 119.3h.01M539.9 121.5h.01M539.2 124.4h.01M534.1 107.5h.01M536.0 110.6h.01M535.1 103.6h.01M533.5 113.1h.01M532.6 118.9h.01M541.6 119.1h.01M532.9 117.4h.01M533.0 116.6h.01M534.7 124.5h.01M536.5 120.0h.01M541.9 123.9h.01M532.5 122.6h.01M534.4 112.7h.01M536.1 123.1h.01M533.0 109.5h.01M536.2 110.3h.01M541.9 122.3h.01M536.6 108.1h.01M535.9 114.3h.01M532.7 116.1h.01M532.1 122.3h.01M535.0 107.6h.01M535.4 113.6h.01M541.4 120.0h.01M532.0 124.5h.01M538.5 123.6h.01M538.8 124.1h.01M540.3 120.5h.01M535.1 125.0h.01M533.0 117.8h.01M535.6 115.0h.01M541.4 117.5h.01M539.4 118.4h.01M534.9 122.2h.01M532.4 107.2h.01M534.1 119.6h.01M540.0 123.5h.01M535.5 106.8h.01M540.1 124.0h.01M534.3 108.6h.01M538.0 115.4h.01M541.9 125.0h.01M538.8 123.7h.01M532.8 104.7h.01M532.5 112.2h.01M535.5 114.2h.01M533.5 117.8h.01M534.1 115.1h.01M532.9 114.4h.01M535.6 115.3h.01M532.2 115.6h.01M540.7 120.9h.01M534.1 119.8h.01M538.6 123.1h.01M539.3 125.1h.01M534.4 108.2h.01M534.0 107.0h.01M532.0 121.4h.01M534.3 114.1h.01M542.2 121.8h.01M536.1 116.9h.01M533.2 120.8h.01M538.5 124.0h.01M532.8 116.4h.01M539.5 119.6h.01M532.5 106.3h.01M538.3 121.8h.01M535.1 106.7h.01M533.0 117.6h.01M532.4 121.3h.01M535.7 116.3h.01M541.5 123.9h.01M542.1 124.7h.01M540.9 123.5h.01M543.7 120.9h.01M535.8 115.1h.01M537.8 109.9h.01M540.0 124.0h.01M539.9 118.7h.01M543.3 122.6h.01M539.2 116.9h.01M537.1 124.1h.01M535.4 116.7h.01M533.9 117.3h.01M533.8 108.8h.01M539.6 117.0h.01M534.0 108.3h.01M535.2 124.6h.01M537.4 106.1h.01M534.7 106.8h.01M538.4 121.6h.01M539.3 125.2h.01M543.6 120.6h.01M537.8 115.2h.01M535.3 124.4h.01M535.6 109.5h.01M540.0 123.5h.01M536.8 110.1h.01M536.3 122.4h.01M532.5 109.1h.01M534.9 115.9h.01M535.6 108.4h.01M532.5 110.9h.01M537.7 124.8h.01M531.9 120.3h.01M543.3 121.0h.01M534.9 124.0h.01M537.4 113.9h.01M536.2 119.5h.01M539.1 121.6h.01M535.7 117.7h.01M534.2 125.1h.01M536.7 107.6h.01M535.8 117.5h.01M541.7 119.5h.01M532.6 125.0h.01M534.0 122.5h.01M539.3 119.4h.01M536.1 109.4h.01M534.7 123.4h.01M540.9 121.5h.01M542.4 118.4h.01M536.7 116.1h.01M534.0 109.7h.01M533.9 120.5h.01M533.6 105.2h.01M535.5 122.3h.01M533.9 107.5h.01M539.6 123.4h.01M535.6 106.8h.01M540.3 123.9h.01M535.6 117.7h.01M532.3 113.2h.01M533.5 115.8h.01M540.1 123.4h.01M537.5 112.3h.01M536.5 114.7h.01M538.9 116.7h.01M535.3 124.8h.01M537.3 120.4h.01M532.6 115.8h.01M533.7 117.3h.01M533.3 110.4h.01M535.4 108.5h.01M532.8 113.9h.01M544.0 123.1h.01M533.7 111.6h.01M536.1 113.1h.01M536.8 119.8h.01M536.5 111.5h.01M537.9 110.7h.01M536.6 119.6h.01M534.2 115.8h.01M534.6 120.1h.01M541.0 122.3h.01M533.7 117.7h.01M542.9 118.5h.01M543.0 124.0h.01M532.5 110.0h.01M539.8 121.4h.01M541.7 123.7h.01M542.2 124.3h.01M537.8 112.1h.01M534.6 107.5h.01M543.8 119.4h.01M533.7 108.8h.01M533.6 123.3h.01M536.9 123.7h.01M532.6 122.1h.01M543.2 121.6h.01M537.4 112.1h.01M537.2 112.8h.01M534.3 112.4h.01M531.9 122.4h.01M534.0 117.7h.01M533.6 108.4h.01M538.1 122.5h.01M532.2 115.5h.01M538.4 124.3h.01M538.0 106.7h.01M532.1 114.1h.01M540.2 123.9h.01M542.4 122.1h.01M535.4 110.7h.01M532.6 105.5h.01M539.1 124.9h.01M535.7 119.6h.01M536.2 122.4h.01M533.0 113.5h.01M535.1 118.4h.01M533.3 105.9h.01M536.9 123.9h.01M537.9 118.2h.01M540.9 119.0h.01M534.8 108.0h.01M533.9 119.1h.01M534.6 107.0h.01M536.7 121.2h.01M537.7 108.9h.01M540.2 122.5h.01M532.7 118.3h.01M537.7 121.9h.01M538.4 124.8h.01M533.5 112.9h.01M535.5 113.0h.01M532.2 121.6h.01M536.5 122.1h.01M538.1 118.0h.01M542.4 124.3h.01M533.5 119.6h.01M533.3 109.3h.01M542.8 124.7h.01M533.6 124.8h.01M535.9 112.6h.01M538.8 121.4h.01M534.4 105.0h.01M533.0 124.3h.01M537.7 112.1h.01M533.8 110.6h.01M534.0 116.4h.01M533.2 111.7h.01M535.3 122.0h.01M534.4 115.6h.01M534.2 116.7h.01M543.2 119.3h.01M534.0 125.0h.01M532.5 123.1h.01M533.6 107.9h.01M534.8 116.3h.01M543.0 118.9h.01M538.7 119.4h.01M532.9 111.8h.01M532.6 124.9h.01M535.8 113.8h.01M533.2 111.7h.01M533.8 123.7h.01M535.1 110.0h.01M533.2 119.5h.01M535.4 123.9h.01M533.2 124.6h.01M540.7 119.3h.01M533.6 124.7h.01M542.2 121.2h.01M535.0 124.9h.01M533.0 115.4h.01M541.4 124.7h.01M532.6 107.2h.01M535.6 115.9h.01M538.7 124.2h.01M543.6 120.1h.01M533.4 122.5h.01M535.3 117.5h.01M532.0 112.8h.01M535.9 119.2h.01M536.5 120.2h.01M534.1 125.2h.01M534.3 124.9h.01M536.9 109.1h.01M535.3 118.8h.01M532.0 110.5h.01M536.9 122.1h.01M534.7 114.3h.01M532.3 123.0h.01M533.0 105.9h.01M535.7 125.0h.01M534.6 119.3h.01M535.9 124.1h.01M533.9 107.4h.01M534.7 114.9h.01M536.8 124.4h.01M533.9 111.7h.01M532.3 121.9h.01M532.4 123.4h.01M538.2 117.8h.01M535.5 125.1h.01M533.4 120.3h.01M535.3 113.3h.01M541.7 120.4h.01M534.0 123.1h.01M541.2 119.4h.01M538.2 118.4h.01M534.1 105.2h.01M540.2 124.3h.01M535.0 113.2h.01M535.6 109.3h.01M536.4 121.0h.01M538.3 121.7h.01M534.8 119.4h.01M535.9 108.3h.01M538.1 120.7h.01M532.7 115.0h.01M532.6 114.0h.01M542.3 122.0h.01M534.9 106.8h.01M536.4 121.5h.01M534.8 120.7h.01M540.5 118.9h.01M534.8 121.9h.01M540.8 119.0h.01M536.7 119.8h.01M535.0 124.4h.01M532.0 109.3h.01M535.6 115.1h.01M532.9 107.9h.01M535.9 108.2h.01M537.4 121.7h.01M534.3 124.3h.01M534.4 124.9h.01M536.0 112.1h.01M534.6 107.8h.01M537.3 123.4h.01M534.9 113.3h.01M537.6 119.2h.01M536.0 107.8h.01M538.6 124.1h.01M538.5 116.6h.01M535.6 111.7h.01M533.8 123.2h.01M539.3 121.3h.01M534.7 117.7h.01M532.9 108.1h.01M537.0 111.2h.01M532.3 116.4h.01M534.9 117.4h.01M534.6 119.7h.01M532.1 108.6h.01M532.2 109.2h.01M531.9 121.7h.01M536.7 121.3h.01M538.8 125.1h.01M540.6 120.1h.01M542.3 125.0h.01M536.2 112.9h.01M538.0 108.2h.01M541.2 125.0h.01M537.5 116.7h.01M533.4 124.9h.01M534.0 117.0h.01M534.4 115.3h.01M538.3 120.6h.01M536.1 104.7h.01M532.3 121.7h.01M540.4 121.8h.01M535.5 112.7h.01M537.4 116.5h.01M536.4 120.1h.01M539.5 122.7h.01M535.1 118.9h.01M537.4 124.8h.01M541.1 123.7h.01M538.4 124.4h.01M533.2 111.3h.01M537.5 124.9h.01M532.3 117.6h.01M537.4 112.2h.01M535.7 112.6h.01M541.9 122.8h.01M535.0 121.1h.01M535.2 113.0h.01M536.9 120.0h.01M535.3 111.0h.01M533.7 111.3h.01M534.3 112.8h.01M535.6 124.9h.01M539.6 119.9h.01M537.3 112.1h.01M533.9 109.9h.01M534.2 125.0h.01M538.0 122.8h.01M535.6 118.8h.01M534.1 120.6h.01M535.2 114.0h.01M533.7 115.9h.01M540.2 119.9h.01M532.7 109.4h.01M539.3 124.3h.01M538.3 118.8h.01M537.8 119.3h.01M541.3 119.2h.01M533.7 108.3h.01M537.7 119.9h.01M535.1 123.7h.01M541.0 121.3h.01M534.5 116.1h.01M532.3 121.1h.01M535.3 117.3h.01M533.5 123.9h.01M540.2 124.1h.01M534.0 114.3h.01M536.3 116.4h.01M532.9 117.1h.01M535.8 122.2h.01M540.6 122.7h.01M536.1 125.0h.01M532.6 123.1h.01M532.3 112.6h.01M533.8 115.4h.01M533.5 120.2h.01M531.9 115.6h.01M540.5 124.2h.01M541.0 124.3h.01M539.9 122.1h.01M539.0 125.1h.01M542.6 118.7h.01M542.0 122.8h.01M535.9 106.9h.01M534.5 107.0h.01M535.5 119.9h.01M533.7 117.4h.01M537.6 118.4h.01M537.0 106.1h.01M538.2 123.1h.01M538.3 119.6h.01M542.1 123.1h.01M536.5 112.6h.01M537.6 111.1h.01M532.4 115.1h.01M534.8 110.2h.01M537.7 108.9h.01M535.0 119.9h.01M532.8 119.3h.01M535.4 119.5h.01M532.8 122.8h.01M539.9 121.9h.01M533.8 122.4h.01M535.4 123.6h.01M534.4 124.2h.01M533.1 109.0h.01M535.3 122.8h.01M535.7 108.4h.01M540.5 123.1h.01M535.5 110.5h.01M541.5 117.2h.01M536.7 116.6h.01M535.7 109.9h.01M539.0 118.9h.01M540.7 125.1h.01M542.7 124.3h.01M537.8 107.5h.01M532.3 113.2h.01M532.6 109.1h.01M534.2 117.4h.01M542.2 125.1h.01M532.6 124.2h.01M541.7 125.1h.01M536.1 120.6h.01M532.6 120.0h.01M536.1 124.3h.01M531.8 104.4h.01M533.5 120.0h.01M533.2 113.8h.01M541.7 118.8h.01M536.9 124.8h.01M543.7 121.0h.01M532.8 109.6h.01M534.7 123.6h.01M538.0 121.4h.01M541.6 124.8h.01M533.3 108.7h.01M540.2 118.3h.01M533.0 124.6h.01M534.6 116.2h.01M531.9 112.9h.01M538.1 124.7h.01M536.3 120.5h.01M540.1 124.5h.01M537.3 120.6h.01M532.0 113.1h.01M536.1 118.6h.01M538.9 124.6h.01M536.1 125.2h.01M541.1 121.9h.01M536.1 105.5h.01M539.0 124.3h.01M543.3 117.7h.01M532.7 121.7h.01M538.2 119.5h.01M537.8 114.9h.01M532.6 109.3h.01M533.9 112.2h.01M543.1 124.9h.01M536.7 108.1h.01M531.8 123.3h.01M537.3 117.5h.01M531.9 113.4h.01M532.2 109.7h.01M542.5 125.2h.01M538.0 116.9h.01M532.1 120.6h.01M539.7 123.7h.01M532.4 120.7h.01M543.5 119.1h.01M535.4 113.4h.01M535.7 118.3h.01M540.2 122.8h.01M532.9 122.1h.01M532.9 107.5h.01M534.0 119.7h.01M534.9 123.8h.01M536.8 109.9h.01M533.8 117.5h.01M537.4 124.7h.01M534.7 113.0h.01M541.2 124.4h.01M533.8 106.9h.01M536.2 120.8h.01M534.7 123.6h.01M535.6 105.3h.01M539.9 123.9h.01M538.1 122.2h.01M536.5 117.4h.01M534.7 114.3h.01M532.7 125.1h.01M532.5 123.2h.01M535.6 106.3h.01M534.9 124.1h.01M534.0 125.0h.01M537.4 116.8h.01M538.1 123.4h.01M534.1 114.3h.01M543.3 120.8h.01M533.2 107.9h.01M532.2 124.4h.01M536.8 124.7h.01M537.0 120.5h.01M533.3 110.4h.01M539.8 116.9h.01M533.9 107.5h.01M543.0 123.8h.01M537.5 124.4h.01M534.4 108.6h.01M537.9 112.1h.01M532.3 123.9h.01M539.1 117.9h.01M535.6 125.0h.01M534.2 124.4h.01M535.0 111.1h.01M536.8 124.0h.01M540.4 121.6h.01M535.4 119.7h.01M532.9 105.3h.01M532.4 109.8h.01M537.9 114.8h.01M535.5 105.9h.01M532.3 121.1h.01M533.2 112.2h.01M533.1 108.1h.01M534.7 124.3h.01M534.7 118.7h.01M539.4 123.9h.01M536.1 112.6h.01M539.7 124.3h.01M538.1 118.5h.01M532.0 123.1h.01M539.6 121.2h.01M534.6 112.0h.01M535.4 114.1h.01M540.2 118.0h.01M532.5 120.4h.01M535.0 123.2h.01M533.0 125.0h.01M532.0 122.7h.01M535.5 111.0h.01M537.6 113.0h.01M538.2 124.4h.01M543.0 118.7h.01M532.5 116.2h.01M536.2 109.7h.01M536.0 107.6h.01M538.6 117.8h.01M533.7 117.8h.01M543.1 122.4h.01M533.8 117.0h.01M533.1 118.9h.01M534.2 116.5h.01M538.1 118.4h.01M539.6 121.8h.01M543.3 122.4h.01M532.0 111.5h.01M534.6 104.7h.01M533.1 119.8h.01M532.6 117.1h.01M532.4 119.7h.01M538.0 109.8h.01M543.6 124.0h.01M536.8 124.5h.01M535.9 113.4h.01M533.1 105.3h.01M532.6 122.0h.01M534.5 113.0h.01M533.2 114.4h.01M538.2 119.8h.01M533.5 117.0h.01M538.3 121.4h.01M537.1 115.7h.01M543.3 115.8h.01M537.1 117.9h.01M534.7 110.0h.01M536.4 112.9h.01M538.3 125.1h.01M532.0 119.2h.01M538.2 120.6h.01M537.6 118.4h.01M532.4 117.6h.01M535.2 124.0h.01M535.3 113.6h.01M532.0 123.6h.01M532.9 93.1h.01M534.6 94.1h.01M533.8 99.6h.01M536.9 99.6h.01M540.9 97.8h.01M542.1 100.5h.01M542.6 108.8h.01M535.2 101.5h.01M538.6 103.3h.01M539.8 110.7h.01M532.4 98.7h.01M537.5 95.9h.01" stroke="#E2463F" stroke-width="1.05" stroke-linecap="round" fill="none" opacity="1"/>
<path d="M555.8 125.6h.01M549.5 123.6h.01M544.7 123.2h.01M545.1 125.3h.01M553.5 123.0h.01M551.5 123.2h.01M558.4 125.5h.01M545.6 124.4h.01M558.2 124.7h.01M556.9 125.0h.01M545.5 125.9h.01M546.0 124.1h.01M549.5 123.5h.01M554.0 125.3h.01M545.6 125.6h.01M545.3 123.7h.01M555.4 123.1h.01M550.6 124.7h.01M556.8 125.0h.01M548.2 123.1h.01M554.1 125.9h.01M555.2 123.1h.01M547.6 124.5h.01M550.4 123.6h.01M546.9 123.7h.01M555.7 124.8h.01M554.5 123.3h.01M545.0 124.9h.01M549.9 124.7h.01M556.3 125.1h.01M557.3 124.9h.01M546.9 125.8h.01M559.7 123.8h.01M547.5 124.4h.01M559.8 124.7h.01M552.0 124.3h.01M552.5 125.2h.01M548.5 124.5h.01M553.2 124.4h.01M560.6 123.9h.01M554.2 123.8h.01M547.2 125.0h.01M557.6 124.2h.01M560.9 125.8h.01M559.6 125.0h.01M557.9 125.2h.01M547.4 125.2h.01M548.3 123.6h.01M559.5 125.8h.01M558.1 124.9h.01M540.4 30.3h.01M566.0 121.8h.01M544.3 107.0h.01M545.5 119.0h.01" stroke="#E2463F" stroke-width="1.3" stroke-linecap="round" fill="none" opacity="1"/>
<rect x="477.90" y="25.70" width="97.30" height="105.30" fill="none" stroke="#222" stroke-width="1.1"/>
<line x1="474.90" y1="126.40" x2="477.90" y2="126.40" stroke="#222" stroke-width="0.9"/>
<text x="473.70" y="130.12" font-size="10.4" text-anchor="end" font-weight="bold" fill="#000" stroke="#000">0</text>
<line x1="474.90" y1="103.30" x2="477.90" y2="103.30" stroke="#222" stroke-width="0.9"/>
<text x="473.70" y="107.02" font-size="10.4" text-anchor="end" font-weight="bold" fill="#000" stroke="#000">25</text>
<line x1="474.90" y1="80.20" x2="477.90" y2="80.20" stroke="#222" stroke-width="0.9"/>
<text x="473.70" y="83.92" font-size="10.4" text-anchor="end" font-weight="bold" fill="#000" stroke="#000">50</text>
<line x1="474.90" y1="57.10" x2="477.90" y2="57.10" stroke="#222" stroke-width="0.9"/>
<text x="473.70" y="60.82" font-size="10.4" text-anchor="end" font-weight="bold" fill="#000" stroke="#000">75</text>
<line x1="474.90" y1="34.00" x2="477.90" y2="34.00" stroke="#222" stroke-width="0.9"/>
<text x="473.70" y="37.72" font-size="10.4" text-anchor="end" font-weight="bold" fill="#000" stroke="#000">100</text>
<line x1="497.60" y1="131.00" x2="497.60" y2="134.00" stroke="#222" stroke-width="0.9"/>
<text x="496.10" y="143.65" font-size="10.2" text-anchor="middle" font-weight="bold" fill="#000" stroke="#000">−5</text>
<line x1="526.10" y1="131.00" x2="526.10" y2="134.00" stroke="#222" stroke-width="0.9"/>
<text x="526.10" y="143.65" font-size="10.2" text-anchor="middle" font-weight="bold" fill="#000" stroke="#000">0</text>
<line x1="554.60" y1="131.00" x2="554.60" y2="134.00" stroke="#222" stroke-width="0.9"/>
<text x="554.60" y="143.65" font-size="10.2" text-anchor="middle" font-weight="bold" fill="#000" stroke="#000">5</text>
<text x="526.30" y="16.27" font-size="10.8" text-anchor="middle" font-weight="bold" fill="#000" stroke="#000">C−vs−B</text>
<text x="524.70" y="162.00" font-size="11" text-anchor="middle" font-weight="bold" fill="#000" stroke="#000">log<tspan font-size="7" dy="2">2</tspan><tspan dy="-2"> FoldChange</tspan></text>
<text x="447.80" y="75.00" font-size="10.75" text-anchor="middle" font-weight="bold" fill="#000" stroke="#000" transform="rotate(-90 447.80 75.00)">−log<tspan font-size="7" dy="2">10</tspan><tspan dy="-2"> </tspan><tspan font-style="italic">q</tspan>−value</text>
<circle cx="584.30" cy="32.80" r="1.9" fill="#E2463F" stroke="none" stroke-width="1"/>
<text x="595.70" y="36.68" font-size="10.85" text-anchor="start" font-weight="bold" fill="#000" stroke="#000">Significant Up</text>
<circle cx="584.30" cy="47.42" r="1.9" fill="#4B81B2" stroke="none" stroke-width="1"/>
<text x="595.70" y="51.30" font-size="10.85" text-anchor="start" font-weight="bold" fill="#000" stroke="#000">Significant Down</text>
<circle cx="584.30" cy="62.04" r="1.9" fill="#D9E0E8" stroke="none" stroke-width="1"/>
<text x="595.70" y="65.92" font-size="10.85" text-anchor="start" font-weight="bold" fill="#000" stroke="#000">Non−significant</text>
<circle cx="584.30" cy="76.66" r="1.9" fill="#F2B8C6" stroke="none" stroke-width="1"/>
<text x="595.70" y="80.54" font-size="10.85" text-anchor="start" font-weight="bold" fill="#000" stroke="#000">Up</text>
<circle cx="584.30" cy="91.28" r="1.9" fill="#8FD0F0" stroke="none" stroke-width="1"/>
<text x="595.70" y="95.16" font-size="10.85" text-anchor="start" font-weight="bold" fill="#000" stroke="#000">Down</text>
<text x="1.40" y="193.00" font-size="13" text-anchor="start" font-weight="bold" fill="#000" stroke="#000">(C)</text>
<rect x="34.95" y="205.70" width="20.75" height="20.48" fill="#E88C94" stroke="none" stroke-width="1"/>
<rect x="58.70" y="205.70" width="20.75" height="20.48" fill="#EA969C" stroke="none" stroke-width="1"/>
<rect x="82.45" y="205.70" width="20.75" height="20.48" fill="#E6888E" stroke="none" stroke-width="1"/>
<rect x="106.20" y="205.70" width="20.75" height="20.48" fill="#ECA6AC" stroke="none" stroke-width="1"/>
<line x1="27.45" y1="215.94" x2="33.45" y2="215.94" stroke="#222" stroke-width="0.9"/>
<text x="9.70" y="219.59" font-size="10.2" text-anchor="start" font-weight="bold" fill="#000" stroke="#000">A1</text>
<rect x="34.95" y="229.18" width="20.75" height="20.48" fill="#EAA6AC" stroke="none" stroke-width="1"/>
<rect x="58.70" y="229.18" width="20.75" height="20.48" fill="#E8989E" stroke="none" stroke-width="1"/>
<rect x="82.45" y="229.18" width="20.75" height="20.48" fill="#ECA8AE" stroke="none" stroke-width="1"/>
<rect x="106.20" y="229.18" width="20.75" height="20.48" fill="#E8949A" stroke="none" stroke-width="1"/>
<line x1="27.45" y1="239.42" x2="33.45" y2="239.42" stroke="#222" stroke-width="0.9"/>
<text x="9.70" y="243.07" font-size="10.2" text-anchor="start" font-weight="bold" fill="#000" stroke="#000">A2</text>
<rect x="34.95" y="252.66" width="20.75" height="20.48" fill="#E88E96" stroke="none" stroke-width="1"/>
<rect x="58.70" y="252.66" width="20.75" height="20.48" fill="#E89098" stroke="none" stroke-width="1"/>
<rect x="82.45" y="252.66" width="20.75" height="20.48" fill="#E89096" stroke="none" stroke-width="1"/>
<rect x="106.20" y="252.66" width="20.75" height="20.48" fill="#E89298" stroke="none" stroke-width="1"/>
<line x1="27.45" y1="262.90" x2="33.45" y2="262.90" stroke="#222" stroke-width="0.9"/>
<text x="9.70" y="266.55" font-size="10.2" text-anchor="start" font-weight="bold" fill="#000" stroke="#000">A3</text>
<rect x="34.95" y="276.14" width="20.75" height="20.48" fill="#C8C8E4" stroke="none" stroke-width="1"/>
<rect x="58.70" y="276.14" width="20.75" height="20.48" fill="#FDFBFC" stroke="none" stroke-width="1"/>
<rect x="82.45" y="276.14" width="20.75" height="20.48" fill="#6A70B6" stroke="none" stroke-width="1"/>
<rect x="106.20" y="276.14" width="20.75" height="20.48" fill="#646AB2" stroke="none" stroke-width="1"/>
<line x1="27.45" y1="286.38" x2="33.45" y2="286.38" stroke="#222" stroke-width="0.9"/>
<text x="9.70" y="290.03" font-size="10.2" text-anchor="start" font-weight="bold" fill="#000" stroke="#000">B1</text>
<rect x="34.95" y="299.62" width="20.75" height="20.48" fill="#BCBCE0" stroke="none" stroke-width="1"/>
<rect x="58.70" y="299.62" width="20.75" height="20.48" fill="#F6E8E8" stroke="none" stroke-width="1"/>
<rect x="82.45" y="299.62" width="20.75" height="20.48" fill="#787CBE" stroke="none" stroke-width="1"/>
<rect x="106.20" y="299.62" width="20.75" height="20.48" fill="#5862AC" stroke="none" stroke-width="1"/>
<line x1="27.45" y1="309.86" x2="33.45" y2="309.86" stroke="#222" stroke-width="0.9"/>
<text x="9.70" y="313.51" font-size="10.2" text-anchor="start" font-weight="bold" fill="#000" stroke="#000">B2</text>
<rect x="34.95" y="323.10" width="20.75" height="20.48" fill="#D8DAEE" stroke="none" stroke-width="1"/>
<rect x="58.70" y="323.10" width="20.75" height="20.48" fill="#F6E8E8" stroke="none" stroke-width="1"/>
<rect x="82.45" y="323.10" width="20.75" height="20.48" fill="#6C72B8" stroke="none" stroke-width="1"/>
<rect x="106.20" y="323.10" width="20.75" height="20.48" fill="#5A62AE" stroke="none" stroke-width="1"/>
<line x1="27.45" y1="333.34" x2="33.45" y2="333.34" stroke="#222" stroke-width="0.9"/>
<text x="9.70" y="336.99" font-size="10.2" text-anchor="start" font-weight="bold" fill="#000" stroke="#000">B3</text>
<rect x="34.95" y="346.58" width="20.75" height="20.48" fill="#9698D0" stroke="none" stroke-width="1"/>
<rect x="58.70" y="346.58" width="20.75" height="20.48" fill="#E8EAF6" stroke="none" stroke-width="1"/>
<rect x="82.45" y="346.58" width="20.75" height="20.48" fill="#5C64AE" stroke="none" stroke-width="1"/>
<rect x="106.20" y="346.58" width="20.75" height="20.48" fill="#4E58A8" stroke="none" stroke-width="1"/>
<line x1="27.45" y1="356.82" x2="33.45" y2="356.82" stroke="#222" stroke-width="0.9"/>
<text x="9.70" y="360.47" font-size="10.2" text-anchor="start" font-weight="bold" fill="#000" stroke="#000">C1</text>
<rect x="34.95" y="370.06" width="20.75" height="20.48" fill="#9698D0" stroke="none" stroke-width="1"/>
<rect x="58.70" y="370.06" width="20.75" height="20.48" fill="#FAFAFD" stroke="none" stroke-width="1"/>
<rect x="82.45" y="370.06" width="20.75" height="20.48" fill="#6C72B8" stroke="none" stroke-width="1"/>
<rect x="106.20" y="370.06" width="20.75" height="20.48" fill="#5C62AE" stroke="none" stroke-width="1"/>
<line x1="27.45" y1="380.30" x2="33.45" y2="380.30" stroke="#222" stroke-width="0.9"/>
<text x="9.70" y="383.95" font-size="10.2" text-anchor="start" font-weight="bold" fill="#000" stroke="#000">C2</text>
<rect x="34.95" y="393.54" width="20.75" height="20.48" fill="#9A9AD0" stroke="none" stroke-width="1"/>
<rect x="58.70" y="393.54" width="20.75" height="20.48" fill="#E8EAF6" stroke="none" stroke-width="1"/>
<rect x="82.45" y="393.54" width="20.75" height="20.48" fill="#6A70B6" stroke="none" stroke-width="1"/>
<rect x="106.20" y="393.54" width="20.75" height="20.48" fill="#5A60AC" stroke="none" stroke-width="1"/>
<line x1="27.45" y1="403.78" x2="33.45" y2="403.78" stroke="#222" stroke-width="0.9"/>
<text x="9.70" y="407.43" font-size="10.2" text-anchor="start" font-weight="bold" fill="#000" stroke="#000">C3</text>
<rect x="34.95" y="417.02" width="20.75" height="20.48" fill="#EA969C" stroke="none" stroke-width="1"/>
<rect x="58.70" y="417.02" width="20.75" height="20.48" fill="#E67C84" stroke="none" stroke-width="1"/>
<rect x="82.45" y="417.02" width="20.75" height="20.48" fill="#E89096" stroke="none" stroke-width="1"/>
<rect x="106.20" y="417.02" width="20.75" height="20.48" fill="#F0C4CA" stroke="none" stroke-width="1"/>
<line x1="27.45" y1="427.26" x2="33.45" y2="427.26" stroke="#222" stroke-width="0.9"/>
<text x="9.70" y="430.91" font-size="10.2" text-anchor="start" font-weight="bold" fill="#000" stroke="#000">D1</text>
<rect x="34.95" y="440.50" width="20.75" height="20.48" fill="#EAA0A4" stroke="none" stroke-width="1"/>
<rect x="58.70" y="440.50" width="20.75" height="20.48" fill="#E88890" stroke="none" stroke-width="1"/>
<rect x="82.45" y="440.50" width="20.75" height="20.48" fill="#ECA4A8" stroke="none" stroke-width="1"/>
<rect x="106.20" y="440.50" width="20.75" height="20.48" fill="#F6E8E8" stroke="none" stroke-width="1"/>
<line x1="27.45" y1="450.74" x2="33.45" y2="450.74" stroke="#222" stroke-width="0.9"/>
<text x="9.70" y="454.39" font-size="10.2" text-anchor="start" font-weight="bold" fill="#000" stroke="#000">D2</text>
<rect x="34.95" y="463.98" width="20.75" height="20.48" fill="#E6888E" stroke="none" stroke-width="1"/>
<rect x="58.70" y="463.98" width="20.75" height="20.48" fill="#E4707A" stroke="none" stroke-width="1"/>
<rect x="82.45" y="463.98" width="20.75" height="20.48" fill="#E6888E" stroke="none" stroke-width="1"/>
<rect x="106.20" y="463.98" width="20.75" height="20.48" fill="#F2D4D8" stroke="none" stroke-width="1"/>
<line x1="27.45" y1="474.22" x2="33.45" y2="474.22" stroke="#222" stroke-width="0.9"/>
<text x="9.70" y="477.87" font-size="10.2" text-anchor="start" font-weight="bold" fill="#000" stroke="#000">D3</text>
<rect x="33.45" y="204.20" width="95.00" height="281.76" fill="none" stroke="#222" stroke-width="1.1"/>
<line x1="45.33" y1="198.40" x2="45.33" y2="204.20" stroke="#222" stroke-width="0.9"/>
<text x="44.43" y="194.40" font-size="11.3" text-anchor="start" font-weight="bold" fill="#000" stroke="#000" transform="rotate(-45 44.43 194.40)">DLAT</text>
<line x1="69.08" y1="198.40" x2="69.08" y2="204.20" stroke="#222" stroke-width="0.9"/>
<text x="68.17" y="194.40" font-size="11.3" text-anchor="start" font-weight="bold" fill="#000" stroke="#000" transform="rotate(-45 68.17 194.40)">DLST</text>
<line x1="92.83" y1="198.40" x2="92.83" y2="204.20" stroke="#222" stroke-width="0.9"/>
<text x="91.92" y="194.40" font-size="11.3" text-anchor="start" font-weight="bold" fill="#000" stroke="#000" transform="rotate(-45 91.92 194.40)">FDX1</text>
<line x1="116.58" y1="198.40" x2="116.58" y2="204.20" stroke="#222" stroke-width="0.9"/>
<text x="115.67" y="194.40" font-size="11.3" text-anchor="start" font-weight="bold" fill="#000" stroke="#000" transform="rotate(-45 115.67 194.40)">LIAS</text>
<text x="81.40" y="503.26" font-size="10.5" text-anchor="middle" font-weight="bold" fill="#000" stroke="#000">Rel. FPKM values</text>
<rect x="137.40" y="293.70" width="13.20" height="100.80" fill="url(#cb)" stroke="#4a4a4a" stroke-width="0.9"/>
<line x1="137.40" y1="307.60" x2="141.60" y2="307.60" stroke="#111" stroke-width="1"/>
<line x1="145.80" y1="307.60" x2="150.60" y2="307.60" stroke="#111" stroke-width="1"/>
<text x="157.90" y="311.29" font-size="10.3" text-anchor="start" font-weight="bold" fill="#000" stroke="#000">1.00</text>
<line x1="137.40" y1="330.30" x2="141.60" y2="330.30" stroke="#111" stroke-width="1"/>
<line x1="145.80" y1="330.30" x2="150.60" y2="330.30" stroke="#111" stroke-width="1"/>
<text x="157.90" y="333.99" font-size="10.3" text-anchor="start" font-weight="bold" fill="#000" stroke="#000">0.75</text>
<line x1="137.40" y1="353.40" x2="141.60" y2="353.40" stroke="#111" stroke-width="1"/>
<line x1="145.80" y1="353.40" x2="150.60" y2="353.40" stroke="#111" stroke-width="1"/>
<text x="157.90" y="357.09" font-size="10.3" text-anchor="start" font-weight="bold" fill="#000" stroke="#000">0.50</text>
<line x1="137.40" y1="376.00" x2="141.60" y2="376.00" stroke="#111" stroke-width="1"/>
<line x1="145.80" y1="376.00" x2="150.60" y2="376.00" stroke="#111" stroke-width="1"/>
<text x="157.90" y="379.69" font-size="10.3" text-anchor="start" font-weight="bold" fill="#000" stroke="#000">0.25</text>
<text x="160.90" y="193.00" font-size="13" text-anchor="start" font-weight="bold" fill="#000" stroke="#000">(D)</text>
<text x="430.80" y="193.00" font-size="13" text-anchor="start" font-weight="bold" fill="#000" stroke="#000">(E)</text>
<rect x="397.40" y="213.60" width="14.80" height="254.20" fill="#70AD47" stroke="none" stroke-width="1"/>
<rect x="316.90" y="223.00" width="36.70" height="10.60" fill="#70AD47" stroke="none" stroke-width="1"/>
<line x1="314.40" y1="228.30" x2="316.90" y2="228.30" stroke="#222" stroke-width="0.9"/>
<rect x="316.90" y="248.30" width="38.70" height="10.60" fill="#70AD47" stroke="none" stroke-width="1"/>
<line x1="314.40" y1="253.60" x2="316.90" y2="253.60" stroke="#222" stroke-width="0.9"/>
<rect x="316.90" y="273.30" width="40.40" height="10.60" fill="#70AD47" stroke="none" stroke-width="1"/>
<line x1="314.40" y1="278.60" x2="316.90" y2="278.60" stroke="#222" stroke-width="0.9"/>
<rect x="316.90" y="298.20" width="47.30" height="10.60" fill="#70AD47" stroke="none" stroke-width="1"/>
<line x1="314.40" y1="303.50" x2="316.90" y2="303.50" stroke="#222" stroke-width="0.9"/>
<rect x="316.90" y="323.10" width="50.60" height="10.60" fill="#70AD47" stroke="none" stroke-width="1"/>
<line x1="314.40" y1="328.40" x2="316.90" y2="328.40" stroke="#222" stroke-width="0.9"/>
<rect x="316.90" y="348.10" width="53.90" height="10.60" fill="#70AD47" stroke="none" stroke-width="1"/>
<line x1="314.40" y1="353.40" x2="316.90" y2="353.40" stroke="#222" stroke-width="0.9"/>
<rect x="316.90" y="373.40" width="56.70" height="10.60" fill="#70AD47" stroke="none" stroke-width="1"/>
<line x1="314.40" y1="378.70" x2="316.90" y2="378.70" stroke="#222" stroke-width="0.9"/>
<rect x="316.90" y="398.40" width="60.00" height="10.60" fill="#70AD47" stroke="none" stroke-width="1"/>
<line x1="314.40" y1="403.70" x2="316.90" y2="403.70" stroke="#222" stroke-width="0.9"/>
<rect x="316.90" y="423.30" width="71.90" height="10.60" fill="#70AD47" stroke="none" stroke-width="1"/>
<line x1="314.40" y1="428.60" x2="316.90" y2="428.60" stroke="#222" stroke-width="0.9"/>
<rect x="316.90" y="448.70" width="73.10" height="10.60" fill="#70AD47" stroke="none" stroke-width="1"/>
<line x1="314.40" y1="454.00" x2="316.90" y2="454.00" stroke="#222" stroke-width="0.9"/>
<rect x="316.90" y="213.60" width="79.60" height="254.20" fill="none" stroke="#111" stroke-width="1.1"/>
<text x="308.50" y="224.24" font-size="11" text-anchor="end" font-weight="bold" fill="#000" stroke="#000">smoothened signaling</text>
<text x="308.50" y="237.34" font-size="11" text-anchor="end" font-weight="bold" fill="#000" stroke="#000">pathway</text>
<text x="308.50" y="249.54" font-size="11" text-anchor="end" font-weight="bold" fill="#000" stroke="#000">GPI anchor biosynthetic</text>
<text x="308.50" y="262.64" font-size="11" text-anchor="end" font-weight="bold" fill="#000" stroke="#000">process</text>
<text x="308.50" y="282.24" font-size="11" text-anchor="end" font-weight="bold" fill="#000" stroke="#000">protein phosphorylation</text>
<text x="308.50" y="299.44" font-size="11" text-anchor="end" font-weight="bold" fill="#000" stroke="#000">non−motile cilium</text>
<text x="308.50" y="312.54" font-size="11" text-anchor="end" font-weight="bold" fill="#000" stroke="#000">assembly</text>
<text x="308.50" y="332.04" font-size="11" text-anchor="end" font-weight="bold" fill="#000" stroke="#000">phosphorylation</text>
<text x="308.50" y="357.04" font-size="11" text-anchor="end" font-weight="bold" fill="#000" stroke="#000">protein transport</text>
<text x="308.50" y="374.64" font-size="11" text-anchor="end" font-weight="bold" fill="#000" stroke="#000">cell projection</text>
<text x="308.50" y="387.74" font-size="11" text-anchor="end" font-weight="bold" fill="#000" stroke="#000">organization</text>
<text x="308.50" y="407.34" font-size="11" text-anchor="end" font-weight="bold" fill="#000" stroke="#000">fatty acid beta−oxidation</text>
<text x="308.50" y="432.24" font-size="11" text-anchor="end" font-weight="bold" fill="#000" stroke="#000">cilium assembly</text>
<text x="308.50" y="449.94" font-size="11" text-anchor="end" font-weight="bold" fill="#000" stroke="#000">regulation of transcription</text>
<text x="308.50" y="463.04" font-size="11" text-anchor="end" font-weight="bold" fill="#000" stroke="#000">by RNA polymerase II</text>
<rect x="188.00" y="213.80" width="123.10" height="26.70" fill="none" stroke="#B5343B" stroke-width="1.2"/>
<text x="358.10" y="204.54" font-size="11" text-anchor="middle" font-weight="bold" fill="#000" stroke="#000">B−vs−A (Down)</text>
<line x1="316.90" y1="467.80" x2="316.90" y2="470.80" stroke="#222" stroke-width="0.9"/>
<text x="316.90" y="483.87" font-size="10.8" text-anchor="middle" font-weight="bold" fill="#000" stroke="#000">0</text>
<line x1="350.30" y1="467.80" x2="350.30" y2="470.80" stroke="#222" stroke-width="0.9"/>
<text x="350.30" y="483.87" font-size="10.8" text-anchor="middle" font-weight="bold" fill="#000" stroke="#000">5</text>
<line x1="383.90" y1="467.80" x2="383.90" y2="470.80" stroke="#222" stroke-width="0.9"/>
<text x="383.90" y="483.87" font-size="10.8" text-anchor="middle" font-weight="bold" fill="#000" stroke="#000">10</text>
<text x="354.40" y="500.50" font-size="11.1" text-anchor="middle" font-weight="bold" fill="#000" stroke="#000">−log<tspan font-size="7" dy="2">10</tspan><tspan dy="-2"> </tspan><tspan font-style="italic">p</tspan>−value</text>
<text x="401.20" y="342.20" font-size="10.7" text-anchor="middle" font-weight="bold" fill="#000" stroke="#000" transform="rotate(90 401.20 342.20)">GO BP</text>
<rect x="663.40" y="214.40" width="14.70" height="254.30" fill="#70AD47" stroke="none" stroke-width="1"/>
<rect x="580.80" y="223.80" width="28.60" height="10.60" fill="#70AD47" stroke="none" stroke-width="1"/>
<line x1="578.30" y1="229.10" x2="580.80" y2="229.10" stroke="#222" stroke-width="0.9"/>
<rect x="580.80" y="249.10" width="28.60" height="10.60" fill="#70AD47" stroke="none" stroke-width="1"/>
<line x1="578.30" y1="254.40" x2="580.80" y2="254.40" stroke="#222" stroke-width="0.9"/>
<rect x="580.80" y="273.70" width="29.80" height="10.60" fill="#70AD47" stroke="none" stroke-width="1"/>
<line x1="578.30" y1="279.00" x2="580.80" y2="279.00" stroke="#222" stroke-width="0.9"/>
<rect x="580.80" y="299.00" width="31.10" height="10.60" fill="#70AD47" stroke="none" stroke-width="1"/>
<line x1="578.30" y1="304.30" x2="580.80" y2="304.30" stroke="#222" stroke-width="0.9"/>
<rect x="580.80" y="324.00" width="34.70" height="10.60" fill="#70AD47" stroke="none" stroke-width="1"/>
<line x1="578.30" y1="329.30" x2="580.80" y2="329.30" stroke="#222" stroke-width="0.9"/>
<rect x="580.80" y="348.90" width="36.00" height="10.60" fill="#70AD47" stroke="none" stroke-width="1"/>
<line x1="578.30" y1="354.20" x2="580.80" y2="354.20" stroke="#222" stroke-width="0.9"/>
<rect x="580.80" y="374.20" width="38.00" height="10.60" fill="#70AD47" stroke="none" stroke-width="1"/>
<line x1="578.30" y1="379.50" x2="580.80" y2="379.50" stroke="#222" stroke-width="0.9"/>
<rect x="580.80" y="399.20" width="45.80" height="10.60" fill="#70AD47" stroke="none" stroke-width="1"/>
<line x1="578.30" y1="404.50" x2="580.80" y2="404.50" stroke="#222" stroke-width="0.9"/>
<rect x="580.80" y="424.10" width="54.80" height="10.60" fill="#70AD47" stroke="none" stroke-width="1"/>
<line x1="578.30" y1="429.40" x2="580.80" y2="429.40" stroke="#222" stroke-width="0.9"/>
<rect x="580.80" y="449.10" width="66.60" height="10.60" fill="#70AD47" stroke="none" stroke-width="1"/>
<line x1="578.30" y1="454.40" x2="580.80" y2="454.40" stroke="#222" stroke-width="0.9"/>
<rect x="580.80" y="214.40" width="80.50" height="254.30" fill="none" stroke="#111" stroke-width="1.1"/>
<text x="574.70" y="232.74" font-size="11" text-anchor="end" font-weight="bold" fill="#000" stroke="#000">cell cycle</text>
<text x="574.70" y="251.34" font-size="11" text-anchor="end" font-weight="bold" fill="#000" stroke="#000">mitochondrial respiratory</text>
<text x="574.70" y="264.44" font-size="11" text-anchor="end" font-weight="bold" fill="#000" stroke="#000">chain complexI assembly</text>
<text x="574.70" y="282.64" font-size="11" text-anchor="end" font-weight="bold" fill="#000" stroke="#000">aerobic respiration</text>
<text x="574.70" y="301.24" font-size="11" text-anchor="end" font-weight="bold" fill="#000" stroke="#000">mitotic spindle assembly</text>
<text x="574.70" y="314.34" font-size="11" text-anchor="end" font-weight="bold" fill="#000" stroke="#000">checkpoint signaling</text>
<text x="574.70" y="326.24" font-size="11" text-anchor="end" font-weight="bold" fill="#000" stroke="#000">proton motive force−driven</text>
<text x="574.70" y="339.34" font-size="11" text-anchor="end" font-weight="bold" fill="#000" stroke="#000">mitochondrial ATP synthesis</text>
<text x="574.70" y="351.14" font-size="11" text-anchor="end" font-weight="bold" fill="#000" stroke="#000">microtubule−based</text>
<text x="574.70" y="364.24" font-size="11" text-anchor="end" font-weight="bold" fill="#000" stroke="#000">movement</text>
<text x="574.70" y="383.14" font-size="11" text-anchor="end" font-weight="bold" fill="#000" stroke="#000">DNA replication</text>
<text x="574.70" y="408.14" font-size="11" text-anchor="end" font-weight="bold" fill="#000" stroke="#000">chromosome segregation</text>
<text x="574.70" y="433.04" font-size="11" text-anchor="end" font-weight="bold" fill="#000" stroke="#000">DNA damage response</text>
<text x="574.70" y="458.04" font-size="11" text-anchor="end" font-weight="bold" fill="#000" stroke="#000">DNA repair</text>
<rect x="523.20" y="222.10" width="53.90" height="13.90" fill="none" stroke="#B5343B" stroke-width="1.2"/>
<rect x="437.70" y="240.50" width="139.40" height="27.80" fill="none" stroke="#B5343B" stroke-width="1.2"/>
<rect x="472.50" y="271.60" width="104.60" height="13.90" fill="none" stroke="#B5343B" stroke-width="1.2"/>
<rect x="422.20" y="315.40" width="154.90" height="25.30" fill="none" stroke="#B5343B" stroke-width="1.2"/>
<text x="623.30" y="205.34" font-size="11" text-anchor="middle" font-weight="bold" fill="#000" stroke="#000">C−vs−B (Down)</text>
<line x1="580.80" y1="468.70" x2="580.80" y2="471.70" stroke="#222" stroke-width="0.9"/>
<text x="580.80" y="484.77" font-size="10.8" text-anchor="middle" font-weight="bold" fill="#000" stroke="#000">0</text>
<line x1="611.50" y1="468.70" x2="611.50" y2="471.70" stroke="#222" stroke-width="0.9"/>
<text x="611.50" y="484.77" font-size="10.8" text-anchor="middle" font-weight="bold" fill="#000" stroke="#000">5</text>
<line x1="641.30" y1="468.70" x2="641.30" y2="471.70" stroke="#222" stroke-width="0.9"/>
<text x="641.30" y="484.77" font-size="10.8" text-anchor="middle" font-weight="bold" fill="#000" stroke="#000">10</text>
<line x1="657.30" y1="468.70" x2="657.30" y2="471.70" stroke="#222" stroke-width="0.9"/>
<text x="657.30" y="484.77" font-size="10.8" text-anchor="middle" font-weight="bold" fill="#000" stroke="#000">12.5</text>
<text x="620.00" y="501.40" font-size="11.1" text-anchor="middle" font-weight="bold" fill="#000" stroke="#000">−log<tspan font-size="7" dy="2">10</tspan><tspan dy="-2"> </tspan><tspan font-style="italic">p</tspan>−value</text>
<text x="667.15" y="343.05" font-size="10.7" text-anchor="middle" font-weight="bold" fill="#000" stroke="#000" transform="rotate(90 667.15 343.05)">GO BP</text>
<text x="1.30" y="534.40" font-size="13" text-anchor="start" font-weight="bold" fill="#000" stroke="#000">(F)</text>
<text x="1.30" y="711.00" font-size="13" text-anchor="start" font-weight="bold" fill="#000" stroke="#000">(H)</text>
<line x1="46.40" y1="592.80" x2="46.40" y2="675.30" stroke="#000" stroke-width="2.0"/>
<line x1="45.40" y1="674.30" x2="247.30" y2="674.30" stroke="#000" stroke-width="2.0"/>
<line x1="38.50" y1="674.30" x2="46.40" y2="674.30" stroke="#000" stroke-width="2.0"/>
<text x="35.20" y="678.06" font-size="10.5" text-anchor="end" font-weight="bold" fill="#000" stroke="#000">0.0</text>
<line x1="38.50" y1="654.20" x2="46.40" y2="654.20" stroke="#000" stroke-width="2.0"/>
<text x="35.20" y="657.96" font-size="10.5" text-anchor="end" font-weight="bold" fill="#000" stroke="#000">0.5</text>
<line x1="38.50" y1="634.10" x2="46.40" y2="634.10" stroke="#000" stroke-width="2.0"/>
<text x="35.20" y="637.86" font-size="10.5" text-anchor="end" font-weight="bold" fill="#000" stroke="#000">1.0</text>
<line x1="38.50" y1="614.00" x2="46.40" y2="614.00" stroke="#000" stroke-width="2.0"/>
<text x="35.20" y="617.76" font-size="10.5" text-anchor="end" font-weight="bold" fill="#000" stroke="#000">1.5</text>
<line x1="38.50" y1="593.90" x2="46.40" y2="593.90" stroke="#000" stroke-width="2.0"/>
<text x="35.20" y="597.66" font-size="10.5" text-anchor="end" font-weight="bold" fill="#000" stroke="#000">2.0</text>
<line x1="56.10" y1="674.30" x2="56.10" y2="682.30" stroke="#000" stroke-width="2.0"/>
<text x="56.10" y="696.22" font-size="10.4" text-anchor="middle" font-weight="bold" fill="#000" stroke="#000">0.0</text>
<line x1="75.10" y1="674.30" x2="75.10" y2="682.30" stroke="#000" stroke-width="2.0"/>
<text x="75.10" y="696.22" font-size="10.4" text-anchor="middle" font-weight="bold" fill="#000" stroke="#000">0.5</text>
<line x1="94.10" y1="674.30" x2="94.10" y2="682.30" stroke="#000" stroke-width="2.0"/>
<text x="94.10" y="696.22" font-size="10.4" text-anchor="middle" font-weight="bold" fill="#000" stroke="#000">1.0</text>
<line x1="113.10" y1="674.30" x2="113.10" y2="682.30" stroke="#000" stroke-width="2.0"/>
<text x="113.10" y="696.22" font-size="10.4" text-anchor="middle" font-weight="bold" fill="#000" stroke="#000">1.5</text>
<line x1="132.10" y1="674.30" x2="132.10" y2="682.30" stroke="#000" stroke-width="2.0"/>
<text x="132.10" y="696.22" font-size="10.4" text-anchor="middle" font-weight="bold" fill="#000" stroke="#000">2.0</text>
<line x1="151.10" y1="674.30" x2="151.10" y2="682.30" stroke="#000" stroke-width="2.0"/>
<text x="151.10" y="696.22" font-size="10.4" text-anchor="middle" font-weight="bold" fill="#000" stroke="#000">2.5</text>
<line x1="170.10" y1="674.30" x2="170.10" y2="682.30" stroke="#000" stroke-width="2.0"/>
<text x="170.10" y="696.22" font-size="10.4" text-anchor="middle" font-weight="bold" fill="#000" stroke="#000">3.0</text>
<line x1="189.10" y1="674.30" x2="189.10" y2="682.30" stroke="#000" stroke-width="2.0"/>
<text x="189.10" y="696.22" font-size="10.4" text-anchor="middle" font-weight="bold" fill="#000" stroke="#000">3.5</text>
<line x1="208.10" y1="674.30" x2="208.10" y2="682.30" stroke="#000" stroke-width="2.0"/>
<text x="208.10" y="696.22" font-size="10.4" text-anchor="middle" font-weight="bold" fill="#000" stroke="#000">4.0</text>
<line x1="227.10" y1="674.30" x2="227.10" y2="682.30" stroke="#000" stroke-width="2.0"/>
<text x="227.10" y="696.22" font-size="10.4" text-anchor="middle" font-weight="bold" fill="#000" stroke="#000">4.5</text>
<line x1="246.10" y1="674.30" x2="246.10" y2="682.30" stroke="#000" stroke-width="2.0"/>
<text x="246.10" y="696.22" font-size="10.4" text-anchor="middle" font-weight="bold" fill="#000" stroke="#000">5.0</text>
<text x="270.30" y="681.57" font-size="10.8" text-anchor="middle" font-weight="bold" fill="#000" stroke="#000">SAG</text>
<text x="270.30" y="695.77" font-size="10.8" text-anchor="middle" font-weight="bold" fill="#000" stroke="#000">(µM)</text>
<text x="13.00" y="635.00" font-size="10.8" text-anchor="middle" font-weight="bold" fill="#000" stroke="#000" transform="rotate(-90 13.00 635.00)">Fold viability</text>
<polyline points="56.10,632.49 75.10,624.45 94.10,619.63 113.10,614.00 132.10,606.36 151.10,601.94 170.10,609.18 189.10,613.60 208.10,623.25 227.10,629.68" fill="none" stroke="#000" stroke-width="1.1"/>
<line x1="56.10" y1="627.67" x2="56.10" y2="637.32" stroke="#000" stroke-width="0.9"/>
<line x1="53.50" y1="627.67" x2="58.70" y2="627.67" stroke="#000" stroke-width="0.9"/>
<line x1="53.50" y1="637.32" x2="58.70" y2="637.32" stroke="#000" stroke-width="0.9"/>
<line x1="75.10" y1="622.84" x2="75.10" y2="626.06" stroke="#000" stroke-width="0.9"/>
<line x1="72.50" y1="622.84" x2="77.70" y2="622.84" stroke="#000" stroke-width="0.9"/>
<line x1="72.50" y1="626.06" x2="77.70" y2="626.06" stroke="#000" stroke-width="0.9"/>
<line x1="94.10" y1="614.80" x2="94.10" y2="624.45" stroke="#000" stroke-width="0.9"/>
<line x1="91.50" y1="614.80" x2="96.70" y2="614.80" stroke="#000" stroke-width="0.9"/>
<line x1="91.50" y1="624.45" x2="96.70" y2="624.45" stroke="#000" stroke-width="0.9"/>
<line x1="113.10" y1="608.77" x2="113.10" y2="619.23" stroke="#000" stroke-width="0.9"/>
<line x1="110.50" y1="608.77" x2="115.70" y2="608.77" stroke="#000" stroke-width="0.9"/>
<line x1="110.50" y1="619.23" x2="115.70" y2="619.23" stroke="#000" stroke-width="0.9"/>
<line x1="132.10" y1="603.55" x2="132.10" y2="609.18" stroke="#000" stroke-width="0.9"/>
<line x1="129.50" y1="603.55" x2="134.70" y2="603.55" stroke="#000" stroke-width="0.9"/>
<line x1="129.50" y1="609.18" x2="134.70" y2="609.18" stroke="#000" stroke-width="0.9"/>
<line x1="151.10" y1="597.52" x2="151.10" y2="606.36" stroke="#000" stroke-width="0.9"/>
<line x1="148.50" y1="597.52" x2="153.70" y2="597.52" stroke="#000" stroke-width="0.9"/>
<line x1="148.50" y1="606.36" x2="153.70" y2="606.36" stroke="#000" stroke-width="0.9"/>
<line x1="170.10" y1="605.16" x2="170.10" y2="613.20" stroke="#000" stroke-width="0.9"/>
<line x1="167.50" y1="605.16" x2="172.70" y2="605.16" stroke="#000" stroke-width="0.9"/>
<line x1="167.50" y1="613.20" x2="172.70" y2="613.20" stroke="#000" stroke-width="0.9"/>
<line x1="189.10" y1="609.18" x2="189.10" y2="618.02" stroke="#000" stroke-width="0.9"/>
<line x1="186.50" y1="609.18" x2="191.70" y2="609.18" stroke="#000" stroke-width="0.9"/>
<line x1="186.50" y1="618.02" x2="191.70" y2="618.02" stroke="#000" stroke-width="0.9"/>
<line x1="208.10" y1="618.02" x2="208.10" y2="628.47" stroke="#000" stroke-width="0.9"/>
<line x1="205.50" y1="618.02" x2="210.70" y2="618.02" stroke="#000" stroke-width="0.9"/>
<line x1="205.50" y1="628.47" x2="210.70" y2="628.47" stroke="#000" stroke-width="0.9"/>
<circle cx="56.10" cy="632.49" r="3.1" fill="#000" stroke="none" stroke-width="1"/>
<circle cx="75.10" cy="624.45" r="3.1" fill="#000" stroke="none" stroke-width="1"/>
<circle cx="94.10" cy="619.63" r="3.1" fill="#000" stroke="none" stroke-width="1"/>
<circle cx="113.10" cy="614.00" r="3.1" fill="#000" stroke="none" stroke-width="1"/>
<circle cx="132.10" cy="606.36" r="3.1" fill="#000" stroke="none" stroke-width="1"/>
<circle cx="151.10" cy="601.94" r="3.1" fill="#000" stroke="none" stroke-width="1"/>
<circle cx="170.10" cy="609.18" r="3.1" fill="#000" stroke="none" stroke-width="1"/>
<circle cx="189.10" cy="613.60" r="3.1" fill="#000" stroke="none" stroke-width="1"/>
<circle cx="208.10" cy="623.25" r="3.1" fill="#000" stroke="none" stroke-width="1"/>
<circle cx="227.10" cy="629.68" r="3.1" fill="#000" stroke="none" stroke-width="1"/>
<polyline points="56.10,669.88 75.10,665.86 94.10,661.03 113.10,659.02 132.10,653.40 151.10,652.19 170.10,658.22 189.10,665.46 208.10,668.67 227.10,671.49" fill="none" stroke="#000" stroke-width="1.1"/>
<line x1="94.10" y1="659.43" x2="94.10" y2="662.64" stroke="#000" stroke-width="0.9"/>
<line x1="91.50" y1="659.43" x2="96.70" y2="659.43" stroke="#000" stroke-width="0.9"/>
<line x1="91.50" y1="662.64" x2="96.70" y2="662.64" stroke="#000" stroke-width="0.9"/>
<line x1="170.10" y1="656.61" x2="170.10" y2="659.83" stroke="#000" stroke-width="0.9"/>
<line x1="167.50" y1="656.61" x2="172.70" y2="656.61" stroke="#000" stroke-width="0.9"/>
<line x1="167.50" y1="659.83" x2="172.70" y2="659.83" stroke="#000" stroke-width="0.9"/>
<line x1="189.10" y1="663.85" x2="189.10" y2="667.06" stroke="#000" stroke-width="0.9"/>
<line x1="186.50" y1="663.85" x2="191.70" y2="663.85" stroke="#000" stroke-width="0.9"/>
<line x1="186.50" y1="667.06" x2="191.70" y2="667.06" stroke="#000" stroke-width="0.9"/>
<rect x="53.20" y="666.98" width="5.80" height="5.80" fill="#000" stroke="none" stroke-width="1"/>
<rect x="72.20" y="662.96" width="5.80" height="5.80" fill="#000" stroke="none" stroke-width="1"/>
<rect x="91.20" y="658.13" width="5.80" height="5.80" fill="#000" stroke="none" stroke-width="1"/>
<rect x="110.20" y="656.12" width="5.80" height="5.80" fill="#000" stroke="none" stroke-width="1"/>
<rect x="129.20" y="650.50" width="5.80" height="5.80" fill="#000" stroke="none" stroke-width="1"/>
<rect x="148.20" y="649.29" width="5.80" height="5.80" fill="#000" stroke="none" stroke-width="1"/>
<rect x="167.20" y="655.32" width="5.80" height="5.80" fill="#000" stroke="none" stroke-width="1"/>
<rect x="186.20" y="662.56" width="5.80" height="5.80" fill="#000" stroke="none" stroke-width="1"/>
<rect x="205.20" y="665.77" width="5.80" height="5.80" fill="#000" stroke="none" stroke-width="1"/>
<rect x="224.20" y="668.59" width="5.80" height="5.80" fill="#000" stroke="none" stroke-width="1"/>
<polyline points="56.10,672.29 75.10,668.27 94.10,665.46 113.10,665.46 132.10,664.65 151.10,663.85 170.10,665.46 189.10,668.27 208.10,672.29 227.10,672.69" fill="none" stroke="#000" stroke-width="1.1"/>
<polygon points="56.10,668.89 52.80,674.69 59.40,674.69" fill="#000"/>
<polygon points="75.10,664.87 71.80,670.67 78.40,670.67" fill="#000"/>
<polygon points="94.10,662.06 90.80,667.86 97.40,667.86" fill="#000"/>
<polygon points="113.10,662.06 109.80,667.86 116.40,667.86" fill="#000"/>
<polygon points="132.10,661.25 128.80,667.05 135.40,667.05" fill="#000"/>
<polygon points="151.10,660.45 147.80,666.25 154.40,666.25" fill="#000"/>
<polygon points="170.10,662.06 166.80,667.86 173.40,667.86" fill="#000"/>
<polygon points="189.10,664.87 185.80,670.67 192.40,670.67" fill="#000"/>
<polygon points="208.10,668.89 204.80,674.69 211.40,674.69" fill="#000"/>
<polygon points="227.10,669.29 223.80,675.09 230.40,675.09" fill="#000"/>
<polyline points="56.10,648.00 56.10,640.50 151.20,640.50 151.20,648.00" fill="none" stroke="#000" stroke-width="1"/>
<text x="79.40" y="636.80" font-size="10.7" text-anchor="start" font-weight="bold" fill="#000" stroke="#000">&lt; 0.0001<tspan font-size="5.6" dx="1" dy="-3.6">c</tspan></text>
<text x="83.40" y="652.10" font-size="10.7" text-anchor="start" font-weight="bold" fill="#000" stroke="#000">0.0025<tspan font-size="5.6" dx="1" dy="-3.6">d</tspan></text>
<line x1="88.10" y1="540.90" x2="103.90" y2="540.90" stroke="#000" stroke-width="1.1"/>
<circle cx="95.70" cy="540.90" r="3.8" fill="#000" stroke="none" stroke-width="1"/>
<text x="109.80" y="545.00" font-size="10.9" text-anchor="start" font-weight="bold" fill="#000" stroke="#000">SAG</text>
<line x1="88.10" y1="557.10" x2="103.90" y2="557.10" stroke="#000" stroke-width="1.1"/>
<rect x="92.20" y="553.60" width="7.00" height="7.00" fill="#000" stroke="none" stroke-width="1"/>
<text x="109.80" y="561.20" font-size="10.9" text-anchor="start" font-weight="bold" fill="#000" stroke="#000">SAG + Cu150/ES40</text>
<line x1="88.10" y1="573.30" x2="103.90" y2="573.30" stroke="#000" stroke-width="1.1"/>
<polygon points="95.70,569.40 92.00,576.10 99.40,576.10" fill="#000"/>
<text x="109.80" y="577.40" font-size="10.9" text-anchor="start" font-weight="bold" fill="#000" stroke="#000">SAG + Cu300/ES40</text>
<text x="283.50" y="532.30" font-size="13" text-anchor="start" font-weight="bold" fill="#000" stroke="#000">(G)</text>
<rect x="350.60" y="605.20" width="12.10" height="70.10" fill="#6A9FD9" stroke="#1c1c1c" stroke-width="1.0"/>
<rect x="366.40" y="613.40" width="11.20" height="61.90" fill="url(#ora)" stroke="#1c1c1c" stroke-width="1.0"/>
<rect x="388.20" y="648.40" width="11.20" height="26.90" fill="#6A9FD9" stroke="#1c1c1c" stroke-width="1.0"/>
<rect x="403.60" y="633.80" width="11.80" height="41.50" fill="url(#ora)" stroke="#1c1c1c" stroke-width="1.0"/>
<line x1="356.53" y1="593.83" x2="356.53" y2="615.73" stroke="#1c1c1c" stroke-width="0.9"/>
<line x1="353.13" y1="593.83" x2="359.93" y2="593.83" stroke="#1c1c1c" stroke-width="0.9"/>
<line x1="353.13" y1="615.73" x2="359.93" y2="615.73" stroke="#1c1c1c" stroke-width="0.9"/>
<line x1="372.01" y1="611.06" x2="372.01" y2="614.56" stroke="#1c1c1c" stroke-width="0.9"/>
<line x1="368.61" y1="611.06" x2="375.41" y2="611.06" stroke="#1c1c1c" stroke-width="0.9"/>
<line x1="368.61" y1="614.56" x2="375.41" y2="614.56" stroke="#1c1c1c" stroke-width="0.9"/>
<line x1="393.61" y1="643.47" x2="393.61" y2="649.89" stroke="#1c1c1c" stroke-width="0.9"/>
<line x1="390.21" y1="643.47" x2="397.01" y2="643.47" stroke="#1c1c1c" stroke-width="0.9"/>
<line x1="390.21" y1="649.89" x2="397.01" y2="649.89" stroke="#1c1c1c" stroke-width="0.9"/>
<line x1="409.67" y1="629.74" x2="409.67" y2="637.63" stroke="#1c1c1c" stroke-width="0.9"/>
<line x1="406.27" y1="629.74" x2="413.07" y2="629.74" stroke="#1c1c1c" stroke-width="0.9"/>
<line x1="406.27" y1="637.63" x2="413.07" y2="637.63" stroke="#1c1c1c" stroke-width="0.9"/>
<circle cx="356.53" cy="593.83" r="2.2" fill="#6A9FD9" stroke="#16324f" stroke-width="0.9"/>
<circle cx="354.20" cy="610.47" r="2.2" fill="#6A9FD9" stroke="#16324f" stroke-width="0.9"/>
<circle cx="360.33" cy="609.31" r="2.2" fill="#6A9FD9" stroke="#16324f" stroke-width="0.9"/>
<circle cx="368.21" cy="614.56" r="2.2" fill="#F4B872" stroke="#3a2a10" stroke-width="0.9"/>
<circle cx="372.01" cy="611.64" r="2.2" fill="#F4B872" stroke="#3a2a10" stroke-width="0.9"/>
<circle cx="375.80" cy="612.23" r="2.2" fill="#F4B872" stroke="#3a2a10" stroke-width="0.9"/>
<circle cx="389.23" cy="643.76" r="2.2" fill="#6A9FD9" stroke="#16324f" stroke-width="0.9"/>
<circle cx="393.61" cy="648.14" r="2.2" fill="#6A9FD9" stroke="#16324f" stroke-width="0.9"/>
<circle cx="397.70" cy="646.97" r="2.2" fill="#6A9FD9" stroke="#16324f" stroke-width="0.9"/>
<circle cx="405.58" cy="632.37" r="2.2" fill="#F4B872" stroke="#3a2a10" stroke-width="0.9"/>
<circle cx="409.67" cy="639.09" r="2.2" fill="#F4B872" stroke="#3a2a10" stroke-width="0.9"/>
<circle cx="413.47" cy="632.37" r="2.2" fill="#F4B872" stroke="#3a2a10" stroke-width="0.9"/>
<line x1="344.30" y1="570.00" x2="344.30" y2="675.80" stroke="#000" stroke-width="1.1"/>
<line x1="343.80" y1="675.30" x2="422.80" y2="675.30" stroke="#000" stroke-width="1.1"/>
<line x1="336.70" y1="675.30" x2="344.30" y2="675.30" stroke="#000" stroke-width="1.1"/>
<text x="334.30" y="679.02" font-size="10.4" text-anchor="end" font-weight="bold" fill="#000" stroke="#000">0.0</text>
<line x1="336.70" y1="640.37" x2="344.30" y2="640.37" stroke="#000" stroke-width="1.1"/>
<text x="334.30" y="644.09" font-size="10.4" text-anchor="end" font-weight="bold" fill="#000" stroke="#000">0.5</text>
<line x1="336.70" y1="605.43" x2="344.30" y2="605.43" stroke="#000" stroke-width="1.1"/>
<text x="334.30" y="609.16" font-size="10.4" text-anchor="end" font-weight="bold" fill="#000" stroke="#000">1.0</text>
<line x1="336.70" y1="570.50" x2="344.30" y2="570.50" stroke="#000" stroke-width="1.1"/>
<text x="334.30" y="574.22" font-size="10.4" text-anchor="end" font-weight="bold" fill="#000" stroke="#000">1.5</text>
<line x1="363.30" y1="675.30" x2="363.30" y2="682.30" stroke="#000" stroke-width="1.1"/>
<line x1="401.30" y1="675.30" x2="401.30" y2="682.30" stroke="#000" stroke-width="1.1"/>
<text x="363.50" y="695.86" font-size="10.5" text-anchor="middle" font-weight="bold" fill="#000" stroke="#000">control</text>
<text x="401.80" y="695.86" font-size="10.5" text-anchor="middle" font-weight="bold" fill="#000" stroke="#000">Cu-ES</text>
<text x="311.50" y="624.80" font-size="10.9" text-anchor="middle" font-weight="bold" fill="#000" stroke="#000" transform="rotate(-90 311.50 624.80)">Rel. SMO mRNA levels</text>
<polyline points="355.90,586.00 355.90,575.40 393.50,575.40 393.50,605.60" fill="none" stroke="#111" stroke-width="1.0"/>
<text x="374.60" y="571.00" font-size="9.5" text-anchor="middle" font-weight="normal" fill="#000" stroke="#000" style="stroke-width:0.5px">&lt; 0.0001</text>
<polyline points="393.50,639.20 393.50,620.60 409.30,620.60 409.30,625.60" fill="none" stroke="#111" stroke-width="1.0"/>
<text x="401.20" y="616.30" font-size="9.5" text-anchor="middle" font-weight="normal" fill="#000" stroke="#000" style="stroke-width:0.5px">0.0293</text>
<rect x="474.30" y="658.20" width="11.50" height="17.10" fill="#6A9FD9" stroke="#1c1c1c" stroke-width="1.0"/>
<rect x="490.00" y="597.80" width="11.60" height="77.50" fill="url(#ora)" stroke="#1c1c1c" stroke-width="1.0"/>
<rect x="511.50" y="673.50" width="11.70" height="1.80" fill="#6A9FD9" stroke="#1c1c1c" stroke-width="1.0"/>
<rect x="527.50" y="614.50" width="11.70" height="60.80" fill="url(#ora)" stroke="#1c1c1c" stroke-width="1.0"/>
<line x1="495.90" y1="585.50" x2="495.90" y2="611.20" stroke="#1c1c1c" stroke-width="0.9"/>
<line x1="492.50" y1="585.50" x2="499.30" y2="585.50" stroke="#1c1c1c" stroke-width="0.9"/>
<line x1="492.50" y1="611.20" x2="499.30" y2="611.20" stroke="#1c1c1c" stroke-width="0.9"/>
<line x1="533.40" y1="602.30" x2="533.40" y2="627.30" stroke="#1c1c1c" stroke-width="0.9"/>
<line x1="530.00" y1="602.30" x2="536.80" y2="602.30" stroke="#1c1c1c" stroke-width="0.9"/>
<line x1="530.00" y1="627.30" x2="536.80" y2="627.30" stroke="#1c1c1c" stroke-width="0.9"/>
<circle cx="476.99" cy="658.45" r="2.2" fill="#6A9FD9" stroke="#16324f" stroke-width="0.9"/>
<circle cx="480.41" cy="657.31" r="2.2" fill="#6A9FD9" stroke="#16324f" stroke-width="0.9"/>
<circle cx="483.82" cy="658.45" r="2.2" fill="#6A9FD9" stroke="#16324f" stroke-width="0.9"/>
<circle cx="495.90" cy="588.40" r="2.2" fill="#F4B872" stroke="#3a2a10" stroke-width="0.9"/>
<circle cx="495.90" cy="593.30" r="2.2" fill="#F4B872" stroke="#3a2a10" stroke-width="0.9"/>
<circle cx="495.90" cy="610.60" r="2.2" fill="#F4B872" stroke="#3a2a10" stroke-width="0.9"/>
<circle cx="513.40" cy="673.90" r="2.2" fill="#6A9FD9" stroke="#16324f" stroke-width="0.9"/>
<circle cx="517.60" cy="673.30" r="2.2" fill="#6A9FD9" stroke="#16324f" stroke-width="0.9"/>
<circle cx="521.90" cy="673.60" r="2.2" fill="#6A9FD9" stroke="#16324f" stroke-width="0.9"/>
<circle cx="533.40" cy="605.10" r="2.2" fill="#F4B872" stroke="#3a2a10" stroke-width="0.9"/>
<circle cx="533.40" cy="608.90" r="2.2" fill="#F4B872" stroke="#3a2a10" stroke-width="0.9"/>
<circle cx="533.40" cy="626.40" r="2.2" fill="#F4B872" stroke="#3a2a10" stroke-width="0.9"/>
<line x1="467.90" y1="570.30" x2="467.90" y2="675.80" stroke="#000" stroke-width="1.1"/>
<line x1="467.40" y1="675.30" x2="545.70" y2="675.30" stroke="#000" stroke-width="1.1"/>
<line x1="460.30" y1="675.30" x2="467.90" y2="675.30" stroke="#000" stroke-width="1.1"/>
<text x="457.90" y="679.02" font-size="10.4" text-anchor="end" font-weight="bold" fill="#000" stroke="#000">0</text>
<line x1="460.30" y1="640.47" x2="467.90" y2="640.47" stroke="#000" stroke-width="1.1"/>
<text x="457.90" y="644.19" font-size="10.4" text-anchor="end" font-weight="bold" fill="#000" stroke="#000">2</text>
<line x1="460.30" y1="605.63" x2="467.90" y2="605.63" stroke="#000" stroke-width="1.1"/>
<text x="457.90" y="609.36" font-size="10.4" text-anchor="end" font-weight="bold" fill="#000" stroke="#000">4</text>
<line x1="460.30" y1="570.80" x2="467.90" y2="570.80" stroke="#000" stroke-width="1.1"/>
<text x="457.90" y="574.52" font-size="10.4" text-anchor="end" font-weight="bold" fill="#000" stroke="#000">6</text>
<line x1="488.00" y1="675.30" x2="488.00" y2="682.30" stroke="#000" stroke-width="1.1"/>
<line x1="525.60" y1="675.30" x2="525.60" y2="682.30" stroke="#000" stroke-width="1.1"/>
<text x="487.40" y="695.86" font-size="10.5" text-anchor="middle" font-weight="bold" fill="#000" stroke="#000">control</text>
<text x="525.00" y="695.86" font-size="10.5" text-anchor="middle" font-weight="bold" fill="#000" stroke="#000">Cu-ES</text>
<text x="443.90" y="623.50" font-size="10.9" text-anchor="middle" font-weight="bold" fill="#000" stroke="#000" transform="rotate(-90 443.90 623.50)">Rel. GLI1 mRNA levels</text>
<polyline points="480.30,563.70 480.30,555.20 517.90,555.20 517.90,578.00" fill="none" stroke="#111" stroke-width="1.0"/>
<text x="499.20" y="551.60" font-size="9.5" text-anchor="middle" font-weight="normal" fill="#000" stroke="#000" style="stroke-width:0.5px">0.0486</text>
<polyline points="480.30,655.80 480.30,576.40 495.90,576.40 495.90,583.70" fill="none" stroke="#111" stroke-width="1.0"/>
<text x="488.80" y="572.90" font-size="9.5" text-anchor="middle" font-weight="normal" fill="#000" stroke="#000" style="stroke-width:0.5px">&lt; 0.0001</text>
<polyline points="517.90,670.00 517.90,592.60 533.40,592.60 533.40,599.80" fill="none" stroke="#111" stroke-width="1.0"/>
<text x="526.30" y="588.60" font-size="9.5" text-anchor="middle" font-weight="normal" fill="#000" stroke="#000" style="stroke-width:0.5px">&lt; 0.0001</text>
<rect x="607.40" y="604.20" width="12.40" height="71.10" fill="#6A9FD9" stroke="#1c1c1c" stroke-width="1.0"/>
<rect x="623.30" y="648.20" width="12.10" height="27.10" fill="url(#ora)" stroke="#1c1c1c" stroke-width="1.0"/>
<rect x="645.40" y="654.60" width="11.70" height="20.70" fill="#6A9FD9" stroke="#1c1c1c" stroke-width="1.0"/>
<rect x="660.70" y="623.40" width="12.10" height="51.90" fill="url(#ora)" stroke="#1c1c1c" stroke-width="1.0"/>
<line x1="613.40" y1="586.00" x2="613.40" y2="624.30" stroke="#1c1c1c" stroke-width="0.9"/>
<line x1="610.00" y1="586.00" x2="616.80" y2="586.00" stroke="#1c1c1c" stroke-width="0.9"/>
<line x1="610.00" y1="624.30" x2="616.80" y2="624.30" stroke="#1c1c1c" stroke-width="0.9"/>
<line x1="629.00" y1="638.50" x2="629.00" y2="655.90" stroke="#1c1c1c" stroke-width="0.9"/>
<line x1="625.60" y1="638.50" x2="632.40" y2="638.50" stroke="#1c1c1c" stroke-width="0.9"/>
<line x1="625.60" y1="655.90" x2="632.40" y2="655.90" stroke="#1c1c1c" stroke-width="0.9"/>
<line x1="666.80" y1="612.40" x2="666.80" y2="635.80" stroke="#1c1c1c" stroke-width="0.9"/>
<line x1="663.40" y1="612.40" x2="670.20" y2="612.40" stroke="#1c1c1c" stroke-width="0.9"/>
<line x1="663.40" y1="635.80" x2="670.20" y2="635.80" stroke="#1c1c1c" stroke-width="0.9"/>
<circle cx="613.40" cy="590.50" r="2.2" fill="#6A9FD9" stroke="#16324f" stroke-width="0.9"/>
<circle cx="613.40" cy="596.20" r="2.2" fill="#6A9FD9" stroke="#16324f" stroke-width="0.9"/>
<circle cx="613.40" cy="624.30" r="2.2" fill="#6A9FD9" stroke="#16324f" stroke-width="0.9"/>
<circle cx="629.00" cy="638.50" r="2.2" fill="#F4B872" stroke="#3a2a10" stroke-width="0.9"/>
<circle cx="629.00" cy="650.40" r="2.2" fill="#F4B872" stroke="#3a2a10" stroke-width="0.9"/>
<circle cx="629.00" cy="654.40" r="2.2" fill="#F4B872" stroke="#3a2a10" stroke-width="0.9"/>
<circle cx="647.20" cy="654.60" r="2.2" fill="#6A9FD9" stroke="#16324f" stroke-width="0.9"/>
<circle cx="650.70" cy="651.30" r="2.2" fill="#6A9FD9" stroke="#16324f" stroke-width="0.9"/>
<circle cx="654.90" cy="653.50" r="2.2" fill="#6A9FD9" stroke="#16324f" stroke-width="0.9"/>
<circle cx="666.80" cy="619.70" r="2.2" fill="#F4B872" stroke="#3a2a10" stroke-width="0.9"/>
<circle cx="666.80" cy="624.30" r="2.2" fill="#F4B872" stroke="#3a2a10" stroke-width="0.9"/>
<circle cx="666.80" cy="634.90" r="2.2" fill="#F4B872" stroke="#3a2a10" stroke-width="0.9"/>
<line x1="600.50" y1="570.30" x2="600.50" y2="675.80" stroke="#000" stroke-width="1.1"/>
<line x1="600.00" y1="675.30" x2="679.50" y2="675.30" stroke="#000" stroke-width="1.1"/>
<line x1="592.90" y1="675.30" x2="600.50" y2="675.30" stroke="#000" stroke-width="1.1"/>
<text x="590.50" y="679.02" font-size="10.4" text-anchor="end" font-weight="bold" fill="#000" stroke="#000">0.0</text>
<line x1="592.90" y1="640.47" x2="600.50" y2="640.47" stroke="#000" stroke-width="1.1"/>
<text x="590.50" y="644.19" font-size="10.4" text-anchor="end" font-weight="bold" fill="#000" stroke="#000">0.5</text>
<line x1="592.90" y1="605.63" x2="600.50" y2="605.63" stroke="#000" stroke-width="1.1"/>
<text x="590.50" y="609.36" font-size="10.4" text-anchor="end" font-weight="bold" fill="#000" stroke="#000">1.0</text>
<line x1="592.90" y1="570.80" x2="600.50" y2="570.80" stroke="#000" stroke-width="1.1"/>
<text x="590.50" y="574.52" font-size="10.4" text-anchor="end" font-weight="bold" fill="#000" stroke="#000">1.5</text>
<line x1="621.10" y1="675.30" x2="621.10" y2="682.30" stroke="#000" stroke-width="1.1"/>
<line x1="658.20" y1="675.30" x2="658.20" y2="682.30" stroke="#000" stroke-width="1.1"/>
<text x="620.30" y="695.86" font-size="10.5" text-anchor="middle" font-weight="bold" fill="#000" stroke="#000">control</text>
<text x="659.00" y="695.86" font-size="10.5" text-anchor="middle" font-weight="bold" fill="#000" stroke="#000">Cu-ES</text>
<text x="571.00" y="623.50" font-size="10.9" text-anchor="middle" font-weight="bold" fill="#000" stroke="#000" transform="rotate(-90 571.00 623.50)">Rel. GLI2 mRNA levels</text>
<polyline points="613.30,581.10 613.30,575.60 650.70,575.60 650.70,586.50" fill="none" stroke="#111" stroke-width="1.0"/>
<text x="631.70" y="571.70" font-size="9.5" text-anchor="middle" font-weight="normal" fill="#000" stroke="#000" style="stroke-width:0.5px">0.0015</text>
<polyline points="650.70,647.70 650.70,601.70 666.80,601.70 666.80,607.90" fill="none" stroke="#111" stroke-width="1.0"/>
<text x="658.30" y="597.50" font-size="9.5" text-anchor="middle" font-weight="normal" fill="#000" stroke="#000" style="stroke-width:0.5px">0.0249</text>
<circle cx="439.30" cy="526.80" r="2.2" fill="#6A9FD9" stroke="#16324f" stroke-width="0.9"/>
<text x="451.60" y="530.56" font-size="10.5" text-anchor="start" font-weight="bold" fill="#000" stroke="#000">PBS</text>
<circle cx="502.00" cy="526.80" r="2.2" fill="#F4B872" stroke="#3a2a10" stroke-width="0.9"/>
<text x="514.20" y="530.56" font-size="10.5" text-anchor="start" font-weight="bold" fill="#000" stroke="#000">SAG</text>
<circle cx="389.80" cy="724.50" r="2.2" fill="#6A9FD9" stroke="#16324f" stroke-width="0.9"/>
<text x="402.00" y="728.26" font-size="10.5" text-anchor="start" font-weight="bold" fill="#000" stroke="#000">PBS</text>
<circle cx="452.30" cy="724.50" r="2.2" fill="#F4B872" stroke="#3a2a10" stroke-width="0.9"/>
<text x="464.10" y="728.26" font-size="10.5" text-anchor="start" font-weight="bold" fill="#000" stroke="#000">SAG</text>
<rect x="232.50" y="813.90" width="12.20" height="70.40" fill="#6A9FD9" stroke="#1c1c1c" stroke-width="1.0"/>
<rect x="248.20" y="832.40" width="12.20" height="51.90" fill="url(#ora)" stroke="#1c1c1c" stroke-width="1.0"/>
<rect x="270.60" y="832.00" width="11.90" height="52.30" fill="#6A9FD9" stroke="#1c1c1c" stroke-width="1.0"/>
<rect x="286.30" y="818.20" width="11.90" height="66.10" fill="url(#ora)" stroke="#1c1c1c" stroke-width="1.0"/>
<line x1="254.30" y1="828.00" x2="254.30" y2="833.00" stroke="#1c1c1c" stroke-width="0.9"/>
<line x1="250.90" y1="828.00" x2="257.70" y2="828.00" stroke="#1c1c1c" stroke-width="0.9"/>
<line x1="250.90" y1="833.00" x2="257.70" y2="833.00" stroke="#1c1c1c" stroke-width="0.9"/>
<line x1="291.80" y1="812.40" x2="291.80" y2="822.20" stroke="#1c1c1c" stroke-width="0.9"/>
<line x1="288.40" y1="812.40" x2="295.20" y2="812.40" stroke="#1c1c1c" stroke-width="0.9"/>
<line x1="288.40" y1="822.20" x2="295.20" y2="822.20" stroke="#1c1c1c" stroke-width="0.9"/>
<circle cx="235.50" cy="813.90" r="2.2" fill="#6A9FD9" stroke="#16324f" stroke-width="0.9"/>
<circle cx="238.80" cy="813.90" r="2.2" fill="#6A9FD9" stroke="#16324f" stroke-width="0.9"/>
<circle cx="242.40" cy="813.90" r="2.2" fill="#6A9FD9" stroke="#16324f" stroke-width="0.9"/>
<circle cx="250.20" cy="828.60" r="2.2" fill="#F4B872" stroke="#3a2a10" stroke-width="0.9"/>
<circle cx="254.50" cy="831.60" r="2.2" fill="#F4B872" stroke="#3a2a10" stroke-width="0.9"/>
<circle cx="258.40" cy="832.40" r="2.2" fill="#F4B872" stroke="#3a2a10" stroke-width="0.9"/>
<circle cx="272.20" cy="832.50" r="2.2" fill="#6A9FD9" stroke="#16324f" stroke-width="0.9"/>
<circle cx="276.50" cy="830.60" r="2.2" fill="#6A9FD9" stroke="#16324f" stroke-width="0.9"/>
<circle cx="280.40" cy="831.60" r="2.2" fill="#6A9FD9" stroke="#16324f" stroke-width="0.9"/>
<circle cx="287.80" cy="813.30" r="2.2" fill="#F4B872" stroke="#3a2a10" stroke-width="0.9"/>
<circle cx="291.80" cy="823.10" r="2.2" fill="#F4B872" stroke="#3a2a10" stroke-width="0.9"/>
<circle cx="296.10" cy="815.90" r="2.2" fill="#F4B872" stroke="#3a2a10" stroke-width="0.9"/>
<line x1="226.70" y1="778.10" x2="226.70" y2="884.80" stroke="#000" stroke-width="1.1"/>
<line x1="226.20" y1="884.30" x2="305.50" y2="884.30" stroke="#000" stroke-width="1.1"/>
<line x1="219.10" y1="884.30" x2="226.70" y2="884.30" stroke="#000" stroke-width="1.1"/>
<text x="216.70" y="888.02" font-size="10.4" text-anchor="end" font-weight="bold" fill="#000" stroke="#000">0.0</text>
<line x1="219.10" y1="849.07" x2="226.70" y2="849.07" stroke="#000" stroke-width="1.1"/>
<text x="216.70" y="852.79" font-size="10.4" text-anchor="end" font-weight="bold" fill="#000" stroke="#000">0.5</text>
<line x1="219.10" y1="813.83" x2="226.70" y2="813.83" stroke="#000" stroke-width="1.1"/>
<text x="216.70" y="817.56" font-size="10.4" text-anchor="end" font-weight="bold" fill="#000" stroke="#000">1.0</text>
<line x1="219.10" y1="778.60" x2="226.70" y2="778.60" stroke="#000" stroke-width="1.1"/>
<text x="216.70" y="782.32" font-size="10.4" text-anchor="end" font-weight="bold" fill="#000" stroke="#000">1.5</text>
<line x1="246.30" y1="884.30" x2="246.30" y2="891.30" stroke="#000" stroke-width="1.1"/>
<line x1="283.50" y1="884.30" x2="283.50" y2="891.30" stroke="#000" stroke-width="1.1"/>
<text x="245.40" y="904.36" font-size="10.5" text-anchor="middle" font-weight="bold" fill="#000" stroke="#000">control</text>
<text x="283.90" y="904.36" font-size="10.5" text-anchor="middle" font-weight="bold" fill="#000" stroke="#000">Cu-ES</text>
<text x="193.50" y="833.10" font-size="10.9" text-anchor="middle" font-weight="bold" fill="#000" stroke="#000" transform="rotate(-90 193.50 833.10)">Rel. SMO protein levels</text>
<polyline points="238.40,801.60 238.40,756.10 276.10,756.10 276.10,767.30" fill="none" stroke="#111" stroke-width="1.0"/>
<text x="257.50" y="750.40" font-size="9.5" text-anchor="middle" font-weight="normal" fill="#000" stroke="#000" style="stroke-width:0.5px">0.0002</text>
<polyline points="276.10,818.20 276.10,788.40 291.80,788.40 291.80,800.20" fill="none" stroke="#111" stroke-width="1.0"/>
<text x="283.90" y="782.70" font-size="9.5" text-anchor="middle" font-weight="normal" fill="#000" stroke="#000" style="stroke-width:0.5px">0.0012</text>
<rect x="358.30" y="813.90" width="12.00" height="70.40" fill="#6A9FD9" stroke="#1c1c1c" stroke-width="1.0"/>
<rect x="373.60" y="823.70" width="11.80" height="60.60" fill="url(#ora)" stroke="#1c1c1c" stroke-width="1.0"/>
<rect x="396.20" y="833.90" width="11.70" height="50.40" fill="#6A9FD9" stroke="#1c1c1c" stroke-width="1.0"/>
<rect x="411.50" y="818.20" width="11.70" height="66.10" fill="url(#ora)" stroke="#1c1c1c" stroke-width="1.0"/>
<line x1="379.50" y1="822.20" x2="379.50" y2="826.50" stroke="#1c1c1c" stroke-width="0.9"/>
<line x1="376.10" y1="822.20" x2="382.90" y2="822.20" stroke="#1c1c1c" stroke-width="0.9"/>
<line x1="376.10" y1="826.50" x2="382.90" y2="826.50" stroke="#1c1c1c" stroke-width="0.9"/>
<line x1="401.50" y1="828.60" x2="401.50" y2="835.90" stroke="#1c1c1c" stroke-width="0.9"/>
<line x1="398.10" y1="828.60" x2="404.90" y2="828.60" stroke="#1c1c1c" stroke-width="0.9"/>
<line x1="398.10" y1="835.90" x2="404.90" y2="835.90" stroke="#1c1c1c" stroke-width="0.9"/>
<line x1="417.20" y1="809.40" x2="417.20" y2="827.10" stroke="#1c1c1c" stroke-width="0.9"/>
<line x1="413.80" y1="809.40" x2="420.60" y2="809.40" stroke="#1c1c1c" stroke-width="0.9"/>
<line x1="413.80" y1="827.10" x2="420.60" y2="827.10" stroke="#1c1c1c" stroke-width="0.9"/>
<circle cx="360.90" cy="813.90" r="2.2" fill="#6A9FD9" stroke="#16324f" stroke-width="0.9"/>
<circle cx="364.40" cy="813.90" r="2.2" fill="#6A9FD9" stroke="#16324f" stroke-width="0.9"/>
<circle cx="367.70" cy="813.90" r="2.2" fill="#6A9FD9" stroke="#16324f" stroke-width="0.9"/>
<circle cx="376.00" cy="823.70" r="2.2" fill="#F4B872" stroke="#3a2a10" stroke-width="0.9"/>
<circle cx="379.50" cy="828.00" r="2.2" fill="#F4B872" stroke="#3a2a10" stroke-width="0.9"/>
<circle cx="383.40" cy="823.70" r="2.2" fill="#F4B872" stroke="#3a2a10" stroke-width="0.9"/>
<circle cx="398.10" cy="833.90" r="2.2" fill="#6A9FD9" stroke="#16324f" stroke-width="0.9"/>
<circle cx="401.50" cy="828.60" r="2.2" fill="#6A9FD9" stroke="#16324f" stroke-width="0.9"/>
<circle cx="405.60" cy="834.50" r="2.2" fill="#6A9FD9" stroke="#16324f" stroke-width="0.9"/>
<circle cx="417.20" cy="810.00" r="2.2" fill="#F4B872" stroke="#3a2a10" stroke-width="0.9"/>
<circle cx="417.20" cy="816.30" r="2.2" fill="#F4B872" stroke="#3a2a10" stroke-width="0.9"/>
<circle cx="417.20" cy="826.50" r="2.2" fill="#F4B872" stroke="#3a2a10" stroke-width="0.9"/>
<line x1="351.70" y1="778.10" x2="351.70" y2="884.80" stroke="#000" stroke-width="1.1"/>
<line x1="351.20" y1="884.30" x2="430.50" y2="884.30" stroke="#000" stroke-width="1.1"/>
<line x1="344.10" y1="884.30" x2="351.70" y2="884.30" stroke="#000" stroke-width="1.1"/>
<text x="341.70" y="888.02" font-size="10.4" text-anchor="end" font-weight="bold" fill="#000" stroke="#000">0.0</text>
<line x1="344.10" y1="849.07" x2="351.70" y2="849.07" stroke="#000" stroke-width="1.1"/>
<text x="341.70" y="852.79" font-size="10.4" text-anchor="end" font-weight="bold" fill="#000" stroke="#000">0.5</text>
<line x1="344.10" y1="813.83" x2="351.70" y2="813.83" stroke="#000" stroke-width="1.1"/>
<text x="341.70" y="817.56" font-size="10.4" text-anchor="end" font-weight="bold" fill="#000" stroke="#000">1.0</text>
<line x1="344.10" y1="778.60" x2="351.70" y2="778.60" stroke="#000" stroke-width="1.1"/>
<text x="341.70" y="782.32" font-size="10.4" text-anchor="end" font-weight="bold" fill="#000" stroke="#000">1.5</text>
<line x1="371.30" y1="884.30" x2="371.30" y2="891.30" stroke="#000" stroke-width="1.1"/>
<line x1="408.90" y1="884.30" x2="408.90" y2="891.30" stroke="#000" stroke-width="1.1"/>
<text x="370.80" y="904.36" font-size="10.5" text-anchor="middle" font-weight="bold" fill="#000" stroke="#000">control</text>
<text x="409.30" y="904.36" font-size="10.5" text-anchor="middle" font-weight="bold" fill="#000" stroke="#000">Cu-ES</text>
<text x="318.90" y="833.10" font-size="10.9" text-anchor="middle" font-weight="bold" fill="#000" stroke="#000" transform="rotate(-90 318.90 833.10)">Rel. DLAT protein levels</text>
<polyline points="364.40,801.60 364.40,753.10 401.50,753.10 401.50,764.30" fill="none" stroke="#111" stroke-width="1.0"/>
<text x="382.50" y="746.80" font-size="9.5" text-anchor="middle" font-weight="normal" fill="#000" stroke="#000" style="stroke-width:0.5px">0.0037</text>
<polyline points="401.50,817.30 401.50,785.50 417.20,785.50 417.20,796.70" fill="none" stroke="#111" stroke-width="1.0"/>
<text x="408.90" y="779.20" font-size="9.5" text-anchor="middle" font-weight="normal" fill="#000" stroke="#000" style="stroke-width:0.5px">0.0133</text>
<rect x="484.30" y="813.90" width="12.40" height="70.40" fill="#6A9FD9" stroke="#1c1c1c" stroke-width="1.0"/>
<rect x="500.00" y="810.40" width="12.00" height="73.90" fill="url(#ora)" stroke="#1c1c1c" stroke-width="1.0"/>
<rect x="522.20" y="841.20" width="11.70" height="43.10" fill="#6A9FD9" stroke="#1c1c1c" stroke-width="1.0"/>
<rect x="537.50" y="842.20" width="12.10" height="42.10" fill="url(#ora)" stroke="#1c1c1c" stroke-width="1.0"/>
<line x1="506.00" y1="808.40" x2="506.00" y2="812.40" stroke="#1c1c1c" stroke-width="0.9"/>
<line x1="502.60" y1="808.40" x2="509.40" y2="808.40" stroke="#1c1c1c" stroke-width="0.9"/>
<line x1="502.60" y1="812.40" x2="509.40" y2="812.40" stroke="#1c1c1c" stroke-width="0.9"/>
<line x1="528.00" y1="831.00" x2="528.00" y2="851.20" stroke="#1c1c1c" stroke-width="0.9"/>
<line x1="524.60" y1="831.00" x2="531.40" y2="831.00" stroke="#1c1c1c" stroke-width="0.9"/>
<line x1="524.60" y1="851.20" x2="531.40" y2="851.20" stroke="#1c1c1c" stroke-width="0.9"/>
<line x1="543.30" y1="829.60" x2="543.30" y2="853.50" stroke="#1c1c1c" stroke-width="0.9"/>
<line x1="539.90" y1="829.60" x2="546.70" y2="829.60" stroke="#1c1c1c" stroke-width="0.9"/>
<line x1="539.90" y1="853.50" x2="546.70" y2="853.50" stroke="#1c1c1c" stroke-width="0.9"/>
<circle cx="486.90" cy="813.90" r="2.2" fill="#6A9FD9" stroke="#16324f" stroke-width="0.9"/>
<circle cx="490.40" cy="813.90" r="2.2" fill="#6A9FD9" stroke="#16324f" stroke-width="0.9"/>
<circle cx="494.10" cy="813.90" r="2.2" fill="#6A9FD9" stroke="#16324f" stroke-width="0.9"/>
<circle cx="501.80" cy="809.40" r="2.2" fill="#F4B872" stroke="#3a2a10" stroke-width="0.9"/>
<circle cx="505.50" cy="810.80" r="2.2" fill="#F4B872" stroke="#3a2a10" stroke-width="0.9"/>
<circle cx="510.00" cy="809.60" r="2.2" fill="#F4B872" stroke="#3a2a10" stroke-width="0.9"/>
<circle cx="528.00" cy="831.00" r="2.2" fill="#6A9FD9" stroke="#16324f" stroke-width="0.9"/>
<circle cx="528.00" cy="841.40" r="2.2" fill="#6A9FD9" stroke="#16324f" stroke-width="0.9"/>
<circle cx="528.00" cy="850.60" r="2.2" fill="#6A9FD9" stroke="#16324f" stroke-width="0.9"/>
<circle cx="543.30" cy="829.60" r="2.2" fill="#F4B872" stroke="#3a2a10" stroke-width="0.9"/>
<circle cx="543.30" cy="843.30" r="2.2" fill="#F4B872" stroke="#3a2a10" stroke-width="0.9"/>
<circle cx="543.30" cy="852.50" r="2.2" fill="#F4B872" stroke="#3a2a10" stroke-width="0.9"/>
<line x1="478.00" y1="778.10" x2="478.00" y2="884.80" stroke="#000" stroke-width="1.1"/>
<line x1="477.50" y1="884.30" x2="556.50" y2="884.30" stroke="#000" stroke-width="1.1"/>
<line x1="470.40" y1="884.30" x2="478.00" y2="884.30" stroke="#000" stroke-width="1.1"/>
<text x="468.00" y="888.02" font-size="10.4" text-anchor="end" font-weight="bold" fill="#000" stroke="#000">0.0</text>
<line x1="470.40" y1="849.07" x2="478.00" y2="849.07" stroke="#000" stroke-width="1.1"/>
<text x="468.00" y="852.79" font-size="10.4" text-anchor="end" font-weight="bold" fill="#000" stroke="#000">0.5</text>
<line x1="470.40" y1="813.83" x2="478.00" y2="813.83" stroke="#000" stroke-width="1.1"/>
<text x="468.00" y="817.56" font-size="10.4" text-anchor="end" font-weight="bold" fill="#000" stroke="#000">1.0</text>
<line x1="470.40" y1="778.60" x2="478.00" y2="778.60" stroke="#000" stroke-width="1.1"/>
<text x="468.00" y="782.32" font-size="10.4" text-anchor="end" font-weight="bold" fill="#000" stroke="#000">1.5</text>
<line x1="497.60" y1="884.30" x2="497.60" y2="891.30" stroke="#000" stroke-width="1.1"/>
<line x1="535.30" y1="884.30" x2="535.30" y2="891.30" stroke="#000" stroke-width="1.1"/>
<text x="497.20" y="904.36" font-size="10.5" text-anchor="middle" font-weight="bold" fill="#000" stroke="#000">control</text>
<text x="535.70" y="904.36" font-size="10.5" text-anchor="middle" font-weight="bold" fill="#000" stroke="#000">Cu-ES</text>
<text x="443.90" y="833.10" font-size="10.9" text-anchor="middle" font-weight="bold" fill="#000" stroke="#000" transform="rotate(-90 443.90 833.10)">Rel. LIAS protein levels</text>
<polyline points="490.40,801.60 490.40,752.90 527.60,752.90 527.60,764.30" fill="none" stroke="#111" stroke-width="1.0"/>
<text x="508.80" y="746.40" font-size="9.5" text-anchor="middle" font-weight="normal" fill="#000" stroke="#000" style="stroke-width:0.5px">0.0056</text>
<polyline points="527.60,818.20 527.60,785.50 543.30,785.50 543.30,818.20" fill="none" stroke="#111" stroke-width="1.0"/>
<text x="535.30" y="779.20" font-size="9.5" text-anchor="middle" font-weight="normal" fill="#000" stroke="#000" style="stroke-width:0.5px">0.9928</text>
<rect x="610.50" y="813.90" width="12.10" height="70.40" fill="#6A9FD9" stroke="#1c1c1c" stroke-width="1.0"/>
<rect x="626.20" y="821.20" width="12.10" height="63.10" fill="url(#ora)" stroke="#1c1c1c" stroke-width="1.0"/>
<rect x="648.50" y="849.00" width="11.80" height="35.30" fill="#6A9FD9" stroke="#1c1c1c" stroke-width="1.0"/>
<rect x="663.80" y="854.50" width="12.20" height="29.80" fill="url(#ora)" stroke="#1c1c1c" stroke-width="1.0"/>
<line x1="632.10" y1="815.70" x2="632.10" y2="823.10" stroke="#1c1c1c" stroke-width="0.9"/>
<line x1="628.70" y1="815.70" x2="635.50" y2="815.70" stroke="#1c1c1c" stroke-width="0.9"/>
<line x1="628.70" y1="823.10" x2="635.50" y2="823.10" stroke="#1c1c1c" stroke-width="0.9"/>
<line x1="654.00" y1="846.70" x2="654.00" y2="852.50" stroke="#1c1c1c" stroke-width="0.9"/>
<line x1="650.60" y1="846.70" x2="657.40" y2="846.70" stroke="#1c1c1c" stroke-width="0.9"/>
<line x1="650.60" y1="852.50" x2="657.40" y2="852.50" stroke="#1c1c1c" stroke-width="0.9"/>
<circle cx="613.20" cy="813.90" r="2.2" fill="#6A9FD9" stroke="#16324f" stroke-width="0.9"/>
<circle cx="616.80" cy="813.90" r="2.2" fill="#6A9FD9" stroke="#16324f" stroke-width="0.9"/>
<circle cx="620.30" cy="813.90" r="2.2" fill="#6A9FD9" stroke="#16324f" stroke-width="0.9"/>
<circle cx="632.10" cy="815.70" r="2.2" fill="#F4B872" stroke="#3a2a10" stroke-width="0.9"/>
<circle cx="628.50" cy="821.60" r="2.2" fill="#F4B872" stroke="#3a2a10" stroke-width="0.9"/>
<circle cx="635.80" cy="821.60" r="2.2" fill="#F4B872" stroke="#3a2a10" stroke-width="0.9"/>
<circle cx="650.10" cy="847.10" r="2.2" fill="#6A9FD9" stroke="#16324f" stroke-width="0.9"/>
<circle cx="654.00" cy="853.10" r="2.2" fill="#6A9FD9" stroke="#16324f" stroke-width="0.9"/>
<circle cx="658.30" cy="849.00" r="2.2" fill="#6A9FD9" stroke="#16324f" stroke-width="0.9"/>
<circle cx="665.80" cy="855.50" r="2.2" fill="#F4B872" stroke="#3a2a10" stroke-width="0.9"/>
<circle cx="669.70" cy="854.10" r="2.2" fill="#F4B872" stroke="#3a2a10" stroke-width="0.9"/>
<circle cx="674.00" cy="853.90" r="2.2" fill="#F4B872" stroke="#3a2a10" stroke-width="0.9"/>
<line x1="604.00" y1="778.10" x2="604.00" y2="884.80" stroke="#000" stroke-width="1.1"/>
<line x1="603.50" y1="884.30" x2="683.40" y2="884.30" stroke="#000" stroke-width="1.1"/>
<line x1="596.40" y1="884.30" x2="604.00" y2="884.30" stroke="#000" stroke-width="1.1"/>
<text x="594.00" y="888.02" font-size="10.4" text-anchor="end" font-weight="bold" fill="#000" stroke="#000">0.0</text>
<line x1="596.40" y1="849.07" x2="604.00" y2="849.07" stroke="#000" stroke-width="1.1"/>
<text x="594.00" y="852.79" font-size="10.4" text-anchor="end" font-weight="bold" fill="#000" stroke="#000">0.5</text>
<line x1="596.40" y1="813.83" x2="604.00" y2="813.83" stroke="#000" stroke-width="1.1"/>
<text x="594.00" y="817.56" font-size="10.4" text-anchor="end" font-weight="bold" fill="#000" stroke="#000">1.0</text>
<line x1="596.40" y1="778.60" x2="604.00" y2="778.60" stroke="#000" stroke-width="1.1"/>
<text x="594.00" y="782.32" font-size="10.4" text-anchor="end" font-weight="bold" fill="#000" stroke="#000">1.5</text>
<line x1="624.00" y1="884.30" x2="624.00" y2="891.30" stroke="#000" stroke-width="1.1"/>
<line x1="661.50" y1="884.30" x2="661.50" y2="891.30" stroke="#000" stroke-width="1.1"/>
<text x="623.30" y="904.36" font-size="10.5" text-anchor="middle" font-weight="bold" fill="#000" stroke="#000">control</text>
<text x="662.20" y="904.36" font-size="10.5" text-anchor="middle" font-weight="bold" fill="#000" stroke="#000">Cu-ES</text>
<text x="570.50" y="833.10" font-size="10.9" text-anchor="middle" font-weight="bold" fill="#000" stroke="#000" transform="rotate(-90 570.50 833.10)">Rel. FDX1 protein levels</text>
<polyline points="616.40,801.60 616.40,758.80 654.00,758.80 654.00,769.20" fill="none" stroke="#111" stroke-width="1.0"/>
<text x="634.40" y="751.70" font-size="9.5" text-anchor="middle" font-weight="normal" fill="#000" stroke="#000" style="stroke-width:0.5px">&lt; 0.0001</text>
<polyline points="654.00,833.90 654.00,791.20 669.70,791.20 669.70,845.70" fill="none" stroke="#111" stroke-width="1.0"/>
<text x="661.50" y="784.50" font-size="9.5" text-anchor="middle" font-weight="normal" fill="#000" stroke="#000" style="stroke-width:0.5px">0.0844</text>
<text x="54.80" y="737.40" font-size="10.9" text-anchor="end" font-weight="bold" fill="#000" stroke="#000">CuCl<tspan font-size="6.5" dy="2">2</tspan><tspan dy="-2"> (µM)</tspan></text>
<text x="54.80" y="754.40" font-size="10.9" text-anchor="end" font-weight="bold" fill="#000" stroke="#000">ES (nM)</text>
<text x="55.90" y="771.00" font-size="10.9" text-anchor="end" font-weight="bold" fill="#000" stroke="#000">SAG (µM)</text>
<text x="62.70" y="737.20" font-size="10.9" text-anchor="middle" font-weight="bold" fill="#000" stroke="#000">-</text>
<text x="88.30" y="737.20" font-size="10.9" text-anchor="middle" font-weight="bold" fill="#000" stroke="#000">-</text>
<text x="113.40" y="737.40" font-size="10.9" text-anchor="middle" font-weight="bold" fill="#000" stroke="#000">150</text>
<text x="139.60" y="737.40" font-size="10.9" text-anchor="middle" font-weight="bold" fill="#000" stroke="#000">150</text>
<text x="62.70" y="754.20" font-size="10.9" text-anchor="middle" font-weight="bold" fill="#000" stroke="#000">-</text>
<text x="88.30" y="754.20" font-size="10.9" text-anchor="middle" font-weight="bold" fill="#000" stroke="#000">-</text>
<text x="113.40" y="754.40" font-size="10.9" text-anchor="middle" font-weight="bold" fill="#000" stroke="#000">40</text>
<text x="139.60" y="754.40" font-size="10.9" text-anchor="middle" font-weight="bold" fill="#000" stroke="#000">40</text>
<text x="62.70" y="770.80" font-size="10.9" text-anchor="middle" font-weight="bold" fill="#000" stroke="#000">-</text>
<text x="88.30" y="771.00" font-size="10.9" text-anchor="middle" font-weight="bold" fill="#000" stroke="#000">2.5</text>
<text x="113.40" y="771.00" font-size="10.9" text-anchor="middle" font-weight="bold" fill="#000" stroke="#000">0</text>
<text x="139.60" y="771.00" font-size="10.9" text-anchor="middle" font-weight="bold" fill="#000" stroke="#000">2.5</text>
<text x="162.50" y="771.00" font-size="10.9" text-anchor="middle" font-weight="bold" fill="#000" stroke="#000">kDa</text>
<defs><filter id="bl" x="-10%" y="-60%" width="120%" height="220%"><feGaussianBlur stdDeviation="0.8 0.55"/></filter><linearGradient id="bg" x1="0" y1="0" x2="0" y2="1"><stop offset="0" stop-color="#ECECEC"/><stop offset="0.5" stop-color="#F6F6F6"/><stop offset="1" stop-color="#EFEFEF"/></linearGradient></defs>
<rect x="47.10" y="785.20" width="105.60" height="17.10" fill="url(#bg)" stroke="#2a2a2a" stroke-width="0.9"/>
<text x="26.00" y="797.32" font-size="10.8" text-anchor="middle" font-weight="bold" fill="#000" stroke="#000">SMO</text>
<text x="166.00" y="797.32" font-size="10.8" text-anchor="middle" font-weight="bold" fill="#000" stroke="#000">80</text>
<rect x="47.10" y="811.20" width="105.60" height="17.10" fill="url(#bg)" stroke="#2a2a2a" stroke-width="0.9"/>
<text x="26.00" y="823.32" font-size="10.8" text-anchor="middle" font-weight="bold" fill="#000" stroke="#000">DLAT</text>
<text x="166.00" y="823.32" font-size="10.8" text-anchor="middle" font-weight="bold" fill="#000" stroke="#000">70</text>
<rect x="47.10" y="836.90" width="105.60" height="18.00" fill="url(#bg)" stroke="#2a2a2a" stroke-width="0.9"/>
<text x="26.00" y="849.47" font-size="10.8" text-anchor="middle" font-weight="bold" fill="#000" stroke="#000">LIAS</text>
<text x="166.00" y="849.47" font-size="10.8" text-anchor="middle" font-weight="bold" fill="#000" stroke="#000">40</text>
<rect x="47.10" y="863.20" width="105.60" height="17.40" fill="url(#bg)" stroke="#2a2a2a" stroke-width="0.9"/>
<text x="26.00" y="875.47" font-size="10.8" text-anchor="middle" font-weight="bold" fill="#000" stroke="#000">FDX1</text>
<text x="166.00" y="875.47" font-size="10.8" text-anchor="middle" font-weight="bold" fill="#000" stroke="#000">13</text>
<rect x="47.10" y="889.50" width="105.60" height="17.50" fill="url(#bg)" stroke="#2a2a2a" stroke-width="0.9"/>
<text x="26.00" y="901.82" font-size="10.8" text-anchor="middle" font-weight="bold" fill="#000" stroke="#000">β-Actin</text>
<text x="166.00" y="901.82" font-size="10.8" text-anchor="middle" font-weight="bold" fill="#000" stroke="#000">42</text>
<path d="M50.6 793.70C51.9 791.20 55.1 791.20 57.3 791.20L66.3 791.20C68.5 791.20 71.7 791.20 73.0 793.70C71.7 796.20 68.5 796.20 66.3 796.20L57.3 796.20C55.1 796.20 51.9 796.20 50.6 793.70Z" fill="#050505" opacity="1" filter="url(#bl)"/>
<path d="M77.0 793.10C78.2 791.70 81.2 791.70 83.2 791.70L91.6 791.70C93.6 791.70 96.6 791.70 97.8 793.10C96.6 794.50 93.6 794.50 91.6 794.50L83.2 794.50C81.2 794.50 78.2 794.50 77.0 793.10Z" fill="#050505" opacity="0.9" filter="url(#bl)"/>
<path d="M102.4 793.10C103.6 791.80 106.6 791.80 108.6 791.80L117.0 791.80C119.0 791.80 122.0 791.80 123.2 793.10C122.0 794.40 119.0 794.40 117.0 794.40L108.6 794.40C106.6 794.40 103.6 794.40 102.4 793.10Z" fill="#050505" opacity="0.85" filter="url(#bl)"/>
<path d="M128.0 794.00C129.3 792.20 132.3 792.20 134.4 792.20L143.1 792.20C145.2 792.20 148.2 792.20 149.5 794.00C148.2 795.80 145.2 795.80 143.1 795.80L134.4 795.80C132.3 795.80 129.3 795.80 128.0 794.00Z" fill="#050505" opacity="0.95" filter="url(#bl)"/>
<path d="M49.0 787.30C55.1 786.70 69.4 786.70 79.6 786.70L120.4 786.70C130.6 786.70 144.9 786.70 151.0 787.30C144.9 787.90 130.6 787.90 120.4 787.90L79.6 787.90C69.4 787.90 55.1 787.90 49.0 787.30Z" fill="#050505" opacity="0.1" filter="url(#bl)"/>
<path d="M47.2 787.30C47.4 786.50 47.7 786.50 48.0 786.50L49.0 786.50C49.2 786.50 49.6 786.50 49.7 787.30C49.6 788.10 49.2 788.10 49.0 788.10L48.0 788.10C47.7 788.10 47.4 788.10 47.2 787.30Z" fill="#050505" opacity="0.35" filter="url(#bl)"/>
<path d="M73.5 787.30C73.7 786.50 74.0 786.50 74.2 786.50L75.2 786.50C75.5 786.50 75.8 786.50 76.0 787.30C75.8 788.10 75.5 788.10 75.2 788.10L74.2 788.10C74.0 788.10 73.7 788.10 73.5 787.30Z" fill="#050505" opacity="0.35" filter="url(#bl)"/>
<path d="M99.5 787.30C99.7 786.50 100.0 786.50 100.2 786.50L101.2 786.50C101.5 786.50 101.8 786.50 102.0 787.30C101.8 788.10 101.5 788.10 101.2 788.10L100.2 788.10C100.0 788.10 99.7 788.10 99.5 787.30Z" fill="#050505" opacity="0.35" filter="url(#bl)"/>
<path d="M124.5 787.40C124.7 786.10 125.3 786.10 125.7 786.10L127.3 786.10C127.7 786.10 128.3 786.10 128.5 787.40C128.3 788.70 127.7 788.70 127.3 788.70L125.7 788.70C125.3 788.70 124.7 788.70 124.5 787.40Z" fill="#050505" opacity="0.6" filter="url(#bl)"/>
<path d="M149.3 794.2 C150.8 793 150.6 789 150.6 786.5" stroke="#111" stroke-width="1.6" fill="none" opacity="0.8" filter="url(#bl)"/>
<path d="M50.6 819.80C51.9 817.85 55.1 817.85 57.3 817.85L66.3 817.85C68.5 817.85 71.7 817.85 73.0 819.80C71.7 821.75 68.5 821.75 66.3 821.75L57.3 821.75C55.1 821.75 51.9 821.75 50.6 819.80Z" fill="#050505" opacity="1" filter="url(#bl)"/>
<path d="M77.0 819.80C78.2 817.85 81.2 817.85 83.2 817.85L91.6 817.85C93.6 817.85 96.6 817.85 97.8 819.80C96.6 821.75 93.6 821.75 91.6 821.75L83.2 821.75C81.2 821.75 78.2 821.75 77.0 819.80Z" fill="#050505" opacity="1" filter="url(#bl)"/>
<path d="M102.4 819.80C103.6 817.85 106.6 817.85 108.6 817.85L117.0 817.85C119.0 817.85 122.0 817.85 123.2 819.80C122.0 821.75 119.0 821.75 117.0 821.75L108.6 821.75C106.6 821.75 103.6 821.75 102.4 819.80Z" fill="#050505" opacity="1" filter="url(#bl)"/>
<path d="M128.0 819.80C129.3 817.85 132.3 817.85 134.4 817.85L143.1 817.85C145.2 817.85 148.2 817.85 149.5 819.80C148.2 821.75 145.2 821.75 143.1 821.75L134.4 821.75C132.3 821.75 129.3 821.75 128.0 819.80Z" fill="#050505" opacity="1" filter="url(#bl)"/>
<path d="M51.8 845.60C53.1 842.90 56.0 842.90 58.2 842.90L66.6 842.90C68.8 842.90 71.7 842.90 73.0 845.60C71.7 848.30 68.8 848.30 66.6 848.30L58.2 848.30C56.0 848.30 53.1 848.30 51.8 845.60Z" fill="#050505" opacity="1" filter="url(#bl)"/>
<path d="M78.2 845.10C79.4 842.20 82.1 842.20 84.1 842.20L91.9 842.20C93.9 842.20 96.6 842.20 97.8 845.10C96.6 848.00 93.9 848.00 91.9 848.00L84.1 848.00C82.1 848.00 79.4 848.00 78.2 845.10Z" fill="#050505" opacity="1" filter="url(#bl)"/>
<path d="M103.6 845.60C104.8 844.10 107.5 844.10 109.5 844.10L117.3 844.10C119.3 844.10 122.0 844.10 123.2 845.60C122.0 847.10 119.3 847.10 117.3 847.10L109.5 847.10C107.5 847.10 104.8 847.10 103.6 845.60Z" fill="#050505" opacity="0.85" filter="url(#bl)"/>
<path d="M129.2 845.60C130.4 844.10 133.3 844.10 135.3 844.10L143.4 844.10C145.4 844.10 148.3 844.10 149.5 845.60C148.3 847.10 145.4 847.10 143.4 847.10L135.3 847.10C133.3 847.10 130.4 847.10 129.2 845.60Z" fill="#050505" opacity="0.85" filter="url(#bl)"/>
<path d="M52.6 851.60C53.8 850.50 56.5 850.50 58.4 850.50L66.2 850.50C68.1 850.50 70.8 850.50 72.0 851.60C70.8 852.70 68.1 852.70 66.2 852.70L58.4 852.70C56.5 852.70 53.8 852.70 52.6 851.60Z" fill="#050505" opacity="0.38" filter="url(#bl)"/>
<path d="M79.0 851.60C80.1 850.50 82.6 850.50 84.3 850.50L91.5 850.50C93.2 850.50 95.7 850.50 96.8 851.60C95.7 852.70 93.2 852.70 91.5 852.70L84.3 852.70C82.6 852.70 80.1 852.70 79.0 851.60Z" fill="#050505" opacity="0.4" filter="url(#bl)"/>
<path d="M104.4 851.60C105.5 850.50 108.0 850.50 109.7 850.50L116.9 850.50C118.6 850.50 121.1 850.50 122.2 851.60C121.1 852.70 118.6 852.70 116.9 852.70L109.7 852.70C108.0 852.70 105.5 852.70 104.4 851.60Z" fill="#050505" opacity="0.16" filter="url(#bl)"/>
<path d="M130.0 851.60C131.1 850.50 133.7 850.50 135.6 850.50L142.9 850.50C144.8 850.50 147.4 850.50 148.5 851.60C147.4 852.70 144.8 852.70 142.9 852.70L135.6 852.70C133.7 852.70 131.1 852.70 130.0 851.60Z" fill="#050505" opacity="0.16" filter="url(#bl)"/>
<path d="M50.6 872.20C51.9 870.00 55.1 870.00 57.3 870.00L66.3 870.00C68.5 870.00 71.7 870.00 73.0 872.20C71.7 874.40 68.5 874.40 66.3 874.40L57.3 874.40C55.1 874.40 51.9 874.40 50.6 872.20Z" fill="#050505" opacity="1" filter="url(#bl)"/>
<path d="M77.0 872.20C78.2 869.50 81.2 869.50 83.2 869.50L91.6 869.50C93.6 869.50 96.6 869.50 97.8 872.20C96.6 874.90 93.6 874.90 91.6 874.90L83.2 874.90C81.2 874.90 78.2 874.90 77.0 872.20Z" fill="#050505" opacity="1" filter="url(#bl)"/>
<path d="M102.4 872.20C103.6 870.85 106.6 870.85 108.6 870.85L117.0 870.85C119.0 870.85 122.0 870.85 123.2 872.20C122.0 873.55 119.0 873.55 117.0 873.55L108.6 873.55C106.6 873.55 103.6 873.55 102.4 872.20Z" fill="#050505" opacity="0.8" filter="url(#bl)"/>
<path d="M128.0 872.20C129.3 870.85 132.3 870.85 134.4 870.85L143.1 870.85C145.2 870.85 148.2 870.85 149.5 872.20C148.2 873.55 145.2 873.55 143.1 873.55L134.4 873.55C132.3 873.55 129.3 873.55 128.0 872.20Z" fill="#050505" opacity="0.8" filter="url(#bl)"/>
<path d="M51.6 866.10C52.8 865.00 55.7 865.00 57.7 865.00L65.9 865.00C67.9 865.00 70.8 865.00 72.0 866.10C70.8 867.20 67.9 867.20 65.9 867.20L57.7 867.20C55.7 867.20 52.8 867.20 51.6 866.10Z" fill="#050505" opacity="0.4" filter="url(#bl)"/>
<path d="M78.0 866.10C79.1 865.00 81.8 865.00 83.6 865.00L91.2 865.00C93.0 865.00 95.7 865.00 96.8 866.10C95.7 867.20 93.0 867.20 91.2 867.20L83.6 867.20C81.8 867.20 79.1 867.20 78.0 866.10Z" fill="#050505" opacity="0.45" filter="url(#bl)"/>
<path d="M103.4 866.10C104.5 865.00 107.2 865.00 109.0 865.00L116.6 865.00C118.4 865.00 121.1 865.00 122.2 866.10C121.1 867.20 118.4 867.20 116.6 867.20L109.0 867.20C107.2 867.20 104.5 867.20 103.4 866.10Z" fill="#050505" opacity="0.14" filter="url(#bl)"/>
<path d="M129.0 866.10C130.2 865.00 132.9 865.00 134.8 865.00L142.7 865.00C144.6 865.00 147.3 865.00 148.5 866.10C147.3 867.20 144.6 867.20 142.7 867.20L134.8 867.20C132.9 867.20 130.2 867.20 129.0 866.10Z" fill="#050505" opacity="0.14" filter="url(#bl)"/>
<path d="M50.6 897.70C51.9 895.70 55.1 895.70 57.3 895.70L66.3 895.70C68.5 895.70 71.7 895.70 73.0 897.70C71.7 899.70 68.5 899.70 66.3 899.70L57.3 899.70C55.1 899.70 51.9 899.70 50.6 897.70Z" fill="#050505" opacity="1" filter="url(#bl)"/>
<path d="M77.0 897.70C78.2 895.70 81.2 895.70 83.2 895.70L91.6 895.70C93.6 895.70 96.6 895.70 97.8 897.70C96.6 899.70 93.6 899.70 91.6 899.70L83.2 899.70C81.2 899.70 78.2 899.70 77.0 897.70Z" fill="#050505" opacity="1" filter="url(#bl)"/>
<path d="M102.4 897.70C103.6 895.70 106.6 895.70 108.6 895.70L117.0 895.70C119.0 895.70 122.0 895.70 123.2 897.70C122.0 899.70 119.0 899.70 117.0 899.70L108.6 899.70C106.6 899.70 103.6 899.70 102.4 897.70Z" fill="#050505" opacity="1" filter="url(#bl)"/>
<path d="M128.0 897.70C129.3 895.70 132.3 895.70 134.4 895.70L143.1 895.70C145.2 895.70 148.2 895.70 149.5 897.70C148.2 899.70 145.2 899.70 143.1 899.70L134.4 899.70C132.3 899.70 129.3 899.70 128.0 897.70Z" fill="#050505" opacity="1" filter="url(#bl)"/>
</svg>
</body></html>
